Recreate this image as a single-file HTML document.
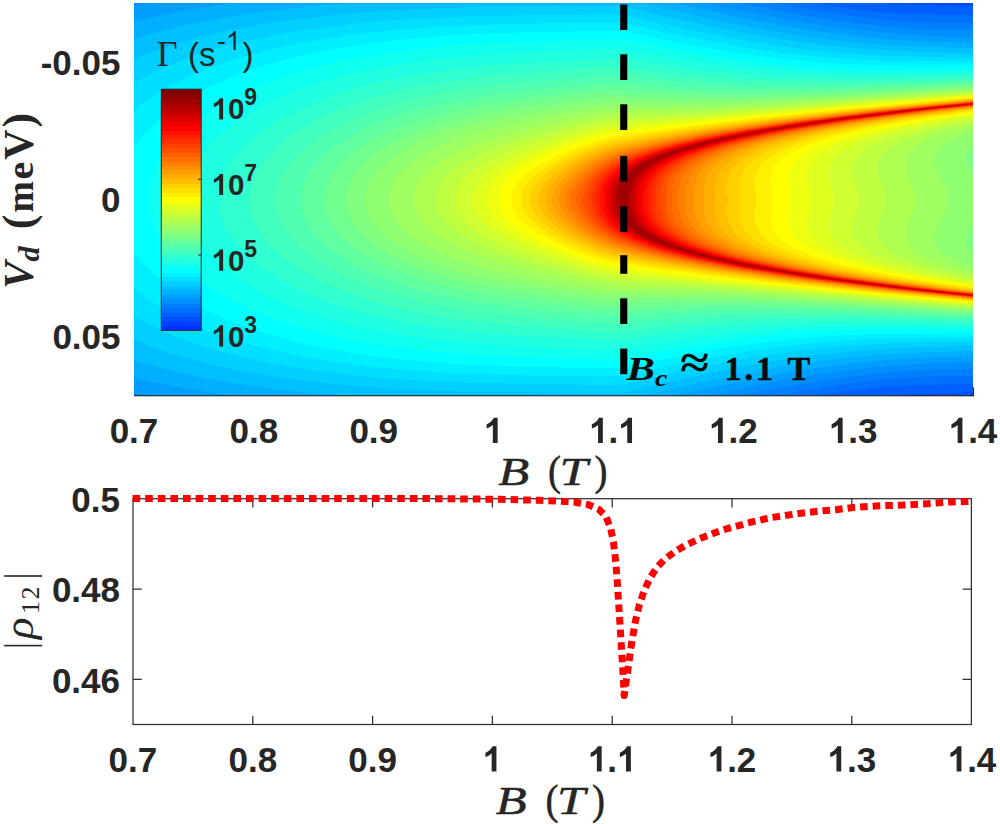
<!DOCTYPE html>
<html>
<head>
<meta charset="utf-8">
<title>Relaxation rate vs B and Vd</title>
<style>
html,body{margin:0;padding:0;background:#fff;}
body{width:1000px;height:824px;position:relative;overflow:hidden;font-family:"Liberation Sans",sans-serif;}
#hm{position:absolute;left:134px;top:2.7px;width:839.3px;height:392.9px;display:flex;overflow:hidden;}
#hm i{display:block;flex:0 0 2px;height:100%;}
svg{position:absolute;left:0;top:0;}
.t{font-family:"Liberation Sans",sans-serif;font-weight:bold;font-size:35px;fill:#262626;}
.cb{font-family:"Liberation Sans",sans-serif;font-weight:bold;font-size:29.5px;fill:#262626;}
.cbs{font-family:"Liberation Sans",sans-serif;font-weight:bold;font-size:23px;fill:#262626;}
.g{font-family:"Liberation Sans",sans-serif;font-size:33px;fill:#262626;}
.ser{font-family:"Liberation Serif",serif;fill:#262626;}
</style>
</head>
<body>
<div id="hm">
<i style="background:linear-gradient(#008fff 0 0.8%,#009fff 0.9% 4.6%,#00afff 4.6% 9.1%,#00bfff 9.1% 14.3%,#00cfff 14.3% 20.2%,#00dfff 20.2% 27.2%,#00efff 27.3% 36.5%,#00ffff 36.5% 63.5%,#00efff 63.5% 72.8%,#00dfff 72.8% 79.8%,#00cfff 79.8% 85.7%,#00bfff 85.8% 90.9%,#00afff 90.9% 95.4%,#009fff 95.5% 99.1%,#008fff 99.2% 100%)"></i>
<i style="background:linear-gradient(#008fff 0 0.7%,#009fff 0.8% 4.4%,#00afff 4.5% 8.9%,#00bfff 9% 14%,#00cfff 14.1% 19.9%,#00dfff 20% 26.8%,#00efff 26.9% 35.8%,#00ffff 35.8% 64.2%,#00efff 64.3% 73.2%,#00dfff 73.2% 80.1%,#00cfff 80.1% 85.9%,#00bfff 86% 91%,#00afff 91.1% 95.5%,#009fff 95.6% 99.2%,#008fff 99.3% 100%)"></i>
<i style="background:linear-gradient(#008fff 0 0.7%,#009fff 0.7% 4.3%,#00afff 4.4% 8.8%,#00bfff 8.8% 13.8%,#00cfff 13.8% 19.6%,#00dfff 19.7% 26.4%,#00efff 26.5% 35.1%,#00ffff 35.2% 64.8%,#00efff 64.9% 73.6%,#00dfff 73.6% 80.3%,#00cfff 80.4% 86.2%,#00bfff 86.2% 91.2%,#00afff 91.3% 95.7%,#009fff 95.7% 99.3%,#008fff 99.4% 100%)"></i>
<i style="background:linear-gradient(#008fff 0 0.6%,#009fff 0.6% 4.2%,#00afff 4.2% 8.6%,#00bfff 8.7% 13.6%,#00cfff 13.6% 19.3%,#00dfff 19.4% 26%,#00efff 26.1% 34.5%,#00ffff 34.6% 65.5%,#00efff 65.5% 73.9%,#00dfff 74% 80.7%,#00cfff 80.7% 86.4%,#00bfff 86.4% 91.4%,#00afff 91.4% 95.8%,#009fff 95.8% 99.4%,#008fff 99.5% 100%)"></i>
<i style="background:linear-gradient(#008fff 0 0.5%,#009fff 0.5% 4.1%,#00afff 4.1% 8.5%,#00bfff 8.5% 13.4%,#00cfff 13.4% 19%,#00dfff 19.1% 25.7%,#00efff 25.7% 33.9%,#00ffff 34% 66%,#00efff 66.1% 74.3%,#00dfff 74.4% 80.9%,#00cfff 81% 86.6%,#00bfff 86.6% 91.5%,#00afff 91.6% 95.9%,#009fff 95.9% 99.5%,#008fff 99.6% 100%)"></i>
<i style="background:linear-gradient(#008fff 0 0.4%,#009fff 0.4% 4%,#00afff 4% 8.3%,#00bfff 8.4% 13.2%,#00cfff 13.2% 18.8%,#00dfff 18.8% 25.3%,#00efff 25.3% 33.4%,#00ffff 33.4% 66.6%,#00efff 66.7% 74.7%,#00dfff 74.7% 81.2%,#00cfff 81.3% 86.8%,#00bfff 86.8% 91.7%,#00afff 91.8% 96%,#009fff 96.1% 99.6%,#008fff 99.6% 100%)"></i>
<i style="background:linear-gradient(#008fff 0 0.3%,#009fff 0.3% 3.8%,#00afff 3.9% 8.1%,#00bfff 8.2% 13%,#00cfff 13% 18.5%,#00dfff 18.6% 24.9%,#00efff 24.9% 32.8%,#00ffff 32.8% 67.2%,#00efff 67.2% 75.1%,#00dfff 75.1% 81.5%,#00cfff 81.5% 87%,#00bfff 87% 91.9%,#00afff 91.9% 96.1%,#009fff 96.2% 99.7%,#008fff 99.7% 100%)"></i>
<i style="background:linear-gradient(#008fff 0 0.2%,#009fff 0.3% 3.7%,#00afff 3.8% 8%,#00bfff 8% 12.8%,#00cfff 12.8% 18.3%,#00dfff 18.3% 24.5%,#00efff 24.6% 32.3%,#00ffff 32.3% 67.7%,#00efff 67.8% 75.4%,#00dfff 75.5% 81.7%,#00cfff 81.8% 87.2%,#00bfff 87.2% 92%,#00afff 92.1% 96.2%,#009fff 96.3% 99.8%,#008fff 99.8% 100%)"></i>
<i style="background:linear-gradient(#008fff 0 0.1%,#009fff 0.2% 3.6%,#00afff 3.7% 7.8%,#00bfff 7.9% 12.6%,#00cfff 12.7% 18%,#00dfff 18% 24.2%,#00efff 24.3% 31.8%,#00ffff 31.8% 46.6%,#10ffef 46.6% 53.4%,#00ffff 53.4% 68.2%,#00efff 68.3% 75.8%,#00dfff 75.8% 82%,#00cfff 82% 87.4%,#00bfff 87.4% 92.2%,#00afff 92.2% 96.4%,#009fff 96.4% 99.9%,#008fff 99.9% 100%)"></i>
<i style="background:linear-gradient(#008fff 0,#009fff 0.1% 3.5%,#00afff 3.6% 7.7%,#00bfff 7.7% 12.4%,#00cfff 12.5% 17.8%,#00dfff 17.8% 23.9%,#00efff 23.9% 31.3%,#00ffff 31.3% 44.6%,#10ffef 44.7% 55.3%,#00ffff 55.4% 68.7%,#00efff 68.8% 76.1%,#00dfff 76.2% 82.2%,#00cfff 82.3% 87.6%,#00bfff 87.6% 92.3%,#00afff 92.3% 96.5%,#009fff 96.5% 99.9%,#008fff 100%)"></i>
<i style="background:linear-gradient(#009fff 0 3.4%,#00afff 3.5% 7.5%,#00bfff 7.6% 12.2%,#00cfff 12.3% 17.5%,#00dfff 17.6% 23.5%,#00efff 23.6% 30.8%,#00ffff 30.8% 43.2%,#10ffef 43.2% 56.8%,#00ffff 56.8% 69.2%,#00efff 69.2% 76.4%,#00dfff 76.5% 82.5%,#00cfff 82.5% 87.7%,#00bfff 87.8% 92.4%,#00afff 92.5% 96.6%,#009fff 96.6% 100%)"></i>
<i style="background:linear-gradient(#009fff 0 3.3%,#00afff 3.4% 7.4%,#00bfff 7.4% 12.1%,#00cfff 12.1% 17.3%,#00dfff 17.3% 23.2%,#00efff 23.3% 30.3%,#00ffff 30.3% 42%,#10ffef 42.1% 57.9%,#00ffff 58% 69.7%,#00efff 69.7% 76.8%,#00dfff 76.8% 82.7%,#00cfff 82.8% 87.9%,#00bfff 88% 92.6%,#00afff 92.6% 96.7%,#009fff 96.7% 100%)"></i>
<i style="background:linear-gradient(#009fff 0 3.2%,#00afff 3.2% 7.3%,#00bfff 7.3% 11.9%,#00cfff 11.9% 17%,#00dfff 17.1% 22.9%,#00efff 23% 29.8%,#00ffff 29.9% 41%,#10ffef 41% 59%,#00ffff 59% 70.1%,#00efff 70.2% 77.1%,#00dfff 77.1% 82.9%,#00cfff 83% 88.1%,#00bfff 88.2% 92.7%,#00afff 92.8% 96.8%,#009fff 96.8% 100%)"></i>
<i style="background:linear-gradient(#009fff 0 3.1%,#00afff 3.1% 7.1%,#00bfff 7.2% 11.7%,#00cfff 11.8% 16.8%,#00dfff 16.9% 22.6%,#00efff 22.7% 29.4%,#00ffff 29.5% 40.1%,#10ffef 40.1% 59.9%,#00ffff 59.9% 70.6%,#00efff 70.6% 77.4%,#00dfff 77.4% 83.2%,#00cfff 83.2% 88.3%,#00bfff 88.3% 92.8%,#00afff 92.9% 96.9%,#009fff 96.9% 100%)"></i>
<i style="background:linear-gradient(#009fff 0 3%,#00afff 3% 7%,#00bfff 7% 11.5%,#00cfff 11.6% 16.5%,#00dfff 16.6% 22.3%,#00efff 22.4% 29%,#00ffff 29% 39.3%,#10ffef 39.3% 60.7%,#00ffff 60.8% 71%,#00efff 71% 77.7%,#00dfff 77.7% 83.4%,#00cfff 83.5% 88.4%,#00bfff 88.5% 93%,#00afff 93% 97%,#009fff 97% 100%)"></i>
<i style="background:linear-gradient(#009fff 0 2.9%,#00afff 2.9% 6.9%,#00bfff 6.9% 11.4%,#00cfff 11.4% 16.3%,#00dfff 16.4% 22%,#00efff 22% 28.6%,#00ffff 28.6% 38.5%,#10ffef 38.5% 61.5%,#00ffff 61.6% 71.4%,#00efff 71.4% 78%,#00dfff 78.1% 83.7%,#00cfff 83.7% 88.6%,#00bfff 88.7% 93.1%,#00afff 93.2% 97.1%,#009fff 97.1% 100%)"></i>
<i style="background:linear-gradient(#009fff 0 2.7%,#00afff 2.8% 6.7%,#00bfff 6.8% 11.2%,#00cfff 11.2% 16.1%,#00dfff 16.1% 21.7%,#00efff 21.7% 28.2%,#00ffff 28.2% 37.7%,#10ffef 37.8% 62.2%,#00ffff 62.3% 71.8%,#00efff 71.8% 78.3%,#00dfff 78.4% 83.9%,#00cfff 83.9% 88.8%,#00bfff 88.8% 93.2%,#00afff 93.3% 97.2%,#009fff 97.3% 100%)"></i>
<i style="background:linear-gradient(#009fff 0 2.6%,#00afff 2.7% 6.6%,#00bfff 6.7% 11%,#00cfff 11% 15.9%,#00dfff 15.9% 21.4%,#00efff 21.4% 27.7%,#00ffff 27.8% 37.1%,#10ffef 37.1% 62.9%,#00ffff 62.9% 72.2%,#00efff 72.3% 78.6%,#00dfff 78.6% 84.1%,#00cfff 84.1% 89%,#00bfff 89% 93.4%,#00afff 93.4% 97.3%,#009fff 97.4% 100%)"></i>
<i style="background:linear-gradient(#009fff 0 2.6%,#00afff 2.6% 6.5%,#00bfff 6.5% 10.8%,#00cfff 10.9% 15.7%,#00dfff 15.7% 21.1%,#00efff 21.2% 27.4%,#00ffff 27.4% 36.4%,#10ffef 36.5% 63.5%,#00ffff 63.6% 72.6%,#00efff 72.7% 78.9%,#00dfff 78.9% 84.3%,#00cfff 84.4% 89.2%,#00bfff 89.2% 93.5%,#00afff 93.5% 97.4%,#009fff 97.5% 100%)"></i>
<i style="background:linear-gradient(#009fff 0 2.5%,#00afff 2.5% 6.4%,#00bfff 6.4% 10.7%,#00cfff 10.7% 15.5%,#00dfff 15.5% 20.8%,#00efff 20.9% 27%,#00ffff 27.1% 35.8%,#10ffef 35.8% 64.2%,#00ffff 64.2% 73%,#00efff 73% 79.1%,#00dfff 79.2% 84.5%,#00cfff 84.6% 89.3%,#00bfff 89.4% 93.6%,#00afff 93.7% 97.5%,#009fff 97.6% 100%)"></i>
<i style="background:linear-gradient(#009fff 0 2.4%,#00afff 2.4% 6.2%,#00bfff 6.3% 10.5%,#00cfff 10.6% 15.3%,#00dfff 15.3% 20.6%,#00efff 20.6% 26.6%,#00ffff 26.7% 35.2%,#10ffef 35.3% 64.8%,#00ffff 64.8% 73.3%,#00efff 73.4% 79.4%,#00dfff 79.4% 84.7%,#00cfff 84.8% 89.5%,#00bfff 89.5% 93.7%,#00afff 93.8% 97.6%,#009fff 97.7% 100%)"></i>
<i style="background:linear-gradient(#009fff 0 2.3%,#00afff 2.3% 6.1%,#00bfff 6.2% 10.3%,#00cfff 10.4% 15.1%,#00dfff 15.1% 20.3%,#00efff 20.4% 26.3%,#00ffff 26.3% 34.7%,#10ffef 34.7% 65.3%,#00ffff 65.4% 73.7%,#00efff 73.7% 79.7%,#00dfff 79.7% 84.9%,#00cfff 85% 89.6%,#00bfff 89.7% 93.9%,#00afff 93.9% 97.7%,#009fff 97.8% 100%)"></i>
<i style="background:linear-gradient(#009fff 0 2.2%,#00afff 2.2% 6%,#00bfff 6.1% 10.2%,#00cfff 10.2% 14.9%,#00dfff 14.9% 20.1%,#00efff 20.1% 25.9%,#00ffff 26% 34.1%,#10ffef 34.2% 65.8%,#00ffff 65.9% 74%,#00efff 74.1% 79.9%,#00dfff 80% 85.1%,#00cfff 85.2% 89.8%,#00bfff 89.8% 94%,#00afff 94% 97.8%,#009fff 97.8% 100%)"></i>
<i style="background:linear-gradient(#009fff 0 2.1%,#00afff 2.1% 5.9%,#00bfff 5.9% 10%,#00cfff 10.1% 14.7%,#00dfff 14.7% 19.8%,#00efff 19.9% 25.6%,#00ffff 25.7% 33.6%,#10ffef 33.7% 66.4%,#00ffff 66.4% 74.4%,#00efff 74.4% 80.2%,#00dfff 80.2% 85.3%,#00cfff 85.4% 89.9%,#00bfff 90% 94.1%,#00afff 94.1% 97.9%,#009fff 97.9% 100%)"></i>
<i style="background:linear-gradient(#009fff 0 2%,#00afff 2% 5.8%,#00bfff 5.8% 9.9%,#00cfff 9.9% 14.5%,#00dfff 14.5% 19.6%,#00efff 19.6% 25.3%,#00ffff 25.3% 33.1%,#10ffef 33.1% 66.9%,#00ffff 67% 74.7%,#00efff 74.7% 80.4%,#00dfff 80.5% 85.5%,#00cfff 85.5% 90.1%,#00bfff 90.1% 94.2%,#00afff 94.2% 98%,#009fff 98% 100%)"></i>
<i style="background:linear-gradient(#009fff 0 1.9%,#00afff 2% 5.7%,#00bfff 5.7% 9.8%,#00cfff 9.8% 14.3%,#00dfff 14.3% 19.3%,#00efff 19.3% 24.9%,#00ffff 25% 32.6%,#10ffef 32.6% 67.4%,#00ffff 67.4% 75.1%,#00efff 75.1% 80.7%,#00dfff 80.8% 85.7%,#00cfff 85.7% 90.2%,#00bfff 90.3% 94.3%,#00afff 94.4% 98.1%,#009fff 98.1% 100%)"></i>
<i style="background:linear-gradient(#009fff 0 1.8%,#00afff 1.9% 5.5%,#00bfff 5.6% 9.6%,#00cfff 9.7% 14.1%,#00dfff 14.2% 19%,#00efff 19.1% 24.6%,#00ffff 24.7% 32.1%,#10ffef 32.2% 47%,#20ffdf 47.1% 52.9%,#10ffef 53% 67.8%,#00ffff 67.9% 75.4%,#00efff 75.4% 80.9%,#00dfff 81% 85.9%,#00cfff 85.9% 90.4%,#00bfff 90.4% 94.5%,#00afff 94.5% 98.2%,#009fff 98.2% 100%)"></i>
<i style="background:linear-gradient(#009fff 0 1.7%,#00afff 1.8% 5.4%,#00bfff 5.4% 9.5%,#00cfff 9.5% 13.9%,#00dfff 14% 18.8%,#00efff 18.8% 24.3%,#00ffff 24.3% 31.7%,#10ffef 31.7% 45.1%,#20ffdf 45.1% 54.9%,#10ffef 55% 68.3%,#00ffff 68.3% 75.7%,#00efff 75.7% 81.2%,#00dfff 81.2% 86%,#00cfff 86.1% 90.5%,#00bfff 90.6% 94.6%,#00afff 94.6% 98.2%,#009fff 98.3% 100%)"></i>
<i style="background:linear-gradient(#009fff 0 1.7%,#00afff 1.7% 5.3%,#00bfff 5.3% 9.3%,#00cfff 9.4% 13.7%,#00dfff 13.8% 18.6%,#00efff 18.6% 24%,#00ffff 24% 31.2%,#10ffef 31.3% 43.6%,#20ffdf 43.7% 56.3%,#10ffef 56.4% 68.7%,#00ffff 68.8% 76%,#00efff 76% 81.4%,#00dfff 81.5% 86.3%,#00cfff 86.3% 90.6%,#00bfff 90.7% 94.7%,#00afff 94.7% 98.3%,#009fff 98.4% 100%)"></i>
<i style="background:linear-gradient(#009fff 0 1.6%,#00afff 1.6% 5.2%,#00bfff 5.2% 9.2%,#00cfff 9.2% 13.5%,#00dfff 13.6% 18.3%,#00efff 18.4% 23.7%,#00ffff 23.7% 30.8%,#10ffef 30.9% 42.5%,#20ffdf 42.6% 57.5%,#10ffef 57.5% 69.2%,#00ffff 69.2% 76.3%,#00efff 76.3% 81.6%,#00dfff 81.7% 86.4%,#00cfff 86.5% 90.8%,#00bfff 90.8% 94.8%,#00afff 94.8% 98.4%,#009fff 98.5% 100%)"></i>
<i style="background:linear-gradient(#009fff 0 1.5%,#00afff 1.5% 5.1%,#00bfff 5.1% 9.1%,#00cfff 9.1% 13.4%,#00dfff 13.4% 18.1%,#00efff 18.2% 23.4%,#00ffff 23.5% 30.4%,#10ffef 30.4% 41.5%,#20ffdf 41.5% 58.5%,#10ffef 58.5% 69.6%,#00ffff 69.7% 76.6%,#00efff 76.6% 81.9%,#00dfff 81.9% 86.6%,#00cfff 86.7% 90.9%,#00bfff 91% 94.9%,#00afff 95% 98.5%,#009fff 98.5% 100%)"></i>
<i style="background:linear-gradient(#009fff 0 1.4%,#00afff 1.5% 5%,#00bfff 5% 8.9%,#00cfff 9% 13.2%,#00dfff 13.2% 17.9%,#00efff 18% 23.1%,#00ffff 23.2% 30%,#10ffef 30% 40.6%,#20ffdf 40.7% 59.3%,#10ffef 59.4% 70%,#00ffff 70.1% 76.8%,#00efff 76.9% 82.1%,#00dfff 82.1% 86.8%,#00cfff 86.8% 91.1%,#00bfff 91.1% 95%,#00afff 95.1% 98.6%,#009fff 98.6% 100%)"></i>
<i style="background:linear-gradient(#009fff 0 1.3%,#00afff 1.4% 4.9%,#00bfff 4.9% 8.8%,#00cfff 8.8% 13%,#00dfff 13.1% 17.7%,#00efff 17.7% 22.9%,#00ffff 22.9% 29.6%,#10ffef 29.6% 39.8%,#20ffdf 39.9% 60.1%,#10ffef 60.2% 70.4%,#00ffff 70.4% 77.1%,#00efff 77.2% 82.3%,#00dfff 82.3% 87%,#00cfff 87% 91.2%,#00bfff 91.2% 95.1%,#00afff 95.2% 98.6%,#009fff 98.7% 100%)"></i>
<i style="background:linear-gradient(#009fff 0 1.3%,#00afff 1.3% 4.8%,#00bfff 4.8% 8.7%,#00cfff 8.7% 12.9%,#00dfff 12.9% 17.5%,#00efff 17.5% 22.6%,#00ffff 22.6% 29.2%,#10ffef 29.2% 39.1%,#20ffdf 39.2% 60.9%,#10ffef 60.9% 70.8%,#00ffff 70.8% 77.4%,#00efff 77.4% 82.5%,#00dfff 82.5% 87.1%,#00cfff 87.2% 91.3%,#00bfff 91.4% 95.2%,#00afff 95.3% 98.7%,#009fff 98.8% 100%)"></i>
<i style="background:linear-gradient(#009fff 0 1.2%,#00afff 1.2% 4.7%,#00bfff 4.7% 8.5%,#00cfff 8.6% 12.7%,#00dfff 12.7% 17.3%,#00efff 17.3% 22.3%,#00ffff 22.4% 28.8%,#10ffef 28.9% 38.4%,#20ffdf 38.4% 61.6%,#10ffef 61.6% 71.1%,#00ffff 71.2% 77.7%,#00efff 77.7% 82.7%,#00dfff 82.8% 87.3%,#00cfff 87.3% 91.4%,#00bfff 91.5% 95.3%,#00afff 95.4% 98.8%,#009fff 98.9% 100%)"></i>
<i style="background:linear-gradient(#009fff 0 1.1%,#00afff 1.1% 4.6%,#00bfff 4.6% 8.4%,#00cfff 8.5% 12.5%,#00dfff 12.6% 17.1%,#00efff 17.1% 22%,#00ffff 22.1% 28.5%,#10ffef 28.5% 37.8%,#20ffdf 37.8% 62.2%,#10ffef 62.3% 71.5%,#00ffff 71.6% 78%,#00efff 78% 82.9%,#00dfff 83% 87.4%,#00cfff 87.5% 91.6%,#00bfff 91.6% 95.4%,#00afff 95.5% 98.9%,#009fff 98.9% 100%)"></i>
<i style="background:linear-gradient(#009fff 0 1%,#00afff 1.1% 4.5%,#00bfff 4.5% 8.2%,#00cfff 8.3% 12.4%,#00dfff 12.4% 16.9%,#00efff 16.9% 21.7%,#00ffff 21.8% 28.1%,#10ffef 28.2% 37.1%,#20ffdf 37.2% 62.8%,#10ffef 62.9% 71.9%,#00ffff 71.9% 78.2%,#00efff 78.3% 83.1%,#00dfff 83.2% 87.6%,#00cfff 87.7% 91.7%,#00bfff 91.8% 95.5%,#00afff 95.6% 99%,#009fff 99% 100%)"></i>
<i style="background:linear-gradient(#009fff 0 0.9%,#00afff 1% 4.4%,#00bfff 4.4% 8.1%,#00cfff 8.2% 12.2%,#00dfff 12.3% 16.6%,#00efff 16.7% 21.5%,#00ffff 21.5% 27.7%,#10ffef 27.8% 36.6%,#20ffdf 36.6% 63.4%,#10ffef 63.5% 72.2%,#00ffff 72.3% 78.5%,#00efff 78.5% 83.4%,#00dfff 83.4% 87.8%,#00cfff 87.8% 91.9%,#00bfff 91.9% 95.6%,#00afff 95.6% 99%,#009fff 99.1% 100%)"></i>
<i style="background:linear-gradient(#009fff 0 0.9%,#00afff 0.9% 4.3%,#00bfff 4.3% 8%,#00cfff 8% 12.1%,#00dfff 12.1% 16.4%,#00efff 16.5% 21.2%,#00ffff 21.3% 27.4%,#10ffef 27.4% 36%,#20ffdf 36% 64%,#10ffef 64.1% 72.6%,#00ffff 72.6% 78.7%,#00efff 78.8% 83.5%,#00dfff 83.6% 87.9%,#00cfff 88% 92%,#00bfff 92% 95.7%,#00afff 95.7% 99.1%,#009fff 99.2% 100%)"></i>
<i style="background:linear-gradient(#009fff 0 0.8%,#00afff 0.8% 4.2%,#00bfff 4.2% 7.9%,#00cfff 7.9% 11.9%,#00dfff 12% 16.2%,#00efff 16.3% 21%,#00ffff 21.1% 27.1%,#10ffef 27.1% 35.4%,#20ffdf 35.5% 64.5%,#10ffef 64.6% 72.9%,#00ffff 73% 79%,#00efff 79% 83.7%,#00dfff 83.8% 88.1%,#00cfff 88.1% 92.1%,#00bfff 92.1% 95.8%,#00afff 95.8% 99.2%,#009fff 99.2% 100%)"></i>
<i style="background:linear-gradient(#009fff 0 0.7%,#00afff 0.8% 4.1%,#00bfff 4.1% 7.8%,#00cfff 7.8% 11.8%,#00dfff 11.8% 16.1%,#00efff 16.1% 20.8%,#00ffff 20.8% 26.7%,#10ffef 26.8% 34.9%,#20ffdf 35% 65%,#10ffef 65.1% 73.2%,#00ffff 73.3% 79.2%,#00efff 79.3% 83.9%,#00dfff 84% 88.2%,#00cfff 88.3% 92.2%,#00bfff 92.3% 95.9%,#00afff 95.9% 99.2%,#009fff 99.3% 100%)"></i>
<i style="background:linear-gradient(#009fff 0 0.7%,#00afff 0.7% 4%,#00bfff 4.1% 7.6%,#00cfff 7.7% 11.6%,#00dfff 11.7% 15.9%,#00efff 15.9% 20.5%,#00ffff 20.6% 26.4%,#10ffef 26.5% 34.5%,#20ffdf 34.5% 65.5%,#10ffef 65.6% 73.5%,#00ffff 73.6% 79.4%,#00efff 79.5% 84.1%,#00dfff 84.2% 88.4%,#00cfff 88.4% 92.3%,#00bfff 92.4% 96%,#00afff 96% 99.3%,#009fff 99.4% 100%)"></i>
<i style="background:linear-gradient(#009fff 0 0.6%,#00afff 0.6% 3.9%,#00bfff 4% 7.5%,#00cfff 7.6% 11.5%,#00dfff 11.5% 15.7%,#00efff 15.7% 20.3%,#00ffff 20.4% 26.1%,#10ffef 26.2% 34%,#20ffdf 34% 66%,#10ffef 66% 73.8%,#00ffff 73.9% 79.7%,#00efff 79.7% 84.3%,#00dfff 84.3% 88.5%,#00cfff 88.5% 92.4%,#00bfff 92.5% 96.1%,#00afff 96.1% 99.4%,#009fff 99.4% 100%)"></i>
<i style="background:linear-gradient(#009fff 0 0.5%,#00afff 0.6% 3.8%,#00bfff 3.9% 7.4%,#00cfff 7.5% 11.3%,#00dfff 11.4% 15.5%,#00efff 15.6% 20.1%,#00ffff 20.1% 25.8%,#10ffef 25.9% 33.5%,#20ffdf 33.6% 46.5%,#30ffcf 46.5% 53.5%,#20ffdf 53.5% 66.4%,#10ffef 66.5% 74.1%,#00ffff 74.2% 79.9%,#00efff 79.9% 84.5%,#00dfff 84.5% 88.6%,#00cfff 88.7% 92.6%,#00bfff 92.6% 96.1%,#00afff 96.2% 99.5%,#009fff 99.5% 100%)"></i>
<i style="background:linear-gradient(#009fff 0 0.4%,#00afff 0.5% 3.7%,#00bfff 3.8% 7.3%,#00cfff 7.4% 11.2%,#00dfff 11.3% 15.3%,#00efff 15.4% 19.9%,#00ffff 19.9% 25.5%,#10ffef 25.6% 33%,#20ffdf 33.1% 44.8%,#30ffcf 44.9% 55.1%,#20ffdf 55.2% 66.9%,#10ffef 67% 74.4%,#00ffff 74.5% 80.1%,#00efff 80.2% 84.6%,#00dfff 84.7% 88.8%,#00cfff 88.8% 92.7%,#00bfff 92.7% 96.2%,#00afff 96.3% 99.5%,#009fff 99.6% 100%)"></i>
<i style="background:linear-gradient(#009fff 0 0.4%,#00afff 0.4% 3.7%,#00bfff 3.7% 7.2%,#00cfff 7.3% 11%,#00dfff 11.1% 15.2%,#00efff 15.2% 19.6%,#00ffff 19.7% 25.3%,#10ffef 25.3% 32.6%,#20ffdf 32.7% 43.6%,#30ffcf 43.6% 56.4%,#20ffdf 56.5% 67.4%,#10ffef 67.4% 74.7%,#00ffff 74.8% 80.3%,#00efff 80.4% 84.8%,#00dfff 84.9% 89%,#00cfff 89% 92.8%,#00bfff 92.8% 96.3%,#00afff 96.4% 99.6%,#009fff 99.6% 100%)"></i>
<i style="background:linear-gradient(#009fff 0 0.3%,#00afff 0.4% 3.6%,#00bfff 3.6% 7.1%,#00cfff 7.1% 10.9%,#00dfff 10.9% 15%,#00efff 15% 19.4%,#00ffff 19.5% 24.9%,#10ffef 25% 32.2%,#20ffdf 32.3% 42.6%,#30ffcf 42.6% 57.4%,#20ffdf 57.5% 67.8%,#10ffef 67.8% 75.1%,#00ffff 75.1% 80.5%,#00efff 80.6% 85%,#00dfff 85% 89.1%,#00cfff 89.1% 92.9%,#00bfff 92.9% 96.4%,#00afff 96.5% 99.7%,#009fff 99.7% 100%)"></i>
<i style="background:linear-gradient(#009fff 0 0.2%,#00afff 0.3% 3.5%,#00bfff 3.5% 7%,#00cfff 7% 10.7%,#00dfff 10.8% 14.8%,#00efff 14.9% 19.2%,#00ffff 19.2% 24.6%,#10ffef 24.7% 31.8%,#20ffdf 31.9% 41.6%,#30ffcf 41.7% 58.4%,#20ffdf 58.4% 68.2%,#10ffef 68.2% 75.3%,#00ffff 75.4% 80.8%,#00efff 80.9% 85.1%,#00dfff 85.2% 89.2%,#00cfff 89.3% 93%,#00bfff 93% 96.5%,#00afff 96.5% 99.7%,#009fff 99.8% 100%)"></i>
<i style="background:linear-gradient(#009fff 0 0.2%,#00afff 0.2% 3.4%,#00bfff 3.5% 6.9%,#00cfff 6.9% 10.6%,#00dfff 10.7% 14.7%,#00efff 14.7% 19%,#00ffff 19% 24.4%,#10ffef 24.4% 31.4%,#20ffdf 31.5% 40.8%,#30ffcf 40.9% 59.2%,#20ffdf 59.2% 68.6%,#10ffef 68.6% 75.6%,#00ffff 75.7% 81%,#00efff 81.1% 85.3%,#00dfff 85.4% 89.4%,#00cfff 89.4% 93.1%,#00bfff 93.1% 96.6%,#00afff 96.6% 99.8%,#009fff 99.8% 100%)"></i>
<i style="background:linear-gradient(#009fff 0 0.1%,#00afff 0.2% 3.3%,#00bfff 3.4% 6.8%,#00cfff 6.8% 10.5%,#00dfff 10.5% 14.5%,#00efff 14.6% 18.8%,#00ffff 18.8% 24.1%,#10ffef 24.2% 31%,#20ffdf 31.1% 40.1%,#30ffcf 40.1% 59.9%,#20ffdf 59.9% 68.9%,#10ffef 69% 75.9%,#00ffff 75.9% 81.2%,#00efff 81.3% 85.5%,#00dfff 85.5% 89.5%,#00cfff 89.5% 93.2%,#00bfff 93.2% 96.6%,#00afff 96.7% 99.9%,#009fff 99.9% 100%)"></i>
<i style="background:linear-gradient(#009fff 0 0.1%,#00afff 0.1% 3.2%,#00bfff 3.3% 6.7%,#00cfff 6.7% 10.4%,#00dfff 10.4% 14.3%,#00efff 14.4% 18.6%,#00ffff 18.6% 23.9%,#10ffef 23.9% 30.7%,#20ffdf 30.7% 39.4%,#30ffcf 39.5% 60.6%,#20ffdf 60.6% 69.3%,#10ffef 69.3% 76.1%,#00ffff 76.2% 81.4%,#00efff 81.5% 85.6%,#00dfff 85.7% 89.6%,#00cfff 89.7% 93.3%,#00bfff 93.3% 96.7%,#00afff 96.8% 99.9%,#009fff 100%)"></i>
<i style="background:linear-gradient(#00afff 0 3.2%,#00bfff 3.2% 6.6%,#00cfff 6.6% 10.2%,#00dfff 10.3% 14.2%,#00efff 14.2% 18.4%,#00ffff 18.4% 23.6%,#10ffef 23.6% 30.3%,#20ffdf 30.3% 38.7%,#30ffcf 38.8% 61.2%,#20ffdf 61.3% 69.7%,#10ffef 69.8% 76.4%,#00ffff 76.4% 81.6%,#00efff 81.7% 85.8%,#00dfff 85.8% 89.7%,#00cfff 89.8% 93.4%,#00bfff 93.4% 96.8%,#00afff 96.9% 100%)"></i>
<i style="background:linear-gradient(#00afff 0 3.1%,#00bfff 3.1% 6.5%,#00cfff 6.5% 10.1%,#00dfff 10.2% 14%,#00efff 14.1% 18.2%,#00ffff 18.2% 23.3%,#10ffef 23.4% 29.9%,#20ffdf 30% 38.1%,#30ffcf 38.2% 61.8%,#20ffdf 61.9% 70.1%,#10ffef 70.1% 76.6%,#00ffff 76.7% 81.8%,#00efff 81.8% 85.9%,#00dfff 86% 89.9%,#00cfff 89.9% 93.5%,#00bfff 93.5% 96.9%,#00afff 96.9% 100%)"></i>
<i style="background:linear-gradient(#00afff 0 3%,#00bfff 3.1% 6.4%,#00cfff 6.4% 10%,#00dfff 10% 13.8%,#00efff 13.9% 18%,#00ffff 18% 23.1%,#10ffef 23.2% 29.6%,#20ffdf 29.6% 37.6%,#30ffcf 37.6% 62.4%,#20ffdf 62.5% 70.4%,#10ffef 70.4% 76.9%,#00ffff 76.9% 82%,#00efff 82% 86.1%,#00dfff 86.2% 90%,#00cfff 90% 93.6%,#00bfff 93.6% 97%,#00afff 97% 100%)"></i>
<i style="background:linear-gradient(#00afff 0 2.9%,#00bfff 3% 6.3%,#00cfff 6.3% 9.9%,#00dfff 9.9% 13.7%,#00efff 13.7% 17.8%,#00ffff 17.9% 22.9%,#10ffef 22.9% 29.2%,#20ffdf 29.3% 37%,#30ffcf 37.1% 62.9%,#20ffdf 63% 70.7%,#10ffef 70.8% 77.1%,#00ffff 77.2% 82.2%,#00efff 82.2% 86.3%,#00dfff 86.3% 90.1%,#00cfff 90.2% 93.7%,#00bfff 93.7% 97%,#00afff 97.1% 100%)"></i>
<i style="background:linear-gradient(#00afff 0 2.9%,#00bfff 2.9% 6.2%,#00cfff 6.2% 9.8%,#00dfff 9.8% 13.5%,#00efff 13.6% 17.6%,#00ffff 17.7% 22.6%,#10ffef 22.7% 28.9%,#20ffdf 29% 36.5%,#30ffcf 36.6% 63.5%,#20ffdf 63.5% 71.1%,#10ffef 71.1% 77.3%,#00ffff 77.4% 82.4%,#00efff 82.4% 86.4%,#00dfff 86.5% 90.2%,#00cfff 90.3% 93.8%,#00bfff 93.8% 97.1%,#00afff 97.2% 100%)"></i>
<i style="background:linear-gradient(#00afff 0 2.7%,#00bfff 2.8% 6.1%,#00cfff 6.2% 9.6%,#00dfff 9.7% 13.4%,#00efff 13.4% 17.4%,#00ffff 17.5% 22.4%,#10ffef 22.4% 28.6%,#20ffdf 28.7% 36%,#30ffcf 36% 64%,#20ffdf 64% 71.4%,#10ffef 71.4% 77.6%,#00ffff 77.6% 82.5%,#00efff 82.6% 86.6%,#00dfff 86.6% 90.3%,#00cfff 90.4% 93.9%,#00bfff 93.9% 97.2%,#00afff 97.3% 100%)"></i>
<i style="background:linear-gradient(#00afff 0 2.7%,#00bfff 2.7% 6%,#00cfff 6.1% 9.5%,#00dfff 9.6% 13.2%,#00efff 13.3% 17.3%,#00ffff 17.3% 22.1%,#10ffef 22.2% 28.3%,#20ffdf 28.3% 35.5%,#30ffcf 35.6% 64.5%,#20ffdf 64.5% 71.7%,#10ffef 71.7% 77.9%,#00ffff 77.9% 82.7%,#00efff 82.8% 86.7%,#00dfff 86.8% 90.5%,#00cfff 90.5% 94%,#00bfff 94% 97.3%,#00afff 97.4% 100%)"></i>
<i style="background:linear-gradient(#00afff 0 2.6%,#00bfff 2.6% 5.9%,#00cfff 6% 9.4%,#00dfff 9.5% 13.1%,#00efff 13.2% 17.1%,#00ffff 17.1% 21.9%,#10ffef 21.9% 28%,#20ffdf 28% 35.1%,#30ffcf 35.1% 47.1%,#40ffbf 47.1% 52.9%,#30ffcf 52.9% 64.9%,#20ffdf 65% 72%,#10ffef 72% 78.1%,#00ffff 78.1% 82.9%,#00efff 82.9% 86.9%,#00dfff 86.9% 90.6%,#00cfff 90.6% 94.1%,#00bfff 94.1% 97.4%,#00afff 97.4% 100%)"></i>
<i style="background:linear-gradient(#00afff 0 2.5%,#00bfff 2.6% 5.8%,#00cfff 5.9% 9.3%,#00dfff 9.3% 13%,#00efff 13% 16.9%,#00ffff 17% 21.7%,#10ffef 21.7% 27.6%,#20ffdf 27.7% 34.6%,#30ffcf 34.7% 45.3%,#40ffbf 45.4% 54.6%,#30ffcf 54.7% 65.4%,#20ffdf 65.4% 72.3%,#10ffef 72.4% 78.3%,#00ffff 78.3% 83.1%,#00efff 83.1% 87%,#00dfff 87.1% 90.7%,#00cfff 90.7% 94.1%,#00bfff 94.2% 97.5%,#00afff 97.5% 100%)"></i>
<i style="background:linear-gradient(#00afff 0 2.5%,#00bfff 2.5% 5.7%,#00cfff 5.8% 9.2%,#00dfff 9.2% 12.8%,#00efff 12.9% 16.7%,#00ffff 16.8% 21.5%,#10ffef 21.5% 27.4%,#20ffdf 27.4% 34.2%,#30ffcf 34.2% 44.1%,#40ffbf 44.1% 55.9%,#30ffcf 56% 65.8%,#20ffdf 65.8% 72.6%,#10ffef 72.7% 78.5%,#00ffff 78.6% 83.2%,#00efff 83.3% 87.1%,#00dfff 87.2% 90.8%,#00cfff 90.8% 94.2%,#00bfff 94.3% 97.5%,#00afff 97.6% 100%)"></i>
<i style="background:linear-gradient(#00afff 0 2.4%,#00bfff 2.4% 5.7%,#00cfff 5.7% 9.1%,#00dfff 9.1% 12.7%,#00efff 12.7% 16.5%,#00ffff 16.6% 21.3%,#10ffef 21.3% 27.1%,#20ffdf 27.1% 33.8%,#30ffcf 33.8% 43%,#40ffbf 43.1% 56.9%,#30ffcf 57% 66.2%,#20ffdf 66.2% 72.9%,#10ffef 72.9% 78.7%,#00ffff 78.8% 83.4%,#00efff 83.5% 87.3%,#00dfff 87.3% 90.9%,#00cfff 90.9% 94.3%,#00bfff 94.4% 97.6%,#00afff 97.6% 100%)"></i>
<i style="background:linear-gradient(#00afff 0 2.3%,#00bfff 2.4% 5.5%,#00cfff 5.6% 9%,#00dfff 9% 12.6%,#00efff 12.6% 16.4%,#00ffff 16.4% 21%,#10ffef 21.1% 26.8%,#20ffdf 26.8% 33.4%,#30ffcf 33.4% 42.2%,#40ffbf 42.2% 57.8%,#30ffcf 57.9% 66.6%,#20ffdf 66.6% 73.2%,#10ffef 73.2% 78.9%,#00ffff 79% 83.6%,#00efff 83.7% 87.4%,#00dfff 87.5% 91%,#00cfff 91.1% 94.4%,#00bfff 94.5% 97.7%,#00afff 97.7% 100%)"></i>
<i style="background:linear-gradient(#00afff 0 2.2%,#00bfff 2.3% 5.4%,#00cfff 5.5% 8.9%,#00dfff 8.9% 12.4%,#00efff 12.5% 16.2%,#00ffff 16.3% 20.8%,#10ffef 20.9% 26.5%,#20ffdf 26.6% 33%,#30ffcf 33% 41.3%,#40ffbf 41.4% 58.6%,#30ffcf 58.7% 67%,#20ffdf 67.1% 73.4%,#10ffef 73.5% 79.1%,#00ffff 79.2% 83.8%,#00efff 83.8% 87.5%,#00dfff 87.6% 91.1%,#00cfff 91.2% 94.5%,#00bfff 94.6% 97.7%,#00afff 97.8% 100%)"></i>
<i style="background:linear-gradient(#00afff 0 2.2%,#00bfff 2.2% 5.4%,#00cfff 5.4% 8.8%,#00dfff 8.8% 12.3%,#00efff 12.4% 16.1%,#00ffff 16.1% 20.6%,#10ffef 20.7% 26.3%,#20ffdf 26.3% 32.6%,#30ffcf 32.6% 40.6%,#40ffbf 40.7% 59.3%,#30ffcf 59.4% 67.4%,#20ffdf 67.4% 73.7%,#10ffef 73.8% 79.3%,#00ffff 79.4% 83.9%,#00efff 84% 87.7%,#00dfff 87.7% 91.2%,#00cfff 91.3% 94.6%,#00bfff 94.7% 97.8%,#00afff 97.8% 100%)"></i>
<i style="background:linear-gradient(#00afff 0 2.1%,#00bfff 2.2% 5.3%,#00cfff 5.3% 8.7%,#00dfff 8.7% 12.2%,#00efff 12.2% 15.9%,#00ffff 15.9% 20.4%,#10ffef 20.5% 26%,#20ffdf 26.1% 32.2%,#30ffcf 32.3% 40%,#40ffbf 40% 60%,#30ffcf 60% 67.8%,#20ffdf 67.8% 74%,#10ffef 74% 79.5%,#00ffff 79.6% 84.1%,#00efff 84.1% 87.8%,#00dfff 87.8% 91.3%,#00cfff 91.4% 94.7%,#00bfff 94.7% 97.9%,#00afff 97.9% 100%)"></i>
<i style="background:linear-gradient(#00afff 0 2.1%,#00bfff 2.1% 5.2%,#00cfff 5.2% 8.6%,#00dfff 8.6% 12.1%,#00efff 12.1% 15.7%,#00ffff 15.8% 20.3%,#10ffef 20.3% 25.7%,#20ffdf 25.8% 31.9%,#30ffcf 31.9% 39.4%,#40ffbf 39.4% 60.6%,#30ffcf 60.7% 68.1%,#20ffdf 68.2% 74.2%,#10ffef 74.3% 79.7%,#00ffff 79.8% 84.2%,#00efff 84.3% 87.9%,#00dfff 88% 91.4%,#00cfff 91.5% 94.8%,#00bfff 94.8% 97.9%,#00afff 98% 100%)"></i>
<i style="background:linear-gradient(#00afff 0 2%,#00bfff 2% 5.1%,#00cfff 5.2% 8.5%,#00dfff 8.5% 11.9%,#00efff 12% 15.6%,#00ffff 15.6% 20.1%,#10ffef 20.1% 25.5%,#20ffdf 25.5% 31.5%,#30ffcf 31.6% 38.7%,#40ffbf 38.8% 61.2%,#30ffcf 61.3% 68.5%,#20ffdf 68.5% 74.5%,#10ffef 74.5% 79.9%,#00ffff 80% 84.4%,#00efff 84.4% 88%,#00dfff 88.1% 91.5%,#00cfff 91.6% 94.9%,#00bfff 94.9% 98%,#00afff 98% 100%)"></i>
<i style="background:linear-gradient(#00afff 0 1.9%,#00bfff 2% 5%,#00cfff 5.1% 8.4%,#00dfff 8.4% 11.8%,#00efff 11.9% 15.4%,#00ffff 15.5% 19.9%,#10ffef 19.9% 25.2%,#20ffdf 25.3% 31.2%,#30ffcf 31.2% 38.2%,#40ffbf 38.3% 61.8%,#30ffcf 61.8% 68.8%,#20ffdf 68.8% 74.7%,#10ffef 74.8% 80.1%,#00ffff 80.2% 84.5%,#00efff 84.6% 88.2%,#00dfff 88.2% 91.6%,#00cfff 91.7% 94.9%,#00bfff 95% 98%,#00afff 98.1% 100%)"></i>
<i style="background:linear-gradient(#00afff 0 1.9%,#00bfff 1.9% 5%,#00cfff 5% 8.2%,#00dfff 8.3% 11.7%,#00efff 11.7% 15.3%,#00ffff 15.3% 19.7%,#10ffef 19.7% 25%,#20ffdf 25.1% 30.9%,#30ffcf 30.9% 37.7%,#40ffbf 37.7% 62.3%,#30ffcf 62.3% 69.1%,#20ffdf 69.2% 75%,#10ffef 75.1% 80.3%,#00ffff 80.3% 84.7%,#00efff 84.7% 88.3%,#00dfff 88.3% 91.8%,#00cfff 91.8% 95%,#00bfff 95.1% 98.1%,#00afff 98.2% 100%)"></i>
<i style="background:linear-gradient(#00afff 0 1.8%,#00bfff 1.9% 4.9%,#00cfff 4.9% 8.1%,#00dfff 8.2% 11.6%,#00efff 11.6% 15.2%,#00ffff 15.2% 19.5%,#10ffef 19.6% 24.7%,#20ffdf 24.8% 30.5%,#30ffcf 30.5% 37.2%,#40ffbf 37.2% 62.8%,#30ffcf 62.8% 69.5%,#20ffdf 69.5% 75.3%,#10ffef 75.3% 80.5%,#00ffff 80.5% 84.8%,#00efff 84.9% 88.4%,#00dfff 88.4% 91.9%,#00cfff 91.9% 95.1%,#00bfff 95.1% 98.2%,#00afff 98.2% 100%)"></i>
<i style="background:linear-gradient(#00afff 0 1.7%,#00bfff 1.8% 4.8%,#00cfff 4.9% 8%,#00dfff 8.1% 11.5%,#00efff 11.5% 15%,#00ffff 15.1% 19.3%,#10ffef 19.3% 24.5%,#20ffdf 24.5% 30.2%,#30ffcf 30.2% 36.7%,#40ffbf 36.8% 48.6%,#50ffaf 48.7% 51.4%,#40ffbf 51.4% 63.2%,#30ffcf 63.3% 69.8%,#20ffdf 69.9% 75.5%,#10ffef 75.5% 80.7%,#00ffff 80.7% 85%,#00efff 85% 88.5%,#00dfff 88.6% 91.9%,#00cfff 92% 95.2%,#00bfff 95.2% 98.2%,#00afff 98.3% 100%)"></i>
<i style="background:linear-gradient(#00afff 0 1.7%,#00bfff 1.7% 4.7%,#00cfff 4.8% 7.9%,#00dfff 8% 11.4%,#00efff 11.4% 14.9%,#00ffff 14.9% 19.1%,#10ffef 19.2% 24.3%,#20ffdf 24.3% 29.9%,#30ffcf 29.9% 36.3%,#40ffbf 36.3% 46.2%,#50ffaf 46.2% 53.8%,#40ffbf 53.8% 63.7%,#30ffcf 63.7% 70.1%,#20ffdf 70.2% 75.7%,#10ffef 75.8% 80.9%,#00ffff 80.9% 85.1%,#00efff 85.1% 88.6%,#00dfff 88.7% 92%,#00cfff 92.1% 95.2%,#00bfff 95.3% 98.3%,#00afff 98.3% 100%)"></i>
<i style="background:linear-gradient(#00afff 0 1.6%,#00bfff 1.7% 4.7%,#00cfff 4.7% 7.8%,#00dfff 7.9% 11.2%,#00efff 11.3% 14.7%,#00ffff 14.8% 18.9%,#10ffef 19% 24%,#20ffdf 24.1% 29.6%,#30ffcf 29.6% 35.8%,#40ffbf 35.8% 44.8%,#50ffaf 44.9% 55.1%,#40ffbf 55.2% 64.2%,#30ffcf 64.2% 70.4%,#20ffdf 70.5% 75.9%,#10ffef 76% 81%,#00ffff 81.1% 85.2%,#00efff 85.3% 88.7%,#00dfff 88.8% 92.1%,#00cfff 92.2% 95.3%,#00bfff 95.4% 98.3%,#00afff 98.4% 100%)"></i>
<i style="background:linear-gradient(#00afff 0 1.6%,#00bfff 1.6% 4.6%,#00cfff 4.6% 7.8%,#00dfff 7.8% 11.1%,#00efff 11.2% 14.6%,#00ffff 14.7% 18.8%,#10ffef 18.8% 23.8%,#20ffdf 23.9% 29.3%,#30ffcf 29.3% 35.4%,#40ffbf 35.4% 43.7%,#50ffaf 43.8% 56.2%,#40ffbf 56.3% 64.6%,#30ffcf 64.6% 70.7%,#20ffdf 70.7% 76.2%,#10ffef 76.2% 81.2%,#00ffff 81.3% 85.4%,#00efff 85.4% 88.8%,#00dfff 88.9% 92.2%,#00cfff 92.3% 95.4%,#00bfff 95.4% 98.4%,#00afff 98.5% 100%)"></i>
<i style="background:linear-gradient(#00afff 0 1.5%,#00bfff 1.6% 4.5%,#00cfff 4.6% 7.7%,#00dfff 7.7% 11%,#00efff 11% 14.5%,#00ffff 14.5% 18.6%,#10ffef 18.7% 23.6%,#20ffdf 23.7% 29%,#30ffcf 29% 35%,#40ffbf 35% 42.9%,#50ffaf 42.9% 57.1%,#40ffbf 57.2% 65%,#30ffcf 65.1% 71%,#20ffdf 71% 76.4%,#10ffef 76.4% 81.4%,#00ffff 81.4% 85.5%,#00efff 85.6% 89%,#00dfff 89.1% 92.3%,#00cfff 92.4% 95.5%,#00bfff 95.5% 98.5%,#00afff 98.5% 100%)"></i>
<i style="background:linear-gradient(#00afff 0 1.5%,#00bfff 1.5% 4.4%,#00cfff 4.5% 7.6%,#00dfff 7.6% 10.9%,#00efff 10.9% 14.3%,#00ffff 14.4% 18.4%,#10ffef 18.5% 23.4%,#20ffdf 23.4% 28.7%,#30ffcf 28.8% 34.6%,#40ffbf 34.6% 42.1%,#50ffaf 42.1% 57.9%,#40ffbf 58% 65.4%,#30ffcf 65.4% 71.3%,#20ffdf 71.3% 76.6%,#10ffef 76.6% 81.5%,#00ffff 81.6% 85.6%,#00efff 85.7% 89.1%,#00dfff 89.2% 92.4%,#00cfff 92.4% 95.5%,#00bfff 95.6% 98.5%,#00afff 98.6% 100%)"></i>
<i style="background:linear-gradient(#00afff 0 1.4%,#00bfff 1.5% 4.4%,#00cfff 4.4% 7.5%,#00dfff 7.5% 10.8%,#00efff 10.8% 14.2%,#00ffff 14.3% 18.3%,#10ffef 18.3% 23.2%,#20ffdf 23.2% 28.5%,#30ffcf 28.5% 34.2%,#40ffbf 34.3% 41.3%,#50ffaf 41.4% 58.7%,#40ffbf 58.7% 65.8%,#30ffcf 65.8% 71.5%,#20ffdf 71.6% 76.8%,#10ffef 76.8% 81.7%,#00ffff 81.7% 85.8%,#00efff 85.8% 89.2%,#00dfff 89.3% 92.5%,#00cfff 92.5% 95.6%,#00bfff 95.6% 98.6%,#00afff 98.6% 100%)"></i>
<i style="background:linear-gradient(#00afff 0 1.3%,#00bfff 1.4% 4.3%,#00cfff 4.4% 7.4%,#00dfff 7.5% 10.7%,#00efff 10.7% 14.1%,#00ffff 14.1% 18.1%,#10ffef 18.2% 23%,#20ffdf 23% 28.2%,#30ffcf 28.2% 33.8%,#40ffbf 33.9% 40.7%,#50ffaf 40.7% 59.3%,#40ffbf 59.4% 66.1%,#30ffcf 66.2% 71.8%,#20ffdf 71.8% 77%,#10ffef 77% 81.9%,#00ffff 81.9% 85.9%,#00efff 85.9% 89.3%,#00dfff 89.4% 92.6%,#00cfff 92.6% 95.7%,#00bfff 95.7% 98.6%,#00afff 98.7% 100%)"></i>
<i style="background:linear-gradient(#00afff 0 1.3%,#00bfff 1.3% 4.2%,#00cfff 4.3% 7.3%,#00dfff 7.4% 10.6%,#00efff 10.6% 14%,#00ffff 14% 18%,#10ffef 18% 22.8%,#20ffdf 22.8% 27.9%,#30ffcf 28% 33.5%,#40ffbf 33.5% 40.1%,#50ffaf 40.1% 59.9%,#40ffbf 60% 66.5%,#30ffcf 66.5% 72%,#20ffdf 72.1% 77.2%,#10ffef 77.2% 82%,#00ffff 82.1% 86%,#00efff 86.1% 89.4%,#00dfff 89.5% 92.6%,#00cfff 92.7% 95.7%,#00bfff 95.8% 98.7%,#00afff 98.7% 100%)"></i>
<i style="background:linear-gradient(#00afff 0 1.2%,#00bfff 1.3% 4.2%,#00cfff 4.2% 7.2%,#00dfff 7.3% 10.5%,#00efff 10.5% 13.8%,#00ffff 13.8% 17.8%,#10ffef 17.9% 22.6%,#20ffdf 22.6% 27.6%,#30ffcf 27.7% 33.1%,#40ffbf 33.1% 39.5%,#50ffaf 39.6% 60.5%,#40ffbf 60.5% 66.9%,#30ffcf 66.9% 72.4%,#20ffdf 72.4% 77.4%,#10ffef 77.4% 82.2%,#00ffff 82.2% 86.2%,#00efff 86.2% 89.5%,#00dfff 89.6% 92.7%,#00cfff 92.8% 95.8%,#00bfff 95.8% 98.7%,#00afff 98.8% 100%)"></i>
<i style="background:linear-gradient(#00afff 0 1.2%,#00bfff 1.2% 4.1%,#00cfff 4.2% 7.2%,#00dfff 7.2% 10.4%,#00efff 10.4% 13.7%,#00ffff 13.7% 17.7%,#10ffef 17.7% 22.4%,#20ffdf 22.5% 27.4%,#30ffcf 27.4% 32.7%,#40ffbf 32.8% 39%,#50ffaf 39% 61%,#40ffbf 61.1% 67.2%,#30ffcf 67.3% 72.6%,#20ffdf 72.7% 77.6%,#10ffef 77.6% 82.3%,#00ffff 82.4% 86.3%,#00efff 86.4% 89.6%,#00dfff 89.7% 92.8%,#00cfff 92.9% 95.9%,#00bfff 95.9% 98.8%,#00afff 98.8% 100%)"></i>
<i style="background:linear-gradient(#00afff 0 1.1%,#00bfff 1.2% 4%,#00cfff 4.1% 7.1%,#00dfff 7.1% 10.3%,#00efff 10.3% 13.5%,#00ffff 13.6% 17.5%,#10ffef 17.6% 22.2%,#20ffdf 22.3% 27.1%,#30ffcf 27.2% 32.4%,#40ffbf 32.5% 38.4%,#50ffaf 38.5% 61.6%,#40ffbf 61.6% 67.6%,#30ffcf 67.6% 72.8%,#20ffdf 72.9% 77.8%,#10ffef 77.9% 82.5%,#00ffff 82.5% 86.4%,#00efff 86.5% 89.7%,#00dfff 89.8% 92.9%,#00cfff 92.9% 95.9%,#00bfff 96% 98.8%,#00afff 98.9% 100%)"></i>
<i style="background:linear-gradient(#00afff 0 1.1%,#00bfff 1.1% 4%,#00cfff 4% 7%,#00dfff 7.1% 10.2%,#00efff 10.2% 13.4%,#00ffff 13.5% 17.4%,#10ffef 17.4% 22%,#20ffdf 22% 26.9%,#30ffcf 26.9% 32.1%,#40ffbf 32.2% 37.9%,#50ffaf 38% 62%,#40ffbf 62.1% 67.9%,#30ffcf 67.9% 73.1%,#20ffdf 73.1% 78%,#10ffef 78% 82.6%,#00ffff 82.7% 86.5%,#00efff 86.6% 89.8%,#00dfff 89.9% 93%,#00cfff 93% 96%,#00bfff 96% 98.9%,#00afff 98.9% 100%)"></i>
<i style="background:linear-gradient(#00afff 0 1%,#00bfff 1.1% 3.9%,#00cfff 4% 6.9%,#00dfff 7% 10.1%,#00efff 10.1% 13.3%,#00ffff 13.4% 17.2%,#10ffef 17.3% 21.8%,#20ffdf 21.8% 26.7%,#30ffcf 26.7% 31.8%,#40ffbf 31.8% 37.5%,#50ffaf 37.5% 47.2%,#60ff9f 47.3% 52.8%,#50ffaf 52.9% 62.5%,#40ffbf 62.5% 68.2%,#30ffcf 68.2% 73.3%,#20ffdf 73.4% 78.2%,#10ffef 78.2% 82.8%,#00ffff 82.8% 86.7%,#00efff 86.7% 89.9%,#00dfff 90% 93%,#00cfff 93.1% 96.1%,#00bfff 96.1% 98.9%,#00afff 99% 100%)"></i>
<i style="background:linear-gradient(#00afff 0 1%,#00bfff 1% 3.9%,#00cfff 3.9% 6.9%,#00dfff 6.9% 10%,#00efff 10% 13.2%,#00ffff 13.3% 17.1%,#10ffef 17.1% 21.6%,#20ffdf 21.7% 26.4%,#30ffcf 26.5% 31.5%,#40ffbf 31.5% 37%,#50ffaf 37.1% 45.6%,#60ff9f 45.6% 54.4%,#50ffaf 54.4% 62.9%,#40ffbf 63% 68.5%,#30ffcf 68.5% 73.5%,#20ffdf 73.6% 78.4%,#10ffef 78.4% 82.9%,#00ffff 82.9% 86.8%,#00efff 86.8% 90%,#00dfff 90.1% 93.1%,#00cfff 93.2% 96.1%,#00bfff 96.2% 99%,#00afff 99% 100%)"></i>
<i style="background:linear-gradient(#00afff 0 0.9%,#00bfff 1% 3.8%,#00cfff 3.9% 6.8%,#00dfff 6.8% 9.9%,#00efff 9.9% 13.1%,#00ffff 13.1% 16.9%,#10ffef 17% 21.4%,#20ffdf 21.5% 26.2%,#30ffcf 26.3% 31.2%,#40ffbf 31.2% 36.6%,#50ffaf 36.7% 44.5%,#60ff9f 44.5% 55.5%,#50ffaf 55.5% 63.3%,#40ffbf 63.4% 68.8%,#30ffcf 68.8% 73.8%,#20ffdf 73.8% 78.5%,#10ffef 78.6% 83%,#00ffff 83.1% 86.9%,#00efff 86.9% 90.1%,#00dfff 90.1% 93.2%,#00cfff 93.2% 96.2%,#00bfff 96.2% 99%,#00afff 99.1% 100%)"></i>
<i style="background:linear-gradient(#00afff 0 0.9%,#00bfff 0.9% 3.7%,#00cfff 3.8% 6.7%,#00dfff 6.8% 9.8%,#00efff 9.8% 13%,#00ffff 13% 16.8%,#10ffef 16.9% 21.3%,#20ffdf 21.3% 26%,#30ffcf 26% 30.9%,#40ffbf 31% 36.2%,#50ffaf 36.3% 43.5%,#60ff9f 43.6% 56.5%,#50ffaf 56.5% 63.7%,#40ffbf 63.8% 69.1%,#30ffcf 69.1% 74%,#20ffdf 74% 78.7%,#10ffef 78.8% 83.2%,#00ffff 83.2% 87%,#00efff 87% 90.2%,#00dfff 90.2% 93.3%,#00cfff 93.3% 96.2%,#00bfff 96.3% 99.1%,#00afff 99.1% 100%)"></i>
<i style="background:linear-gradient(#00afff 0 0.8%,#00bfff 0.9% 3.7%,#00cfff 3.7% 6.6%,#00dfff 6.7% 9.7%,#00efff 9.7% 12.9%,#00ffff 12.9% 16.6%,#10ffef 16.7% 21.1%,#20ffdf 21.1% 25.8%,#30ffcf 25.8% 30.6%,#40ffbf 30.7% 35.8%,#50ffaf 35.8% 42.7%,#60ff9f 42.8% 57.3%,#50ffaf 57.3% 64.2%,#40ffbf 64.2% 69.3%,#30ffcf 69.4% 74.2%,#20ffdf 74.3% 78.9%,#10ffef 78.9% 83.4%,#00ffff 83.4% 87.1%,#00efff 87.2% 90.3%,#00dfff 90.3% 93.3%,#00cfff 93.4% 96.3%,#00bfff 96.3% 99.1%,#00afff 99.2% 100%)"></i>
<i style="background:linear-gradient(#00afff 0 0.8%,#00bfff 0.9% 3.6%,#00cfff 3.7% 6.6%,#00dfff 6.6% 9.6%,#00efff 9.7% 12.8%,#00ffff 12.8% 16.5%,#10ffef 16.5% 20.9%,#20ffdf 21% 25.6%,#30ffcf 25.6% 30.3%,#40ffbf 30.4% 35.4%,#50ffaf 35.5% 42%,#60ff9f 42.1% 58%,#50ffaf 58% 64.6%,#40ffbf 64.6% 69.7%,#30ffcf 69.7% 74.4%,#20ffdf 74.5% 79%,#10ffef 79.1% 83.5%,#00ffff 83.5% 87.2%,#00efff 87.3% 90.4%,#00dfff 90.4% 93.4%,#00cfff 93.5% 96.4%,#00bfff 96.4% 99.2%,#00afff 99.2% 100%)"></i>
<i style="background:linear-gradient(#00afff 0 0.8%,#00bfff 0.8% 3.6%,#00cfff 3.6% 6.5%,#00dfff 6.5% 9.5%,#00efff 9.6% 12.7%,#00ffff 12.7% 16.4%,#10ffef 16.4% 20.8%,#20ffdf 20.8% 25.3%,#30ffcf 25.4% 30%,#40ffbf 30.1% 35%,#50ffaf 35.1% 41.3%,#60ff9f 41.4% 58.7%,#50ffaf 58.7% 64.9%,#40ffbf 65% 69.9%,#30ffcf 70% 74.6%,#20ffdf 74.7% 79.2%,#10ffef 79.3% 83.6%,#00ffff 83.7% 87.3%,#00efff 87.4% 90.5%,#00dfff 90.5% 93.5%,#00cfff 93.5% 96.4%,#00bfff 96.5% 99.2%,#00afff 99.3% 100%)"></i>
<i style="background:linear-gradient(#00afff 0 0.7%,#00bfff 0.8% 3.5%,#00cfff 3.6% 6.4%,#00dfff 6.5% 9.4%,#00efff 9.5% 12.6%,#00ffff 12.6% 16.2%,#10ffef 16.3% 20.6%,#20ffdf 20.6% 25.1%,#30ffcf 25.2% 29.8%,#40ffbf 29.8% 34.7%,#50ffaf 34.7% 40.7%,#60ff9f 40.8% 59.3%,#50ffaf 59.3% 65.3%,#40ffbf 65.3% 70.2%,#30ffcf 70.3% 74.8%,#20ffdf 74.9% 79.4%,#10ffef 79.4% 83.7%,#00ffff 83.8% 87.4%,#00efff 87.5% 90.5%,#00dfff 90.6% 93.6%,#00cfff 93.6% 96.5%,#00bfff 96.5% 99.3%,#00afff 99.3% 100%)"></i>
<i style="background:linear-gradient(#00afff 0 0.7%,#00bfff 0.7% 3.5%,#00cfff 3.5% 6.4%,#00dfff 6.4% 9.4%,#00efff 9.4% 12.5%,#00ffff 12.5% 16.1%,#10ffef 16.2% 20.4%,#20ffdf 20.5% 24.9%,#30ffcf 24.9% 29.5%,#40ffbf 29.6% 34.4%,#50ffaf 34.4% 40.2%,#60ff9f 40.2% 59.8%,#50ffaf 59.9% 65.6%,#40ffbf 65.7% 70.5%,#30ffcf 70.5% 75.1%,#20ffdf 75.1% 79.5%,#10ffef 79.6% 83.9%,#00ffff 83.9% 87.5%,#00efff 87.6% 90.6%,#00dfff 90.7% 93.6%,#00cfff 93.7% 96.5%,#00bfff 96.6% 99.3%,#00afff 99.4% 100%)"></i>
<i style="background:linear-gradient(#00afff 0 0.6%,#00bfff 0.7% 3.4%,#00cfff 3.5% 6.3%,#00dfff 6.3% 9.3%,#00efff 9.3% 12.4%,#00ffff 12.4% 16%,#10ffef 16% 20.3%,#20ffdf 20.3% 24.7%,#30ffcf 24.7% 29.3%,#40ffbf 29.3% 34%,#50ffaf 34.1% 39.7%,#60ff9f 39.7% 60.3%,#50ffaf 60.4% 66%,#40ffbf 66% 70.7%,#30ffcf 70.8% 75.3%,#20ffdf 75.3% 79.7%,#10ffef 79.7% 84%,#00ffff 84% 87.6%,#00efff 87.7% 90.7%,#00dfff 90.8% 93.7%,#00cfff 93.7% 96.6%,#00bfff 96.6% 99.4%,#00afff 99.4% 100%)"></i>
<i style="background:linear-gradient(#00afff 0 0.6%,#00bfff 0.6% 3.3%,#00cfff 3.4% 6.2%,#00dfff 6.3% 9.2%,#00efff 9.2% 12.3%,#00ffff 12.3% 15.9%,#10ffef 15.9% 20.1%,#20ffdf 20.2% 24.5%,#30ffcf 24.5% 29%,#40ffbf 29.1% 33.7%,#50ffaf 33.7% 39.2%,#60ff9f 39.2% 60.8%,#50ffaf 60.9% 66.3%,#40ffbf 66.3% 71%,#30ffcf 71% 75.5%,#20ffdf 75.5% 79.8%,#10ffef 79.9% 84.1%,#00ffff 84.2% 87.7%,#00efff 87.8% 90.8%,#00dfff 90.8% 93.8%,#00cfff 93.8% 96.6%,#00bfff 96.7% 99.4%,#00afff 99.4% 100%)"></i>
<i style="background:linear-gradient(#00afff 0 0.5%,#00bfff 0.6% 3.3%,#00cfff 3.3% 6.2%,#00dfff 6.2% 9.1%,#00efff 9.2% 12.2%,#00ffff 12.2% 15.7%,#10ffef 15.8% 20%,#20ffdf 20% 24.3%,#30ffcf 24.4% 28.8%,#40ffbf 28.8% 33.4%,#50ffaf 33.4% 38.6%,#60ff9f 38.7% 48.9%,#70ff8f 48.9% 51.1%,#60ff9f 51.1% 61.3%,#50ffaf 61.4% 66.6%,#40ffbf 66.6% 71.2%,#30ffcf 71.2% 75.7%,#20ffdf 75.7% 80%,#10ffef 80% 84.2%,#00ffff 84.3% 87.8%,#00efff 87.9% 90.9%,#00dfff 90.9% 93.8%,#00cfff 93.9% 96.7%,#00bfff 96.7% 99.4%,#00afff 99.5% 100%)"></i>
<i style="background:linear-gradient(#00afff 0 0.5%,#00bfff 0.5% 3.2%,#00cfff 3.3% 6.1%,#00dfff 6.1% 9%,#00efff 9.1% 12.1%,#00ffff 12.1% 15.6%,#10ffef 15.7% 19.8%,#20ffdf 19.9% 24.1%,#30ffcf 24.2% 28.5%,#40ffbf 28.6% 33%,#50ffaf 33.1% 38.2%,#60ff9f 38.3% 46.5%,#70ff8f 46.6% 53.5%,#60ff9f 53.5% 61.8%,#50ffaf 61.8% 66.9%,#40ffbf 67% 71.4%,#30ffcf 71.5% 75.9%,#20ffdf 75.9% 80.1%,#10ffef 80.2% 84.4%,#00ffff 84.4% 87.9%,#00efff 88% 90.9%,#00dfff 91% 93.9%,#00cfff 93.9% 96.7%,#00bfff 96.8% 99.5%,#00afff 99.5% 100%)"></i>
<i style="background:linear-gradient(#00afff 0 0.5%,#00bfff 0.5% 3.2%,#00cfff 3.2% 6%,#00dfff 6.1% 8.9%,#00efff 9% 12%,#00ffff 12% 15.5%,#10ffef 15.6% 19.7%,#20ffdf 19.7% 23.9%,#30ffcf 24% 28.3%,#40ffbf 28.4% 32.7%,#50ffaf 32.8% 37.8%,#60ff9f 37.8% 45.3%,#70ff8f 45.3% 54.7%,#60ff9f 54.8% 62.2%,#50ffaf 62.2% 67.2%,#40ffbf 67.3% 71.7%,#30ffcf 71.7% 76%,#20ffdf 76.1% 80.3%,#10ffef 80.3% 84.5%,#00ffff 84.5% 88%,#00efff 88.1% 91%,#00dfff 91.1% 94%,#00cfff 94% 96.8%,#00bfff 96.8% 99.5%,#00afff 99.6% 100%)"></i>
<i style="background:linear-gradient(#00afff 0 0.4%,#00bfff 0.5% 3.1%,#00cfff 3.2% 6%,#00dfff 6% 8.9%,#00efff 8.9% 11.9%,#00ffff 11.9% 15.4%,#10ffef 15.4% 19.5%,#20ffdf 19.6% 23.8%,#30ffcf 23.8% 28.1%,#40ffbf 28.1% 32.4%,#50ffaf 32.5% 37.4%,#60ff9f 37.4% 44.2%,#70ff8f 44.3% 55.7%,#60ff9f 55.8% 62.6%,#50ffaf 62.7% 67.5%,#40ffbf 67.6% 71.9%,#30ffcf 71.9% 76.2%,#20ffdf 76.3% 80.4%,#10ffef 80.5% 84.6%,#00ffff 84.6% 88.1%,#00efff 88.2% 91.1%,#00dfff 91.2% 94%,#00cfff 94.1% 96.8%,#00bfff 96.9% 99.6%,#00afff 99.6% 100%)"></i>
<i style="background:linear-gradient(#00afff 0 0.4%,#00bfff 0.4% 3.1%,#00cfff 3.1% 5.9%,#00dfff 5.9% 8.8%,#00efff 8.8% 11.8%,#00ffff 11.8% 15.3%,#10ffef 15.3% 19.3%,#20ffdf 19.4% 23.6%,#30ffcf 23.6% 27.9%,#40ffbf 27.9% 32.2%,#50ffaf 32.2% 37%,#60ff9f 37% 43.4%,#70ff8f 43.5% 56.6%,#60ff9f 56.6% 63%,#50ffaf 63% 67.8%,#40ffbf 67.9% 72.1%,#30ffcf 72.2% 76.4%,#20ffdf 76.4% 80.6%,#10ffef 80.7% 84.7%,#00ffff 84.8% 88.2%,#00efff 88.2% 91.2%,#00dfff 91.2% 94.1%,#00cfff 94.1% 96.9%,#00bfff 96.9% 99.6%,#00afff 99.7% 100%)"></i>
<i style="background:linear-gradient(#00afff 0 0.3%,#00bfff 0.4% 3%,#00cfff 3.1% 5.8%,#00dfff 5.9% 8.7%,#00efff 8.8% 11.7%,#00ffff 11.7% 15.2%,#10ffef 15.2% 19.2%,#20ffdf 19.3% 23.4%,#30ffcf 23.5% 27.6%,#40ffbf 27.7% 31.9%,#50ffaf 31.9% 36.6%,#60ff9f 36.7% 42.7%,#70ff8f 42.7% 57.3%,#60ff9f 57.3% 63.4%,#50ffaf 63.4% 68.1%,#40ffbf 68.1% 72.4%,#30ffcf 72.4% 76.6%,#20ffdf 76.6% 80.8%,#10ffef 80.8% 84.8%,#00ffff 84.9% 88.3%,#00efff 88.3% 91.3%,#00dfff 91.3% 94.1%,#00cfff 94.2% 96.9%,#00bfff 97% 99.6%,#00afff 99.7% 100%)"></i>
<i style="background:linear-gradient(#00afff 0 0.3%,#00bfff 0.3% 3%,#00cfff 3% 5.8%,#00dfff 5.8% 8.6%,#00efff 8.7% 11.6%,#00ffff 11.6% 15.1%,#10ffef 15.1% 19.1%,#20ffdf 19.1% 23.2%,#30ffcf 23.3% 27.4%,#40ffbf 27.4% 31.6%,#50ffaf 31.7% 36.2%,#60ff9f 36.3% 42%,#70ff8f 42.1% 57.9%,#60ff9f 58% 63.7%,#50ffaf 63.8% 68.4%,#40ffbf 68.4% 72.6%,#30ffcf 72.6% 76.7%,#20ffdf 76.8% 80.9%,#10ffef 81% 84.9%,#00ffff 85% 88.4%,#00efff 88.4% 91.3%,#00dfff 91.4% 94.2%,#00cfff 94.2% 97%,#00bfff 97% 99.7%,#00afff 99.7% 100%)"></i>
<i style="background:linear-gradient(#00afff 0 0.3%,#00bfff 0.3% 2.9%,#00cfff 3% 5.7%,#00dfff 5.8% 8.6%,#00efff 8.6% 11.5%,#00ffff 11.6% 14.9%,#10ffef 15% 18.9%,#20ffdf 19% 23.1%,#30ffcf 23.1% 27.2%,#40ffbf 27.2% 31.4%,#50ffaf 31.4% 35.8%,#60ff9f 35.9% 41.4%,#70ff8f 41.4% 58.6%,#60ff9f 58.6% 64.1%,#50ffaf 64.2% 68.6%,#40ffbf 68.7% 72.8%,#30ffcf 72.8% 76.9%,#20ffdf 77% 81%,#10ffef 81.1% 85%,#00ffff 85.1% 88.5%,#00efff 88.5% 91.4%,#00dfff 91.4% 94.3%,#00cfff 94.3% 97%,#00bfff 97.1% 99.7%,#00afff 99.8% 100%)"></i>
<i style="background:linear-gradient(#00afff 0 0.2%,#00bfff 0.3% 2.9%,#00cfff 2.9% 5.7%,#00dfff 5.7% 8.5%,#00efff 8.6% 11.4%,#00ffff 11.5% 14.8%,#10ffef 14.9% 18.8%,#20ffdf 18.9% 22.9%,#30ffcf 23% 27%,#40ffbf 27% 31.1%,#50ffaf 31.2% 35.5%,#60ff9f 35.5% 40.8%,#70ff8f 40.9% 59.1%,#60ff9f 59.2% 64.5%,#50ffaf 64.5% 68.9%,#40ffbf 68.9% 73%,#30ffcf 73% 77.1%,#20ffdf 77.1% 81.2%,#10ffef 81.2% 85.1%,#00ffff 85.2% 88.6%,#00efff 88.6% 91.5%,#00dfff 91.5% 94.3%,#00cfff 94.4% 97.1%,#00bfff 97.1% 99.8%,#00afff 99.8% 100%)"></i>
<i style="background:linear-gradient(#00afff 0 0.2%,#00bfff 0.2% 2.9%,#00cfff 2.9% 5.6%,#00dfff 5.7% 8.4%,#00efff 8.5% 11.3%,#00ffff 11.4% 14.7%,#10ffef 14.8% 18.7%,#20ffdf 18.7% 22.7%,#30ffcf 22.8% 26.8%,#40ffbf 26.8% 30.9%,#50ffaf 30.9% 35.2%,#60ff9f 35.2% 40.3%,#70ff8f 40.4% 59.6%,#60ff9f 59.7% 64.8%,#50ffaf 64.9% 69.1%,#40ffbf 69.2% 73.2%,#30ffcf 73.2% 77.2%,#20ffdf 77.3% 81.3%,#10ffef 81.4% 85.2%,#00ffff 85.3% 88.6%,#00efff 88.7% 91.5%,#00dfff 91.6% 94.4%,#00cfff 94.5% 97.1%,#00bfff 97.2% 99.8%,#00afff 99.8% 100%)"></i>
<i style="background:linear-gradient(#00afff 0 0.1%,#00bfff 0.2% 2.8%,#00cfff 2.9% 5.5%,#00dfff 5.5% 8.4%,#00efff 8.4% 11.3%,#00ffff 11.3% 14.6%,#10ffef 14.7% 18.5%,#20ffdf 18.6% 22.6%,#30ffcf 22.6% 26.6%,#40ffbf 26.6% 30.6%,#50ffaf 30.7% 34.9%,#60ff9f 34.9% 39.8%,#70ff8f 39.9% 60.1%,#60ff9f 60.2% 65.1%,#50ffaf 65.2% 69.4%,#40ffbf 69.5% 73.4%,#30ffcf 73.4% 77.4%,#20ffdf 77.4% 81.4%,#10ffef 81.5% 85.3%,#00ffff 85.4% 88.7%,#00efff 88.8% 91.6%,#00dfff 91.7% 94.5%,#00cfff 94.5% 97.2%,#00bfff 97.3% 99.8%,#00afff 99.9% 100%)"></i>
<i style="background:linear-gradient(#00afff 0 0.1%,#00bfff 0.2% 2.7%,#00cfff 2.8% 5.4%,#00dfff 5.5% 8.2%,#00efff 8.3% 11.2%,#00ffff 11.2% 14.5%,#10ffef 14.6% 18.4%,#20ffdf 18.5% 22.4%,#30ffcf 22.5% 26.4%,#40ffbf 26.4% 30.3%,#50ffaf 30.4% 34.5%,#60ff9f 34.6% 39.4%,#70ff8f 39.4% 48%,#80ff80 48.1% 52%,#70ff8f 52% 60.6%,#60ff9f 60.6% 65.4%,#50ffaf 65.5% 69.7%,#40ffbf 69.7% 73.6%,#30ffcf 73.6% 77.5%,#20ffdf 77.6% 81.6%,#10ffef 81.6% 85.4%,#00ffff 85.5% 88.8%,#00efff 88.9% 91.7%,#00dfff 91.8% 94.5%,#00cfff 94.6% 97.3%,#00bfff 97.3% 99.9%,#00afff 99.9% 100%)"></i>
<i style="background:linear-gradient(#00afff 0 0.1%,#00bfff 0.1% 2.7%,#00cfff 2.7% 5.4%,#00dfff 5.4% 8.2%,#00efff 8.2% 11%,#00ffff 11.1% 14.4%,#10ffef 14.5% 18.3%,#20ffdf 18.3% 22.3%,#30ffcf 22.3% 26.2%,#40ffbf 26.2% 30.1%,#50ffaf 30.1% 34.2%,#60ff9f 34.3% 39%,#70ff8f 39% 46.3%,#80ff80 46.3% 53.7%,#70ff8f 53.8% 61%,#60ff9f 61.1% 65.7%,#50ffaf 65.8% 69.9%,#40ffbf 69.9% 73.8%,#30ffcf 73.8% 77.7%,#20ffdf 77.7% 81.7%,#10ffef 81.7% 85.5%,#00ffff 85.6% 88.9%,#00efff 89% 91.8%,#00dfff 91.8% 94.6%,#00cfff 94.6% 97.3%,#00bfff 97.4% 99.9%,#00afff 99.9% 100%)"></i>
<i style="background:linear-gradient(#00afff 0,#00bfff 0.1% 2.6%,#00cfff 2.7% 5.3%,#00dfff 5.4% 8.1%,#00efff 8.2% 11%,#00ffff 11% 14.3%,#10ffef 14.4% 18.2%,#20ffdf 18.2% 22.1%,#30ffcf 22.1% 26%,#40ffbf 26.1% 29.9%,#50ffaf 29.9% 34%,#60ff9f 34% 38.5%,#70ff8f 38.5% 45.1%,#80ff80 45.2% 54.8%,#70ff8f 54.9% 61.5%,#60ff9f 61.5% 66%,#50ffaf 66.1% 70.1%,#40ffbf 70.2% 74%,#30ffcf 74% 77.9%,#20ffdf 78% 81.8%,#10ffef 81.9% 85.6%,#00ffff 85.7% 89%,#00efff 89.1% 91.9%,#00dfff 91.9% 94.6%,#00cfff 94.7% 97.4%,#00bfff 97.4% 99.9%,#00afff 100%)"></i>
<i style="background:linear-gradient(#00afff 0,#00bfff 0.1% 2.6%,#00cfff 2.6% 5.3%,#00dfff 5.3% 8%,#00efff 8.1% 10.9%,#00ffff 10.9% 14.2%,#10ffef 14.3% 18.1%,#20ffdf 18.1% 21.9%,#30ffcf 22% 25.8%,#40ffbf 25.9% 29.6%,#50ffaf 29.7% 33.7%,#60ff9f 33.7% 38.1%,#70ff8f 38.1% 44.2%,#80ff80 44.3% 55.8%,#70ff8f 55.8% 61.9%,#60ff9f 61.9% 66.3%,#50ffaf 66.4% 70.3%,#40ffbf 70.4% 74.1%,#30ffcf 74.2% 78%,#20ffdf 78.1% 81.9%,#10ffef 82% 85.7%,#00ffff 85.8% 89.1%,#00efff 89.1% 91.9%,#00dfff 92% 94.7%,#00cfff 94.7% 97.4%,#00bfff 97.4% 100%)"></i>
<i style="background:linear-gradient(#00bfff 0 2.5%,#00cfff 2.6% 5.2%,#00dfff 5.3% 8%,#00efff 8% 10.8%,#00ffff 10.9% 14.1%,#10ffef 14.2% 17.9%,#20ffdf 18% 21.8%,#30ffcf 21.8% 25.7%,#40ffbf 25.7% 29.4%,#50ffaf 29.5% 33.4%,#60ff9f 33.4% 37.7%,#70ff8f 37.8% 43.5%,#80ff80 43.5% 56.5%,#70ff8f 56.6% 62.3%,#60ff9f 62.3% 66.6%,#50ffaf 66.6% 70.6%,#40ffbf 70.6% 74.3%,#30ffcf 74.4% 78.2%,#20ffdf 78.2% 82%,#10ffef 82.1% 85.8%,#00ffff 85.9% 89.2%,#00efff 89.2% 92%,#00dfff 92% 94.7%,#00cfff 94.8% 97.4%,#00bfff 97.5% 100%)"></i>
<i style="background:linear-gradient(#00bfff 0 2.5%,#00cfff 2.5% 5.2%,#00dfff 5.2% 7.9%,#00efff 8% 10.7%,#00ffff 10.8% 14%,#10ffef 14.1% 17.8%,#20ffdf 17.9% 21.6%,#30ffcf 21.7% 25.5%,#40ffbf 25.5% 29.2%,#50ffaf 29.2% 33.1%,#60ff9f 33.1% 37.3%,#70ff8f 37.4% 42.8%,#80ff80 42.8% 57.2%,#70ff8f 57.2% 62.6%,#60ff9f 62.7% 66.9%,#50ffaf 67% 70.8%,#40ffbf 70.8% 74.5%,#30ffcf 74.5% 78.3%,#20ffdf 78.4% 82.2%,#10ffef 82.2% 85.9%,#00ffff 86% 89.2%,#00efff 89.3% 92.1%,#00dfff 92.1% 94.8%,#00cfff 94.8% 97.5%,#00bfff 97.5% 100%)"></i>
<i style="background:linear-gradient(#00bfff 0 2.5%,#00cfff 2.5% 5.1%,#00dfff 5.2% 7.9%,#00efff 7.9% 10.7%,#00ffff 10.7% 14%,#10ffef 14% 17.7%,#20ffdf 17.8% 21.5%,#30ffcf 21.5% 25.3%,#40ffbf 25.4% 29%,#50ffaf 29% 32.8%,#60ff9f 32.9% 37%,#70ff8f 37% 42.2%,#80ff80 42.2% 57.8%,#70ff8f 57.9% 63%,#60ff9f 63% 67.2%,#50ffaf 67.2% 71%,#40ffbf 71% 74.7%,#30ffcf 74.7% 78.5%,#20ffdf 78.5% 82.3%,#10ffef 82.3% 86%,#00ffff 86.1% 89.3%,#00efff 89.4% 92.1%,#00dfff 92.2% 94.9%,#00cfff 94.9% 97.5%,#00bfff 97.6% 100%)"></i>
<i style="background:linear-gradient(#00bfff 0 2.4%,#00cfff 2.5% 5.1%,#00dfff 5.1% 7.8%,#00efff 7.8% 10.6%,#00ffff 10.6% 13.8%,#10ffef 13.9% 17.6%,#20ffdf 17.6% 21.4%,#30ffcf 21.4% 25.1%,#40ffbf 25.2% 28.8%,#50ffaf 28.8% 32.6%,#60ff9f 32.6% 36.7%,#70ff8f 36.7% 41.6%,#80ff80 41.6% 58.4%,#70ff8f 58.5% 63.3%,#60ff9f 63.4% 67.4%,#50ffaf 67.5% 71.2%,#40ffbf 71.2% 74.8%,#30ffcf 74.9% 78.6%,#20ffdf 78.7% 82.4%,#10ffef 82.4% 86.2%,#00ffff 86.2% 89.4%,#00efff 89.4% 92.2%,#00dfff 92.2% 94.9%,#00cfff 94.9% 97.6%,#00bfff 97.6% 100%)"></i>
<i style="background:linear-gradient(#00bfff 0 2.4%,#00cfff 2.4% 5%,#00dfff 5.1% 7.7%,#00efff 7.8% 10.5%,#00ffff 10.6% 13.7%,#10ffef 13.8% 17.5%,#20ffdf 17.5% 21.2%,#30ffcf 21.3% 24.9%,#40ffbf 25% 28.6%,#50ffaf 28.6% 32.3%,#60ff9f 32.4% 36.3%,#70ff8f 36.4% 41.1%,#80ff80 41.1% 58.9%,#70ff8f 59% 63.6%,#60ff9f 63.7% 67.7%,#50ffaf 67.7% 71.4%,#40ffbf 71.4% 75.1%,#30ffcf 75.1% 78.8%,#20ffdf 78.8% 82.5%,#10ffef 82.5% 86.2%,#00ffff 86.3% 89.5%,#00efff 89.5% 92.2%,#00dfff 92.3% 94.9%,#00cfff 95% 97.6%,#00bfff 97.6% 100%)"></i>
<i style="background:linear-gradient(#00bfff 0 2.3%,#00cfff 2.4% 5%,#00dfff 5% 7.7%,#00efff 7.7% 10.4%,#00ffff 10.5% 13.6%,#10ffef 13.7% 17.4%,#20ffdf 17.4% 21.1%,#30ffcf 21.1% 24.8%,#40ffbf 24.8% 28.4%,#50ffaf 28.4% 32.1%,#60ff9f 32.1% 36%,#70ff8f 36% 40.6%,#80ff80 40.6% 59.4%,#70ff8f 59.5% 64%,#60ff9f 64.1% 67.9%,#50ffaf 68% 71.6%,#40ffbf 71.6% 75.2%,#30ffcf 75.3% 78.9%,#20ffdf 78.9% 82.6%,#10ffef 82.7% 86.3%,#00ffff 86.4% 89.5%,#00efff 89.6% 92.3%,#00dfff 92.3% 95%,#00cfff 95% 97.6%,#00bfff 97.7% 100%)"></i>
<i style="background:linear-gradient(#00bfff 0 2.3%,#00cfff 2.4% 4.9%,#00dfff 5% 7.6%,#00efff 7.7% 10.4%,#00ffff 10.4% 13.6%,#10ffef 13.6% 17.3%,#20ffdf 17.3% 21%,#30ffcf 21% 24.6%,#40ffbf 24.6% 28.2%,#50ffaf 28.2% 31.8%,#60ff9f 31.9% 35.7%,#70ff8f 35.7% 40.1%,#80ff80 40.2% 47.9%,#8fff70 48% 52%,#80ff80 52.1% 59.9%,#70ff8f 59.9% 64.3%,#60ff9f 64.4% 68.2%,#50ffaf 68.2% 71.8%,#40ffbf 71.8% 75.4%,#30ffcf 75.4% 79%,#20ffdf 79.1% 82.7%,#10ffef 82.8% 86.4%,#00ffff 86.5% 89.6%,#00efff 89.7% 92.4%,#00dfff 92.4% 95%,#00cfff 95.1% 97.7%,#00bfff 97.7% 100%)"></i>
<i style="background:linear-gradient(#00bfff 0 2.3%,#00cfff 2.3% 4.9%,#00dfff 4.9% 7.6%,#00efff 7.6% 10.3%,#00ffff 10.3% 13.5%,#10ffef 13.5% 17.2%,#20ffdf 17.2% 20.8%,#30ffcf 20.9% 24.4%,#40ffbf 24.5% 28%,#50ffaf 28.1% 31.6%,#60ff9f 31.6% 35.4%,#70ff8f 35.4% 39.7%,#80ff80 39.7% 46.3%,#8fff70 46.4% 53.7%,#80ff80 53.7% 60.3%,#70ff8f 60.3% 64.6%,#60ff9f 64.7% 68.4%,#50ffaf 68.4% 72%,#40ffbf 72% 75.5%,#30ffcf 75.6% 79.1%,#20ffdf 79.2% 82.8%,#10ffef 82.9% 86.5%,#00ffff 86.6% 89.7%,#00efff 89.7% 92.4%,#00dfff 92.5% 95.1%,#00cfff 95.1% 97.7%,#00bfff 97.8% 100%)"></i>
<i style="background:linear-gradient(#00bfff 0 2.2%,#00cfff 2.3% 4.8%,#00dfff 4.9% 7.5%,#00efff 7.6% 10.2%,#00ffff 10.3% 13.4%,#10ffef 13.4% 17.1%,#20ffdf 17.1% 20.7%,#30ffcf 20.8% 24.3%,#40ffbf 24.3% 27.8%,#50ffaf 27.9% 31.4%,#60ff9f 31.4% 35.1%,#70ff8f 35.1% 39.3%,#80ff80 39.3% 45.3%,#8fff70 45.3% 54.7%,#80ff80 54.8% 60.7%,#70ff8f 60.8% 64.9%,#60ff9f 65% 68.6%,#50ffaf 68.7% 72.2%,#40ffbf 72.3% 75.7%,#30ffcf 75.7% 79.3%,#20ffdf 79.3% 82.9%,#10ffef 83% 86.6%,#00ffff 86.6% 89.7%,#00efff 89.8% 92.5%,#00dfff 92.5% 95.1%,#00cfff 95.2% 97.7%,#00bfff 97.8% 100%)"></i>
<i style="background:linear-gradient(#00bfff 0 2.2%,#00cfff 2.2% 4.8%,#00dfff 4.8% 7.5%,#00efff 7.5% 10.2%,#00ffff 10.2% 13.3%,#10ffef 13.4% 17%,#20ffdf 17% 20.6%,#30ffcf 20.6% 24.1%,#40ffbf 24.2% 27.6%,#50ffaf 27.6% 31.1%,#60ff9f 31.2% 34.8%,#70ff8f 34.8% 38.8%,#80ff80 38.9% 44.4%,#8fff70 44.5% 55.6%,#80ff80 55.7% 61.1%,#70ff8f 61.2% 65.2%,#60ff9f 65.2% 68.8%,#50ffaf 68.9% 72.4%,#40ffbf 72.4% 75.8%,#30ffcf 75.9% 79.4%,#20ffdf 79.4% 83%,#10ffef 83.1% 86.7%,#00ffff 86.7% 89.8%,#00efff 89.9% 92.5%,#00dfff 92.6% 95.2%,#00cfff 95.2% 97.8%,#00bfff 97.8% 100%)"></i>
<i style="background:linear-gradient(#00bfff 0 2.2%,#00cfff 2.2% 4.7%,#00dfff 4.8% 7.4%,#00efff 7.4% 10.1%,#00ffff 10.1% 13.2%,#10ffef 13.3% 16.9%,#20ffdf 16.9% 20.5%,#30ffcf 20.5% 24%,#40ffbf 24% 27.4%,#50ffaf 27.5% 30.9%,#60ff9f 31% 34.5%,#70ff8f 34.6% 38.5%,#80ff80 38.5% 43.6%,#8fff70 43.7% 56.3%,#80ff80 56.4% 61.5%,#70ff8f 61.6% 65.5%,#60ff9f 65.5% 69.1%,#50ffaf 69.1% 72.6%,#40ffbf 72.6% 76%,#30ffcf 76% 79.5%,#20ffdf 79.6% 83.1%,#10ffef 83.2% 86.8%,#00ffff 86.8% 89.9%,#00efff 89.9% 92.6%,#00dfff 92.6% 95.2%,#00cfff 95.3% 97.8%,#00bfff 97.9% 100%)"></i>
<i style="background:linear-gradient(#00bfff 0 2.1%,#00cfff 2.2% 4.7%,#00dfff 4.8% 7.3%,#00efff 7.4% 10%,#00ffff 10.1% 13.1%,#10ffef 13.2% 16.8%,#20ffdf 16.8% 20.3%,#30ffcf 20.4% 23.8%,#40ffbf 23.9% 27.2%,#50ffaf 27.3% 30.7%,#60ff9f 30.8% 34.2%,#70ff8f 34.3% 38.1%,#80ff80 38.2% 43%,#8fff70 43.1% 57%,#80ff80 57% 61.9%,#70ff8f 61.9% 65.7%,#60ff9f 65.8% 69.3%,#50ffaf 69.3% 72.7%,#40ffbf 72.8% 76.1%,#30ffcf 76.2% 79.6%,#20ffdf 79.7% 83.2%,#10ffef 83.3% 86.8%,#00ffff 86.9% 89.9%,#00efff 90% 92.6%,#00dfff 92.7% 95.3%,#00cfff 95.3% 97.9%,#00bfff 97.9% 100%)"></i>
<i style="background:linear-gradient(#00bfff 0 2.1%,#00cfff 2.1% 4.7%,#00dfff 4.7% 7.3%,#00efff 7.3% 10%,#00ffff 10% 13.1%,#10ffef 13.1% 16.6%,#20ffdf 16.7% 20.2%,#30ffcf 20.3% 23.7%,#40ffbf 23.7% 27.1%,#50ffaf 27.1% 30.4%,#60ff9f 30.5% 34%,#70ff8f 34% 37.8%,#80ff80 37.8% 42.4%,#8fff70 42.5% 57.5%,#80ff80 57.6% 62.2%,#70ff8f 62.3% 66%,#60ff9f 66% 69.5%,#50ffaf 69.6% 72.9%,#40ffbf 73% 76.3%,#30ffcf 76.3% 79.8%,#20ffdf 79.8% 83.4%,#10ffef 83.4% 86.9%,#00ffff 87% 90%,#00efff 90.1% 92.7%,#00dfff 92.7% 95.3%,#00cfff 95.4% 97.9%,#00bfff 97.9% 100%)"></i>
<i style="background:linear-gradient(#00bfff 0 2.1%,#00cfff 2.1% 4.6%,#00dfff 4.7% 7.2%,#00efff 7.3% 9.9%,#00ffff 10% 13%,#10ffef 13% 16.5%,#20ffdf 16.6% 20.1%,#30ffcf 20.1% 23.6%,#40ffbf 23.6% 26.9%,#50ffaf 26.9% 30.2%,#60ff9f 30.3% 33.7%,#70ff8f 33.8% 37.4%,#80ff80 37.5% 41.9%,#8fff70 41.9% 58.1%,#80ff80 58.1% 62.5%,#70ff8f 62.6% 66.2%,#60ff9f 66.3% 69.7%,#50ffaf 69.8% 73.1%,#40ffbf 73.1% 76.4%,#30ffcf 76.5% 79.9%,#20ffdf 79.9% 83.5%,#10ffef 83.5% 87%,#00ffff 87% 90.1%,#00efff 90.1% 92.7%,#00dfff 92.8% 95.4%,#00cfff 95.4% 97.9%,#00bfff 98% 100%)"></i>
<i style="background:linear-gradient(#00bfff 0 2%,#00cfff 2.1% 4.6%,#00dfff 4.6% 7.2%,#00efff 7.2% 9.8%,#00ffff 9.9% 12.9%,#10ffef 13% 16.4%,#20ffdf 16.5% 20%,#30ffcf 20% 23.4%,#40ffbf 23.5% 26.7%,#50ffaf 26.8% 30%,#60ff9f 30.1% 33.5%,#70ff8f 33.5% 37.1%,#80ff80 37.2% 41.4%,#8fff70 41.4% 58.6%,#80ff80 58.7% 62.9%,#70ff8f 62.9% 66.5%,#60ff9f 66.5% 69.9%,#50ffaf 70% 73.3%,#40ffbf 73.3% 76.6%,#30ffcf 76.6% 80%,#20ffdf 80% 83.6%,#10ffef 83.6% 87.1%,#00ffff 87.1% 90.1%,#00efff 90.2% 92.8%,#00dfff 92.8% 95.4%,#00cfff 95.4% 98%,#00bfff 98% 100%)"></i>
<i style="background:linear-gradient(#00bfff 0 2%,#00cfff 2% 4.5%,#00dfff 4.6% 7.1%,#00efff 7.2% 9.8%,#00ffff 9.8% 12.8%,#10ffef 12.9% 16.3%,#20ffdf 16.4% 19.9%,#30ffcf 19.9% 23.3%,#40ffbf 23.3% 26.6%,#50ffaf 26.6% 29.8%,#60ff9f 29.9% 33.2%,#70ff8f 33.3% 36.8%,#80ff80 36.8% 40.9%,#8fff70 40.9% 59.1%,#80ff80 59.1% 63.2%,#70ff8f 63.2% 66.8%,#60ff9f 66.8% 70.1%,#50ffaf 70.2% 73.4%,#40ffbf 73.5% 76.7%,#30ffcf 76.7% 80.1%,#20ffdf 80.2% 83.6%,#10ffef 83.7% 87.1%,#00ffff 87.2% 90.2%,#00efff 90.2% 92.8%,#00dfff 92.9% 95.4%,#00cfff 95.5% 98%,#00bfff 98% 100%)"></i>
<i style="background:linear-gradient(#00bfff 0 2%,#00cfff 2% 4.5%,#00dfff 4.5% 7.1%,#00efff 7.1% 9.7%,#00ffff 9.8% 12.8%,#10ffef 12.8% 16.2%,#20ffdf 16.3% 19.8%,#30ffcf 19.8% 23.1%,#40ffbf 23.2% 26.4%,#50ffaf 26.5% 29.7%,#60ff9f 29.7% 33%,#70ff8f 33% 36.5%,#80ff80 36.5% 40.5%,#8fff70 40.5% 59.5%,#80ff80 59.6% 63.5%,#70ff8f 63.5% 67%,#60ff9f 67.1% 70.3%,#50ffaf 70.4% 73.6%,#40ffbf 73.6% 76.8%,#30ffcf 76.9% 80.2%,#20ffdf 80.3% 83.7%,#10ffef 83.8% 87.2%,#00ffff 87.3% 90.3%,#00efff 90.3% 92.9%,#00dfff 92.9% 95.5%,#00cfff 95.5% 98%,#00bfff 98.1% 100%)"></i>
<i style="background:linear-gradient(#00bfff 0 1.9%,#00cfff 2% 4.5%,#00dfff 4.5% 7%,#00efff 7.1% 9.7%,#00ffff 9.7% 12.7%,#10ffef 12.7% 16.1%,#20ffdf 16.2% 19.6%,#30ffcf 19.7% 23%,#40ffbf 23.1% 26.2%,#50ffaf 26.3% 29.5%,#60ff9f 29.5% 32.7%,#70ff8f 32.8% 36.2%,#80ff80 36.3% 40%,#8fff70 40.1% 59.9%,#80ff80 60% 63.8%,#70ff8f 63.8% 67.2%,#60ff9f 67.3% 70.5%,#50ffaf 70.6% 73.7%,#40ffbf 73.8% 77%,#30ffcf 77% 80.3%,#20ffdf 80.4% 83.8%,#10ffef 83.9% 87.3%,#00ffff 87.3% 90.3%,#00efff 90.4% 92.9%,#00dfff 93% 95.5%,#00cfff 95.6% 98.1%,#00bfff 98.1% 100%)"></i>
<i style="background:linear-gradient(#00bfff 0 1.9%,#00cfff 1.9% 4.4%,#00dfff 4.5% 7%,#00efff 7% 9.6%,#00ffff 9.7% 12.6%,#10ffef 12.7% 16.1%,#20ffdf 16.1% 19.5%,#30ffcf 19.6% 22.9%,#40ffbf 22.9% 26.1%,#50ffaf 26.1% 29.3%,#60ff9f 29.3% 32.5%,#70ff8f 32.6% 35.9%,#80ff80 35.9% 39.7%,#8fff70 39.7% 47.3%,#9fff60 47.3% 52.7%,#8fff70 52.7% 60.3%,#80ff80 60.4% 64.1%,#70ff8f 64.1% 67.5%,#60ff9f 67.5% 70.7%,#50ffaf 70.7% 73.9%,#40ffbf 73.9% 77.1%,#30ffcf 77.1% 80.4%,#20ffdf 80.5% 83.9%,#10ffef 84% 87.4%,#00ffff 87.4% 90.4%,#00efff 90.4% 93%,#00dfff 93% 95.6%,#00cfff 95.6% 98.1%,#00bfff 98.1% 100%)"></i>
<i style="background:linear-gradient(#00bfff 0 1.9%,#00cfff 1.9% 4.4%,#00dfff 4.4% 6.9%,#00efff 7% 9.6%,#00ffff 9.6% 12.5%,#10ffef 12.6% 16%,#20ffdf 16% 19.4%,#30ffcf 19.5% 22.8%,#40ffbf 22.8% 25.9%,#50ffaf 26% 29.1%,#60ff9f 29.2% 32.3%,#70ff8f 32.4% 35.6%,#80ff80 35.7% 39.3%,#8fff70 39.3% 46%,#9fff60 46.1% 53.9%,#8fff70 54% 60.7%,#80ff80 60.7% 64.4%,#70ff8f 64.4% 67.7%,#60ff9f 67.7% 70.9%,#50ffaf 70.9% 74%,#40ffbf 74.1% 77.2%,#30ffcf 77.3% 80.5%,#20ffdf 80.6% 84%,#10ffef 84.1% 87.4%,#00ffff 87.5% 90.4%,#00efff 90.5% 93%,#00dfff 93.1% 95.6%,#00cfff 95.6% 98.1%,#00bfff 98.2% 100%)"></i>
<i style="background:linear-gradient(#00bfff 0 1.8%,#00cfff 1.9% 4.3%,#00dfff 4.4% 6.9%,#00efff 7% 9.5%,#00ffff 9.5% 12.5%,#10ffef 12.5% 15.9%,#20ffdf 15.9% 19.3%,#30ffcf 19.3% 22.6%,#40ffbf 22.7% 25.8%,#50ffaf 25.8% 28.9%,#60ff9f 29% 32.1%,#70ff8f 32.1% 35.3%,#80ff80 35.4% 38.9%,#8fff70 39% 45.1%,#9fff60 45.2% 54.8%,#8fff70 54.9% 61%,#80ff80 61.1% 64.6%,#70ff8f 64.7% 67.9%,#60ff9f 67.9% 71%,#50ffaf 71.1% 74.2%,#40ffbf 74.2% 77.3%,#30ffcf 77.4% 80.7%,#20ffdf 80.7% 84.1%,#10ffef 84.1% 87.5%,#00ffff 87.5% 90.5%,#00efff 90.5% 93.1%,#00dfff 93.1% 95.6%,#00cfff 95.7% 98.1%,#00bfff 98.2% 100%)"></i>
<i style="background:linear-gradient(#00bfff 0 1.8%,#00cfff 1.9% 4.3%,#00dfff 4.4% 6.9%,#00efff 6.9% 9.4%,#00ffff 9.5% 12.4%,#10ffef 12.5% 15.8%,#20ffdf 15.9% 19.2%,#30ffcf 19.2% 22.5%,#40ffbf 22.6% 25.6%,#50ffaf 25.7% 28.8%,#60ff9f 28.8% 31.9%,#70ff8f 31.9% 35.1%,#80ff80 35.1% 38.5%,#8fff70 38.6% 44.3%,#9fff60 44.4% 55.6%,#8fff70 55.7% 61.4%,#80ff80 61.5% 64.9%,#70ff8f 64.9% 68.1%,#60ff9f 68.1% 71.2%,#50ffaf 71.3% 74.3%,#40ffbf 74.4% 77.5%,#30ffcf 77.5% 80.8%,#20ffdf 80.8% 84.2%,#10ffef 84.2% 87.6%,#00ffff 87.6% 90.5%,#00efff 90.6% 93.1%,#00dfff 93.2% 95.7%,#00cfff 95.7% 98.2%,#00bfff 98.2% 100%)"></i>
<i style="background:linear-gradient(#00bfff 0 1.8%,#00cfff 1.8% 4.3%,#00dfff 4.3% 6.8%,#00efff 6.9% 9.4%,#00ffff 9.4% 12.3%,#10ffef 12.4% 15.7%,#20ffdf 15.8% 19.1%,#30ffcf 19.1% 22.4%,#40ffbf 22.4% 25.5%,#50ffaf 25.6% 28.6%,#60ff9f 28.6% 31.7%,#70ff8f 31.7% 34.8%,#80ff80 34.9% 38.2%,#8fff70 38.3% 43.7%,#9fff60 43.7% 56.3%,#8fff70 56.3% 61.8%,#80ff80 61.8% 65.1%,#70ff8f 65.2% 68.3%,#60ff9f 68.3% 71.4%,#50ffaf 71.4% 74.5%,#40ffbf 74.5% 77.6%,#30ffcf 77.6% 80.9%,#20ffdf 80.9% 84.3%,#10ffef 84.3% 87.6%,#00ffff 87.7% 90.6%,#00efff 90.6% 93.2%,#00dfff 93.2% 95.7%,#00cfff 95.8% 98.2%,#00bfff 98.2% 100%)"></i>
<i style="background:linear-gradient(#00bfff 0 1.7%,#00cfff 1.8% 4.2%,#00dfff 4.3% 6.8%,#00efff 6.8% 9.3%,#00ffff 9.4% 12.3%,#10ffef 12.3% 15.6%,#20ffdf 15.7% 19%,#30ffcf 19% 22.3%,#40ffbf 22.3% 25.4%,#50ffaf 25.4% 28.4%,#60ff9f 28.5% 31.5%,#70ff8f 31.5% 34.6%,#80ff80 34.6% 37.9%,#8fff70 37.9% 43.1%,#9fff60 43.2% 56.9%,#8fff70 56.9% 62.1%,#80ff80 62.1% 65.4%,#70ff8f 65.4% 68.5%,#60ff9f 68.5% 71.6%,#50ffaf 71.6% 74.6%,#40ffbf 74.7% 77.7%,#30ffcf 77.7% 81%,#20ffdf 81% 84.3%,#10ffef 84.4% 87.7%,#00ffff 87.7% 90.6%,#00efff 90.7% 93.2%,#00dfff 93.3% 95.7%,#00cfff 95.8% 98.2%,#00bfff 98.3% 100%)"></i>
<i style="background:linear-gradient(#00bfff 0 1.7%,#00cfff 1.8% 4.2%,#00dfff 4.3% 6.7%,#00efff 6.8% 9.3%,#00ffff 9.3% 12.2%,#10ffef 12.3% 15.6%,#20ffdf 15.6% 18.9%,#30ffcf 18.9% 22.1%,#40ffbf 22.2% 25.2%,#50ffaf 25.3% 28.3%,#60ff9f 28.3% 31.3%,#70ff8f 31.3% 34.4%,#80ff80 34.4% 37.6%,#8fff70 37.6% 42.6%,#9fff60 42.6% 57.4%,#8fff70 57.4% 62.4%,#80ff80 62.4% 65.6%,#70ff8f 65.7% 68.7%,#60ff9f 68.7% 71.7%,#50ffaf 71.8% 74.7%,#40ffbf 74.8% 77.9%,#30ffcf 77.9% 81.1%,#20ffdf 81.1% 84.4%,#10ffef 84.5% 87.8%,#00ffff 87.8% 90.7%,#00efff 90.7% 93.2%,#00dfff 93.3% 95.8%,#00cfff 95.8% 98.3%,#00bfff 98.3% 100%)"></i>
<i style="background:linear-gradient(#00bfff 0 1.7%,#00cfff 1.7% 4.2%,#00dfff 4.2% 6.7%,#00efff 6.7% 9.2%,#00ffff 9.3% 12.2%,#10ffef 12.2% 15.5%,#20ffdf 15.5% 18.8%,#30ffcf 18.8% 22%,#40ffbf 22% 25.1%,#50ffaf 25.1% 28.1%,#60ff9f 28.2% 31.1%,#70ff8f 31.1% 34.1%,#80ff80 34.2% 37.3%,#8fff70 37.4% 42.1%,#9fff60 42.1% 57.9%,#8fff70 57.9% 62.7%,#80ff80 62.7% 65.8%,#70ff8f 65.9% 68.9%,#60ff9f 68.9% 71.9%,#50ffaf 71.9% 74.9%,#40ffbf 74.9% 78%,#30ffcf 78% 81.2%,#20ffdf 81.2% 84.5%,#10ffef 84.5% 87.8%,#00ffff 87.9% 90.7%,#00efff 90.8% 93.3%,#00dfff 93.3% 95.8%,#00cfff 95.9% 98.3%,#00bfff 98.3% 100%)"></i>
<i style="background:linear-gradient(#00bfff 0 1.7%,#00cfff 1.7% 4.1%,#00dfff 4.2% 6.6%,#00efff 6.7% 9.2%,#00ffff 9.2% 12.1%,#10ffef 12.1% 15.4%,#20ffdf 15.5% 18.7%,#30ffcf 18.7% 21.9%,#40ffbf 21.9% 24.9%,#50ffaf 25% 27.9%,#60ff9f 28% 30.9%,#70ff8f 31% 33.9%,#80ff80 34% 37%,#8fff70 37.1% 41.6%,#9fff60 41.6% 58.4%,#8fff70 58.4% 63%,#80ff80 63% 66.1%,#70ff8f 66.1% 69.1%,#60ff9f 69.1% 72%,#50ffaf 72.1% 75.1%,#40ffbf 75.1% 78.1%,#30ffcf 78.1% 81.3%,#20ffdf 81.3% 84.6%,#10ffef 84.6% 87.9%,#00ffff 87.9% 90.8%,#00efff 90.8% 93.3%,#00dfff 93.4% 95.8%,#00cfff 95.9% 98.3%,#00bfff 98.4% 100%)"></i>
<i style="background:linear-gradient(#00bfff 0 1.6%,#00cfff 1.7% 4.1%,#00dfff 4.2% 6.6%,#00efff 6.7% 9.1%,#00ffff 9.2% 12%,#10ffef 12.1% 15.3%,#20ffdf 15.4% 18.6%,#30ffcf 18.7% 21.8%,#40ffbf 21.8% 24.8%,#50ffaf 24.8% 27.7%,#60ff9f 27.8% 30.7%,#70ff8f 30.8% 33.7%,#80ff80 33.7% 36.7%,#8fff70 36.8% 41.2%,#9fff60 41.2% 58.8%,#8fff70 58.9% 63.2%,#80ff80 63.3% 66.3%,#70ff8f 66.3% 69.2%,#60ff9f 69.3% 72.2%,#50ffaf 72.3% 75.2%,#40ffbf 75.2% 78.2%,#30ffcf 78.2% 81.4%,#20ffdf 81.4% 84.6%,#10ffef 84.7% 87.9%,#00ffff 88% 90.8%,#00efff 90.9% 93.4%,#00dfff 93.4% 95.9%,#00cfff 95.9% 98.3%,#00bfff 98.4% 100%)"></i>
<i style="background:linear-gradient(#00bfff 0 1.6%,#00cfff 1.7% 4.1%,#00dfff 4.1% 6.6%,#00efff 6.6% 9.1%,#00ffff 9.1% 12%,#10ffef 12% 15.3%,#20ffdf 15.3% 18.5%,#30ffcf 18.6% 21.7%,#40ffbf 21.7% 24.7%,#50ffaf 24.7% 27.6%,#60ff9f 27.6% 30.5%,#70ff8f 30.6% 33.5%,#80ff80 33.5% 36.5%,#8fff70 36.5% 40.8%,#9fff60 40.8% 59.2%,#8fff70 59.2% 63.5%,#80ff80 63.5% 66.5%,#70ff8f 66.6% 69.5%,#60ff9f 69.5% 72.4%,#50ffaf 72.4% 75.3%,#40ffbf 75.4% 78.3%,#30ffcf 78.4% 81.5%,#20ffdf 81.5% 84.7%,#10ffef 84.8% 88%,#00ffff 88.1% 90.9%,#00efff 90.9% 93.4%,#00dfff 93.5% 95.9%,#00cfff 96% 98.4%,#00bfff 98.4% 100%)"></i>
<i style="background:linear-gradient(#00bfff 0 1.6%,#00cfff 1.6% 4%,#00dfff 4.1% 6.5%,#00efff 6.6% 9%,#00ffff 9.1% 11.9%,#10ffef 12% 15.2%,#20ffdf 15.2% 18.4%,#30ffcf 18.5% 21.6%,#40ffbf 21.6% 24.5%,#50ffaf 24.6% 27.4%,#60ff9f 27.5% 30.3%,#70ff8f 30.4% 33.2%,#80ff80 33.3% 36.2%,#8fff70 36.3% 40.4%,#9fff60 40.4% 59.6%,#8fff70 59.6% 63.8%,#80ff80 63.8% 66.8%,#70ff8f 66.8% 69.6%,#60ff9f 69.7% 72.5%,#50ffaf 72.6% 75.4%,#40ffbf 75.5% 78.4%,#30ffcf 78.5% 81.5%,#20ffdf 81.6% 84.8%,#10ffef 84.8% 88.1%,#00ffff 88.1% 90.9%,#00efff 91% 93.4%,#00dfff 93.5% 95.9%,#00cfff 96% 98.4%,#00bfff 98.4% 100%)"></i>
<i style="background:linear-gradient(#00bfff 0 1.6%,#00cfff 1.6% 4%,#00dfff 4.1% 6.5%,#00efff 6.5% 9%,#00ffff 9% 11.9%,#10ffef 11.9% 15.1%,#20ffdf 15.2% 18.3%,#30ffcf 18.4% 21.5%,#40ffbf 21.5% 24.4%,#50ffaf 24.5% 27.3%,#60ff9f 27.3% 30.2%,#70ff8f 30.2% 33%,#80ff80 33.1% 35.9%,#8fff70 36% 40%,#9fff60 40.1% 48.3%,#afff50 48.4% 51.6%,#9fff60 51.7% 59.9%,#8fff70 60% 64.1%,#80ff80 64.1% 67%,#70ff8f 67% 69.8%,#60ff9f 69.9% 72.7%,#50ffaf 72.7% 75.6%,#40ffbf 75.6% 78.5%,#30ffcf 78.6% 81.6%,#20ffdf 81.7% 84.9%,#10ffef 84.9% 88.1%,#00ffff 88.2% 91%,#00efff 91% 93.5%,#00dfff 93.5% 96%,#00cfff 96% 98.4%,#00bfff 98.5% 100%)"></i>
<i style="background:linear-gradient(#00bfff 0 1.5%,#00cfff 1.6% 4%,#00dfff 4% 6.4%,#00efff 6.5% 8.9%,#00ffff 9% 11.8%,#10ffef 11.8% 15%,#20ffdf 15.1% 18.3%,#30ffcf 18.3% 21.4%,#40ffbf 21.4% 24.3%,#50ffaf 24.3% 27.2%,#60ff9f 27.2% 30%,#70ff8f 30% 32.8%,#80ff80 32.9% 35.7%,#8fff70 35.7% 39.7%,#9fff60 39.7% 46.8%,#afff50 46.8% 53.2%,#9fff60 53.3% 60.3%,#8fff70 60.3% 64.3%,#80ff80 64.3% 67.2%,#70ff8f 67.2% 70%,#60ff9f 70% 72.8%,#50ffaf 72.9% 75.7%,#40ffbf 75.7% 78.6%,#30ffcf 78.7% 81.7%,#20ffdf 81.8% 84.9%,#10ffef 85% 88.2%,#00ffff 88.2% 91%,#00efff 91.1% 93.5%,#00dfff 93.6% 96%,#00cfff 96% 98.4%,#00bfff 98.5% 100%)"></i>
<i style="background:linear-gradient(#00bfff 0 1.5%,#00cfff 1.6% 4%,#00dfff 4% 6.4%,#00efff 6.5% 8.9%,#00ffff 8.9% 11.7%,#10ffef 11.8% 15%,#20ffdf 15% 18.2%,#30ffcf 18.2% 21.3%,#40ffbf 21.3% 24.2%,#50ffaf 24.2% 27%,#60ff9f 27.1% 29.8%,#70ff8f 29.9% 32.6%,#80ff80 32.7% 35.4%,#8fff70 35.5% 39.4%,#9fff60 39.4% 45.8%,#afff50 45.8% 54.2%,#9fff60 54.3% 60.6%,#8fff70 60.7% 64.5%,#80ff80 64.6% 67.4%,#70ff8f 67.4% 70.1%,#60ff9f 70.2% 73%,#50ffaf 73% 75.8%,#40ffbf 75.9% 78.7%,#30ffcf 78.8% 81.8%,#20ffdf 81.9% 85%,#10ffef 85.1% 88.2%,#00ffff 88.3% 91.1%,#00efff 91.1% 93.6%,#00dfff 93.6% 96%,#00cfff 96.1% 98.5%,#00bfff 98.5% 100%)"></i>
<i style="background:linear-gradient(#00bfff 0 1.5%,#00cfff 1.5% 3.9%,#00dfff 4% 6.4%,#00efff 6.4% 8.9%,#00ffff 8.9% 11.7%,#10ffef 11.7% 14.9%,#20ffdf 15% 18.1%,#30ffcf 18.1% 21.2%,#40ffbf 21.2% 24%,#50ffaf 24.1% 26.9%,#60ff9f 26.9% 29.7%,#70ff8f 29.7% 32.4%,#80ff80 32.5% 35.2%,#8fff70 35.3% 39.1%,#9fff60 39.1% 45%,#afff50 45% 55%,#9fff60 55% 60.9%,#8fff70 61% 64.8%,#80ff80 64.8% 67.5%,#70ff8f 67.6% 70.3%,#60ff9f 70.4% 73.1%,#50ffaf 73.1% 75.9%,#40ffbf 76% 78.8%,#30ffcf 78.9% 81.9%,#20ffdf 81.9% 85.1%,#10ffef 85.1% 88.3%,#00ffff 88.3% 91.1%,#00efff 91.2% 93.6%,#00dfff 93.6% 96.1%,#00cfff 96.1% 98.5%,#00bfff 98.5% 100%)"></i>
<i style="background:linear-gradient(#00bfff 0 1.5%,#00cfff 1.5% 3.9%,#00dfff 3.9% 6.3%,#00efff 6.4% 8.8%,#00ffff 8.9% 11.6%,#10ffef 11.7% 14.8%,#20ffdf 14.9% 18%,#30ffcf 18.1% 21.1%,#40ffbf 21.1% 23.9%,#50ffaf 24% 26.7%,#60ff9f 26.8% 29.5%,#70ff8f 29.6% 32.2%,#80ff80 32.3% 35%,#8fff70 35% 38.7%,#9fff60 38.8% 44.3%,#afff50 44.3% 55.7%,#9fff60 55.7% 61.3%,#8fff70 61.3% 65%,#80ff80 65% 67.7%,#70ff8f 67.8% 70.5%,#60ff9f 70.5% 73.2%,#50ffaf 73.3% 76%,#40ffbf 76.1% 78.9%,#30ffcf 79% 82%,#20ffdf 82% 85.1%,#10ffef 85.2% 88.3%,#00ffff 88.4% 91.2%,#00efff 91.2% 93.6%,#00dfff 93.7% 96.1%,#00cfff 96.1% 98.5%,#00bfff 98.5% 100%)"></i>
<i style="background:linear-gradient(#00bfff 0 1.5%,#00cfff 1.5% 3.9%,#00dfff 3.9% 6.3%,#00efff 6.4% 8.8%,#00ffff 8.8% 11.6%,#10ffef 11.6% 14.8%,#20ffdf 14.8% 17.9%,#30ffcf 18% 21%,#40ffbf 21% 23.8%,#50ffaf 23.9% 26.6%,#60ff9f 26.7% 29.4%,#70ff8f 29.4% 32.1%,#80ff80 32.1% 34.8%,#8fff70 34.8% 38.4%,#9fff60 38.5% 43.7%,#afff50 43.8% 56.3%,#9fff60 56.3% 61.6%,#8fff70 61.6% 65.2%,#80ff80 65.3% 67.9%,#70ff8f 68% 70.6%,#60ff9f 70.7% 73.4%,#50ffaf 73.4% 76.2%,#40ffbf 76.2% 79%,#30ffcf 79.1% 82%,#20ffdf 82.1% 85.2%,#10ffef 85.3% 88.4%,#00ffff 88.4% 91.2%,#00efff 91.3% 93.7%,#00dfff 93.7% 96.1%,#00cfff 96.2% 98.5%,#00bfff 98.6% 100%)"></i>
<i style="background:linear-gradient(#00bfff 0 1.4%,#00cfff 1.5% 3.8%,#00dfff 3.9% 6.3%,#00efff 6.3% 8.7%,#00ffff 8.8% 11.5%,#10ffef 11.6% 14.7%,#20ffdf 14.8% 17.8%,#30ffcf 17.9% 20.9%,#40ffbf 20.9% 23.7%,#50ffaf 23.8% 26.5%,#60ff9f 26.5% 29.2%,#70ff8f 29.3% 31.9%,#80ff80 31.9% 34.6%,#8fff70 34.6% 38.1%,#9fff60 38.2% 43.2%,#afff50 43.2% 56.8%,#9fff60 56.8% 61.8%,#8fff70 61.9% 65.4%,#80ff80 65.5% 68.1%,#70ff8f 68.1% 70.8%,#60ff9f 70.8% 73.5%,#50ffaf 73.5% 76.3%,#40ffbf 76.3% 79.1%,#30ffcf 79.2% 82.1%,#20ffdf 82.2% 85.3%,#10ffef 85.3% 88.4%,#00ffff 88.5% 91.2%,#00efff 91.3% 93.7%,#00dfff 93.8% 96.1%,#00cfff 96.2% 98.5%,#00bfff 98.6% 100%)"></i>
<i style="background:linear-gradient(#00bfff 0 1.4%,#00cfff 1.5% 3.8%,#00dfff 3.9% 6.2%,#00efff 6.3% 8.7%,#00ffff 8.7% 11.5%,#10ffef 11.5% 14.6%,#20ffdf 14.7% 17.8%,#30ffcf 17.8% 20.8%,#40ffbf 20.8% 23.6%,#50ffaf 23.7% 26.4%,#60ff9f 26.4% 29.1%,#70ff8f 29.1% 31.7%,#80ff80 31.8% 34.4%,#8fff70 34.4% 37.9%,#9fff60 37.9% 42.7%,#afff50 42.8% 57.3%,#9fff60 57.3% 62.1%,#8fff70 62.2% 65.6%,#80ff80 65.7% 68.3%,#70ff8f 68.3% 70.9%,#60ff9f 71% 73.6%,#50ffaf 73.7% 76.4%,#40ffbf 76.4% 79.2%,#30ffcf 79.2% 82.2%,#20ffdf 82.3% 85.3%,#10ffef 85.4% 88.5%,#00ffff 88.5% 91.3%,#00efff 91.3% 93.7%,#00dfff 93.8% 96.2%,#00cfff 96.2% 98.6%,#00bfff 98.6% 100%)"></i>
<i style="background:linear-gradient(#00bfff 0 1.4%,#00cfff 1.4% 3.8%,#00dfff 3.8% 6.2%,#00efff 6.3% 8.6%,#00ffff 8.7% 11.4%,#10ffef 11.5% 14.6%,#20ffdf 14.6% 17.7%,#30ffcf 17.7% 20.7%,#40ffbf 20.7% 23.5%,#50ffaf 23.5% 26.2%,#60ff9f 26.3% 28.9%,#70ff8f 29% 31.5%,#80ff80 31.6% 34.2%,#8fff70 34.2% 37.6%,#9fff60 37.6% 42.3%,#afff50 42.3% 57.7%,#9fff60 57.8% 62.4%,#8fff70 62.4% 65.8%,#80ff80 65.9% 68.4%,#70ff8f 68.5% 71.1%,#60ff9f 71.1% 73.7%,#50ffaf 73.8% 76.5%,#40ffbf 76.5% 79.3%,#30ffcf 79.3% 82.3%,#20ffdf 82.3% 85.4%,#10ffef 85.4% 88.5%,#00ffff 88.6% 91.3%,#00efff 91.4% 93.8%,#00dfff 93.8% 96.2%,#00cfff 96.2% 98.6%,#00bfff 98.6% 100%)"></i>
<i style="background:linear-gradient(#00bfff 0 1.4%,#00cfff 1.4% 3.8%,#00dfff 3.8% 6.2%,#00efff 6.2% 8.6%,#00ffff 8.7% 11.4%,#10ffef 11.4% 14.5%,#20ffdf 14.6% 17.6%,#30ffcf 17.7% 20.6%,#40ffbf 20.6% 23.4%,#50ffaf 23.4% 26.1%,#60ff9f 26.2% 28.8%,#70ff8f 28.8% 31.4%,#80ff80 31.4% 34%,#8fff70 34% 37.3%,#9fff60 37.4% 41.8%,#afff50 41.9% 58.1%,#9fff60 58.2% 62.6%,#8fff70 62.7% 66%,#80ff80 66.1% 68.6%,#70ff8f 68.7% 71.2%,#60ff9f 71.3% 73.9%,#50ffaf 73.9% 76.6%,#40ffbf 76.6% 79.4%,#30ffcf 79.4% 82.4%,#20ffdf 82.4% 85.5%,#10ffef 85.5% 88.6%,#00ffff 88.6% 91.4%,#00efff 91.4% 93.8%,#00dfff 93.8% 96.2%,#00cfff 96.3% 98.6%,#00bfff 98.7% 100%)"></i>
<i style="background:linear-gradient(#00bfff 0 1.4%,#00cfff 1.4% 3.7%,#00dfff 3.8% 6.1%,#00efff 6.2% 8.6%,#00ffff 8.6% 11.3%,#10ffef 11.4% 14.5%,#20ffdf 14.5% 17.5%,#30ffcf 17.6% 20.5%,#40ffbf 20.6% 23.3%,#50ffaf 23.3% 26%,#60ff9f 26% 28.6%,#70ff8f 28.7% 31.2%,#80ff80 31.3% 33.8%,#8fff70 33.8% 37.1%,#9fff60 37.1% 41.4%,#afff50 41.5% 58.6%,#9fff60 58.6% 62.9%,#8fff70 62.9% 66.2%,#80ff80 66.3% 68.8%,#70ff8f 68.8% 71.3%,#60ff9f 71.4% 74%,#50ffaf 74% 76.7%,#40ffbf 76.7% 79.5%,#30ffcf 79.5% 82.4%,#20ffdf 82.5% 85.5%,#10ffef 85.6% 88.6%,#00ffff 88.7% 91.4%,#00efff 91.5% 93.8%,#00dfff 93.9% 96.2%,#00cfff 96.3% 98.6%,#00bfff 98.7% 100%)"></i>
<i style="background:linear-gradient(#00bfff 0 1.3%,#00cfff 1.4% 3.7%,#00dfff 3.8% 6.1%,#00efff 6.2% 8.5%,#00ffff 8.6% 11.3%,#10ffef 11.3% 14.4%,#20ffdf 14.5% 17.5%,#30ffcf 17.5% 20.4%,#40ffbf 20.5% 23.2%,#50ffaf 23.2% 25.9%,#60ff9f 25.9% 28.5%,#70ff8f 28.5% 31.1%,#80ff80 31.1% 33.6%,#8fff70 33.6% 36.9%,#9fff60 36.9% 41%,#afff50 41.1% 48.3%,#bfff40 48.3% 51.7%,#afff50 51.8% 58.9%,#9fff60 59% 63.1%,#8fff70 63.2% 66.4%,#80ff80 66.4% 68.9%,#70ff8f 69% 71.5%,#60ff9f 71.5% 74.1%,#50ffaf 74.1% 76.8%,#40ffbf 76.8% 79.5%,#30ffcf 79.6% 82.5%,#20ffdf 82.5% 85.6%,#10ffef 85.6% 88.7%,#00ffff 88.7% 91.4%,#00efff 91.5% 93.9%,#00dfff 93.9% 96.3%,#00cfff 96.3% 98.6%,#00bfff 98.7% 100%)"></i>
<i style="background:linear-gradient(#00bfff 0 1.3%,#00cfff 1.4% 3.7%,#00dfff 3.7% 6.1%,#00efff 6.1% 8.5%,#00ffff 8.5% 11.2%,#10ffef 11.3% 14.3%,#20ffdf 14.4% 17.4%,#30ffcf 17.5% 20.3%,#40ffbf 20.4% 23.1%,#50ffaf 23.1% 25.8%,#60ff9f 25.8% 28.4%,#70ff8f 28.4% 30.9%,#80ff80 30.9% 33.4%,#8fff70 33.4% 36.6%,#9fff60 36.7% 40.7%,#afff50 40.7% 46.8%,#bfff40 46.9% 53.2%,#afff50 53.2% 59.3%,#9fff60 59.3% 63.4%,#8fff70 63.4% 66.6%,#80ff80 66.6% 69.1%,#70ff8f 69.1% 71.6%,#60ff9f 71.7% 74.2%,#50ffaf 74.3% 76.9%,#40ffbf 76.9% 79.6%,#30ffcf 79.7% 82.6%,#20ffdf 82.6% 85.6%,#10ffef 85.7% 88.7%,#00ffff 88.8% 91.5%,#00efff 91.5% 93.9%,#00dfff 93.9% 96.3%,#00cfff 96.3% 98.7%,#00bfff 98.7% 100%)"></i>
<i style="background:linear-gradient(#00bfff 0 1.3%,#00cfff 1.3% 3.7%,#00dfff 3.7% 6.1%,#00efff 6.1% 8.5%,#00ffff 8.5% 11.2%,#10ffef 11.2% 14.3%,#20ffdf 14.3% 17.3%,#30ffcf 17.4% 20.3%,#40ffbf 20.3% 23%,#50ffaf 23% 25.7%,#60ff9f 25.7% 28.2%,#70ff8f 28.3% 30.7%,#80ff80 30.8% 33.2%,#8fff70 33.2% 36.4%,#9fff60 36.4% 40.4%,#afff50 40.4% 45.9%,#bfff40 45.9% 54.1%,#afff50 54.1% 59.6%,#9fff60 59.7% 63.6%,#8fff70 63.6% 66.8%,#80ff80 66.9% 69.2%,#70ff8f 69.3% 71.7%,#60ff9f 71.8% 74.3%,#50ffaf 74.4% 77%,#40ffbf 77% 79.7%,#30ffcf 79.8% 82.6%,#20ffdf 82.7% 85.7%,#10ffef 85.7% 88.8%,#00ffff 88.8% 91.5%,#00efff 91.6% 93.9%,#00dfff 94% 96.3%,#00cfff 96.4% 98.7%,#00bfff 98.7% 100%)"></i>
<i style="background:linear-gradient(#00bfff 0 1.3%,#00cfff 1.3% 3.6%,#00dfff 3.7% 6%,#00efff 6.1% 8.4%,#00ffff 8.5% 11.2%,#10ffef 11.2% 14.2%,#20ffdf 14.3% 17.3%,#30ffcf 17.3% 20.2%,#40ffbf 20.2% 22.9%,#50ffaf 23% 25.5%,#60ff9f 25.6% 28.1%,#70ff8f 28.2% 30.5%,#80ff80 30.6% 33%,#8fff70 33% 36.2%,#9fff60 36.2% 40%,#afff50 40.1% 45.1%,#bfff40 45.2% 54.8%,#afff50 54.9% 59.9%,#9fff60 60% 63.8%,#8fff70 63.8% 67%,#80ff80 67% 69.4%,#70ff8f 69.5% 71.9%,#60ff9f 71.9% 74.4%,#50ffaf 74.5% 77.1%,#40ffbf 77.1% 79.8%,#30ffcf 79.8% 82.7%,#20ffdf 82.8% 85.7%,#10ffef 85.8% 88.8%,#00ffff 88.9% 91.6%,#00efff 91.6% 93.9%,#00dfff 94% 96.3%,#00cfff 96.4% 98.7%,#00bfff 98.7% 100%)"></i>
<i style="background:linear-gradient(#00bfff 0 1.3%,#00cfff 1.3% 3.6%,#00dfff 3.7% 6%,#00efff 6% 8.4%,#00ffff 8.4% 11.1%,#10ffef 11.2% 14.2%,#20ffdf 14.2% 17.2%,#30ffcf 17.3% 20.1%,#40ffbf 20.1% 22.8%,#50ffaf 22.9% 25.4%,#60ff9f 25.5% 28%,#70ff8f 28% 30.4%,#80ff80 30.4% 32.8%,#8fff70 32.9% 35.9%,#9fff60 36% 39.7%,#afff50 39.8% 44.5%,#bfff40 44.6% 55.5%,#afff50 55.5% 60.2%,#9fff60 60.3% 64.1%,#8fff70 64.1% 67.2%,#80ff80 67.2% 69.6%,#70ff8f 69.6% 72%,#60ff9f 72% 74.5%,#50ffaf 74.6% 77.2%,#40ffbf 77.2% 79.9%,#30ffcf 79.9% 82.8%,#20ffdf 82.8% 85.8%,#10ffef 85.8% 88.9%,#00ffff 89% 91.6%,#00efff 91.6% 94%,#00dfff 94% 96.4%,#00cfff 96.4% 98.7%,#00bfff 98.8% 100%)"></i>
<i style="background:linear-gradient(#00bfff 0 1.2%,#00cfff 1.3% 3.6%,#00dfff 3.6% 6%,#00efff 6% 8.4%,#00ffff 8.4% 11%,#10ffef 11.1% 14.1%,#20ffdf 14.2% 17.1%,#30ffcf 17.2% 20%,#40ffbf 20.1% 22.7%,#50ffaf 22.8% 25.3%,#60ff9f 25.4% 27.9%,#70ff8f 27.9% 30.3%,#80ff80 30.3% 32.7%,#8fff70 32.7% 35.7%,#9fff60 35.8% 39.5%,#afff50 39.5% 43.9%,#bfff40 44% 56.1%,#afff50 56.1% 60.5%,#9fff60 60.6% 64.3%,#8fff70 64.3% 67.3%,#80ff80 67.4% 69.7%,#70ff8f 69.8% 72.1%,#60ff9f 72.2% 74.6%,#50ffaf 74.7% 77.3%,#40ffbf 77.3% 80%,#30ffcf 80% 82.8%,#20ffdf 82.9% 85.8%,#10ffef 85.9% 89%,#00ffff 89% 91.6%,#00efff 91.7% 94%,#00dfff 94.1% 96.4%,#00cfff 96.4% 98.7%,#00bfff 98.8% 100%)"></i>
<i style="background:linear-gradient(#00bfff 0 1.2%,#00cfff 1.3% 3.6%,#00dfff 3.6% 5.9%,#00efff 6% 8.3%,#00ffff 8.4% 11%,#10ffef 11% 14.1%,#20ffdf 14.1% 17.1%,#30ffcf 17.1% 19.9%,#40ffbf 20% 22.6%,#50ffaf 22.7% 25.2%,#60ff9f 25.3% 27.7%,#70ff8f 27.7% 30.1%,#80ff80 30.2% 32.5%,#8fff70 32.5% 35.5%,#9fff60 35.6% 39.2%,#afff50 39.2% 43.4%,#bfff40 43.5% 56.6%,#afff50 56.6% 60.8%,#9fff60 60.9% 64.5%,#8fff70 64.5% 67.5%,#80ff80 67.5% 69.9%,#70ff8f 69.9% 72.3%,#60ff9f 72.3% 74.8%,#50ffaf 74.8% 77.3%,#40ffbf 77.4% 80%,#30ffcf 80.1% 82.9%,#20ffdf 83% 85.9%,#10ffef 86% 89%,#00ffff 89.1% 91.7%,#00efff 91.8% 94%,#00dfff 94.1% 96.4%,#00cfff 96.4% 98.7%,#00bfff 98.8% 100%)"></i>
<i style="background:linear-gradient(#00bfff 0 1.2%,#00cfff 1.3% 3.6%,#00dfff 3.6% 5.9%,#00efff 6% 8.2%,#00ffff 8.3% 10.9%,#10ffef 11% 14%,#20ffdf 14.1% 17%,#30ffcf 17.1% 19.9%,#40ffbf 19.9% 22.5%,#50ffaf 22.6% 25.1%,#60ff9f 25.2% 27.6%,#70ff8f 27.6% 30%,#80ff80 30% 32.3%,#8fff70 32.4% 35.3%,#9fff60 35.4% 38.9%,#afff50 39% 43%,#bfff40 43% 57%,#afff50 57.1% 61.1%,#9fff60 61.2% 64.7%,#8fff70 64.7% 67.6%,#80ff80 67.7% 70%,#70ff8f 70% 72.4%,#60ff9f 72.5% 74.9%,#50ffaf 74.9% 77.4%,#40ffbf 77.5% 80.1%,#30ffcf 80.2% 83%,#20ffdf 83% 86%,#10ffef 86% 89%,#00ffff 89.1% 91.7%,#00efff 91.8% 94.1%,#00dfff 94.1% 96.4%,#00cfff 96.5% 98.8%,#00bfff 98.8% 100%)"></i>
<i style="background:linear-gradient(#00bfff 0 1.2%,#00cfff 1.3% 3.5%,#00dfff 3.6% 5.9%,#00efff 5.9% 8.2%,#00ffff 8.3% 10.9%,#10ffef 10.9% 14%,#20ffdf 14% 16.9%,#30ffcf 17% 19.8%,#40ffbf 19.8% 22.5%,#50ffaf 22.5% 25%,#60ff9f 25.1% 27.4%,#70ff8f 27.5% 29.8%,#80ff80 29.9% 32.2%,#8fff70 32.2% 35.1%,#9fff60 35.2% 38.6%,#afff50 38.6% 42.5%,#bfff40 42.6% 57.4%,#afff50 57.5% 61.4%,#9fff60 61.4% 64.9%,#8fff70 64.9% 67.8%,#80ff80 67.8% 70.1%,#70ff8f 70.2% 72.5%,#60ff9f 72.6% 75%,#50ffaf 75.1% 77.5%,#40ffbf 77.6% 80.2%,#30ffcf 80.2% 83%,#20ffdf 83.1% 86%,#10ffef 86.1% 89.1%,#00ffff 89.1% 91.8%,#00efff 91.8% 94.1%,#00dfff 94.1% 96.4%,#00cfff 96.5% 98.8%,#00bfff 98.8% 100%)"></i>
<i style="background:linear-gradient(#00bfff 0 1.2%,#00cfff 1.2% 3.5%,#00dfff 3.6% 5.9%,#00efff 5.9% 8.2%,#00ffff 8.2% 10.9%,#10ffef 10.9% 13.9%,#20ffdf 14% 16.9%,#30ffcf 16.9% 19.7%,#40ffbf 19.8% 22.4%,#50ffaf 22.4% 24.9%,#60ff9f 24.9% 27.3%,#70ff8f 27.4% 29.7%,#80ff80 29.8% 32%,#8fff70 32.1% 34.9%,#9fff60 35% 38.3%,#afff50 38.4% 42.1%,#bfff40 42.2% 57.8%,#afff50 57.9% 61.6%,#9fff60 61.7% 65.1%,#8fff70 65.1% 68%,#80ff80 68% 70.3%,#70ff8f 70.3% 72.6%,#60ff9f 72.7% 75.1%,#50ffaf 75.2% 77.6%,#40ffbf 77.7% 80.3%,#30ffcf 80.3% 83.1%,#20ffdf 83.1% 86.1%,#10ffef 86.2% 89.1%,#00ffff 89.2% 91.8%,#00efff 91.8% 94.1%,#00dfff 94.2% 96.5%,#00cfff 96.5% 98.8%,#00bfff 98.8% 100%)"></i>
<i style="background:linear-gradient(#00bfff 0 1.2%,#00cfff 1.2% 3.5%,#00dfff 3.5% 5.8%,#00efff 5.9% 8.1%,#00ffff 8.2% 10.8%,#10ffef 10.9% 13.8%,#20ffdf 13.9% 16.8%,#30ffcf 16.9% 19.7%,#40ffbf 19.7% 22.3%,#50ffaf 22.3% 24.8%,#60ff9f 24.8% 27.2%,#70ff8f 27.3% 29.6%,#80ff80 29.6% 31.9%,#8fff70 31.9% 34.7%,#9fff60 34.8% 38.1%,#afff50 38.1% 41.8%,#bfff40 41.8% 47.6%,#cfff30 47.7% 52.4%,#bfff40 52.4% 58.2%,#afff50 58.2% 61.9%,#9fff60 61.9% 65.2%,#8fff70 65.3% 68.1%,#80ff80 68.1% 70.4%,#70ff8f 70.4% 72.8%,#60ff9f 72.8% 75.2%,#50ffaf 75.3% 77.7%,#40ffbf 77.7% 80.3%,#30ffcf 80.4% 83.1%,#20ffdf 83.2% 86.2%,#10ffef 86.2% 89.2%,#00ffff 89.2% 91.8%,#00efff 91.9% 94.1%,#00dfff 94.2% 96.5%,#00cfff 96.5% 98.8%,#00bfff 98.9% 100%)"></i>
<i style="background:linear-gradient(#00bfff 0 1.2%,#00cfff 1.2% 3.5%,#00dfff 3.5% 5.8%,#00efff 5.9% 8.1%,#00ffff 8.2% 10.8%,#10ffef 10.8% 13.8%,#20ffdf 13.8% 16.8%,#30ffcf 16.8% 19.6%,#40ffbf 19.6% 22.2%,#50ffaf 22.3% 24.7%,#60ff9f 24.7% 27.1%,#70ff8f 27.2% 29.5%,#80ff80 29.5% 31.7%,#8fff70 31.8% 34.6%,#9fff60 34.6% 37.9%,#afff50 37.9% 41.4%,#bfff40 41.4% 46.5%,#cfff30 46.5% 53.5%,#bfff40 53.6% 58.6%,#afff50 58.6% 62.1%,#9fff60 62.2% 65.4%,#8fff70 65.5% 68.2%,#80ff80 68.3% 70.5%,#70ff8f 70.6% 72.9%,#60ff9f 72.9% 75.3%,#50ffaf 75.3% 77.8%,#40ffbf 77.9% 80.4%,#30ffcf 80.4% 83.2%,#20ffdf 83.3% 86.2%,#10ffef 86.2% 89.2%,#00ffff 89.2% 91.9%,#00efff 91.9% 94.2%,#00dfff 94.2% 96.5%,#00cfff 96.5% 98.8%,#00bfff 98.9% 100%)"></i>
<i style="background:linear-gradient(#00bfff 0 1.1%,#00cfff 1.2% 3.5%,#00dfff 3.5% 5.8%,#00efff 5.8% 8.1%,#00ffff 8.1% 10.7%,#10ffef 10.8% 13.7%,#20ffdf 13.8% 16.7%,#30ffcf 16.8% 19.5%,#40ffbf 19.6% 22.1%,#50ffaf 22.1% 24.6%,#60ff9f 24.6% 27%,#70ff8f 27.1% 29.3%,#80ff80 29.4% 31.6%,#8fff70 31.6% 34.4%,#9fff60 34.4% 37.6%,#afff50 37.7% 41%,#bfff40 41.1% 45.7%,#cfff30 45.7% 54.3%,#bfff40 54.3% 58.9%,#afff50 59% 62.3%,#9fff60 62.4% 65.6%,#8fff70 65.6% 68.4%,#80ff80 68.4% 70.6%,#70ff8f 70.7% 73%,#60ff9f 73% 75.4%,#50ffaf 75.4% 77.9%,#40ffbf 78% 80.5%,#30ffcf 80.5% 83.3%,#20ffdf 83.4% 86.2%,#10ffef 86.3% 89.2%,#00ffff 89.3% 91.9%,#00efff 91.9% 94.2%,#00dfff 94.2% 96.5%,#00cfff 96.6% 98.8%,#00bfff 98.9% 100%)"></i>
<i style="background:linear-gradient(#00bfff 0 1.1%,#00cfff 1.2% 3.4%,#00dfff 3.5% 5.8%,#00efff 5.8% 8.1%,#00ffff 8.1% 10.7%,#10ffef 10.8% 13.7%,#20ffdf 13.7% 16.6%,#30ffcf 16.7% 19.4%,#40ffbf 19.5% 22%,#50ffaf 22% 24.5%,#60ff9f 24.5% 26.9%,#70ff8f 26.9% 29.2%,#80ff80 29.3% 31.4%,#8fff70 31.5% 34.2%,#9fff60 34.3% 37.4%,#afff50 37.5% 40.7%,#bfff40 40.8% 45%,#cfff30 45.1% 55%,#bfff40 55% 59.2%,#afff50 59.3% 62.6%,#9fff60 62.6% 65.8%,#8fff70 65.8% 68.5%,#80ff80 68.6% 70.8%,#70ff8f 70.8% 73.1%,#60ff9f 73.1% 75.5%,#50ffaf 75.5% 78%,#40ffbf 78% 80.5%,#30ffcf 80.6% 83.4%,#20ffdf 83.4% 86.3%,#10ffef 86.3% 89.3%,#00ffff 89.3% 91.9%,#00efff 92% 94.2%,#00dfff 94.3% 96.5%,#00cfff 96.6% 98.8%,#00bfff 98.9% 100%)"></i>
<i style="background:linear-gradient(#00bfff 0 1.1%,#00cfff 1.2% 3.4%,#00dfff 3.5% 5.7%,#00efff 5.8% 8%,#00ffff 8.1% 10.7%,#10ffef 10.7% 13.6%,#20ffdf 13.7% 16.6%,#30ffcf 16.6% 19.3%,#40ffbf 19.4% 21.9%,#50ffaf 22% 24.4%,#60ff9f 24.5% 26.8%,#70ff8f 26.8% 29.1%,#80ff80 29.1% 31.3%,#8fff70 31.4% 34%,#9fff60 34.1% 37.2%,#afff50 37.2% 40.4%,#bfff40 40.5% 44.4%,#cfff30 44.5% 55.5%,#bfff40 55.6% 59.6%,#afff50 59.6% 62.8%,#9fff60 62.8% 65.9%,#8fff70 66% 68.7%,#80ff80 68.7% 70.9%,#70ff8f 70.9% 73.2%,#60ff9f 73.2% 75.6%,#50ffaf 75.6% 78.1%,#40ffbf 78.1% 80.6%,#30ffcf 80.7% 83.4%,#20ffdf 83.5% 86.3%,#10ffef 86.4% 89.3%,#00ffff 89.4% 91.9%,#00efff 92% 94.2%,#00dfff 94.3% 96.5%,#00cfff 96.6% 98.9%,#00bfff 98.9% 100%)"></i>
<i style="background:linear-gradient(#00bfff 0 1.1%,#00cfff 1.2% 3.4%,#00dfff 3.5% 5.7%,#00efff 5.8% 8%,#00ffff 8.1% 10.6%,#10ffef 10.7% 13.6%,#20ffdf 13.6% 16.5%,#30ffcf 16.5% 19.3%,#40ffbf 19.3% 21.8%,#50ffaf 21.9% 24.3%,#60ff9f 24.4% 26.7%,#70ff8f 26.7% 29%,#80ff80 29% 31.2%,#8fff70 31.2% 33.9%,#9fff60 33.9% 37%,#afff50 37% 40.1%,#bfff40 40.2% 43.9%,#cfff30 43.9% 56.1%,#bfff40 56.1% 59.8%,#afff50 59.9% 63%,#9fff60 63% 66.1%,#8fff70 66.1% 68.8%,#80ff80 68.8% 71%,#70ff8f 71% 73.3%,#60ff9f 73.3% 75.7%,#50ffaf 75.7% 78.1%,#40ffbf 78.2% 80.7%,#30ffcf 80.8% 83.5%,#20ffdf 83.5% 86.4%,#10ffef 86.4% 89.3%,#00ffff 89.4% 92%,#00efff 92% 94.2%,#00dfff 94.3% 96.6%,#00cfff 96.6% 98.9%,#00bfff 98.9% 100%)"></i>
<i style="background:linear-gradient(#00bfff 0 1.1%,#00cfff 1.1% 3.4%,#00dfff 3.4% 5.7%,#00efff 5.8% 8%,#00ffff 8% 10.6%,#10ffef 10.6% 13.6%,#20ffdf 13.6% 16.4%,#30ffcf 16.5% 19.2%,#40ffbf 19.3% 21.8%,#50ffaf 21.8% 24.2%,#60ff9f 24.3% 26.6%,#70ff8f 26.6% 28.9%,#80ff80 28.9% 31%,#8fff70 31.1% 33.7%,#9fff60 33.8% 36.8%,#afff50 36.8% 39.9%,#bfff40 39.9% 43.4%,#cfff30 43.5% 56.6%,#bfff40 56.6% 60.1%,#afff50 60.2% 63.2%,#9fff60 63.2% 66.3%,#8fff70 66.3% 68.9%,#80ff80 69% 71.1%,#70ff8f 71.2% 73.4%,#60ff9f 73.4% 75.7%,#50ffaf 75.8% 78.2%,#40ffbf 78.3% 80.8%,#30ffcf 80.8% 83.5%,#20ffdf 83.6% 86.4%,#10ffef 86.5% 89.4%,#00ffff 89.4% 92%,#00efff 92% 94.3%,#00dfff 94.3% 96.6%,#00cfff 96.6% 98.9%,#00bfff 98.9% 100%)"></i>
<i style="background:linear-gradient(#00bfff 0 1.1%,#00cfff 1.1% 3.4%,#00dfff 3.4% 5.7%,#00efff 5.7% 8%,#00ffff 8% 10.6%,#10ffef 10.6% 13.5%,#20ffdf 13.6% 16.4%,#30ffcf 16.4% 19.1%,#40ffbf 19.2% 21.7%,#50ffaf 21.7% 24.1%,#60ff9f 24.2% 26.5%,#70ff8f 26.5% 28.7%,#80ff80 28.8% 30.9%,#8fff70 31% 33.6%,#9fff60 33.6% 36.6%,#afff50 36.6% 39.6%,#bfff40 39.6% 43%,#cfff30 43% 57%,#bfff40 57% 60.4%,#afff50 60.4% 63.4%,#9fff60 63.4% 66.4%,#8fff70 66.5% 69.1%,#80ff80 69.1% 71.2%,#70ff8f 71.3% 73.5%,#60ff9f 73.5% 75.8%,#50ffaf 75.9% 78.3%,#40ffbf 78.3% 80.8%,#30ffcf 80.9% 83.6%,#20ffdf 83.6% 86.5%,#10ffef 86.5% 89.4%,#00ffff 89.5% 92%,#00efff 92.1% 94.3%,#00dfff 94.3% 96.6%,#00cfff 96.6% 98.9%,#00bfff 98.9% 100%)"></i>
<i style="background:linear-gradient(#00bfff 0 1.1%,#00cfff 1.1% 3.4%,#00dfff 3.4% 5.7%,#00efff 5.7% 7.9%,#00ffff 8% 10.5%,#10ffef 10.6% 13.5%,#20ffdf 13.5% 16.3%,#30ffcf 16.4% 19.1%,#40ffbf 19.1% 21.6%,#50ffaf 21.7% 24.1%,#60ff9f 24.1% 26.4%,#70ff8f 26.4% 28.6%,#80ff80 28.7% 30.8%,#8fff70 30.8% 33.4%,#9fff60 33.5% 36.4%,#afff50 36.4% 39.3%,#bfff40 39.4% 42.6%,#cfff30 42.7% 48.2%,#dfff20 48.3% 51.8%,#cfff30 51.8% 57.4%,#bfff40 57.4% 60.6%,#afff50 60.7% 63.6%,#9fff60 63.6% 66.6%,#8fff70 66.6% 69.2%,#80ff80 69.2% 71.3%,#70ff8f 71.4% 73.6%,#60ff9f 73.6% 75.9%,#50ffaf 76% 78.4%,#40ffbf 78.4% 80.9%,#30ffcf 80.9% 83.6%,#20ffdf 83.7% 86.5%,#10ffef 86.6% 89.4%,#00ffff 89.5% 92%,#00efff 92.1% 94.3%,#00dfff 94.4% 96.6%,#00cfff 96.7% 98.9%,#00bfff 99% 100%)"></i>
<i style="background:linear-gradient(#00bfff 0 1.1%,#00cfff 1.1% 3.3%,#00dfff 3.4% 5.6%,#00efff 5.7% 7.9%,#00ffff 8% 10.5%,#10ffef 10.6% 13.4%,#20ffdf 13.5% 16.3%,#30ffcf 16.3% 19%,#40ffbf 19.1% 21.5%,#50ffaf 21.6% 24%,#60ff9f 24% 26.3%,#70ff8f 26.4% 28.5%,#80ff80 28.6% 30.7%,#8fff70 30.7% 33.2%,#9fff60 33.3% 36.2%,#afff50 36.2% 39.1%,#bfff40 39.1% 42.2%,#cfff30 42.3% 46.9%,#dfff20 46.9% 53.1%,#cfff30 53.1% 57.7%,#bfff40 57.8% 60.9%,#afff50 60.9% 63.8%,#9fff60 63.8% 66.8%,#8fff70 66.8% 69.3%,#80ff80 69.4% 71.4%,#70ff8f 71.5% 73.7%,#60ff9f 73.7% 76%,#50ffaf 76% 78.4%,#40ffbf 78.5% 81%,#30ffcf 81% 83.7%,#20ffdf 83.7% 86.5%,#10ffef 86.6% 89.5%,#00ffff 89.5% 92.1%,#00efff 92.1% 94.3%,#00dfff 94.4% 96.6%,#00cfff 96.7% 98.9%,#00bfff 99% 100%)"></i>
<i style="background:linear-gradient(#00bfff 0 1.1%,#00cfff 1.1% 3.3%,#00dfff 3.4% 5.6%,#00efff 5.7% 7.9%,#00ffff 7.9% 10.5%,#10ffef 10.5% 13.4%,#20ffdf 13.4% 16.2%,#30ffcf 16.3% 19%,#40ffbf 19% 21.5%,#50ffaf 21.5% 23.9%,#60ff9f 23.9% 26.2%,#70ff8f 26.3% 28.4%,#80ff80 28.5% 30.5%,#8fff70 30.5% 33.1%,#9fff60 33.1% 36%,#afff50 36% 38.8%,#bfff40 38.8% 41.9%,#cfff30 41.9% 46%,#dfff20 46.1% 53.9%,#cfff30 54% 58.1%,#bfff40 58.1% 61.2%,#afff50 61.2% 64%,#9fff60 64.1% 66.9%,#8fff70 67% 69.5%,#80ff80 69.5% 71.5%,#70ff8f 71.6% 73.8%,#60ff9f 73.8% 76.1%,#50ffaf 76.1% 78.5%,#40ffbf 78.5% 81%,#30ffcf 81.1% 83.7%,#20ffdf 83.8% 86.6%,#10ffef 86.6% 89.5%,#00ffff 89.6% 92.1%,#00efff 92.1% 94.3%,#00dfff 94.4% 96.6%,#00cfff 96.7% 98.9%,#00bfff 99% 100%)"></i>
<i style="background:linear-gradient(#00bfff 0 1%,#00cfff 1.1% 3.3%,#00dfff 3.4% 5.6%,#00efff 5.7% 7.9%,#00ffff 7.9% 10.4%,#10ffef 10.5% 13.4%,#20ffdf 13.4% 16.2%,#30ffcf 16.2% 18.9%,#40ffbf 19% 21.4%,#50ffaf 21.5% 23.8%,#60ff9f 23.9% 26.1%,#70ff8f 26.2% 28.3%,#80ff80 28.4% 30.4%,#8fff70 30.4% 32.9%,#9fff60 33% 35.8%,#afff50 35.8% 38.6%,#bfff40 38.6% 41.5%,#cfff30 41.5% 45.4%,#dfff20 45.4% 54.6%,#cfff30 54.7% 58.5%,#bfff40 58.5% 61.4%,#afff50 61.5% 64.2%,#9fff60 64.3% 67.1%,#8fff70 67.1% 69.6%,#80ff80 69.6% 71.7%,#70ff8f 71.7% 73.9%,#60ff9f 73.9% 76.2%,#50ffaf 76.2% 78.6%,#40ffbf 78.6% 81.1%,#30ffcf 81.1% 83.8%,#20ffdf 83.8% 86.6%,#10ffef 86.7% 89.5%,#00ffff 89.6% 92.1%,#00efff 92.2% 94.4%,#00dfff 94.5% 96.7%,#00cfff 96.7% 98.9%,#00bfff 99% 100%)"></i>
<i style="background:linear-gradient(#00bfff 0 1%,#00cfff 1.1% 3.3%,#00dfff 3.4% 5.5%,#00efff 5.6% 7.8%,#00ffff 7.9% 10.4%,#10ffef 10.5% 13.3%,#20ffdf 13.4% 16.1%,#30ffcf 16.2% 18.8%,#40ffbf 18.9% 21.3%,#50ffaf 21.4% 23.7%,#60ff9f 23.8% 26%,#70ff8f 26.1% 28.2%,#80ff80 28.3% 30.3%,#8fff70 30.3% 32.8%,#9fff60 32.8% 35.6%,#afff50 35.6% 38.3%,#bfff40 38.4% 41.2%,#cfff30 41.2% 44.8%,#dfff20 44.8% 55.2%,#cfff30 55.2% 58.8%,#bfff40 58.8% 61.6%,#afff50 61.7% 64.4%,#9fff60 64.4% 67.2%,#8fff70 67.3% 69.7%,#80ff80 69.8% 71.8%,#70ff8f 71.8% 73.9%,#60ff9f 74% 76.2%,#50ffaf 76.3% 78.6%,#40ffbf 78.7% 81.1%,#30ffcf 81.2% 83.8%,#20ffdf 83.9% 86.7%,#10ffef 86.7% 89.6%,#00ffff 89.6% 92.1%,#00efff 92.2% 94.4%,#00dfff 94.5% 96.7%,#00cfff 96.7% 98.9%,#00bfff 99% 100%)"></i>
<i style="background:linear-gradient(#00bfff 0 1%,#00cfff 1.1% 3.3%,#00dfff 3.3% 5.5%,#00efff 5.6% 7.8%,#00ffff 7.9% 10.4%,#10ffef 10.4% 13.3%,#20ffdf 13.3% 16.1%,#30ffcf 16.2% 18.8%,#40ffbf 18.8% 21.3%,#50ffaf 21.3% 23.7%,#60ff9f 23.7% 25.9%,#70ff8f 26% 28.1%,#80ff80 28.2% 30.1%,#8fff70 30.2% 32.6%,#9fff60 32.7% 35.4%,#afff50 35.5% 38.1%,#bfff40 38.2% 40.9%,#cfff30 40.9% 44.2%,#dfff20 44.3% 55.8%,#cfff30 55.8% 59.1%,#bfff40 59.1% 61.9%,#afff50 61.9% 64.6%,#9fff60 64.6% 67.3%,#8fff70 67.4% 69.8%,#80ff80 69.9% 71.9%,#70ff8f 71.9% 74%,#60ff9f 74.1% 76.3%,#50ffaf 76.4% 78.7%,#40ffbf 78.7% 81.2%,#30ffcf 81.2% 83.9%,#20ffdf 83.9% 86.7%,#10ffef 86.8% 89.6%,#00ffff 89.6% 92.2%,#00efff 92.2% 94.5%,#00dfff 94.5% 96.7%,#00cfff 96.7% 99%,#00bfff 99% 100%)"></i>
<i style="background:linear-gradient(#00bfff 0 1%,#00cfff 1.1% 3.3%,#00dfff 3.3% 5.5%,#00efff 5.6% 7.8%,#00ffff 7.8% 10.4%,#10ffef 10.4% 13.2%,#20ffdf 13.3% 16.1%,#30ffcf 16.1% 18.7%,#40ffbf 18.8% 21.2%,#50ffaf 21.3% 23.6%,#60ff9f 23.6% 25.9%,#70ff8f 25.9% 28%,#80ff80 28.1% 30%,#8fff70 30.1% 32.5%,#9fff60 32.5% 35.3%,#afff50 35.3% 37.9%,#bfff40 37.9% 40.6%,#cfff30 40.6% 43.7%,#dfff20 43.8% 56.2%,#cfff30 56.3% 59.4%,#bfff40 59.4% 62.1%,#afff50 62.1% 64.7%,#9fff60 64.8% 67.5%,#8fff70 67.5% 69.9%,#80ff80 70% 72%,#70ff8f 72% 74.1%,#60ff9f 74.2% 76.4%,#50ffaf 76.4% 78.8%,#40ffbf 78.8% 81.2%,#30ffcf 81.3% 83.9%,#20ffdf 84% 86.7%,#10ffef 86.8% 89.6%,#00ffff 89.7% 92.2%,#00efff 92.2% 94.5%,#00dfff 94.5% 96.7%,#00cfff 96.7% 99%,#00bfff 99% 100%)"></i>
<i style="background:linear-gradient(#00bfff 0 1%,#00cfff 1.1% 3.3%,#00dfff 3.3% 5.5%,#00efff 5.5% 7.8%,#00ffff 7.8% 10.3%,#10ffef 10.4% 13.2%,#20ffdf 13.3% 16%,#30ffcf 16.1% 18.7%,#40ffbf 18.7% 21.2%,#50ffaf 21.2% 23.5%,#60ff9f 23.6% 25.8%,#70ff8f 25.8% 27.9%,#80ff80 28% 29.9%,#8fff70 30% 32.4%,#9fff60 32.4% 35.1%,#afff50 35.1% 37.7%,#bfff40 37.7% 40.3%,#cfff30 40.4% 43.3%,#dfff20 43.4% 49%,#efff10 49% 51%,#dfff20 51% 56.7%,#cfff30 56.7% 59.7%,#bfff40 59.7% 62.3%,#afff50 62.3% 64.9%,#9fff60 64.9% 67.6%,#8fff70 67.7% 70%,#80ff80 70.1% 72%,#70ff8f 72.1% 74.2%,#60ff9f 74.3% 76.5%,#50ffaf 76.5% 78.8%,#40ffbf 78.9% 81.3%,#30ffcf 81.3% 84%,#20ffdf 84% 86.8%,#10ffef 86.8% 89.7%,#00ffff 89.7% 92.2%,#00efff 92.3% 94.5%,#00dfff 94.5% 96.7%,#00cfff 96.8% 99%,#00bfff 99% 100%)"></i>
<i style="background:linear-gradient(#00bfff 0 1%,#00cfff 1% 3.3%,#00dfff 3.3% 5.5%,#00efff 5.5% 7.7%,#00ffff 7.8% 10.3%,#10ffef 10.3% 13.2%,#20ffdf 13.2% 16%,#30ffcf 16% 18.6%,#40ffbf 18.7% 21.1%,#50ffaf 21.1% 23.4%,#60ff9f 23.5% 25.7%,#70ff8f 25.7% 27.8%,#80ff80 27.9% 29.8%,#8fff70 29.9% 32.2%,#9fff60 32.3% 34.9%,#afff50 35% 37.5%,#bfff40 37.5% 40%,#cfff30 40.1% 42.9%,#dfff20 43% 47.4%,#efff10 47.4% 52.6%,#dfff20 52.7% 57.1%,#cfff30 57.1% 59.9%,#bfff40 60% 62.5%,#afff50 62.5% 65%,#9fff60 65.1% 67.7%,#8fff70 67.8% 70.2%,#80ff80 70.2% 72.1%,#70ff8f 72.2% 74.3%,#60ff9f 74.3% 76.5%,#50ffaf 76.6% 78.9%,#40ffbf 78.9% 81.3%,#30ffcf 81.4% 84%,#20ffdf 84.1% 86.8%,#10ffef 86.9% 89.7%,#00ffff 89.7% 92.2%,#00efff 92.3% 94.5%,#00dfff 94.5% 96.7%,#00cfff 96.8% 99%,#00bfff 99% 100%)"></i>
<i style="background:linear-gradient(#00bfff 0 1%,#00cfff 1% 3.2%,#00dfff 3.3% 5.5%,#00efff 5.5% 7.7%,#00ffff 7.8% 10.3%,#10ffef 10.3% 13.1%,#20ffdf 13.2% 15.9%,#30ffcf 16% 18.6%,#40ffbf 18.6% 21%,#50ffaf 21.1% 23.4%,#60ff9f 23.4% 25.6%,#70ff8f 25.7% 27.7%,#80ff80 27.7% 29.7%,#8fff70 29.8% 32.1%,#9fff60 32.1% 34.8%,#afff50 34.8% 37.3%,#bfff40 37.3% 39.8%,#cfff30 39.8% 42.5%,#dfff20 42.6% 46.4%,#efff10 46.4% 53.6%,#dfff20 53.6% 57.4%,#cfff30 57.5% 60.2%,#bfff40 60.2% 62.7%,#afff50 62.7% 65.2%,#9fff60 65.3% 67.9%,#8fff70 67.9% 70.3%,#80ff80 70.3% 72.3%,#70ff8f 72.3% 74.4%,#60ff9f 74.4% 76.6%,#50ffaf 76.6% 78.9%,#40ffbf 79% 81.4%,#30ffcf 81.4% 84%,#20ffdf 84.1% 86.8%,#10ffef 86.9% 89.7%,#00ffff 89.8% 92.3%,#00efff 92.3% 94.5%,#00dfff 94.6% 96.7%,#00cfff 96.8% 99%,#00bfff 99% 100%)"></i>
<i style="background:linear-gradient(#00bfff 0 1%,#00cfff 1% 3.2%,#00dfff 3.3% 5.4%,#00efff 5.5% 7.7%,#00ffff 7.8% 10.2%,#10ffef 10.3% 13.1%,#20ffdf 13.1% 15.9%,#30ffcf 15.9% 18.5%,#40ffbf 18.6% 21%,#50ffaf 21% 23.3%,#60ff9f 23.4% 25.5%,#70ff8f 25.6% 27.6%,#80ff80 27.6% 29.6%,#8fff70 29.7% 32%,#9fff60 32% 34.6%,#afff50 34.7% 37.1%,#bfff40 37.1% 39.5%,#cfff30 39.6% 42.2%,#dfff20 42.2% 45.7%,#efff10 45.7% 54.3%,#dfff20 54.4% 57.8%,#cfff30 57.8% 60.4%,#bfff40 60.5% 62.9%,#afff50 62.9% 65.4%,#9fff60 65.4% 68%,#8fff70 68.1% 70.4%,#80ff80 70.4% 72.4%,#70ff8f 72.4% 74.4%,#60ff9f 74.5% 76.7%,#50ffaf 76.7% 79%,#40ffbf 79.1% 81.4%,#30ffcf 81.5% 84.1%,#20ffdf 84.1% 86.9%,#10ffef 86.9% 89.7%,#00ffff 89.8% 92.3%,#00efff 92.3% 94.5%,#00dfff 94.6% 96.7%,#00cfff 96.8% 99%,#00bfff 99% 100%)"></i>
<i style="background:linear-gradient(#00bfff 0 1%,#00cfff 1% 3.2%,#00dfff 3.3% 5.4%,#00efff 5.5% 7.7%,#00ffff 7.7% 10.2%,#10ffef 10.3% 13.1%,#20ffdf 13.1% 15.8%,#30ffcf 15.9% 18.5%,#40ffbf 18.5% 20.9%,#50ffaf 21% 23.2%,#60ff9f 23.3% 25.5%,#70ff8f 25.5% 27.5%,#80ff80 27.6% 29.5%,#8fff70 29.6% 31.8%,#9fff60 31.9% 34.5%,#afff50 34.5% 36.9%,#bfff40 36.9% 39.3%,#cfff30 39.4% 41.9%,#dfff20 41.9% 45.1%,#efff10 45.1% 54.9%,#dfff20 55% 58.1%,#cfff30 58.2% 60.7%,#bfff40 60.7% 63.1%,#afff50 63.1% 65.5%,#9fff60 65.6% 68.1%,#8fff70 68.2% 70.5%,#80ff80 70.5% 72.5%,#70ff8f 72.5% 74.5%,#60ff9f 74.6% 76.7%,#50ffaf 76.8% 79.1%,#40ffbf 79.1% 81.5%,#30ffcf 81.5% 84.1%,#20ffdf 84.2% 86.9%,#10ffef 87% 89.8%,#00ffff 89.8% 92.3%,#00efff 92.3% 94.5%,#00dfff 94.6% 96.8%,#00cfff 96.8% 99%,#00bfff 99.1% 100%)"></i>
<i style="background:linear-gradient(#00bfff 0 1%,#00cfff 1% 3.2%,#00dfff 3.3% 5.4%,#00efff 5.5% 7.7%,#00ffff 7.7% 10.2%,#10ffef 10.2% 13%,#20ffdf 13.1% 15.8%,#30ffcf 15.9% 18.4%,#40ffbf 18.5% 20.9%,#50ffaf 20.9% 23.2%,#60ff9f 23.2% 25.4%,#70ff8f 25.4% 27.4%,#80ff80 27.5% 29.4%,#8fff70 29.5% 31.7%,#9fff60 31.8% 34.3%,#afff50 34.4% 36.7%,#bfff40 36.8% 39.1%,#cfff30 39.1% 41.5%,#dfff20 41.5% 44.5%,#efff10 44.6% 55.4%,#dfff20 55.5% 58.5%,#cfff30 58.5% 60.9%,#bfff40 61% 63.3%,#afff50 63.3% 65.7%,#9fff60 65.7% 68.3%,#8fff70 68.3% 70.6%,#80ff80 70.6% 72.6%,#70ff8f 72.6% 74.6%,#60ff9f 74.6% 76.8%,#50ffaf 76.9% 79.1%,#40ffbf 79.2% 81.5%,#30ffcf 81.6% 84.2%,#20ffdf 84.2% 86.9%,#10ffef 87% 89.8%,#00ffff 89.8% 92.3%,#00efff 92.4% 94.6%,#00dfff 94.6% 96.8%,#00cfff 96.8% 99%,#00bfff 99.1% 100%)"></i>
<i style="background:linear-gradient(#00bfff 0 1%,#00cfff 1% 3.2%,#00dfff 3.3% 5.4%,#00efff 5.5% 7.6%,#00ffff 7.7% 10.2%,#10ffef 10.2% 13%,#20ffdf 13.1% 15.8%,#30ffcf 15.8% 18.4%,#40ffbf 18.4% 20.8%,#50ffaf 20.8% 23.1%,#60ff9f 23.2% 25.3%,#70ff8f 25.4% 27.3%,#80ff80 27.4% 29.3%,#8fff70 29.4% 31.6%,#9fff60 31.6% 34.2%,#afff50 34.2% 36.5%,#bfff40 36.6% 38.8%,#cfff30 38.8% 41.2%,#dfff20 41.2% 44%,#efff10 44.1% 56%,#dfff20 56% 58.8%,#cfff30 58.8% 61.2%,#bfff40 61.2% 63.4%,#afff50 63.5% 65.8%,#9fff60 65.9% 68.4%,#8fff70 68.4% 70.7%,#80ff80 70.7% 72.6%,#70ff8f 72.7% 74.7%,#60ff9f 74.7% 76.9%,#50ffaf 76.9% 79.2%,#40ffbf 79.2% 81.6%,#30ffcf 81.6% 84.2%,#20ffdf 84.3% 87%,#10ffef 87% 89.8%,#00ffff 89.9% 92.3%,#00efff 92.4% 94.6%,#00dfff 94.6% 96.8%,#00cfff 96.8% 99%,#00bfff 99.1% 100%)"></i>
<i style="background:linear-gradient(#00bfff 0 1%,#00cfff 1% 3.2%,#00dfff 3.2% 5.4%,#00efff 5.4% 7.6%,#00ffff 7.7% 10.1%,#10ffef 10.2% 13%,#20ffdf 13% 15.7%,#30ffcf 15.8% 18.3%,#40ffbf 18.4% 20.7%,#50ffaf 20.8% 23%,#60ff9f 23.1% 25.2%,#70ff8f 25.3% 27.2%,#80ff80 27.3% 29.2%,#8fff70 29.3% 31.5%,#9fff60 31.5% 34%,#afff50 34.1% 36.4%,#bfff40 36.4% 38.6%,#cfff30 38.6% 40.9%,#dfff20 41% 43.6%,#efff10 43.6% 48%,#ffff00 48% 52%,#efff10 52% 56.4%,#dfff20 56.4% 59.1%,#cfff30 59.1% 61.4%,#bfff40 61.5% 63.6%,#afff50 63.7% 66%,#9fff60 66% 68.5%,#8fff70 68.5% 70.8%,#80ff80 70.8% 72.7%,#70ff8f 72.8% 74.7%,#60ff9f 74.8% 76.9%,#50ffaf 77% 79.2%,#40ffbf 79.3% 81.6%,#30ffcf 81.7% 84.3%,#20ffdf 84.3% 87%,#10ffef 87.1% 89.8%,#00ffff 89.9% 92.3%,#00efff 92.4% 94.6%,#00dfff 94.6% 96.8%,#00cfff 96.8% 99%,#00bfff 99.1% 100%)"></i>
<i style="background:linear-gradient(#00bfff 0 0.9%,#00cfff 1% 3.2%,#00dfff 3.2% 5.4%,#00efff 5.4% 7.6%,#00ffff 7.7% 10.1%,#10ffef 10.2% 12.9%,#20ffdf 13% 15.7%,#30ffcf 15.7% 18.3%,#40ffbf 18.3% 20.7%,#50ffaf 20.7% 23%,#60ff9f 23% 25.2%,#70ff8f 25.2% 27.2%,#80ff80 27.2% 29.1%,#8fff70 29.2% 31.4%,#9fff60 31.4% 33.9%,#afff50 33.9% 36.2%,#bfff40 36.2% 38.4%,#cfff30 38.4% 40.6%,#dfff20 40.7% 43.2%,#efff10 43.2% 46.8%,#ffff00 46.9% 53.1%,#efff10 53.2% 56.8%,#dfff20 56.9% 59.4%,#cfff30 59.4% 61.6%,#bfff40 61.7% 63.8%,#afff50 63.8% 66.1%,#9fff60 66.2% 68.6%,#8fff70 68.7% 70.9%,#80ff80 70.9% 72.8%,#70ff8f 72.9% 74.8%,#60ff9f 74.9% 77%,#50ffaf 77% 79.3%,#40ffbf 79.3% 81.7%,#30ffcf 81.7% 84.3%,#20ffdf 84.3% 87%,#10ffef 87.1% 89.9%,#00ffff 89.9% 92.4%,#00efff 92.4% 94.6%,#00dfff 94.6% 96.8%,#00cfff 96.8% 99%,#00bfff 99.1% 100%)"></i>
<i style="background:linear-gradient(#00bfff 0 0.9%,#00cfff 1% 3.2%,#00dfff 3.2% 5.4%,#00efff 5.4% 7.6%,#00ffff 7.6% 10.1%,#10ffef 10.1% 12.9%,#20ffdf 13% 15.6%,#30ffcf 15.7% 18.2%,#40ffbf 18.3% 20.6%,#50ffaf 20.7% 22.9%,#60ff9f 23% 25.1%,#70ff8f 25.1% 27.1%,#80ff80 27.1% 29%,#8fff70 29.1% 31.2%,#9fff60 31.3% 33.7%,#afff50 33.8% 36%,#bfff40 36% 38.1%,#cfff30 38.2% 40.4%,#dfff20 40.4% 42.8%,#efff10 42.8% 46.1%,#ffff00 46.1% 53.9%,#efff10 54% 57.2%,#dfff20 57.2% 59.6%,#cfff30 59.7% 61.8%,#bfff40 61.9% 64%,#afff50 64.1% 66.2%,#9fff60 66.3% 68.7%,#8fff70 68.8% 70.9%,#80ff80 71% 72.9%,#70ff8f 72.9% 74.9%,#60ff9f 74.9% 77.1%,#50ffaf 77.1% 79.3%,#40ffbf 79.4% 81.7%,#30ffcf 81.8% 84.3%,#20ffdf 84.4% 87.1%,#10ffef 87.1% 89.9%,#00ffff 89.9% 92.4%,#00efff 92.4% 94.6%,#00dfff 94.7% 96.8%,#00cfff 96.9% 99%,#00bfff 99.1% 100%)"></i>
<i style="background:linear-gradient(#00bfff 0 0.9%,#00cfff 1% 3.2%,#00dfff 3.2% 5.4%,#00efff 5.4% 7.6%,#00ffff 7.6% 10.1%,#10ffef 10.1% 12.9%,#20ffdf 12.9% 15.6%,#30ffcf 15.7% 18.2%,#40ffbf 18.3% 20.6%,#50ffaf 20.6% 22.9%,#60ff9f 22.9% 25%,#70ff8f 25.1% 27%,#80ff80 27.1% 28.9%,#8fff70 29% 31.1%,#9fff60 31.2% 33.6%,#afff50 33.6% 35.8%,#bfff40 35.8% 37.9%,#cfff30 38% 40.1%,#dfff20 40.1% 42.4%,#efff10 42.5% 45.4%,#ffff00 45.5% 54.6%,#efff10 54.6% 57.5%,#dfff20 57.6% 59.9%,#cfff30 59.9% 62%,#bfff40 62.1% 64.2%,#afff50 64.2% 66.4%,#9fff60 66.4% 68.8%,#8fff70 68.9% 71%,#80ff80 71.1% 73%,#70ff8f 73% 75%,#60ff9f 75.1% 77.1%,#50ffaf 77.2% 79.4%,#40ffbf 79.4% 81.8%,#30ffcf 81.8% 84.4%,#20ffdf 84.4% 87.1%,#10ffef 87.1% 89.9%,#00ffff 89.9% 92.4%,#00efff 92.4% 94.6%,#00dfff 94.7% 96.8%,#00cfff 96.9% 99%,#00bfff 99.1% 100%)"></i>
<i style="background:linear-gradient(#00bfff 0 0.9%,#00cfff 1% 3.2%,#00dfff 3.2% 5.3%,#00efff 5.4% 7.6%,#00ffff 7.6% 10.1%,#10ffef 10.1% 12.9%,#20ffdf 12.9% 15.6%,#30ffcf 15.6% 18.2%,#40ffbf 18.2% 20.5%,#50ffaf 20.6% 22.8%,#60ff9f 22.8% 24.9%,#70ff8f 24.9% 26.9%,#80ff80 27% 28.8%,#8fff70 28.9% 31%,#9fff60 31.1% 33.4%,#afff50 33.5% 35.6%,#bfff40 35.7% 37.7%,#cfff30 37.8% 39.8%,#dfff20 39.9% 42.1%,#efff10 42.2% 44.9%,#ffff00 44.9% 55.1%,#efff10 55.2% 57.9%,#dfff20 57.9% 60.1%,#cfff30 60.2% 62.2%,#bfff40 62.3% 64.3%,#afff50 64.4% 66.5%,#9fff60 66.6% 69%,#8fff70 69% 71.1%,#80ff80 71.2% 73.1%,#70ff8f 73.1% 75.1%,#60ff9f 75.1% 77.2%,#50ffaf 77.2% 79.4%,#40ffbf 79.5% 81.8%,#30ffcf 81.9% 84.4%,#20ffdf 84.4% 87.1%,#10ffef 87.2% 89.9%,#00ffff 90% 92.4%,#00efff 92.5% 94.6%,#00dfff 94.7% 96.8%,#00cfff 96.9% 99%,#00bfff 99.1% 100%)"></i>
<i style="background:linear-gradient(#00bfff 0 0.9%,#00cfff 1% 3.1%,#00dfff 3.2% 5.3%,#00efff 5.4% 7.6%,#00ffff 7.6% 10%,#10ffef 10.1% 12.8%,#20ffdf 12.9% 15.5%,#30ffcf 15.6% 18.1%,#40ffbf 18.2% 20.5%,#50ffaf 20.5% 22.7%,#60ff9f 22.8% 24.8%,#70ff8f 24.9% 26.8%,#80ff80 26.9% 28.8%,#8fff70 28.8% 30.9%,#9fff60 31% 33.3%,#afff50 33.4% 35.5%,#bfff40 35.5% 37.5%,#cfff30 37.6% 39.6%,#dfff20 39.7% 41.8%,#efff10 41.8% 44.3%,#ffff00 44.4% 55.7%,#efff10 55.7% 58.2%,#dfff20 58.2% 60.4%,#cfff30 60.4% 62.4%,#bfff40 62.5% 64.5%,#afff50 64.6% 66.7%,#9fff60 66.8% 69.1%,#8fff70 69.1% 71.2%,#80ff80 71.3% 73.1%,#70ff8f 73.2% 75.2%,#60ff9f 75.2% 77.2%,#50ffaf 77.3% 79.5%,#40ffbf 79.5% 81.9%,#30ffcf 81.9% 84.4%,#20ffdf 84.5% 87.1%,#10ffef 87.2% 89.9%,#00ffff 90% 92.4%,#00efff 92.5% 94.6%,#00dfff 94.7% 96.8%,#00cfff 96.9% 99.1%,#00bfff 99.1% 100%)"></i>
<i style="background:linear-gradient(#00bfff 0 0.9%,#00cfff 1% 3.1%,#00dfff 3.2% 5.3%,#00efff 5.4% 7.5%,#00ffff 7.6% 10%,#10ffef 10.1% 12.8%,#20ffdf 12.8% 15.5%,#30ffcf 15.6% 18.1%,#40ffbf 18.1% 20.4%,#50ffaf 20.5% 22.7%,#60ff9f 22.7% 24.8%,#70ff8f 24.8% 26.8%,#80ff80 26.8% 28.7%,#8fff70 28.7% 30.8%,#9fff60 30.8% 33.1%,#afff50 33.2% 35.3%,#bfff40 35.4% 37.3%,#cfff30 37.4% 39.4%,#dfff20 39.4% 41.4%,#efff10 41.5% 43.9%,#ffff00 43.9% 47.7%,#ffef00 47.7% 52.3%,#ffff00 52.3% 56.1%,#efff10 56.2% 58.6%,#dfff20 58.6% 60.6%,#cfff30 60.7% 62.6%,#bfff40 62.7% 64.7%,#afff50 64.7% 66.8%,#9fff60 66.9% 69.2%,#8fff70 69.2% 71.3%,#80ff80 71.4% 73.2%,#70ff8f 73.3% 75.2%,#60ff9f 75.3% 77.3%,#50ffaf 77.3% 79.5%,#40ffbf 79.6% 81.9%,#30ffcf 82% 84.5%,#20ffdf 84.5% 87.2%,#10ffef 87.2% 90%,#00ffff 90% 92.4%,#00efff 92.5% 94.7%,#00dfff 94.7% 96.8%,#00cfff 96.9% 99.1%,#00bfff 99.1% 100%)"></i>
<i style="background:linear-gradient(#00bfff 0 0.9%,#00cfff 1% 3.1%,#00dfff 3.2% 5.3%,#00efff 5.4% 7.5%,#00ffff 7.6% 10%,#10ffef 10% 12.8%,#20ffdf 12.8% 15.5%,#30ffcf 15.5% 18%,#40ffbf 18.1% 20.4%,#50ffaf 20.4% 22.6%,#60ff9f 22.7% 24.7%,#70ff8f 24.7% 26.7%,#80ff80 26.7% 28.6%,#8fff70 28.6% 30.7%,#9fff60 30.7% 33%,#afff50 33% 35.1%,#bfff40 35.2% 37.2%,#cfff30 37.2% 39.1%,#dfff20 39.2% 41.1%,#efff10 41.2% 43.4%,#ffff00 43.5% 46.7%,#ffef00 46.7% 53.3%,#ffff00 53.4% 56.5%,#efff10 56.6% 58.8%,#dfff20 58.9% 60.8%,#cfff30 60.9% 62.8%,#bfff40 62.9% 64.8%,#afff50 64.9% 67%,#9fff60 67% 69.3%,#8fff70 69.3% 71.4%,#80ff80 71.4% 73.3%,#70ff8f 73.3% 75.3%,#60ff9f 75.3% 77.4%,#50ffaf 77.4% 79.6%,#40ffbf 79.6% 81.9%,#30ffcf 82% 84.5%,#20ffdf 84.6% 87.2%,#10ffef 87.3% 90%,#00ffff 90% 92.5%,#00efff 92.5% 94.7%,#00dfff 94.7% 96.8%,#00cfff 96.9% 99.1%,#00bfff 99.1% 100%)"></i>
<i style="background:linear-gradient(#00bfff 0 0.9%,#00cfff 1% 3.1%,#00dfff 3.2% 5.3%,#00efff 5.3% 7.5%,#00ffff 7.6% 10%,#10ffef 10% 12.7%,#20ffdf 12.8% 15.4%,#30ffcf 15.5% 18%,#40ffbf 18% 20.3%,#50ffaf 20.4% 22.6%,#60ff9f 22.6% 24.6%,#70ff8f 24.7% 26.6%,#80ff80 26.7% 28.5%,#8fff70 28.5% 30.5%,#9fff60 30.6% 32.9%,#afff50 32.9% 35%,#bfff40 35% 37%,#cfff30 37% 38.9%,#dfff20 39% 40.8%,#efff10 40.9% 43.1%,#ffff00 43.1% 45.9%,#ffef00 46% 54%,#ffff00 54.1% 56.9%,#efff10 57% 59.1%,#dfff20 59.2% 61.1%,#cfff30 61.2% 63%,#bfff40 63.1% 65%,#afff50 65% 67.1%,#9fff60 67.2% 69.5%,#8fff70 69.5% 71.5%,#80ff80 71.5% 73.4%,#70ff8f 73.4% 75.3%,#60ff9f 75.4% 77.4%,#50ffaf 77.5% 79.6%,#40ffbf 79.7% 82%,#30ffcf 82% 84.5%,#20ffdf 84.6% 87.2%,#10ffef 87.3% 90%,#00ffff 90.1% 92.5%,#00efff 92.5% 94.7%,#00dfff 94.7% 96.8%,#00cfff 96.9% 99.1%,#00bfff 99.1% 100%)"></i>
<i style="background:linear-gradient(#00bfff 0 0.9%,#00cfff 1% 3.1%,#00dfff 3.2% 5.3%,#00efff 5.3% 7.5%,#00ffff 7.5% 10%,#10ffef 10% 12.7%,#20ffdf 12.8% 15.4%,#30ffcf 15.5% 18%,#40ffbf 18% 20.3%,#50ffaf 20.3% 22.5%,#60ff9f 22.6% 24.6%,#70ff8f 24.6% 26.5%,#80ff80 26.6% 28.4%,#8fff70 28.5% 30.4%,#9fff60 30.5% 32.7%,#afff50 32.8% 34.8%,#bfff40 34.9% 36.8%,#cfff30 36.8% 38.6%,#dfff20 38.7% 40.6%,#efff10 40.6% 42.7%,#ffff00 42.7% 45.3%,#ffef00 45.4% 54.7%,#ffff00 54.7% 57.3%,#efff10 57.3% 59.4%,#dfff20 59.5% 61.3%,#cfff30 61.4% 63.2%,#bfff40 63.2% 65.1%,#afff50 65.2% 67.2%,#9fff60 67.3% 69.6%,#8fff70 69.6% 71.6%,#80ff80 71.6% 73.4%,#70ff8f 73.5% 75.4%,#60ff9f 75.5% 77.5%,#50ffaf 77.5% 79.7%,#40ffbf 79.7% 82%,#30ffcf 82.1% 84.6%,#20ffdf 84.6% 87.3%,#10ffef 87.3% 90%,#00ffff 90.1% 92.5%,#00efff 92.5% 94.7%,#00dfff 94.7% 96.9%,#00cfff 96.9% 99.1%,#00bfff 99.1% 100%)"></i>
<i style="background:linear-gradient(#00bfff 0 0.9%,#00cfff 1% 3.1%,#00dfff 3.2% 5.3%,#00efff 5.3% 7.5%,#00ffff 7.5% 9.9%,#10ffef 10% 12.7%,#20ffdf 12.7% 15.4%,#30ffcf 15.4% 17.9%,#40ffbf 18% 20.2%,#50ffaf 20.3% 22.5%,#60ff9f 22.5% 24.5%,#70ff8f 24.5% 26.5%,#80ff80 26.5% 28.3%,#8fff70 28.4% 30.3%,#9fff60 30.4% 32.6%,#afff50 32.7% 34.7%,#bfff40 34.7% 36.6%,#cfff30 36.7% 38.4%,#dfff20 38.5% 40.3%,#efff10 40.4% 42.3%,#ffff00 42.4% 44.8%,#ffef00 44.8% 55.2%,#ffff00 55.2% 57.6%,#efff10 57.7% 59.7%,#dfff20 59.7% 61.6%,#cfff30 61.6% 63.4%,#bfff40 63.4% 65.3%,#afff50 65.3% 67.4%,#9fff60 67.4% 69.7%,#8fff70 69.7% 71.6%,#80ff80 71.7% 73.5%,#70ff8f 73.6% 75.5%,#60ff9f 75.5% 77.5%,#50ffaf 77.6% 79.7%,#40ffbf 79.8% 82.1%,#30ffcf 82.1% 84.6%,#20ffdf 84.7% 87.3%,#10ffef 87.3% 90%,#00ffff 90.1% 92.5%,#00efff 92.5% 94.7%,#00dfff 94.8% 96.9%,#00cfff 96.9% 99.1%,#00bfff 99.1% 100%)"></i>
<i style="background:linear-gradient(#00bfff 0 0.9%,#00cfff 0.9% 3.1%,#00dfff 3.2% 5.3%,#00efff 5.3% 7.5%,#00ffff 7.5% 9.9%,#10ffef 10% 12.7%,#20ffdf 12.7% 15.3%,#30ffcf 15.4% 17.9%,#40ffbf 17.9% 20.2%,#50ffaf 20.2% 22.4%,#60ff9f 22.4% 24.4%,#70ff8f 24.5% 26.4%,#80ff80 26.5% 28.3%,#8fff70 28.3% 30.2%,#9fff60 30.3% 32.5%,#afff50 32.5% 34.5%,#bfff40 34.6% 36.4%,#cfff30 36.5% 38.2%,#dfff20 38.3% 40%,#efff10 40.1% 42%,#ffff00 42.1% 44.2%,#ffef00 44.3% 47.7%,#ffdf00 47.7% 52.3%,#ffef00 52.3% 55.7%,#ffff00 55.8% 58%,#efff10 58% 59.9%,#dfff20 60% 61.8%,#cfff30 61.8% 63.5%,#bfff40 63.6% 65.4%,#afff50 65.5% 67.5%,#9fff60 67.5% 69.8%,#8fff70 69.8% 71.7%,#80ff80 71.8% 73.6%,#70ff8f 73.6% 75.5%,#60ff9f 75.6% 77.6%,#50ffaf 77.6% 79.8%,#40ffbf 79.8% 82.1%,#30ffcf 82.2% 84.6%,#20ffdf 84.7% 87.3%,#10ffef 87.4% 90.1%,#00ffff 90.1% 92.5%,#00efff 92.6% 94.7%,#00dfff 94.8% 96.9%,#00cfff 96.9% 99.1%,#00bfff 99.1% 100%)"></i>
<i style="background:linear-gradient(#00bfff 0 0.9%,#00cfff 0.9% 3.1%,#00dfff 3.1% 5.3%,#00efff 5.3% 7.5%,#00ffff 7.5% 9.9%,#10ffef 9.9% 12.6%,#20ffdf 12.7% 15.3%,#30ffcf 15.4% 17.8%,#40ffbf 17.9% 20.1%,#50ffaf 20.2% 22.3%,#60ff9f 22.4% 24.4%,#70ff8f 24.4% 26.3%,#80ff80 26.4% 28.2%,#8fff70 28.2% 30.1%,#9fff60 30.2% 32.4%,#afff50 32.4% 34.4%,#bfff40 34.4% 36.3%,#cfff30 36.3% 38%,#dfff20 38.1% 39.8%,#efff10 39.8% 41.6%,#ffff00 41.7% 43.8%,#ffef00 43.9% 46.7%,#ffdf00 46.8% 53.3%,#ffef00 53.3% 56.2%,#ffff00 56.2% 58.3%,#efff10 58.4% 60.2%,#dfff20 60.2% 62%,#cfff30 62% 63.7%,#bfff40 63.8% 65.6%,#afff50 65.6% 67.6%,#9fff60 67.7% 69.9%,#8fff70 69.9% 71.8%,#80ff80 71.9% 73.6%,#70ff8f 73.7% 75.6%,#60ff9f 75.7% 77.6%,#50ffaf 77.7% 79.8%,#40ffbf 79.9% 82.1%,#30ffcf 82.2% 84.7%,#20ffdf 84.7% 87.3%,#10ffef 87.4% 90.1%,#00ffff 90.1% 92.5%,#00efff 92.6% 94.7%,#00dfff 94.8% 96.9%,#00cfff 96.9% 99.1%,#00bfff 99.1% 100%)"></i>
<i style="background:linear-gradient(#00bfff 0 0.9%,#00cfff 0.9% 3.1%,#00dfff 3.1% 5.2%,#00efff 5.3% 7.4%,#00ffff 7.5% 9.9%,#10ffef 9.9% 12.6%,#20ffdf 12.7% 15.3%,#30ffcf 15.3% 17.8%,#40ffbf 17.8% 20.1%,#50ffaf 20.2% 22.3%,#60ff9f 22.3% 24.3%,#70ff8f 24.4% 26.3%,#80ff80 26.3% 28.1%,#8fff70 28.1% 30%,#9fff60 30.1% 32.2%,#afff50 32.3% 34.2%,#bfff40 34.3% 36%,#cfff30 36.1% 37.8%,#dfff20 37.9% 39.6%,#efff10 39.6% 41.3%,#ffff00 41.4% 43.4%,#ffef00 43.4% 46%,#ffdf00 46% 54%,#ffef00 54% 56.6%,#ffff00 56.6% 58.6%,#efff10 58.7% 60.4%,#dfff20 60.5% 62.2%,#cfff30 62.2% 63.9%,#bfff40 64% 65.7%,#afff50 65.8% 67.7%,#9fff60 67.8% 70%,#8fff70 70% 71.9%,#80ff80 71.9% 73.7%,#70ff8f 73.8% 75.7%,#60ff9f 75.7% 77.7%,#50ffaf 77.7% 79.9%,#40ffbf 79.9% 82.2%,#30ffcf 82.2% 84.7%,#20ffdf 84.7% 87.4%,#10ffef 87.4% 90.1%,#00ffff 90.2% 92.5%,#00efff 92.6% 94.7%,#00dfff 94.8% 96.9%,#00cfff 96.9% 99.1%,#00bfff 99.1% 100%)"></i>
<i style="background:linear-gradient(#00bfff 0 0.9%,#00cfff 0.9% 3.1%,#00dfff 3.1% 5.2%,#00efff 5.3% 7.4%,#00ffff 7.5% 9.9%,#10ffef 9.9% 12.6%,#20ffdf 12.6% 15.2%,#30ffcf 15.3% 17.8%,#40ffbf 17.8% 20.1%,#50ffaf 20.1% 22.2%,#60ff9f 22.3% 24.3%,#70ff8f 24.3% 26.2%,#80ff80 26.2% 28%,#8fff70 28.1% 29.9%,#9fff60 29.9% 32.1%,#afff50 32.2% 34.1%,#bfff40 34.2% 35.9%,#cfff30 35.9% 37.6%,#dfff20 37.7% 39.3%,#efff10 39.4% 41%,#ffff00 41.1% 43%,#ffef00 43.1% 45.4%,#ffdf00 45.4% 54.6%,#ffef00 54.6% 57%,#ffff00 57% 58.9%,#efff10 59% 60.7%,#dfff20 60.7% 62.4%,#cfff30 62.4% 64.1%,#bfff40 64.2% 65.9%,#afff50 65.9% 67.9%,#9fff60 67.9% 70.1%,#8fff70 70.1% 72%,#80ff80 72% 73.8%,#70ff8f 73.8% 75.7%,#60ff9f 75.8% 77.7%,#50ffaf 77.8% 79.9%,#40ffbf 80% 82.2%,#30ffcf 82.3% 84.7%,#20ffdf 84.8% 87.4%,#10ffef 87.4% 90.1%,#00ffff 90.2% 92.5%,#00efff 92.6% 94.7%,#00dfff 94.8% 96.9%,#00cfff 96.9% 99.1%,#00bfff 99.1% 100%)"></i>
<i style="background:linear-gradient(#00bfff 0 0.9%,#00cfff 0.9% 3.1%,#00dfff 3.1% 5.2%,#00efff 5.3% 7.4%,#00ffff 7.5% 9.8%,#10ffef 9.9% 12.6%,#20ffdf 12.6% 15.2%,#30ffcf 15.3% 17.7%,#40ffbf 17.8% 20%,#50ffaf 20.1% 22.1%,#60ff9f 22.2% 24.2%,#70ff8f 24.2% 26.1%,#80ff80 26.2% 27.9%,#8fff70 28% 29.8%,#9fff60 29.8% 32%,#afff50 32% 34%,#bfff40 34% 35.7%,#cfff30 35.8% 37.4%,#dfff20 37.5% 39.1%,#efff10 39.1% 40.8%,#ffff00 40.8% 42.6%,#ffef00 42.7% 44.9%,#ffdf00 44.9% 48.3%,#ffcf00 48.4% 51.7%,#ffdf00 51.7% 55.1%,#ffef00 55.2% 57.3%,#ffff00 57.4% 59.2%,#efff10 59.3% 60.9%,#dfff20 60.9% 62.6%,#cfff30 62.6% 64.3%,#bfff40 64.3% 66%,#afff50 66.1% 68%,#9fff60 68% 70.2%,#8fff70 70.2% 72%,#80ff80 72.1% 73.9%,#70ff8f 73.9% 75.8%,#60ff9f 75.8% 77.8%,#50ffaf 77.9% 80%,#40ffbf 80% 82.2%,#30ffcf 82.3% 84.8%,#20ffdf 84.8% 87.4%,#10ffef 87.5% 90.1%,#00ffff 90.2% 92.6%,#00efff 92.6% 94.7%,#00dfff 94.8% 96.9%,#00cfff 96.9% 99.1%,#00bfff 99.1% 100%)"></i>
<i style="background:linear-gradient(#00bfff 0 0.9%,#00cfff 0.9% 3.1%,#00dfff 3.1% 5.2%,#00efff 5.3% 7.4%,#00ffff 7.5% 9.8%,#10ffef 9.9% 12.5%,#20ffdf 12.6% 15.2%,#30ffcf 15.2% 17.7%,#40ffbf 17.7% 20%,#50ffaf 20% 22.1%,#60ff9f 22.1% 24.1%,#70ff8f 24.2% 26.1%,#80ff80 26.1% 27.9%,#8fff70 27.9% 29.7%,#9fff60 29.7% 31.9%,#afff50 31.9% 33.8%,#bfff40 33.9% 35.5%,#cfff30 35.6% 37.2%,#dfff20 37.3% 38.8%,#efff10 38.9% 40.5%,#ffff00 40.5% 42.3%,#ffef00 42.3% 44.3%,#ffdf00 44.4% 47.1%,#ffcf00 47.2% 52.8%,#ffdf00 52.9% 55.6%,#ffef00 55.7% 57.7%,#ffff00 57.7% 59.5%,#efff10 59.5% 61.2%,#dfff20 61.2% 62.8%,#cfff30 62.8% 64.4%,#bfff40 64.5% 66.2%,#afff50 66.2% 68.1%,#9fff60 68.2% 70.3%,#8fff70 70.3% 72.1%,#80ff80 72.2% 73.9%,#70ff8f 74% 75.8%,#60ff9f 75.9% 77.9%,#50ffaf 77.9% 80%,#40ffbf 80.1% 82.3%,#30ffcf 82.3% 84.8%,#20ffdf 84.8% 87.4%,#10ffef 87.5% 90.2%,#00ffff 90.2% 92.6%,#00efff 92.6% 94.8%,#00dfff 94.8% 96.9%,#00cfff 97% 99.1%,#00bfff 99.1% 100%)"></i>
<i style="background:linear-gradient(#00bfff 0 0.9%,#00cfff 0.9% 3.1%,#00dfff 3.1% 5.2%,#00efff 5.3% 7.4%,#00ffff 7.4% 9.8%,#10ffef 9.9% 12.5%,#20ffdf 12.6% 15.2%,#30ffcf 15.2% 17.7%,#40ffbf 17.7% 19.9%,#50ffaf 20% 22%,#60ff9f 22.1% 24.1%,#70ff8f 24.1% 26%,#80ff80 26% 27.7%,#8fff70 27.8% 29.6%,#9fff60 29.6% 31.8%,#afff50 31.8% 33.7%,#bfff40 33.7% 35.4%,#cfff30 35.4% 37%,#dfff20 37.1% 38.6%,#efff10 38.6% 40.2%,#ffff00 40.3% 42%,#ffef00 42% 43.9%,#ffdf00 43.9% 46.3%,#ffcf00 46.4% 53.6%,#ffdf00 53.7% 56.1%,#ffef00 56.1% 58%,#ffff00 58.1% 59.8%,#efff10 59.8% 61.4%,#dfff20 61.4% 62.9%,#cfff30 63% 64.6%,#bfff40 64.6% 66.3%,#afff50 66.3% 68.2%,#9fff60 68.3% 70.4%,#8fff70 70.4% 72.2%,#80ff80 72.3% 74%,#70ff8f 74% 75.9%,#60ff9f 75.9% 77.9%,#50ffaf 78% 80%,#40ffbf 80.1% 82.3%,#30ffcf 82.4% 84.8%,#20ffdf 84.9% 87.5%,#10ffef 87.5% 90.2%,#00ffff 90.2% 92.6%,#00efff 92.6% 94.8%,#00dfff 94.8% 96.9%,#00cfff 97% 99.1%,#00bfff 99.2% 100%)"></i>
<i style="background:linear-gradient(#00bfff 0 0.9%,#00cfff 0.9% 3.1%,#00dfff 3.1% 5.2%,#00efff 5.3% 7.4%,#00ffff 7.4% 9.8%,#10ffef 9.8% 12.5%,#20ffdf 12.6% 15.1%,#30ffcf 15.2% 17.6%,#40ffbf 17.7% 19.9%,#50ffaf 19.9% 22%,#60ff9f 22% 24%,#70ff8f 24.1% 25.9%,#80ff80 26% 27.7%,#8fff70 27.7% 29.5%,#9fff60 29.5% 31.6%,#afff50 31.7% 33.5%,#bfff40 33.6% 35.2%,#cfff30 35.3% 36.8%,#dfff20 36.9% 38.4%,#efff10 38.4% 40%,#ffff00 40% 41.6%,#ffef00 41.6% 43.5%,#ffdf00 43.5% 45.7%,#ffcf00 45.8% 54.3%,#ffdf00 54.3% 56.5%,#ffef00 56.6% 58.4%,#ffff00 58.4% 60%,#efff10 60.1% 61.6%,#dfff20 61.7% 63.1%,#cfff30 63.2% 64.8%,#bfff40 64.8% 66.4%,#afff50 66.5% 68.3%,#9fff60 68.4% 70.5%,#8fff70 70.5% 72.3%,#80ff80 72.4% 74.1%,#70ff8f 74.1% 76%,#60ff9f 76% 78%,#50ffaf 78% 80.1%,#40ffbf 80.1% 82.4%,#30ffcf 82.4% 84.8%,#20ffdf 84.9% 87.5%,#10ffef 87.5% 90.2%,#00ffff 90.2% 92.6%,#00efff 92.6% 94.8%,#00dfff 94.8% 96.9%,#00cfff 97% 99.1%,#00bfff 99.2% 100%)"></i>
<i style="background:linear-gradient(#00bfff 0 0.9%,#00cfff 0.9% 3.1%,#00dfff 3.1% 5.2%,#00efff 5.2% 7.4%,#00ffff 7.4% 9.8%,#10ffef 9.8% 12.5%,#20ffdf 12.5% 15.1%,#30ffcf 15.1% 17.6%,#40ffbf 17.6% 19.8%,#50ffaf 19.9% 21.9%,#60ff9f 22% 24%,#70ff8f 24% 25.9%,#80ff80 25.9% 27.6%,#8fff70 27.6% 29.4%,#9fff60 29.4% 31.5%,#afff50 31.6% 33.4%,#bfff40 33.4% 35.1%,#cfff30 35.1% 36.7%,#dfff20 36.7% 38.2%,#efff10 38.2% 39.7%,#ffff00 39.8% 41.3%,#ffef00 41.3% 43.1%,#ffdf00 43.1% 45.1%,#ffcf00 45.2% 48.4%,#ffbf00 48.5% 51.5%,#ffcf00 51.6% 54.8%,#ffdf00 54.9% 56.9%,#ffef00 57% 58.7%,#ffff00 58.7% 60.3%,#efff10 60.3% 61.8%,#dfff20 61.9% 63.3%,#cfff30 63.4% 64.9%,#bfff40 65% 66.6%,#afff50 66.6% 68.5%,#9fff60 68.5% 70.6%,#8fff70 70.6% 72.4%,#80ff80 72.4% 74.1%,#70ff8f 74.2% 76%,#60ff9f 76.1% 78%,#50ffaf 78.1% 80.1%,#40ffbf 80.2% 82.4%,#30ffcf 82.4% 84.9%,#20ffdf 84.9% 87.5%,#10ffef 87.5% 90.2%,#00ffff 90.3% 92.6%,#00efff 92.7% 94.8%,#00dfff 94.8% 96.9%,#00cfff 97% 99.1%,#00bfff 99.2% 100%)"></i>
<i style="background:linear-gradient(#00bfff 0 0.9%,#00cfff 0.9% 3%,#00dfff 3.1% 5.2%,#00efff 5.2% 7.4%,#00ffff 7.4% 9.8%,#10ffef 9.8% 12.5%,#20ffdf 12.5% 15.1%,#30ffcf 15.1% 17.5%,#40ffbf 17.6% 19.8%,#50ffaf 19.9% 21.9%,#60ff9f 21.9% 23.9%,#70ff8f 24% 25.8%,#80ff80 25.8% 27.5%,#8fff70 27.6% 29.3%,#9fff60 29.3% 31.4%,#afff50 31.4% 33.2%,#bfff40 33.3% 34.9%,#cfff30 34.9% 36.5%,#dfff20 36.5% 37.9%,#efff10 38% 39.5%,#ffff00 39.5% 41%,#ffef00 41% 42.7%,#ffdf00 42.7% 44.6%,#ffcf00 44.7% 47.3%,#ffbf00 47.3% 52.7%,#ffcf00 52.7% 55.3%,#ffdf00 55.4% 57.3%,#ffef00 57.3% 59%,#ffff00 59% 60.5%,#efff10 60.6% 62%,#dfff20 62.1% 63.5%,#cfff30 63.5% 65.1%,#bfff40 65.1% 66.8%,#afff50 66.8% 68.6%,#9fff60 68.6% 70.7%,#8fff70 70.7% 72.5%,#80ff80 72.5% 74.2%,#70ff8f 74.2% 76.1%,#60ff9f 76.1% 78.1%,#50ffaf 78.1% 80.2%,#40ffbf 80.2% 82.4%,#30ffcf 82.5% 84.9%,#20ffdf 85% 87.5%,#10ffef 87.6% 90.2%,#00ffff 90.3% 92.6%,#00efff 92.7% 94.8%,#00dfff 94.8% 96.9%,#00cfff 97% 99.1%,#00bfff 99.2% 100%)"></i>
<i style="background:linear-gradient(#00bfff 0 0.9%,#00cfff 0.9% 3%,#00dfff 3.1% 5.2%,#00efff 5.2% 7.4%,#00ffff 7.4% 9.7%,#10ffef 9.8% 12.4%,#20ffdf 12.5% 15%,#30ffcf 15.1% 17.5%,#40ffbf 17.6% 19.8%,#50ffaf 19.8% 21.8%,#60ff9f 21.9% 23.8%,#70ff8f 23.9% 25.7%,#80ff80 25.8% 27.4%,#8fff70 27.5% 29.2%,#9fff60 29.2% 31.3%,#afff50 31.3% 33.1%,#bfff40 33.1% 34.7%,#cfff30 34.8% 36.3%,#dfff20 36.3% 37.7%,#efff10 37.8% 39.2%,#ffff00 39.3% 40.7%,#ffef00 40.7% 42.3%,#ffdf00 42.4% 44.1%,#ffcf00 44.2% 46.4%,#ffbf00 46.5% 53.5%,#ffcf00 53.6% 55.8%,#ffdf00 55.9% 57.6%,#ffef00 57.7% 59.3%,#ffff00 59.3% 60.8%,#efff10 60.8% 62.2%,#dfff20 62.3% 63.7%,#cfff30 63.7% 65.2%,#bfff40 65.3% 66.9%,#afff50 67% 68.7%,#9fff60 68.7% 70.8%,#8fff70 70.8% 72.5%,#80ff80 72.6% 74.2%,#70ff8f 74.3% 76.1%,#60ff9f 76.2% 78.1%,#50ffaf 78.2% 80.2%,#40ffbf 80.3% 82.5%,#30ffcf 82.5% 84.9%,#20ffdf 85% 87.5%,#10ffef 87.6% 90.2%,#00ffff 90.3% 92.6%,#00efff 92.7% 94.8%,#00dfff 94.8% 96.9%,#00cfff 97% 99.1%,#00bfff 99.2% 100%)"></i>
<i style="background:linear-gradient(#00bfff 0 0.9%,#00cfff 0.9% 3%,#00dfff 3.1% 5.2%,#00efff 5.2% 7.3%,#00ffff 7.4% 9.7%,#10ffef 9.8% 12.4%,#20ffdf 12.5% 15%,#30ffcf 15.1% 17.5%,#40ffbf 17.5% 19.7%,#50ffaf 19.8% 21.8%,#60ff9f 21.8% 23.8%,#70ff8f 23.8% 25.7%,#80ff80 25.7% 27.4%,#8fff70 27.4% 29.1%,#9fff60 29.2% 31.2%,#afff50 31.2% 32.9%,#bfff40 33% 34.6%,#cfff30 34.6% 36.1%,#dfff20 36.2% 37.5%,#efff10 37.6% 39%,#ffff00 39% 40.4%,#ffef00 40.5% 42%,#ffdf00 42% 43.7%,#ffcf00 43.7% 45.8%,#ffbf00 45.8% 54.2%,#ffcf00 54.2% 56.3%,#ffdf00 56.3% 58%,#ffef00 58% 59.6%,#ffff00 59.6% 61%,#efff10 61% 62.4%,#dfff20 62.5% 63.9%,#cfff30 64% 65.4%,#bfff40 65.4% 67%,#afff50 67.1% 68.8%,#9fff60 68.9% 70.9%,#8fff70 70.9% 72.6%,#80ff80 72.7% 74.3%,#70ff8f 74.4% 76.2%,#60ff9f 76.2% 78.2%,#50ffaf 78.2% 80.3%,#40ffbf 80.3% 82.5%,#30ffcf 82.5% 85%,#20ffdf 85% 87.6%,#10ffef 87.6% 90.3%,#00ffff 90.3% 92.6%,#00efff 92.7% 94.8%,#00dfff 94.9% 96.9%,#00cfff 97% 99.1%,#00bfff 99.2% 100%)"></i>
<i style="background:linear-gradient(#00bfff 0 0.9%,#00cfff 0.9% 3%,#00dfff 3.1% 5.2%,#00efff 5.2% 7.3%,#00ffff 7.4% 9.7%,#10ffef 9.7% 12.4%,#20ffdf 12.4% 15%,#30ffcf 15% 17.4%,#40ffbf 17.5% 19.7%,#50ffaf 19.7% 21.7%,#60ff9f 21.8% 23.7%,#70ff8f 23.8% 25.6%,#80ff80 25.6% 27.3%,#8fff70 27.3% 29%,#9fff60 29.1% 31.1%,#afff50 31.1% 32.8%,#bfff40 32.9% 34.4%,#cfff30 34.5% 35.9%,#dfff20 35.9% 37.3%,#efff10 37.4% 38.7%,#ffff00 38.8% 40.1%,#ffef00 40.2% 41.6%,#ffdf00 41.7% 43.3%,#ffcf00 43.3% 45.2%,#ffbf00 45.3% 48.1%,#ffaf00 48.2% 51.9%,#ffbf00 51.9% 54.8%,#ffcf00 54.8% 56.7%,#ffdf00 56.7% 58.4%,#ffef00 58.4% 59.8%,#ffff00 59.9% 61.3%,#efff10 61.3% 62.6%,#dfff20 62.7% 64.1%,#cfff30 64.1% 65.5%,#bfff40 65.6% 67.2%,#afff50 67.2% 68.9%,#9fff60 69% 71%,#8fff70 71% 72.7%,#80ff80 72.7% 74.4%,#70ff8f 74.4% 76.2%,#60ff9f 76.3% 78.2%,#50ffaf 78.3% 80.3%,#40ffbf 80.3% 82.5%,#30ffcf 82.6% 85%,#20ffdf 85% 87.6%,#10ffef 87.6% 90.3%,#00ffff 90.3% 92.6%,#00efff 92.7% 94.8%,#00dfff 94.9% 96.9%,#00cfff 97% 99.1%,#00bfff 99.2% 100%)"></i>
<i style="background:linear-gradient(#00bfff 0 0.8%,#00cfff 0.9% 3%,#00dfff 3.1% 5.2%,#00efff 5.2% 7.3%,#00ffff 7.4% 9.7%,#10ffef 9.7% 12.4%,#20ffdf 12.4% 15%,#30ffcf 15% 17.4%,#40ffbf 17.5% 19.6%,#50ffaf 19.7% 21.7%,#60ff9f 21.7% 23.7%,#70ff8f 23.7% 25.5%,#80ff80 25.6% 27.2%,#8fff70 27.3% 28.9%,#9fff60 29% 30.9%,#afff50 31% 32.7%,#bfff40 32.7% 34.3%,#cfff30 34.3% 35.7%,#dfff20 35.8% 37.1%,#efff10 37.2% 38.5%,#ffff00 38.5% 39.9%,#ffef00 39.9% 41.3%,#ffdf00 41.3% 42.9%,#ffcf00 43% 44.7%,#ffbf00 44.8% 47.1%,#ffaf00 47.1% 52.9%,#ffbf00 53% 55.3%,#ffcf00 55.3% 57.1%,#ffdf00 57.1% 58.7%,#ffef00 58.7% 60.1%,#ffff00 60.1% 61.5%,#efff10 61.6% 62.8%,#dfff20 62.9% 64.3%,#cfff30 64.3% 65.7%,#bfff40 65.7% 67.3%,#afff50 67.4% 69%,#9fff60 69.1% 71.1%,#8fff70 71.1% 72.8%,#80ff80 72.8% 74.4%,#70ff8f 74.5% 76.3%,#60ff9f 76.3% 78.3%,#50ffaf 78.3% 80.3%,#40ffbf 80.4% 82.6%,#30ffcf 82.6% 85%,#20ffdf 85.1% 87.6%,#10ffef 87.7% 90.3%,#00ffff 90.3% 92.7%,#00efff 92.7% 94.8%,#00dfff 94.9% 96.9%,#00cfff 97% 99.1%,#00bfff 99.2% 100%)"></i>
<i style="background:linear-gradient(#00bfff 0 0.8%,#00cfff 0.9% 3%,#00dfff 3.1% 5.1%,#00efff 5.2% 7.3%,#00ffff 7.4% 9.7%,#10ffef 9.7% 12.3%,#20ffdf 12.4% 14.9%,#30ffcf 15% 17.4%,#40ffbf 17.4% 19.6%,#50ffaf 19.7% 21.7%,#60ff9f 21.7% 23.6%,#70ff8f 23.7% 25.5%,#80ff80 25.5% 27.1%,#8fff70 27.2% 28.8%,#9fff60 28.9% 30.8%,#afff50 30.9% 32.5%,#bfff40 32.6% 34.1%,#cfff30 34.2% 35.5%,#dfff20 35.6% 36.9%,#efff10 37% 38.3%,#ffff00 38.3% 39.6%,#ffef00 39.7% 41%,#ffdf00 41% 42.5%,#ffcf00 42.6% 44.2%,#ffbf00 44.2% 46.3%,#ffaf00 46.4% 53.7%,#ffbf00 53.7% 55.8%,#ffcf00 55.8% 57.4%,#ffdf00 57.5% 59%,#ffef00 59% 60.4%,#ffff00 60.4% 61.7%,#efff10 61.8% 63%,#dfff20 63.1% 64.4%,#cfff30 64.5% 65.8%,#bfff40 65.9% 67.4%,#afff50 67.5% 69.2%,#9fff60 69.2% 71.2%,#8fff70 71.2% 72.8%,#80ff80 72.9% 74.5%,#70ff8f 74.6% 76.4%,#60ff9f 76.4% 78.3%,#50ffaf 78.4% 80.4%,#40ffbf 80.4% 82.6%,#30ffcf 82.6% 85%,#20ffdf 85.1% 87.6%,#10ffef 87.7% 90.3%,#00ffff 90.4% 92.7%,#00efff 92.7% 94.8%,#00dfff 94.9% 97%,#00cfff 97% 99.1%,#00bfff 99.2% 100%)"></i>
<i style="background:linear-gradient(#00bfff 0 0.8%,#00cfff 0.9% 3%,#00dfff 3.1% 5.1%,#00efff 5.2% 7.3%,#00ffff 7.4% 9.6%,#10ffef 9.7% 12.3%,#20ffdf 12.4% 14.9%,#30ffcf 14.9% 17.3%,#40ffbf 17.4% 19.6%,#50ffaf 19.6% 21.6%,#60ff9f 21.7% 23.6%,#70ff8f 23.6% 25.4%,#80ff80 25.5% 27.1%,#8fff70 27.1% 28.7%,#9fff60 28.8% 30.7%,#afff50 30.8% 32.4%,#bfff40 32.5% 34%,#cfff30 34% 35.4%,#dfff20 35.4% 36.8%,#efff10 36.8% 38%,#ffff00 38.1% 39.4%,#ffef00 39.4% 40.7%,#ffdf00 40.7% 42.2%,#ffcf00 42.2% 43.7%,#ffbf00 43.8% 45.7%,#ffaf00 45.7% 48.9%,#ff9f00 48.9% 51.1%,#ffaf00 51.1% 54.3%,#ffbf00 54.3% 56.2%,#ffcf00 56.3% 57.8%,#ffdf00 57.8% 59.3%,#ffef00 59.3% 60.6%,#ffff00 60.7% 61.9%,#efff10 62% 63.2%,#dfff20 63.3% 64.6%,#cfff30 64.6% 66%,#bfff40 66% 67.6%,#afff50 67.6% 69.3%,#9fff60 69.3% 71.3%,#8fff70 71.3% 72.9%,#80ff80 72.9% 74.6%,#70ff8f 74.6% 76.4%,#60ff9f 76.5% 78.4%,#50ffaf 78.4% 80.4%,#40ffbf 80.5% 82.6%,#30ffcf 82.7% 85.1%,#20ffdf 85.1% 87.7%,#10ffef 87.7% 90.3%,#00ffff 90.4% 92.7%,#00efff 92.7% 94.8%,#00dfff 94.9% 97%,#00cfff 97% 99.1%,#00bfff 99.2% 100%)"></i>
<i style="background:linear-gradient(#00bfff 0 0.8%,#00cfff 0.9% 3%,#00dfff 3.1% 5.1%,#00efff 5.2% 7.3%,#00ffff 7.3% 9.6%,#10ffef 9.7% 12.3%,#20ffdf 12.3% 14.9%,#30ffcf 14.9% 17.3%,#40ffbf 17.4% 19.5%,#50ffaf 19.6% 21.6%,#60ff9f 21.6% 23.5%,#70ff8f 23.6% 25.3%,#80ff80 25.4% 27%,#8fff70 27.1% 28.6%,#9fff60 28.7% 30.5%,#afff50 30.6% 32.3%,#bfff40 32.3% 33.8%,#cfff30 33.9% 35.2%,#dfff20 35.3% 36.6%,#efff10 36.6% 37.8%,#ffff00 37.9% 39.1%,#ffef00 39.2% 40.4%,#ffdf00 40.5% 41.8%,#ffcf00 41.9% 43.3%,#ffbf00 43.4% 45.1%,#ffaf00 45.2% 47.6%,#ff9f00 47.6% 52.4%,#ffaf00 52.4% 54.9%,#ffbf00 54.9% 56.6%,#ffcf00 56.7% 58.1%,#ffdf00 58.2% 59.6%,#ffef00 59.6% 60.9%,#ffff00 60.9% 62.2%,#efff10 62.2% 63.4%,#dfff20 63.5% 64.8%,#cfff30 64.8% 66.1%,#bfff40 66.2% 67.7%,#afff50 67.8% 69.4%,#9fff60 69.5% 71.4%,#8fff70 71.4% 73%,#80ff80 73% 74.6%,#70ff8f 74.7% 76.5%,#60ff9f 76.5% 78.4%,#50ffaf 78.5% 80.5%,#40ffbf 80.5% 82.7%,#30ffcf 82.7% 85.1%,#20ffdf 85.2% 87.7%,#10ffef 87.7% 90.3%,#00ffff 90.4% 92.7%,#00efff 92.7% 94.8%,#00dfff 94.9% 97%,#00cfff 97% 99.1%,#00bfff 99.2% 100%)"></i>
<i style="background:linear-gradient(#00bfff 0 0.8%,#00cfff 0.9% 3%,#00dfff 3.1% 5.1%,#00efff 5.2% 7.3%,#00ffff 7.3% 9.6%,#10ffef 9.7% 12.3%,#20ffdf 12.3% 14.8%,#30ffcf 14.9% 17.3%,#40ffbf 17.3% 19.5%,#50ffaf 19.5% 21.5%,#60ff9f 21.6% 23.5%,#70ff8f 23.5% 25.3%,#80ff80 25.3% 26.9%,#8fff70 27% 28.5%,#9fff60 28.6% 30.4%,#afff50 30.5% 32.1%,#bfff40 32.2% 33.7%,#cfff30 33.7% 35%,#dfff20 35.1% 36.4%,#efff10 36.4% 37.6%,#ffff00 37.7% 38.8%,#ffef00 38.9% 40.1%,#ffdf00 40.2% 41.5%,#ffcf00 41.5% 42.9%,#ffbf00 43% 44.6%,#ffaf00 44.7% 46.7%,#ff9f00 46.7% 53.3%,#ffaf00 53.3% 55.4%,#ffbf00 55.4% 57%,#ffcf00 57.1% 58.5%,#ffdf00 58.6% 59.8%,#ffef00 59.9% 61.1%,#ffff00 61.2% 62.4%,#efff10 62.4% 63.6%,#dfff20 63.6% 64.9%,#cfff30 65% 66.3%,#bfff40 66.3% 67.8%,#afff50 67.9% 69.5%,#9fff60 69.6% 71.5%,#8fff70 71.5% 73%,#80ff80 73.1% 74.7%,#70ff8f 74.7% 76.5%,#60ff9f 76.6% 78.5%,#50ffaf 78.5% 80.5%,#40ffbf 80.5% 82.7%,#30ffcf 82.7% 85.1%,#20ffdf 85.2% 87.7%,#10ffef 87.7% 90.4%,#00ffff 90.4% 92.7%,#00efff 92.7% 94.9%,#00dfff 94.9% 97%,#00cfff 97% 99.1%,#00bfff 99.2% 100%)"></i>
<i style="background:linear-gradient(#00bfff 0 0.8%,#00cfff 0.9% 3%,#00dfff 3% 5.1%,#00efff 5.2% 7.3%,#00ffff 7.3% 9.6%,#10ffef 9.6% 12.3%,#20ffdf 12.3% 14.8%,#30ffcf 14.9% 17.2%,#40ffbf 17.3% 19.4%,#50ffaf 19.5% 21.5%,#60ff9f 21.5% 23.4%,#70ff8f 23.5% 25.2%,#80ff80 25.3% 26.9%,#8fff70 26.9% 28.4%,#9fff60 28.5% 30.3%,#afff50 30.4% 32%,#bfff40 32.1% 33.5%,#cfff30 33.6% 34.9%,#dfff20 34.9% 36.2%,#efff10 36.2% 37.4%,#ffff00 37.5% 38.6%,#ffef00 38.7% 39.9%,#ffdf00 39.9% 41.1%,#ffcf00 41.2% 42.6%,#ffbf00 42.6% 44.1%,#ffaf00 44.1% 46%,#ff9f00 46.1% 49.6%,#ff8f00 49.6% 50.4%,#ff9f00 50.5% 54%,#ffaf00 54% 55.9%,#ffbf00 55.9% 57.4%,#ffcf00 57.5% 58.8%,#ffdf00 58.9% 60.1%,#ffef00 60.2% 61.4%,#ffff00 61.4% 62.6%,#efff10 62.6% 63.8%,#dfff20 63.8% 65.1%,#cfff30 65.1% 66.4%,#bfff40 66.5% 68%,#afff50 68% 69.7%,#9fff60 69.7% 71.5%,#8fff70 71.6% 73.1%,#80ff80 73.2% 74.8%,#70ff8f 74.8% 76.6%,#60ff9f 76.6% 78.5%,#50ffaf 78.6% 80.5%,#40ffbf 80.6% 82.7%,#30ffcf 82.8% 85.2%,#20ffdf 85.2% 87.7%,#10ffef 87.8% 90.4%,#00ffff 90.4% 92.7%,#00efff 92.8% 94.9%,#00dfff 94.9% 97%,#00cfff 97% 99.2%,#00bfff 99.2% 100%)"></i>
<i style="background:linear-gradient(#00bfff 0 0.8%,#00cfff 0.9% 3%,#00dfff 3% 5.1%,#00efff 5.2% 7.3%,#00ffff 7.3% 9.6%,#10ffef 9.6% 12.2%,#20ffdf 12.3% 14.8%,#30ffcf 14.8% 17.2%,#40ffbf 17.3% 19.3%,#50ffaf 19.4% 21.4%,#60ff9f 21.5% 23.4%,#70ff8f 23.4% 25.2%,#80ff80 25.2% 26.8%,#8fff70 26.8% 28.4%,#9fff60 28.4% 30.2%,#afff50 30.2% 31.9%,#bfff40 31.9% 33.4%,#cfff30 33.4% 34.7%,#dfff20 34.8% 36%,#efff10 36% 37.2%,#ffff00 37.3% 38.4%,#ffef00 38.4% 39.6%,#ffdf00 39.7% 40.8%,#ffcf00 40.9% 42.2%,#ffbf00 42.2% 43.6%,#ffaf00 43.7% 45.4%,#ff9f00 45.5% 47.8%,#ff8f00 47.9% 52.1%,#ff9f00 52.2% 54.6%,#ffaf00 54.6% 56.3%,#ffbf00 56.4% 57.8%,#ffcf00 57.8% 59.1%,#ffdf00 59.2% 60.4%,#ffef00 60.4% 61.6%,#ffff00 61.7% 62.8%,#efff10 62.8% 64%,#dfff20 64.1% 65.3%,#cfff30 65.3% 66.6%,#bfff40 66.6% 68.1%,#afff50 68.1% 69.8%,#9fff60 69.8% 71.6%,#8fff70 71.7% 73.2%,#80ff80 73.2% 74.8%,#70ff8f 74.9% 76.6%,#60ff9f 76.7% 78.6%,#50ffaf 78.6% 80.6%,#40ffbf 80.7% 82.8%,#30ffcf 82.8% 85.2%,#20ffdf 85.2% 87.7%,#10ffef 87.8% 90.4%,#00ffff 90.4% 92.7%,#00efff 92.8% 94.9%,#00dfff 94.9% 97%,#00cfff 97% 99.2%,#00bfff 99.2% 100%)"></i>
<i style="background:linear-gradient(#00bfff 0 0.8%,#00cfff 0.9% 3%,#00dfff 3% 5.1%,#00efff 5.2% 7.3%,#00ffff 7.3% 9.6%,#10ffef 9.6% 12.2%,#20ffdf 12.3% 14.8%,#30ffcf 14.8% 17.2%,#40ffbf 17.2% 19.3%,#50ffaf 19.4% 21.4%,#60ff9f 21.4% 23.3%,#70ff8f 23.3% 25.1%,#80ff80 25.1% 26.7%,#8fff70 26.8% 28.3%,#9fff60 28.3% 30.1%,#afff50 30.1% 31.8%,#bfff40 31.8% 33.2%,#cfff30 33.2% 34.6%,#dfff20 34.6% 35.8%,#efff10 35.8% 37%,#ffff00 37.1% 38.1%,#ffef00 38.2% 39.3%,#ffdf00 39.4% 40.5%,#ffcf00 40.6% 41.9%,#ffbf00 41.9% 43.2%,#ffaf00 43.3% 44.9%,#ff9f00 44.9% 46.9%,#ff8f00 47% 53.1%,#ff9f00 53.1% 55.1%,#ffaf00 55.2% 56.8%,#ffbf00 56.8% 58.1%,#ffcf00 58.2% 59.4%,#ffdf00 59.5% 60.6%,#ffef00 60.7% 61.8%,#ffff00 61.9% 63%,#efff10 63% 64.2%,#dfff20 64.2% 65.4%,#cfff30 65.5% 66.8%,#bfff40 66.8% 68.2%,#afff50 68.3% 69.9%,#9fff60 69.9% 71.7%,#8fff70 71.7% 73.3%,#80ff80 73.3% 74.9%,#70ff8f 74.9% 76.7%,#60ff9f 76.7% 78.6%,#50ffaf 78.7% 80.7%,#40ffbf 80.7% 82.8%,#30ffcf 82.8% 85.2%,#20ffdf 85.3% 87.8%,#10ffef 87.8% 90.4%,#00ffff 90.5% 92.7%,#00efff 92.8% 94.9%,#00dfff 94.9% 97%,#00cfff 97% 99.2%,#00bfff 99.2% 100%)"></i>
<i style="background:linear-gradient(#00bfff 0 0.8%,#00cfff 0.9% 3%,#00dfff 3% 5.1%,#00efff 5.1% 7.2%,#00ffff 7.3% 9.5%,#10ffef 9.6% 12.2%,#20ffdf 12.2% 14.7%,#30ffcf 14.8% 17.1%,#40ffbf 17.2% 19.3%,#50ffaf 19.3% 21.3%,#60ff9f 21.4% 23.2%,#70ff8f 23.3% 25%,#80ff80 25.1% 26.6%,#8fff70 26.7% 28.2%,#9fff60 28.3% 30%,#afff50 30% 31.6%,#bfff40 31.7% 33.1%,#cfff30 33.1% 34.4%,#dfff20 34.4% 35.6%,#efff10 35.7% 36.8%,#ffff00 36.9% 37.4%,#fffe00 37.9%,#fff000 38%,#ffef00 39.1%,#ffdf00 39.2% 40.3%,#ffcf00 40.3% 41.5%,#ffbf00 41.5% 42.8%,#ffaf00 42.9% 44.3%,#ff9f00 44.4% 46.2%,#ff8f00 46.3% 49.6%,#ff8000 49.7% 50.3%,#ff8f00 50.4% 53.8%,#ff9f00 53.8% 55.7%,#ffaf00 55.7% 57.2%,#ffbf00 57.2% 58.5%,#ffcf00 58.6% 59.7%,#ffdf00 59.8% 60.9%,#ffef00 60.9%,#fff000 62%,#fffe00 62.1%,#ffff00 63.2%,#efff10 63.2% 64.4%,#dfff20 64.4% 65.6%,#cfff30 65.6% 66.9%,#bfff40 67% 68.3%,#afff50 68.4% 70%,#9fff60 70.1% 71.8%,#8fff70 71.8% 73.3%,#80ff80 73.4% 74.9%,#70ff8f 75% 76.7%,#60ff9f 76.8% 78.7%,#50ffaf 78.7% 80.7%,#40ffbf 80.8% 82.8%,#30ffcf 82.9% 85.2%,#20ffdf 85.3% 87.8%,#10ffef 87.8% 90.4%,#00ffff 90.5% 92.7%,#00efff 92.8% 94.9%,#00dfff 94.9% 97%,#00cfff 97% 99.2%,#00bfff 99.2% 100%)"></i>
<i style="background:linear-gradient(#00bfff 0 0.8%,#00cfff 0.9% 3%,#00dfff 3% 5.1%,#00efff 5.1% 7.2%,#00ffff 7.3% 9.5%,#10ffef 9.6% 12.2%,#20ffdf 12.2% 14.7%,#30ffcf 14.8% 17.1%,#40ffbf 17.2% 19.2%,#50ffaf 19.3% 21.3%,#60ff9f 21.3% 23.2%,#70ff8f 23.2% 24.9%,#80ff80 25% 26.6%,#8fff70 26.6% 28.1%,#9fff60 28.2% 29.9%,#afff50 29.9% 31.5%,#bfff40 31.5% 32.9%,#cfff30 33% 34.2%,#dfff20 34.3% 35.4%,#efff10 35.5%,#f0ff0f 36.6%,#feff01 36.7%,#ffff00 37.2%,#fffe00 37.7%,#fff000 37.8%,#ffee00 38.8%,#ffe000 38.9%,#ffdf00 40%,#ffcf00 40% 41.1%,#ffbf00 41.2% 42.4%,#ffaf00 42.5% 43.8%,#ff9f00 43.9% 45.6%,#ff8f00 45.6% 47.9%,#ff8000 48% 52.1%,#ff8f00 52.1% 54.4%,#ff9f00 54.4% 56.1%,#ffaf00 56.2% 57.5%,#ffbf00 57.6% 58.8%,#ffcf00 58.9% 60%,#ffdf00 60.1%,#ffe000 61.2%,#ffee00 61.2%,#fff000 62.3%,#fffe00 62.3%,#ffff00 62.8%,#feff01 63.4%,#f0ff0f 63.4%,#efff10 64.5%,#dfff20 64.6% 65.7%,#cfff30 65.8% 67.1%,#bfff40 67.1% 68.5%,#afff50 68.5% 70.1%,#9fff60 70.2% 71.9%,#8fff70 71.9% 73.4%,#80ff80 73.4% 75.1%,#70ff8f 75.1% 76.8%,#60ff9f 76.8% 78.7%,#50ffaf 78.8% 80.7%,#40ffbf 80.8% 82.9%,#30ffcf 82.9% 85.3%,#20ffdf 85.3% 87.8%,#10ffef 87.9% 90.4%,#00ffff 90.5% 92.7%,#00efff 92.8% 94.9%,#00dfff 94.9% 97%,#00cfff 97.1% 99.2%,#00bfff 99.2% 100%)"></i>
<i style="background:linear-gradient(#00bfff 0 0.8%,#00cfff 0.8% 3%,#00dfff 3% 5.1%,#00efff 5.1% 7.2%,#00ffff 7.3% 9.5%,#10ffef 9.6% 12.1%,#20ffdf 12.2% 14.7%,#30ffcf 14.7% 17.1%,#40ffbf 17.1% 19.2%,#50ffaf 19.2% 21.2%,#60ff9f 21.3% 23.1%,#70ff8f 23.2% 24.9%,#80ff80 24.9% 26.5%,#8fff70 26.6% 28%,#9fff60 28.1% 29.8%,#afff50 29.8% 31.4%,#bfff40 31.4% 32.8%,#cfff30 32.8% 34.1%,#dfff20 34.1% 35.3%,#efff10 35.3%,#f0ff0f 36.4%,#feff01 36.5%,#ffff00 37%,#fffd00 37.5%,#fff100 37.6%,#ffee00 38.6%,#ffe100 38.6%,#ffde00 39.7%,#ffd000 39.8%,#ffcf00 40.8%,#ffbf00 40.9% 42.1%,#ffaf00 42.1% 43.4%,#ff9f00 43.5% 45%,#ff8f00 45.1% 47%,#ff8000 47% 53%,#ff8f00 53.1% 55%,#ff9f00 55% 56.6%,#ffaf00 56.6% 57.9%,#ffbf00 57.9% 59.1%,#ffcf00 59.2%,#ffd000 60.3%,#ffde00 60.3%,#ffe100 61.4%,#ffee00 61.5%,#fff100 62.5%,#fffe00 62.5%,#ffff00 63%,#feff01 63.6%,#f0ff0f 63.6%,#efff10 64.7%,#dfff20 64.8% 65.9%,#cfff30 65.9% 67.2%,#bfff40 67.3% 68.6%,#afff50 68.7% 70.2%,#9fff60 70.3% 71.9%,#8fff70 72% 73.5%,#80ff80 73.5% 75.1%,#70ff8f 75.2% 76.8%,#60ff9f 76.9% 78.7%,#50ffaf 78.8% 80.8%,#40ffbf 80.8% 82.9%,#30ffcf 82.9% 85.3%,#20ffdf 85.4% 87.8%,#10ffef 87.9% 90.5%,#00ffff 90.5% 92.8%,#00efff 92.8% 94.9%,#00dfff 94.9% 97%,#00cfff 97.1% 99.2%,#00bfff 99.2% 100%)"></i>
<i style="background:linear-gradient(#00bfff 0 0.8%,#00cfff 0.8% 3%,#00dfff 3% 5.1%,#00efff 5.1% 7.2%,#00ffff 7.3% 9.5%,#10ffef 9.5% 12.1%,#20ffdf 12.2% 14.6%,#30ffcf 14.7% 17%,#40ffbf 17.1% 19.2%,#50ffaf 19.2% 21.2%,#60ff9f 21.2% 23.1%,#70ff8f 23.1% 24.8%,#80ff80 24.8% 26.4%,#8fff70 26.5% 28%,#9fff60 28% 29.6%,#afff50 29.7% 31.2%,#bfff40 31.3% 32.6%,#cfff30 32.7% 33.9%,#dfff20 34%,#e0ff1f 35.1%,#efff10 35.1%,#f0ff0f 36.2%,#feff01 36.3%,#ffff00 36.8%,#fffd00 37.3%,#fff100 37.3%,#ffed00 38.3%,#ffe100 38.4%,#ffde00 39.4%,#ffd100 39.5%,#ffcf00 40.5%,#ffc000 40.6%,#ffbf00 41.7%,#ffaf00 41.8% 43%,#ff9f00 43% 44.5%,#ff8f00 44.5% 46.3%,#ff8000 46.3% 49.1%,#ff7000 49.1% 50.9%,#ff8000 50.9% 53.7%,#ff8f00 53.8% 55.5%,#ff9f00 55.5% 57%,#ffaf00 57% 58.2%,#ffbf00 58.3%,#ffc000 59.4%,#ffcf00 59.5%,#ffd100 60.5%,#ffde00 60.6%,#ffe100 61.6%,#ffed00 61.7%,#fff100 62.7%,#fffd00 62.7%,#ffff00 63.2%,#feff01 63.7%,#f0ff0f 63.8%,#efff10 64.9%,#e0ff1f 64.9%,#dfff20 66%,#cfff30 66.1% 67.3%,#bfff40 67.4% 68.7%,#afff50 68.8% 70.3%,#9fff60 70.4% 72%,#8fff70 72.1% 73.5%,#80ff80 73.6% 75.2%,#70ff8f 75.2% 76.9%,#60ff9f 76.9% 78.8%,#50ffaf 78.8% 80.8%,#40ffbf 80.9% 82.9%,#30ffcf 83% 85.3%,#20ffdf 85.4% 87.9%,#10ffef 87.9% 90.5%,#00ffff 90.5% 92.8%,#00efff 92.8% 94.9%,#00dfff 95% 97%,#00cfff 97.1% 99.2%,#00bfff 99.2% 100%)"></i>
<i style="background:linear-gradient(#00bfff 0 0.8%,#00cfff 0.8% 3%,#00dfff 3% 5.1%,#00efff 5.1% 7.2%,#00ffff 7.3% 9.5%,#10ffef 9.5% 12.1%,#20ffdf 12.1% 14.6%,#30ffcf 14.7% 17%,#40ffbf 17.1% 19.1%,#50ffaf 19.2% 21.1%,#60ff9f 21.2% 23%,#70ff8f 23.1% 24.7%,#80ff80 24.8% 26.4%,#8fff70 26.4% 27.9%,#9fff60 27.9% 29.5%,#afff50 29.6% 31.1%,#bfff40 31.2% 32.5%,#cfff30 32.5% 33.8%,#dfff20 33.8%,#e0ff1f 34.9%,#eeff11 35%,#f1ff0e 36%,#fdff02 36.1%,#ffff00 36.6%,#fffd00 37.1%,#fff100 37.1%,#ffed00 38.1%,#ffe200 38.2%,#ffdd00 39.2%,#ffd100 39.2%,#ffce00 40.2%,#ffc100 40.3%,#ffbf00 41.4%,#ffb000 41.4%,#ffaf00 42.6%,#ff9f00 42.6% 43.9%,#ff8f00 44% 45.6%,#ff8000 45.7% 47.8%,#ff7000 47.8% 52.2%,#ff8000 52.2% 54.4%,#ff8f00 54.4% 56%,#ff9f00 56.1% 57.4%,#ffaf00 57.4%,#ffb000 58.6%,#ffbf00 58.7%,#ffc100 59.7%,#ffce00 59.8%,#ffd100 60.8%,#ffdd00 60.8%,#ffe200 61.9%,#ffed00 61.9%,#fff100 62.9%,#fffd00 62.9%,#ffff00 63.4%,#fdff02 64%,#f1ff0e 64%,#eeff11 65.1%,#e0ff1f 65.1%,#dfff20 66.2%,#cfff30 66.2% 67.5%,#bfff40 67.5% 68.9%,#afff50 68.9% 70.4%,#9fff60 70.5% 72.1%,#8fff70 72.1% 73.6%,#80ff80 73.7% 75.2%,#70ff8f 75.3% 76.9%,#60ff9f 77% 78.8%,#50ffaf 78.9% 80.9%,#40ffbf 80.9% 83%,#30ffcf 83% 85.4%,#20ffdf 85.4% 87.9%,#10ffef 87.9% 90.5%,#00ffff 90.5% 92.8%,#00efff 92.8% 94.9%,#00dfff 95% 97%,#00cfff 97.1% 99.2%,#00bfff 99.2% 100%)"></i>
<i style="background:linear-gradient(#00bfff 0 0.8%,#00cfff 0.8% 2.9%,#00dfff 3% 5.1%,#00efff 5.1% 7.2%,#00ffff 7.2% 9.5%,#10ffef 9.5% 12.1%,#20ffdf 12.1% 14.6%,#30ffcf 14.6% 17%,#40ffbf 17% 19.1%,#50ffaf 19.1% 21.1%,#60ff9f 21.1% 23%,#70ff8f 23% 24.7%,#80ff80 24.7% 26.3%,#8fff70 26.4% 27.8%,#9fff60 27.9% 29.4%,#afff50 29.5% 31%,#bfff40 31.1% 32.4%,#cfff30 32.4% 33.6%,#dfff20 33.7%,#e0ff1f 34.8%,#eeff11 34.8%,#f1ff0e 35.8%,#fdff02 35.9%,#ffff00 36.4%,#fffc00 36.9%,#fff200 37%,#ffec00 37.9%,#ffe200 38%,#ffdc00 39%,#ffd200 39%,#ffcd00 40%,#ffc100 40%,#ffbe00 41%,#ffb000 41.1%,#ffaf00 42.2%,#ff9f00 42.3% 43.5%,#ff8f00 43.5% 45%,#ff8000 45.1% 46.9%,#ff7000 46.9% 53.1%,#ff8000 53.1% 55%,#ff8f00 55% 56.5%,#ff9f00 56.5% 57.8%,#ffaf00 57.8%,#ffb000 58.9%,#ffbe00 59%,#ffc100 60%,#ffcd00 60.1%,#ffd200 61%,#ffdc00 61.1%,#ffe200 62.1%,#ffec00 62.1%,#fff200 63.1%,#fffc00 63.1%,#ffff00 63.6%,#fdff02 64.1%,#f1ff0e 64.2%,#eeff11 65.2%,#e0ff1f 65.3%,#dfff20 66.3%,#cfff30 66.4% 67.6%,#bfff40 67.7% 69%,#afff50 69% 70.6%,#9fff60 70.6% 72.2%,#8fff70 72.3% 73.7%,#80ff80 73.7% 75.3%,#70ff8f 75.4% 77%,#60ff9f 77.1% 78.9%,#50ffaf 78.9% 80.9%,#40ffbf 81% 83%,#30ffcf 83% 85.4%,#20ffdf 85.4% 87.9%,#10ffef 88% 90.5%,#00ffff 90.6% 92.8%,#00efff 92.8% 94.9%,#00dfff 95% 97%,#00cfff 97.1% 99.2%,#00bfff 99.2% 100%)"></i>
<i style="background:linear-gradient(#00bfff 0 0.8%,#00cfff 0.8% 2.9%,#00dfff 3% 5%,#00efff 5.1% 7.2%,#00ffff 7.2% 9.4%,#10ffef 9.5% 12.1%,#20ffdf 12.1% 14.6%,#30ffcf 14.6% 16.9%,#40ffbf 17% 19%,#50ffaf 19.1% 21%,#60ff9f 21.1% 22.9%,#70ff8f 23% 24.6%,#80ff80 24.7% 26.2%,#8fff70 26.3% 27.7%,#9fff60 27.7% 29.3%,#afff50 29.4% 30.9%,#bfff40 30.9% 32.2%,#cfff30 32.3% 33.5%,#dfff20 33.5%,#e0ff1f 34.6%,#eeff11 34.6%,#f1ff0e 35.6%,#fdff02 35.7%,#ffff00 36.3%,#fffc00 36.7%,#fff200 36.8%,#ffec00 37.7%,#ffe300 37.7%,#ffdc00 38.7%,#ffd200 38.7%,#ffcc00 39.7%,#ffc200 39.8%,#ffbd00 40.7%,#ffb100 40.8%,#ffaf00 41.9%,#ffa000 41.9%,#ff9f00 43%,#ff8f00 43.1% 44.5%,#ff8000 44.5% 46.2%,#ff7000 46.2% 49.5%,#ff6000 49.6% 50.4%,#ff7000 50.5% 53.8%,#ff8000 53.9% 55.5%,#ff8f00 55.6% 56.9%,#ff9f00 57%,#ffa000 58.1%,#ffaf00 58.2%,#ffb100 59.2%,#ffbd00 59.3%,#ffc200 60.3%,#ffcc00 60.3%,#ffd300 61.3%,#ffdc00 61.4%,#ffe200 62.3%,#ffec00 62.3%,#fff200 63.3%,#fffc00 63.3%,#ffff00 63.8%,#fdff02 64.3%,#f1ff0e 64.4%,#eeff11 65.4%,#e0ff1f 65.4%,#dfff20 66.5%,#cfff30 66.5% 67.8%,#bfff40 67.8% 69.1%,#afff50 69.1% 70.7%,#9fff60 70.7% 72.3%,#8fff70 72.3% 73.7%,#80ff80 73.8% 75.4%,#70ff8f 75.4% 77.1%,#60ff9f 77.1% 78.9%,#50ffaf 79% 80.9%,#40ffbf 81% 83%,#30ffcf 83.1% 85.4%,#20ffdf 85.5% 87.9%,#10ffef 88% 90.5%,#00ffff 90.6% 92.8%,#00efff 92.8% 94.9%,#00dfff 95% 97%,#00cfff 97.1% 99.2%,#00bfff 99.3% 100%)"></i>
<i style="background:linear-gradient(#00bfff 0 0.8%,#00cfff 0.8% 2.9%,#00dfff 3% 5%,#00efff 5.1% 7.2%,#00ffff 7.2% 9.4%,#10ffef 9.5% 12%,#20ffdf 12.1% 14.5%,#30ffcf 14.6% 16.9%,#40ffbf 17% 19%,#50ffaf 19% 21%,#60ff9f 21% 22.9%,#70ff8f 22.9% 24.6%,#80ff80 24.6% 26.2%,#8fff70 26.2% 27.6%,#9fff60 27.7% 29.2%,#afff50 29.3% 30.8%,#bfff40 30.8% 32.1%,#cfff30 32.1% 33.3%,#dfff20 33.4%,#e1ff1e 34.4%,#edff12 34.5%,#f2ff0d 35.5%,#fcff03 35.5%,#ffff00 36%,#fffc00 36.5%,#fff200 36.6%,#ffeb00 37.5%,#ffe300 37.5%,#ffdc00 38.4%,#ffd300 38.5%,#ffcc00 39.4%,#ffc300 39.5%,#ffbd00 40.4%,#ffb200 40.5%,#ffae00 41.5%,#ffa100 41.5%,#ff9f00 42.6%,#ff8f00 42.7% 43.9%,#ff8000 44% 45.5%,#ff7000 45.6% 47.6%,#ff6000 47.6% 52.4%,#ff7000 52.5% 54.5%,#ff8000 54.5% 56.1%,#ff8f00 56.1% 57.3%,#ff9f00 57.4%,#ffa100 58.5%,#ffae00 58.6%,#ffb200 59.5%,#ffbd00 59.6%,#ffc300 60.5%,#ffcc00 60.6%,#ffd300 61.5%,#ffdb00 61.6%,#ffe300 62.5%,#ffeb00 62.5%,#fff300 63.5%,#fffc00 63.5%,#ffff00 64%,#fcff03 64.5%,#f2ff0d 64.5%,#edff12 65.5%,#e1ff1e 65.6%,#dfff20 66.6%,#cfff30 66.7% 67.9%,#bfff40 67.9% 69.2%,#afff50 69.3% 70.8%,#9fff60 70.8% 72.4%,#8fff70 72.4% 73.8%,#80ff80 73.9% 75.4%,#70ff8f 75.5% 77.1%,#60ff9f 77.2% 79%,#50ffaf 79% 81%,#40ffbf 81% 83.1%,#30ffcf 83.1% 85.4%,#20ffdf 85.5% 87.9%,#10ffef 88% 90.6%,#00ffff 90.6% 92.8%,#00efff 92.9% 94.9%,#00dfff 95% 97%,#00cfff 97.1% 99.2%,#00bfff 99.3% 100%)"></i>
<i style="background:linear-gradient(#00bfff 0 0.8%,#00cfff 0.8% 2.9%,#00dfff 3% 5%,#00efff 5.1% 7.2%,#00ffff 7.2% 9.4%,#10ffef 9.5% 12%,#20ffdf 12.1% 14.5%,#30ffcf 14.6% 16.9%,#40ffbf 16.9% 19%,#50ffaf 19% 21%,#60ff9f 21% 22.8%,#70ff8f 22.9% 24.5%,#80ff80 24.5% 26.1%,#8fff70 26.1% 27.5%,#9fff60 27.6% 29.1%,#afff50 29.2% 30.6%,#bfff40 30.7% 32%,#cfff30 32% 33.1%,#dfff20 33.2%,#e1ff1e 34.3%,#edff12 34.3%,#f2ff0d 35.3%,#fcff03 35.4%,#ffff00 35.8%,#fffb00 36.3%,#fff300 36.4%,#ffeb00 37.3%,#ffe300 37.3%,#ffe200 37.5%,#ffdb00 38.2%,#ffd300 38.3%,#ffcb00 39.2%,#ffc300 39.2%,#ffbc00 40.2%,#ffb200 40.2%,#ffad00 41.1%,#ffa200 41.2%,#ff9f00 42.3%,#ff9000 42.3%,#ff8f00 43.4%,#ff8000 43.5% 44.9%,#ff7000 45% 46.7%,#ff6000 46.7% 53.3%,#ff7000 53.4% 55.1%,#ff8000 55.1% 56.5%,#ff8f00 56.6%,#ff9000 57.7%,#ff9f00 57.8%,#ffa200 58.8%,#ffad00 58.9%,#ffb300 59.8%,#ffbc00 59.9%,#ffc300 60.8%,#ffcb00 60.8%,#ffd300 61.8%,#ffdb00 61.8%,#ffe300 62.7%,#ffeb00 62.7%,#fff300 63.6%,#fffb00 63.7%,#ffff00 64.2%,#fcff03 64.7%,#f2ff0d 64.7%,#edff12 65.7%,#e1ff1e 65.7%,#dfff20 66.8%,#cfff30 66.9% 68%,#bfff40 68.1% 69.3%,#afff50 69.4% 70.9%,#9fff60 70.9% 72.4%,#8fff70 72.5% 73.9%,#80ff80 73.9% 75.5%,#70ff8f 75.5% 77.2%,#60ff9f 77.2% 79%,#50ffaf 79.1% 81%,#40ffbf 81.1% 83.1%,#30ffcf 83.2% 85.5%,#20ffdf 85.5% 88%,#10ffef 88% 90.6%,#00ffff 90.6% 92.8%,#00efff 92.9% 94.9%,#00dfff 95% 97.1%,#00cfff 97.1% 99.2%,#00bfff 99.3% 100%)"></i>
<i style="background:linear-gradient(#00bfff 0 0.8%,#00cfff 0.8% 2.9%,#00dfff 3% 5%,#00efff 5.1% 7.2%,#00ffff 7.2% 9.4%,#10ffef 9.4% 12%,#20ffdf 12% 14.5%,#30ffcf 14.5% 16.8%,#40ffbf 16.9% 18.9%,#50ffaf 19% 20.9%,#60ff9f 21% 22.8%,#70ff8f 22.8% 24.4%,#80ff80 24.5% 26%,#8fff70 26.1% 27.5%,#9fff60 27.5% 29%,#afff50 29% 30.5%,#bfff40 30.5% 31.8%,#cfff30 31.9%,#d0ff2f 33%,#dfff20 33.1%,#e1ff1e 34.1%,#edff12 34.2%,#f2ff0d 35.1%,#fcff03 35.2%,#ffff00 35.6%,#fffb00 36.2%,#fff300 36.2%,#fff000 36.5%,#ffeb00 37.1%,#ffe400 37.1%,#ffdb00 38%,#ffd400 38%,#ffcb00 39%,#ffc300 39%,#ffbb00 39.9%,#ffb300 39.9%,#ffac00 40.8%,#ffa300 40.9%,#ff9e00 41.9%,#ff9100 41.9%,#ff8f00 43%,#ff8000 43.1% 44.3%,#ff7000 44.3% 45.9%,#ff6000 46% 48.9%,#ff5000 49% 51.1%,#ff6000 51.1% 54%,#ff7000 54.1% 55.7%,#ff8000 55.7% 57%,#ff8f00 57%,#ff9100 58.1%,#ff9d00 58.1%,#ffa300 59.1%,#ffac00 59.2%,#ffb300 60.1%,#ffbb00 60.1%,#ffc400 61%,#ffcb00 61.1%,#ffd400 62%,#ffdb00 62%,#ffe300 62.9%,#ffeb00 62.9%,#fff300 63.8%,#fffb00 63.9%,#ffff00 64.4%,#fcff03 64.8%,#f2ff0d 64.9%,#edff12 65.8%,#e1ff1e 65.9%,#dfff20 67%,#d0ff2f 67%,#cfff30 68.1%,#bfff40 68.2% 69.5%,#afff50 69.6% 71%,#9fff60 71% 72.5%,#8fff70 72.6% 73.9%,#80ff80 74% 75.5%,#70ff8f 75.6% 77.2%,#60ff9f 77.3% 79.1%,#50ffaf 79.1% 81.1%,#40ffbf 81.1% 83.1%,#30ffcf 83.2% 85.5%,#20ffdf 85.5% 88%,#10ffef 88% 90.6%,#00ffff 90.6% 92.8%,#00efff 92.9% 95%,#00dfff 95% 97.1%,#00cfff 97.1% 99.2%,#00bfff 99.3% 100%)"></i>
<i style="background:linear-gradient(#00bfff 0 0.8%,#00cfff 0.8% 2.9%,#00dfff 3% 5%,#00efff 5.1% 7.1%,#00ffff 7.2% 9.4%,#10ffef 9.4% 12%,#20ffdf 12% 14.4%,#30ffcf 14.5% 16.8%,#40ffbf 16.9% 18.9%,#50ffaf 18.9% 20.9%,#60ff9f 20.9% 22.7%,#70ff8f 22.8% 24.4%,#80ff80 24.4% 26%,#8fff70 26% 27.4%,#9fff60 27.4% 28.9%,#afff50 28.9% 30.4%,#bfff40 30.4% 31.7%,#cfff30 31.8%,#d0ff2f 32.9%,#deff21 32.9%,#e1ff1e 34%,#edff12 34%,#f2ff0d 35%,#fcff03 35%,#ffff00 35.5%,#fffb00 35.9%,#fff300 36%,#ffeb00 36.9%,#ffe400 36.9%,#ffda00 37.8%,#ffd400 37.8%,#ffca00 38.7%,#ffc400 38.7%,#ffbb00 39.6%,#ffb400 39.7%,#ffac00 40.5%,#ffa300 40.6%,#ff9c00 41.5%,#ff9200 41.6%,#ff8e00 42.6%,#ff8000 42.7% 43.8%,#ff7000 43.8% 45.3%,#ff6000 45.3% 47.3%,#ff5000 47.3% 52.7%,#ff6000 52.7% 54.7%,#ff7000 54.8% 56.2%,#ff8000 56.2% 57.4%,#ff8e00 57.4%,#ff9200 58.5%,#ff9c00 58.5%,#ffa300 59.4%,#ffab00 59.5%,#ffb400 60.4%,#ffbb00 60.4%,#ffc400 61.3%,#ffca00 61.3%,#ffd400 62.2%,#ffda00 62.2%,#ffe400 63.1%,#ffea00 63.1%,#fff300 64%,#fffb00 64.1%,#ffff00 64.6%,#fcff03 65%,#f3ff0c 65%,#edff12 66%,#e1ff1e 66%,#deff21 67.1%,#d0ff2f 67.2%,#cfff30 68.3%,#bfff40 68.3% 69.6%,#afff50 69.7% 71.1%,#9fff60 71.1% 72.6%,#8fff70 72.6% 74%,#80ff80 74.1% 75.6%,#70ff8f 75.7% 77.3%,#60ff9f 77.3% 79.1%,#50ffaf 79.2% 81.1%,#40ffbf 81.1% 83.2%,#30ffcf 83.2% 85.5%,#20ffdf 85.6% 88%,#10ffef 88.1% 90.6%,#00ffff 90.7% 92.8%,#00efff 92.9% 95%,#00dfff 95% 97.1%,#00cfff 97.1% 99.2%,#00bfff 99.3% 100%)"></i>
<i style="background:linear-gradient(#00bfff 0 0.7%,#00cfff 0.8% 2.9%,#00dfff 3% 5%,#00efff 5.1% 7.1%,#00ffff 7.2% 9.4%,#10ffef 9.4% 11.9%,#20ffdf 12% 14.4%,#30ffcf 14.5% 16.8%,#40ffbf 16.8% 18.8%,#50ffaf 18.9% 20.8%,#60ff9f 20.9% 22.7%,#70ff8f 22.7% 24.3%,#80ff80 24.4% 25.9%,#8fff70 25.9% 27.3%,#9fff60 27.4% 28.8%,#afff50 28.8% 30.2%,#bfff40 30.3% 31.6%,#cfff30 31.6%,#d0ff2f 32.7%,#deff21 32.8%,#e2ff1d 33.8%,#ecff13 33.9%,#f3ff0c 34.8%,#fbff04 34.9%,#fffe00 35.5%,#fffa00 35.8%,#fff300 35.8%,#ffea00 36.7%,#ffe400 36.8%,#ffca00 38.5%,#ffc400 38.5%,#ffba00 39.4%,#ffb400 39.4%,#ffab00 40.3%,#ffa400 40.3%,#ff9c00 41.2%,#ff9300 41.2%,#ff8d00 42.2%,#ff8200 42.3%,#ff8000 43.3%,#ff7000 43.4% 44.7%,#ff6000 44.7% 46.3%,#ff5000 46.3% 53.7%,#ff6000 53.8% 55.3%,#ff7000 55.4% 56.7%,#ff8000 56.7%,#ff8200 57.8%,#ff8d00 57.8%,#ff9300 58.8%,#ff9b00 58.8%,#ffa400 59.7%,#ffab00 59.8%,#ffb500 60.6%,#ffba00 60.7%,#ffc500 61.5%,#ffca00 61.6%,#ffd400 62.4%,#ffda00 62.4%,#ffe400 63.3%,#ffea00 63.3%,#fff400 64.2%,#fffb00 64.3%,#ffff00 64.7%,#fbff04 65.2%,#f2ff0d 65.2%,#edff12 66.1%,#e2ff1d 66.2%,#deff21 67.2%,#d0ff2f 67.3%,#cfff30 68.4%,#bfff40 68.4% 69.7%,#afff50 69.8% 71.2%,#9fff60 71.2% 72.7%,#8fff70 72.7% 74.1%,#80ff80 74.1% 75.7%,#70ff8f 75.7% 77.3%,#60ff9f 77.4% 79.2%,#50ffaf 79.2% 81.1%,#40ffbf 81.2% 83.2%,#30ffcf 83.3% 85.6%,#20ffdf 85.6% 88%,#10ffef 88.1% 90.6%,#00ffff 90.7% 92.8%,#00efff 92.9% 95%,#00dfff 95% 97.1%,#00cfff 97.1% 99.2%,#00bfff 99.3% 100%)"></i>
<i style="background:linear-gradient(#00bfff 0 0.7%,#00cfff 0.8% 2.9%,#00dfff 2.9% 5%,#00efff 5% 7.1%,#00ffff 7.2% 9.3%,#10ffef 9.4% 11.9%,#20ffdf 12% 14.4%,#30ffcf 14.4% 16.7%,#40ffbf 16.8% 18.8%,#50ffaf 18.9% 20.8%,#60ff9f 20.8% 22.6%,#70ff8f 22.7% 24.3%,#80ff80 24.3% 25.8%,#8fff70 25.9% 27.2%,#9fff60 27.3% 28.7%,#afff50 28.7% 30.1%,#bfff40 30.2% 31.5%,#cfff30 31.5%,#d0ff2f 32.6%,#deff21 32.6%,#e2ff1d 33.7%,#ecff13 33.7%,#f3ff0c 34.7%,#fbff04 34.7%,#ffff00 35.2%,#ffba00 39.1%,#ffb500 39.2%,#ffaa00 40%,#ffa500 40%,#ff9b00 40.9%,#ff9400 40.9%,#ff8c00 41.9%,#ff8300 41.9%,#ff7e00 42.9%,#ff7100 42.9%,#ff7000 44.1%,#ff6000 44.1% 45.5%,#ff5000 45.6% 48%,#ff4000 48% 52%,#ff5000 52.1% 54.4%,#ff6000 54.5% 55.9%,#ff7000 56%,#ff7100 57.1%,#ff7e00 57.1%,#ff8300 58.1%,#ff8c00 58.2%,#ff9400 59.1%,#ff9a00 59.1%,#ffa500 60%,#ffaa00 60%,#ffb500 60.8%,#ffb900 60.9%,#ffd500 62.6%,#ffd900 62.6%,#ffe400 63.4%,#ffea00 63.5%,#ffff00 64.9%,#fbff04 65.3%,#f3ff0c 65.4%,#ecff13 66.3%,#e2ff1d 66.3%,#deff21 67.4%,#d0ff2f 67.4%,#cfff30 68.5%,#bfff40 68.6% 69.8%,#afff50 69.9% 71.3%,#9fff60 71.3% 72.7%,#8fff70 72.8% 74.1%,#80ff80 74.2% 75.7%,#70ff8f 75.8% 77.4%,#60ff9f 77.4% 79.2%,#50ffaf 79.3% 81.2%,#40ffbf 81.2% 83.2%,#30ffcf 83.3% 85.6%,#20ffdf 85.6% 88.1%,#10ffef 88.1% 90.6%,#00ffff 90.7% 92.8%,#00efff 92.9% 95%,#00dfff 95% 97.1%,#00cfff 97.1% 99.2%,#00bfff 99.3% 100%)"></i>
<i style="background:linear-gradient(#00bfff 0 0.7%,#00cfff 0.8% 2.9%,#00dfff 2.9% 5%,#00efff 5% 7.1%,#00ffff 7.2% 9.3%,#10ffef 9.4% 11.9%,#20ffdf 12% 14.4%,#30ffcf 14.4% 16.7%,#40ffbf 16.8% 18.8%,#50ffaf 18.8% 20.7%,#60ff9f 20.8% 22.6%,#70ff8f 22.6% 24.2%,#80ff80 24.3% 25.8%,#8fff70 25.8% 27.2%,#9fff60 27.2% 28.6%,#afff50 28.7% 30%,#bfff40 30.1% 31.3%,#cfff30 31.4%,#d1ff2e 32.5%,#deff21 32.5%,#e2ff1d 33.6%,#ecff13 33.6%,#f3ff0c 34.5%,#fbff04 34.6%,#ffff00 35%,#ffdf00 36.8%,#ffa500 39.8%,#ff9a00 40.6%,#ff9500 40.6%,#ff8b00 41.5%,#ff8400 41.5%,#ff7d00 42.5%,#ff7200 42.5%,#ff6f00 43.5%,#ff6000 43.6% 44.9%,#ff5000 44.9% 46.6%,#ff4000 46.6% 53.4%,#ff5000 53.4% 55.1%,#ff6000 55.2% 56.4%,#ff6f00 56.5%,#ff7200 57.5%,#ff7d00 57.5%,#ff8400 58.5%,#ff8b00 58.5%,#ff9500 59.4%,#ff9a00 59.4%,#ffa500 60.2%,#ffd900 62.8%,#ffe500 63.6%,#ffea00 63.7%,#ffff00 65%,#fbff04 65.5%,#f3ff0c 65.5%,#ecff13 66.4%,#e2ff1d 66.5%,#deff21 67.5%,#d0ff2f 67.6%,#cfff30 68.6%,#bfff40 68.7% 69.9%,#afff50 70% 71.4%,#9fff60 71.4% 72.8%,#8fff70 72.9% 74.2%,#80ff80 74.3% 75.8%,#70ff8f 75.8% 77.4%,#60ff9f 77.5% 79.2%,#50ffaf 79.3% 81.2%,#40ffbf 81.3% 83.3%,#30ffcf 83.4% 85.6%,#20ffdf 85.7% 88.1%,#10ffef 88.1% 90.6%,#00ffff 90.7% 92.9%,#00efff 92.9% 95%,#00dfff 95% 97.1%,#00cfff 97.1% 99.2%,#00bfff 99.3% 100%)"></i>
<i style="background:linear-gradient(#00bfff 0 0.7%,#00cfff 0.8% 2.9%,#00dfff 2.9% 5%,#00efff 5% 7.1%,#00ffff 7.2% 9.3%,#10ffef 9.4% 11.9%,#20ffdf 11.9% 14.3%,#30ffcf 14.4% 16.6%,#40ffbf 16.7% 18.7%,#50ffaf 18.8% 20.7%,#60ff9f 20.7% 22.5%,#70ff8f 22.6% 24.1%,#80ff80 24.2% 25.7%,#8fff70 25.8% 27.1%,#9fff60 27.1% 28.5%,#afff50 28.6% 29.9%,#bfff40 30% 31.2%,#cfff30 31.3%,#d1ff2e 32.3%,#deff21 32.4%,#e2ff1d 33.4%,#ecff13 33.5%,#f3ff0c 34.4%,#fbff04 34.4%,#ffff00 34.8%,#ffdf00 36.6%,#ff9500 40.4%,#ff8a00 41.2%,#ff8500 41.2%,#ff7b00 42.1%,#ff7300 42.2%,#ff6e00 43.1%,#ff6200 43.1%,#ff6000 44.2%,#ff5000 44.3% 45.7%,#ff4000 45.7% 48.4%,#ff3000 48.4% 51.6%,#ff4000 51.6% 54.3%,#ff5000 54.3% 55.7%,#ff6000 55.8%,#ff6100 56.9%,#ff6e00 56.9%,#ff7400 57.9%,#ff7b00 57.9%,#ff8500 58.8%,#ff8a00 58.9%,#ff9600 59.7%,#ffff00 65.2%,#fbff04 65.6%,#f3ff0c 65.7%,#ecff13 66.6%,#e2ff1d 66.6%,#deff21 67.6%,#d1ff2e 67.7%,#cfff30 68.8%,#bfff40 68.8% 70%,#afff50 70.1% 71.5%,#9fff60 71.5% 72.9%,#8fff70 72.9% 74.3%,#80ff80 74.3% 75.8%,#70ff8f 75.9% 77.5%,#60ff9f 77.5% 79.3%,#50ffaf 79.3% 81.2%,#40ffbf 81.3% 83.3%,#30ffcf 83.4% 85.6%,#20ffdf 85.7% 88.1%,#10ffef 88.1% 90.7%,#00ffff 90.7% 92.9%,#00efff 92.9% 95%,#00dfff 95% 97.1%,#00cfff 97.1% 99.2%,#00bfff 99.3% 100%)"></i>
<i style="background:linear-gradient(#00bfff 0 0.7%,#00cfff 0.8% 2.9%,#00dfff 2.9% 5%,#00efff 5% 7.1%,#00ffff 7.2% 9.3%,#10ffef 9.3% 11.9%,#20ffdf 11.9% 14.3%,#30ffcf 14.4% 16.6%,#40ffbf 16.6% 18.7%,#50ffaf 18.7% 20.7%,#60ff9f 20.7% 22.5%,#70ff8f 22.5% 24.1%,#80ff80 24.1% 25.6%,#8fff70 25.7% 27%,#9fff60 27.1% 28.4%,#afff50 28.5% 29.8%,#bfff40 29.9% 31.1%,#cfff30 31.2%,#d1ff2e 32.2%,#ddff22 32.3%,#e2ff1d 33.2%,#ecff13 33.3%,#f3ff0c 34.2%,#faff05 34.3%,#ffff00 34.7%,#ffea00 35.9%,#ff8500 40.9%,#ff7a00 41.8%,#ff7400 41.8%,#ff6c00 42.7%,#ff6300 42.7%,#ff5f00 43.7%,#ff5000 43.8% 45%,#ff4000 45% 46.7%,#ff3000 46.8% 53.2%,#ff4000 53.3% 55%,#ff5000 55% 56.3%,#ff5f00 56.3%,#ff6300 57.3%,#ff6c00 57.4%,#ff7500 58.2%,#ff7a00 58.3%,#ff8600 59.1%,#ffff00 65.3%,#fbff04 65.7%,#f4ff0b 65.8%,#ecff13 66.7%,#e2ff1d 66.8%,#ddff22 67.8%,#d1ff2e 67.8%,#cfff30 68.9%,#bfff40 68.9% 70.2%,#afff50 70.2% 71.6%,#9fff60 71.6% 72.9%,#8fff70 73% 74.3%,#80ff80 74.4% 75.9%,#70ff8f 75.9% 77.5%,#60ff9f 77.6% 79.3%,#50ffaf 79.4% 81.3%,#40ffbf 81.3% 83.4%,#30ffcf 83.4% 85.7%,#20ffdf 85.7% 88.1%,#10ffef 88.2% 90.7%,#00ffff 90.7% 92.9%,#00efff 92.9% 95%,#00dfff 95% 97.1%,#00cfff 97.1% 99.3%,#00bfff 99.3% 100%)"></i>
<i style="background:linear-gradient(#00bfff 0 0.7%,#00cfff 0.8% 2.9%,#00dfff 2.9% 5%,#00efff 5% 7.1%,#00ffff 7.2% 9.3%,#10ffef 9.3% 11.8%,#20ffdf 11.9% 14.3%,#30ffcf 14.3% 16.6%,#40ffbf 16.6% 18.7%,#50ffaf 18.7% 20.6%,#60ff9f 20.7% 22.4%,#70ff8f 22.5% 24%,#80ff80 24.1% 25.6%,#8fff70 25.6% 27%,#9fff60 27% 28.3%,#afff50 28.4% 29.7%,#bfff40 29.8% 31%,#cfff30 31.1%,#d1ff2e 32.1%,#ddff22 32.2%,#e3ff1c 33.1%,#ecff13 33.2%,#f3ff0c 34.1%,#faff05 34.1%,#fffa00 34.9%,#fff500 35%,#ffe900 35.8%,#ff7600 41.4%,#ff6b00 42.3%,#ff6500 42.3%,#ff5d00 43.2%,#ff5300 43.3%,#ff5000 44.3%,#ff4000 44.4% 45.7%,#ff3000 45.8% 48.4%,#ff2000 48.4% 51.6%,#ff3000 51.6% 54.3%,#ff4000 54.3% 55.7%,#ff5000 55.7%,#ff5200 56.7%,#ff5d00 56.8%,#ff6400 57.7%,#ff6b00 57.7%,#ff7500 58.6%,#ffff00 65.5%,#faff05 65.9%,#f4ff0b 65.9%,#ebff14 66.9%,#e2ff1d 66.9%,#ddff22 67.9%,#d1ff2e 67.9%,#cfff30 69%,#bfff40 69% 70.3%,#afff50 70.3% 71.6%,#9fff60 71.7% 73%,#8fff70 73.1% 74.4%,#80ff80 74.4% 75.9%,#70ff8f 76% 77.6%,#60ff9f 77.6% 79.4%,#50ffaf 79.4% 81.3%,#40ffbf 81.4% 83.4%,#30ffcf 83.5% 85.7%,#20ffdf 85.7% 88.1%,#10ffef 88.2% 90.7%,#00ffff 90.7% 92.9%,#00efff 92.9% 95%,#00dfff 95.1% 97.1%,#00cfff 97.1% 99.3%,#00bfff 99.3% 100%)"></i>
<i style="background:linear-gradient(#00bfff 0 0.7%,#00cfff 0.8% 2.9%,#00dfff 2.9% 5%,#00efff 5% 7.1%,#00ffff 7.1% 9.3%,#10ffef 9.3% 11.8%,#20ffdf 11.9% 14.3%,#30ffcf 14.3% 16.5%,#40ffbf 16.6% 18.6%,#50ffaf 18.7% 20.6%,#60ff9f 20.6% 22.4%,#70ff8f 22.4% 24%,#80ff80 24% 25.5%,#8fff70 25.6% 26.9%,#9fff60 27% 28.2%,#afff50 28.3% 29.6%,#bfff40 29.7% 30.9%,#cfff30 30.9%,#d1ff2e 32%,#ddff22 32%,#e3ff1c 33%,#ebff14 33%,#f4ff0b 34%,#faff05 34%,#ffff00 34.4%,#fff100 35.2%,#ff6600 42%,#ff5b00 42.8%,#ff5500 42.8%,#ff4e00 43.8%,#ff4200 43.8%,#ff4000 45%,#ff3000 45% 46.6%,#ff2000 46.7% 53.4%,#ff3000 53.4% 55%,#ff4000 55.1%,#ff4200 56.2%,#ff4e00 56.3%,#ff5400 57.2%,#ff5b00 57.2%,#ff6500 58%,#ffe900 64.4%,#ffff00 65.6%,#faff05 66%,#f4ff0b 66.1%,#ebff14 67%,#e3ff1c 67%,#ddff22 68%,#d1ff2e 68%,#cfff30 69.1%,#bfff40 69.1% 70.3%,#afff50 70.4% 71.7%,#9fff60 71.8% 73.1%,#8fff70 73.1% 74.4%,#80ff80 74.5% 76%,#70ff8f 76% 77.6%,#60ff9f 77.6% 79.4%,#50ffaf 79.4% 81.3%,#40ffbf 81.4% 83.4%,#30ffcf 83.5% 85.7%,#20ffdf 85.7% 88.1%,#10ffef 88.2% 90.7%,#00ffff 90.8% 92.9%,#00efff 92.9% 95%,#00dfff 95.1% 97.1%,#00cfff 97.2% 99.3%,#00bfff 99.3% 100%)"></i>
<i style="background:linear-gradient(#00bfff 0 0.7%,#00cfff 0.8% 2.9%,#00dfff 2.9% 5%,#00efff 5% 7.1%,#00ffff 7.1% 9.3%,#10ffef 9.3% 11.8%,#20ffdf 11.9% 14.3%,#30ffcf 14.3% 16.5%,#40ffbf 16.6% 18.6%,#50ffaf 18.7% 20.5%,#60ff9f 20.6% 22.3%,#70ff8f 22.4% 23.9%,#80ff80 24% 25.5%,#8fff70 25.5% 26.8%,#9fff60 26.9% 28.2%,#afff50 28.2% 29.5%,#bfff40 29.6% 30.8%,#cfff30 30.8%,#d1ff2e 31.9%,#ddff22 31.9%,#e3ff1c 32.9%,#ebff14 32.9%,#fffc00 34.5%,#ff5500 42.5%,#ff4b00 43.3%,#ff4400 43.3%,#ff3f00 44.3%,#ff3100 44.3%,#ff3000 45.6%,#ff2000 45.6% 47.9%,#ff1000 47.9% 52.1%,#ff2000 52.2% 54.4%,#ff3000 54.4%,#ff3100 55.7%,#ff3f00 55.7%,#ff4400 56.7%,#ff4b00 56.7%,#ff5600 57.6%,#ffff00 65.7%,#faff05 66.1%,#f4ff0b 66.2%,#ebff14 67.1%,#e3ff1c 67.2%,#ddff22 68.1%,#d1ff2e 68.1%,#cfff30 69.2%,#bfff40 69.2% 70.4%,#afff50 70.5% 71.8%,#9fff60 71.9% 73.1%,#8fff70 73.2% 74.5%,#80ff80 74.5% 76%,#70ff8f 76.1% 77.6%,#60ff9f 77.7% 79.4%,#50ffaf 79.5% 81.4%,#40ffbf 81.4% 83.5%,#30ffcf 83.5% 85.7%,#20ffdf 85.8% 88.2%,#10ffef 88.2% 90.7%,#00ffff 90.8% 92.9%,#00efff 92.9% 95%,#00dfff 95.1% 97.1%,#00cfff 97.2% 99.3%,#00bfff 99.3% 100%)"></i>
<i style="background:linear-gradient(#00bfff 0 0.7%,#00cfff 0.8% 2.9%,#00dfff 2.9% 5%,#00efff 5% 7.1%,#00ffff 7.1% 9.2%,#10ffef 9.3% 11.8%,#20ffdf 11.9% 14.2%,#30ffcf 14.3% 16.5%,#40ffbf 16.5% 18.6%,#50ffaf 18.6% 20.5%,#60ff9f 20.6% 22.3%,#70ff8f 22.3% 23.9%,#80ff80 24% 25.4%,#8fff70 25.5% 26.8%,#9fff60 26.8% 28.1%,#afff50 28.1% 29.5%,#bfff40 29.5%,#c0ff3f 30.7%,#cfff30 30.8%,#d2ff2d 31.8%,#ddff22 31.8%,#e3ff1c 32.8%,#ebff14 32.8%,#f4ff0b 33.7%,#faff05 33.8%,#ffff00 34.2%,#ff4b00 42.8%,#ff3c00 43.7%,#ff3400 43.8%,#ff3000 44.8%,#ff2000 44.9% 46.3%,#ff1000 46.3% 53.7%,#ff2000 53.8% 55.1%,#ff3000 55.2%,#ff3300 56.2%,#ff3c00 56.3%,#ff4600 57.1%,#ffce00 63.4%,#ffff00 65.9%,#faff05 66.3%,#f4ff0b 66.3%,#ebff14 67.2%,#e3ff1c 67.3%,#ddff22 68.2%,#d2ff2d 68.2%,#cfff30 69.3%,#c0ff3f 69.3%,#bfff40 70.5%,#afff50 70.6% 71.9%,#9fff60 71.9% 73.2%,#8fff70 73.2% 74.5%,#80ff80 74.6% 76.1%,#70ff8f 76.1% 77.7%,#60ff9f 77.7% 79.5%,#50ffaf 79.5% 81.4%,#40ffbf 81.4% 83.5%,#30ffcf 83.5% 85.7%,#20ffdf 85.8% 88.2%,#10ffef 88.2% 90.7%,#00ffff 90.8% 92.9%,#00efff 92.9% 95%,#00dfff 95.1% 97.1%,#00cfff 97.2% 99.3%,#00bfff 99.3% 100%)"></i>
<i style="background:linear-gradient(#00bfff 0 0.7%,#00cfff 0.8% 2.9%,#00dfff 2.9% 5%,#00efff 5% 7.1%,#00ffff 7.1% 9.2%,#10ffef 9.3% 11.8%,#20ffdf 11.8% 14.2%,#30ffcf 14.3% 16.5%,#40ffbf 16.5% 18.6%,#50ffaf 18.6% 20.5%,#60ff9f 20.5% 22.3%,#70ff8f 22.3% 23.9%,#80ff80 23.9% 25.4%,#8fff70 25.4% 26.7%,#9fff60 26.8% 28%,#afff50 28.1% 29.4%,#bfff40 29.4%,#c0ff3f 30.6%,#cfff30 30.7%,#d2ff2d 31.7%,#ddff22 31.7%,#e3ff1c 32.6%,#ebff14 32.7%,#f4ff0b 33.6%,#f9ff06 33.6%,#ffff00 34%,#fff400 34.6%,#ff3500 43.3%,#ff2c00 44.2%,#ff2300 44.2%,#ff2000 45.3%,#ff1000 45.4% 47%,#ff0000 47% 53%,#ff1000 53% 54.7%,#ff2000 54.7%,#ff2300 55.8%,#ff2d00 55.9%,#ff3600 56.7%,#ffc900 63.3%,#ffff00 66%,#faff05 66.4%,#f4ff0b 66.4%,#ebff14 67.3%,#e3ff1c 67.4%,#ddff22 68.3%,#d2ff2d 68.3%,#cfff30 69.4%,#c0ff3f 69.5%,#bfff40 70.6%,#afff50 70.7% 71.9%,#9fff60 72% 73.2%,#8fff70 73.3% 74.6%,#80ff80 74.6% 76.1%,#70ff8f 76.2% 77.7%,#60ff9f 77.8% 79.5%,#50ffaf 79.5% 81.4%,#40ffbf 81.5% 83.5%,#30ffcf 83.6% 85.8%,#20ffdf 85.8% 88.2%,#10ffef 88.2% 90.7%,#00ffff 90.8% 92.9%,#00efff 92.9% 95%,#00dfff 95.1% 97.1%,#00cfff 97.2% 99.3%,#00bfff 99.3% 100%)"></i>
<i style="background:linear-gradient(#00bfff 0 0.7%,#00cfff 0.8% 2.9%,#00dfff 2.9% 5%,#00efff 5% 7.1%,#00ffff 7.1% 9.2%,#10ffef 9.3% 11.8%,#20ffdf 11.8% 14.2%,#30ffcf 14.3% 16.5%,#40ffbf 16.5% 18.5%,#50ffaf 18.6% 20.4%,#60ff9f 20.5% 22.2%,#70ff8f 22.3% 23.8%,#80ff80 23.9% 25.3%,#8fff70 25.4% 26.7%,#9fff60 26.7% 28%,#afff50 28% 29.3%,#bfff40 29.3%,#c0ff3f 30.5%,#ceff31 30.5%,#d2ff2d 31.6%,#dcff23 31.6%,#e3ff1c 32.5%,#ebff14 32.6%,#fffc00 34.1%,#ffc200 36.9%,#ff2600 43.7%,#ff1d00 44.6%,#ff1300 44.6%,#ff1000 45.8%,#ff0000 45.8% 47.9%,#ef0000 48% 52%,#ff0000 52.1% 54.2%,#ff1000 54.3%,#ff1300 55.4%,#ff1d00 55.4%,#ff2500 56.3%,#ffc700 63.4%,#ffff00 66.1%,#ebff14 67.4%,#e3ff1c 67.5%,#dcff23 68.4%,#d2ff2d 68.4%,#cfff30 69.5%,#c0ff3f 69.6%,#bfff40 70.7%,#afff50 70.7% 72%,#9fff60 72.1% 73.3%,#8fff70 73.3% 74.6%,#80ff80 74.7% 76.2%,#70ff8f 76.2% 77.7%,#60ff9f 77.8% 79.5%,#50ffaf 79.6% 81.4%,#40ffbf 81.5% 83.5%,#30ffcf 83.6% 85.8%,#20ffdf 85.8% 88.2%,#10ffef 88.2% 90.7%,#00ffff 90.8% 92.9%,#00efff 92.9% 95%,#00dfff 95.1% 97.1%,#00cfff 97.2% 99.3%,#00bfff 99.3% 100%)"></i>
<i style="background:linear-gradient(#00bfff 0 0.7%,#00cfff 0.8% 2.9%,#00dfff 2.9% 5%,#00efff 5% 7.1%,#00ffff 7.1% 9.2%,#10ffef 9.3% 11.8%,#20ffdf 11.8% 14.2%,#30ffcf 14.2% 16.4%,#40ffbf 16.5% 18.5%,#50ffaf 18.6% 20.4%,#60ff9f 20.5% 22.1%,#70ff8f 22.2% 23.8%,#80ff80 23.8% 25.3%,#8fff70 25.3% 26.6%,#9fff60 26.7% 27.9%,#afff50 28% 29.2%,#bfff40 29.3%,#c0ff3f 30.4%,#ceff31 30.4%,#d2ff2d 31.5%,#dcff23 31.5%,#e3ff1c 32.4%,#eaff15 32.5%,#ffff00 33.8%,#ffbd00 36.9%,#ff3400 42.6%,#ff1a00 44%,#ff1500 44%,#ff0e00 44.9%,#ff0200 45%,#ff0000 45.3% 46.2%,#ef0000 46.2% 49.5%,#df0000 49.6% 50.5%,#ef0000 50.5% 53.8%,#ff0000 53.8%,#ff0200 55%,#ff0e00 55.1%,#ff1600 56%,#ffc200 63.3%,#ffff00 66.2%,#ebff14 67.5%,#e4ff1b 67.6%,#dcff23 68.5%,#d2ff2d 68.5%,#ceff31 69.6%,#c0ff3f 69.6%,#bfff40 70.8%,#afff50 70.8% 72.1%,#9fff60 72.1% 73.3%,#8fff70 73.4% 74.7%,#80ff80 74.7% 76.2%,#70ff8f 76.2% 77.8%,#60ff9f 77.9% 79.6%,#50ffaf 79.6% 81.5%,#40ffbf 81.5% 83.5%,#30ffcf 83.6% 85.8%,#20ffdf 85.8% 88.2%,#10ffef 88.3% 90.7%,#00ffff 90.8% 92.9%,#00efff 92.9% 95%,#00dfff 95.1% 97.1%,#00cfff 97.2% 99.3%,#00bfff 99.3% 100%)"></i>
<i style="background:linear-gradient(#00bfff 0 0.7%,#00cfff 0.8% 2.9%,#00dfff 2.9% 5%,#00efff 5% 7.1%,#00ffff 7.1% 9.2%,#10ffef 9.3% 11.8%,#20ffdf 11.8% 14.2%,#30ffcf 14.2% 16.4%,#40ffbf 16.5% 18.5%,#50ffaf 18.5% 20.4%,#60ff9f 20.5% 22.1%,#70ff8f 22.2% 23.7%,#80ff80 23.8% 25.3%,#8fff70 25.3% 26.6%,#9fff60 26.6% 27.9%,#afff50 27.9% 29.1%,#bfff40 29.2%,#c0ff3f 30.3%,#ceff31 30.4%,#d2ff2d 31.4%,#dcff23 31.5%,#e4ff1b 32.4%,#ebff14 32.4%,#f5ff0a 33.2%,#f9ff06 33.3%,#fff900 34%,#ffb200 37.2%,#ff2900 42.7%,#ff0000 44.8%,#fd0000 45.2%,#f10000 45.3%,#f00000 45.3%,#ef0000 46.6%,#df0000 46.6% 53.4%,#ef0000 53.4%,#f00000 54.7% 54.7%,#fd0000 54.8%,#ff0200 55.4%,#ff3200 57.7%,#ffc100 63.4%,#ffff00 66.3%,#eaff15 67.6%,#e4ff1b 67.7%,#dcff23 68.6%,#d2ff2d 68.6%,#ceff31 69.7%,#c0ff3f 69.7%,#bfff40 70.8%,#afff50 70.9% 72.1%,#9fff60 72.2% 73.4%,#8fff70 73.4% 74.7%,#80ff80 74.8% 76.2%,#70ff8f 76.3% 77.9%,#60ff9f 77.9% 79.6%,#50ffaf 79.6% 81.5%,#40ffbf 81.5% 83.6%,#30ffcf 83.6% 85.8%,#20ffdf 85.8% 88.2%,#10ffef 88.3% 90.7%,#00ffff 90.8% 92.9%,#00efff 92.9% 95%,#00dfff 95.1% 97.1%,#00cfff 97.1% 99.3%,#00bfff 99.3% 100%)"></i>
<i style="background:linear-gradient(#00bfff 0 0.7%,#00cfff 0.8% 2.9%,#00dfff 2.9% 5%,#00efff 5% 7.1%,#00ffff 7.1% 9.2%,#10ffef 9.3% 11.8%,#20ffdf 11.8% 14.2%,#30ffcf 14.2% 16.4%,#40ffbf 16.5% 18.5%,#50ffaf 18.5% 20.4%,#60ff9f 20.4% 22.1%,#70ff8f 22.1% 23.7%,#80ff80 23.8% 25.2%,#8fff70 25.3% 26.5%,#9fff60 26.6% 27.8%,#afff50 27.9% 29.1%,#bfff40 29.1%,#c0ff3f 30.2%,#ceff31 30.3%,#d2ff2d 31.3%,#dcff23 31.4%,#e4ff1b 32.3%,#eaff15 32.3%,#ffff00 33.6%,#ffb600 36.9%,#ff2900 42.4%,#ff0000 44.1%,#f10000 44.8%,#ee0000 45.5%,#e00000 45.5%,#df0000 47%,#cf0000 47% 53%,#df0000 53.1%,#e00000 54.5%,#ee0000 54.5%,#f10000 55.2%,#ff0000 55.9%,#ff2900 57.7%,#ffb700 63.1%,#ffff00 66.4%,#eaff15 67.7%,#e4ff1b 67.8%,#dcff23 68.7%,#d2ff2d 68.7%,#ceff31 69.7%,#c0ff3f 69.8%,#bfff40 70.9%,#afff50 70.9% 72.2%,#9fff60 72.3% 73.4%,#8fff70 73.5% 74.8%,#80ff80 74.8% 76.3%,#70ff8f 76.3% 77.9%,#60ff9f 77.9% 79.6%,#50ffaf 79.6% 81.5%,#40ffbf 81.5% 83.6%,#30ffcf 83.6% 85.8%,#20ffdf 85.8% 88.2%,#10ffef 88.3% 90.7%,#00ffff 90.8% 92.9%,#00efff 92.9% 95%,#00dfff 95% 97.1%,#00cfff 97.1% 99.2%,#00bfff 99.3% 100%)"></i>
<i style="background:linear-gradient(#00bfff 0 0.7%,#00cfff 0.8% 2.9%,#00dfff 2.9% 5%,#00efff 5% 7.1%,#00ffff 7.2% 9.2%,#10ffef 9.3% 11.8%,#20ffdf 11.8% 14.2%,#30ffcf 14.2% 16.4%,#40ffbf 16.5% 18.5%,#50ffaf 18.5% 20.4%,#60ff9f 20.4% 22.1%,#70ff8f 22.1% 23.7%,#80ff80 23.7% 25.2%,#8fff70 25.2% 26.5%,#9fff60 26.6% 27.7%,#afff50 27.8% 29%,#bfff40 29.1%,#c0ff3f 30.2%,#ceff31 30.2%,#d2ff2d 31.2%,#dcff23 31.3%,#e4ff1b 32.2%,#eaff15 32.2%,#feff01 33.5%,#fff600 33.9%,#ffaa00 37.3%,#fe0000 43.6%,#e20000 44.9%,#df0000 45.7%,#cf0000 45.8% 47.4%,#bf0000 47.4% 52.6%,#cf0000 52.6% 54.3%,#df0000 54.3%,#e30000 55.1%,#ff0000 56.4%,#ffad00 62.9%,#ffff00 66.5%,#eaff15 67.8%,#e4ff1b 67.8%,#dcff23 68.7%,#d2ff2d 68.8%,#ceff31 69.8%,#c0ff3f 69.9%,#bfff40 71%,#afff50 71% 72.3%,#9fff60 72.3% 73.5%,#8fff70 73.5% 74.8%,#80ff80 74.8% 76.3%,#70ff8f 76.3% 77.9%,#60ff9f 78% 79.6%,#50ffaf 79.7% 81.5%,#40ffbf 81.6% 83.6%,#30ffcf 83.6% 85.8%,#20ffdf 85.9% 88.2%,#10ffef 88.3% 90.7%,#00ffff 90.8% 92.9%,#00efff 92.9% 95%,#00dfff 95% 97.1%,#00cfff 97.1% 99.2%,#00bfff 99.3% 100%)"></i>
<i style="background:linear-gradient(#00bfff 0 0.7%,#00cfff 0.8% 2.9%,#00dfff 3% 5%,#00efff 5% 7.1%,#00ffff 7.2% 9.2%,#10ffef 9.3% 11.8%,#20ffdf 11.8% 14.2%,#30ffcf 14.2% 16.4%,#40ffbf 16.4% 18.5%,#50ffaf 18.5% 20.4%,#60ff9f 20.4% 22.1%,#70ff8f 22.1% 23.7%,#80ff80 23.7% 25.2%,#8fff70 25.2% 26.5%,#9fff60 26.5% 27.7%,#afff50 27.7% 29%,#bfff40 29%,#c1ff3e 30.1%,#ceff31 30.2%,#d3ff2c 31.2%,#dcff23 31.2%,#e4ff1b 32.1%,#eaff15 32.1%,#ffff00 33.4%,#ffa500 37.3%,#fe0000 43.2%,#d40000 45%,#cf0000 45.9%,#bf0000 46% 48%,#af0000 48.1% 52%,#bf0000 52% 54.1%,#cf0000 54.1%,#d40000 55.1%,#d90000 55.1%,#ff0000 56.9%,#ffa400 62.7%,#ffff00 66.6%,#eaff15 67.9%,#e4ff1b 67.9%,#dcff23 68.8%,#d2ff2d 68.9%,#ceff31 69.9%,#c1ff3e 69.9%,#bfff40 71%,#afff50 71.1% 72.3%,#9fff60 72.3% 73.5%,#8fff70 73.6% 74.8%,#80ff80 74.9% 76.3%,#70ff8f 76.4% 77.9%,#60ff9f 78% 79.6%,#50ffaf 79.7% 81.5%,#40ffbf 81.6% 83.6%,#30ffcf 83.6% 85.8%,#20ffdf 85.9% 88.2%,#10ffef 88.3% 90.7%,#00ffff 90.8% 92.9%,#00efff 92.9% 95%,#00dfff 95% 97.1%,#00cfff 97.1% 99.2%,#00bfff 99.3% 100%)"></i>
<i style="background:linear-gradient(#00bfff 0 0.8%,#00cfff 0.8% 2.9%,#00dfff 3% 5%,#00efff 5.1% 7.1%,#00ffff 7.2% 9.2%,#10ffef 9.3% 11.8%,#20ffdf 11.8% 14.2%,#30ffcf 14.2% 16.4%,#40ffbf 16.4% 18.5%,#50ffaf 18.5% 20.3%,#60ff9f 20.4% 22%,#70ff8f 22.1% 23.7%,#80ff80 23.7% 25.1%,#8fff70 25.2% 26.4%,#9fff60 26.5% 27.6%,#afff50 27.7% 28.9%,#bfff40 29%,#c1ff3e 30%,#ceff31 30.1%,#d3ff2c 31.1%,#dcff23 31.2%,#e4ff1b 32%,#eaff15 32.1%,#fffe00 33.4%,#ffd200 35.4%,#ff9e00 37.4%,#fe0000 42.8%,#d90000 44.1%,#ca0000 45%,#c40000 45.1%,#bf0000 46.1%,#af0000 46.2% 53.8%,#bf0000 53.9%,#c40000 55%,#ca0000 55%,#da0000 55.9%,#fe0000 57.3%,#ff9f00 62.6%,#ffd600 64.8%,#feff01 66.8%,#eaff15 67.9%,#e5ff1a 68%,#dbff24 68.9%,#d3ff2c 68.9%,#ceff31 69.9%,#c1ff3e 70%,#bfff40 71.1%,#afff50 71.1% 72.3%,#9fff60 72.4% 73.5%,#8fff70 73.6% 74.8%,#80ff80 74.9% 76.3%,#70ff8f 76.4% 77.9%,#60ff9f 78% 79.6%,#50ffaf 79.7% 81.5%,#40ffbf 81.6% 83.6%,#30ffcf 83.6% 85.8%,#20ffdf 85.9% 88.2%,#10ffef 88.3% 90.7%,#00ffff 90.8% 92.9%,#00efff 92.9% 95%,#00dfff 95% 97.1%,#00cfff 97.1% 99.2%,#00bfff 99.3% 100%)"></i>
<i style="background:linear-gradient(#00bfff 0 0.8%,#00cfff 0.8% 2.9%,#00dfff 3% 5%,#00efff 5.1% 7.1%,#00ffff 7.2% 9.3%,#10ffef 9.3% 11.8%,#20ffdf 11.8% 14.2%,#30ffcf 14.2% 16.4%,#40ffbf 16.4% 18.5%,#50ffaf 18.5% 20.3%,#60ff9f 20.4% 22%,#70ff8f 22.1% 23.6%,#80ff80 23.7% 25.1%,#8fff70 25.2% 26.4%,#9fff60 26.5% 27.6%,#afff50 27.7% 28.9%,#bfff40 28.9%,#c1ff3e 30%,#cdff32 30%,#d3ff2c 31%,#dbff24 31.1%,#e5ff1a 32%,#eaff15 32%,#ffff00 33.2%,#ffd000 35.3%,#ff9900 37.5%,#ff0000 42.4%,#cd0000 44.1%,#bf0000 44.8%,#bc0000 45.2%,#b20000 45.2%,#af0000 46.7%,#9f0000 46.8% 53.2%,#af0000 53.3%,#b20000 54.8%,#bc0000 54.8%,#bf0000 55.2%,#cb0000 55.9%,#fe0000 57.6%,#ff9900 62.6%,#ffd100 64.7%,#ffff00 66.8%,#eaff15 68%,#e4ff1b 68.1%,#dbff24 68.9%,#d3ff2c 69%,#cdff32 70%,#c1ff3e 70%,#bfff40 71.1%,#afff50 71.2% 72.4%,#9fff60 72.4% 73.6%,#8fff70 73.6% 74.9%,#80ff80 74.9% 76.3%,#70ff8f 76.4% 77.9%,#60ff9f 78% 79.6%,#50ffaf 79.7% 81.5%,#40ffbf 81.6% 83.6%,#30ffcf 83.6% 85.8%,#20ffdf 85.8% 88.2%,#10ffef 88.3% 90.7%,#00ffff 90.8% 92.8%,#00efff 92.9% 95%,#00dfff 95% 97%,#00cfff 97.1% 99.2%,#00bfff 99.3% 100%)"></i>
<i style="background:linear-gradient(#00bfff 0 0.8%,#00cfff 0.8% 2.9%,#00dfff 3% 5%,#00efff 5.1% 7.1%,#00ffff 7.2% 9.3%,#10ffef 9.3% 11.8%,#20ffdf 11.8% 14.2%,#30ffcf 14.2% 16.4%,#40ffbf 16.5% 18.5%,#50ffaf 18.5% 20.3%,#60ff9f 20.4% 22%,#70ff8f 22.1% 23.6%,#80ff80 23.7% 25.1%,#8fff70 25.1% 26.4%,#9fff60 26.4% 27.6%,#afff50 27.6% 28.8%,#bfff40 28.9%,#c1ff3e 29.9%,#cdff32 30%,#d3ff2c 31%,#dbff24 31%,#e4ff1b 31.9%,#e9ff16 31.9%,#fffe00 33.2%,#ffce00 35.3%,#ff9600 37.4%,#ff5d00 39.3%,#fd0000 42.1%,#d30000 43.4%,#b50000 44.6%,#af0000 45.6%,#9f0000 45.6% 54.4%,#af0000 54.5%,#b40000 55.4%,#d30000 56.7%,#fe0000 58%,#ff5a00 60.6%,#ff9700 62.6%,#ffd200 64.9%,#feff01 66.9%,#eaff15 68.1%,#e5ff1a 68.1%,#dbff24 69%,#d3ff2c 69%,#cdff32 70%,#c1ff3e 70.1%,#bfff40 71.2%,#afff50 71.2% 72.4%,#9fff60 72.4% 73.6%,#8fff70 73.6% 74.9%,#80ff80 74.9% 76.3%,#70ff8f 76.4% 78%,#60ff9f 78% 79.6%,#50ffaf 79.7% 81.5%,#40ffbf 81.6% 83.6%,#30ffcf 83.6% 85.8%,#20ffdf 85.8% 88.2%,#10ffef 88.2% 90.7%,#00ffff 90.8% 92.8%,#00efff 92.9% 94.9%,#00dfff 95% 97%,#00cfff 97.1% 99.2%,#00bfff 99.2% 100%)"></i>
<i style="background:linear-gradient(#00bfff 0 0.9%,#00cfff 0.9% 3%,#00dfff 3.1% 5.1%,#00efff 5.2% 7.2%,#00ffff 7.3% 9.3%,#10ffef 9.4% 11.9%,#20ffdf 11.9% 14.2%,#30ffcf 14.3% 16.4%,#40ffbf 16.5% 18.5%,#50ffaf 18.5% 20.4%,#60ff9f 20.4% 22%,#70ff8f 22.1% 23.6%,#80ff80 23.7% 25.1%,#8fff70 25.2% 26.4%,#9fff60 26.4%,#a0ff5f 27.6%,#afff50 27.6% 28.8%,#bfff40 28.8%,#c1ff3e 29.9%,#cdff32 30%,#d3ff2c 30.9%,#dbff24 31%,#e4ff1b 31.8%,#e9ff16 31.9%,#ffff00 33.1%,#ffcd00 35.3%,#ff9200 37.4%,#ff5300 39.4%,#ff0000 41.7%,#bd0000 43.7%,#af0000 44.3% 44.8%,#9f0000 44.8% 55.2%,#af0000 55.2% 55.7%,#bc0000 56.3%,#fe0000 58.3%,#ff5700 60.7%,#ff9500 62.7%,#ffcf00 64.8%,#ffff00 67%,#eaff15 68.1%,#e5ff1a 68.2%,#dbff24 69%,#d3ff2c 69.1%,#cdff32 70.1%,#c1ff3e 70.1%,#bfff40 71.2%,#afff50 71.2% 72.4%,#a0ff5f 72.4%,#9fff60 73.6%,#8fff70 73.6% 74.9%,#80ff80 74.9% 76.3%,#70ff8f 76.4% 77.9%,#60ff9f 78% 79.6%,#50ffaf 79.7% 81.5%,#40ffbf 81.5% 83.5%,#30ffcf 83.6% 85.7%,#20ffdf 85.8% 88.1%,#10ffef 88.2% 90.6%,#00ffff 90.7% 92.7%,#00efff 92.8% 94.9%,#00dfff 94.9% 96.9%,#00cfff 97% 99.1%,#00bfff 99.1% 100%)"></i>
<i style="background:linear-gradient(#00bfff 0 1%,#00cfff 1.1% 3.2%,#00dfff 3.2% 5.2%,#00efff 5.3% 7.3%,#00ffff 7.4% 9.4%,#10ffef 9.5% 11.9%,#20ffdf 12% 14.3%,#30ffcf 14.4% 16.5%,#40ffbf 16.6% 18.6%,#50ffaf 18.6% 20.4%,#60ff9f 20.5% 22.1%,#70ff8f 22.1% 23.7%,#80ff80 23.7% 25.1%,#8fff70 25.2% 26.4%,#9fff60 26.4%,#a0ff5f 27.6%,#afff50 27.6% 28.8%,#bfff40 28.8%,#c1ff3e 29.9%,#cdff32 29.9%,#d3ff2c 30.9%,#dbff24 30.9%,#e5ff1a 31.8%,#fffe00 33%,#ffcd00 35.2%,#ff9300 37.3%,#ff5500 39.2%,#fd0000 41.4%,#be0000 43.2%,#ad0000 43.8%,#ac0000 44.1%,#a20000 44.2%,#9f0000 44.3% 55.7%,#a20000 55.9%,#ac0000 55.9%,#af0000 56.3%,#c50000 57.1%,#fe0000 58.6%,#ff5300 60.8%,#ff9200 62.7%,#ffcc00 64.8%,#ffff00 67%,#e5ff1a 68.2%,#dbff24 69.1%,#d3ff2c 69.1%,#cdff32 70.1%,#c1ff3e 70.2%,#bfff40 71.2%,#afff50 71.3% 72.4%,#a0ff5f 72.5%,#9fff60 73.6%,#8fff70 73.6% 74.9%,#80ff80 74.9% 76.3%,#70ff8f 76.4% 77.9%,#60ff9f 77.9% 79.6%,#50ffaf 79.6% 81.4%,#40ffbf 81.5% 83.5%,#30ffcf 83.5% 85.7%,#20ffdf 85.7% 88%,#10ffef 88.1% 90.5%,#00ffff 90.6% 92.6%,#00efff 92.7% 94.7%,#00dfff 94.8% 96.8%,#00cfff 96.9% 99%,#00bfff 99% 100%)"></i>
<i style="background:linear-gradient(#00bfff 0 1.1%,#00cfff 1.2% 3.3%,#00dfff 3.3% 5.3%,#00efff 5.4% 7.4%,#00ffff 7.5% 9.5%,#10ffef 9.6% 12%,#20ffdf 12.1% 14.4%,#30ffcf 14.5% 16.6%,#40ffbf 16.6% 18.6%,#50ffaf 18.7% 20.5%,#60ff9f 20.5% 22.1%,#70ff8f 22.2% 23.7%,#80ff80 23.7% 25.1%,#8fff70 25.2% 26.4%,#9fff60 26.5%,#a0ff5f 27.6%,#afff50 27.6% 28.7%,#bfff40 28.8%,#c1ff3e 29.8%,#cdff32 29.9%,#d4ff2b 30.9%,#dbff24 30.9%,#e5ff1a 31.7%,#fffe00 33%,#ffcc00 35.1%,#ff9000 37.2%,#ff5000 39.1%,#fe0000 41.1%,#c10000 42.7%,#9f0000 43.9% 46.8%,#af0000 46.9% 53.2%,#9f0000 53.2% 56.2%,#c20000 57.4%,#ff0000 58.9%,#ff5000 60.9%,#ff9100 62.8%,#ffcf00 65%,#feff01 67.1%,#e5ff1a 68.3%,#dbff24 69.1%,#d3ff2c 69.2%,#cdff32 70.1%,#c2ff3d 70.2%,#bfff40 71.2%,#afff50 71.3% 72.4%,#a0ff5f 72.5%,#9fff60 73.6%,#8fff70 73.6% 74.8%,#80ff80 74.9% 76.3%,#70ff8f 76.3% 77.9%,#60ff9f 77.9% 79.5%,#50ffaf 79.6% 81.4%,#40ffbf 81.4% 83.4%,#30ffcf 83.4% 85.6%,#20ffdf 85.6% 87.9%,#10ffef 88% 90.4%,#00ffff 90.5% 92.5%,#00efff 92.6% 94.6%,#00dfff 94.7% 96.7%,#00cfff 96.8% 98.8%,#00bfff 98.9% 100%)"></i>
<i style="background:linear-gradient(#00bfff 0 1.3%,#00cfff 1.3% 3.4%,#00dfff 3.4% 5.5%,#00efff 5.5% 7.6%,#00ffff 7.6% 9.6%,#10ffef 9.7% 12.1%,#20ffdf 12.2% 14.5%,#30ffcf 14.5% 16.7%,#40ffbf 16.8% 18.7%,#50ffaf 18.7% 20.5%,#60ff9f 20.6% 22.2%,#70ff8f 22.3% 23.7%,#80ff80 23.8% 25.1%,#8fff70 25.2% 26.4%,#9fff60 26.5%,#a0ff5f 27.6%,#aeff51 27.6%,#afff50 28.7%,#bfff40 28.8%,#c2ff3d 29.8%,#cdff32 29.8%,#d4ff2b 30.8%,#dbff24 30.9%,#e5ff1a 31.7%,#ffff00 32.9%,#ffcb00 35.1%,#ff8f00 37.1%,#ff5100 38.9%,#fe0000 40.9%,#be0000 42.4%,#9f0000 43.4% 45.5%,#af0000 45.5% 48.2%,#bf0000 48.2% 51.8%,#af0000 51.8% 54.5%,#9f0000 54.5% 56.6%,#be0000 57.6%,#ff0000 59.2%,#ff4e00 61%,#ff9000 62.9%,#ffcd00 65%,#ffff00 67.2%,#e6ff19 68.3%,#daff25 69.2%,#d4ff2b 69.2%,#cdff32 70.2%,#c2ff3d 70.2%,#bfff40 71.3%,#afff50 71.3%,#aeff51 72.4%,#a0ff5f 72.5%,#9fff60 73.6%,#8fff70 73.6% 74.8%,#80ff80 74.9% 76.3%,#70ff8f 76.3% 77.8%,#60ff9f 77.9% 79.5%,#50ffaf 79.5% 81.3%,#40ffbf 81.4% 83.3%,#30ffcf 83.4% 85.5%,#20ffdf 85.5% 87.8%,#10ffef 87.9% 90.3%,#00ffff 90.4% 92.4%,#00efff 92.5% 94.5%,#00dfff 94.6% 96.6%,#00cfff 96.6% 98.7%,#00bfff 98.8% 100%)"></i>
<i style="background:linear-gradient(#00bfff 0 1.4%,#00cfff 1.4% 3.5%,#00dfff 3.6% 5.6%,#00efff 5.7% 7.7%,#00ffff 7.7% 9.8%,#10ffef 9.8% 12.2%,#20ffdf 12.3% 14.6%,#30ffcf 14.6% 16.8%,#40ffbf 16.8% 18.7%,#50ffaf 18.8% 20.5%,#60ff9f 20.6% 22.2%,#70ff8f 22.3% 23.7%,#80ff80 23.8% 25.2%,#8fff70 25.2% 26.4%,#9fff60 26.5%,#a0ff5f 27.6%,#aeff51 27.6%,#b0ff4f 28.7%,#bfff40 28.7%,#c2ff3d 29.8%,#ccff33 29.8%,#d4ff2b 30.8%,#dbff24 30.8%,#e5ff1a 31.6%,#ffff00 32.8%,#ffcb00 35%,#ff8e00 37%,#ff5000 38.7%,#fd0000 40.6%,#bd0000 42.1%,#a00000 43%,#9f0000 44.6%,#af0000 44.7% 46%,#bf0000 46% 54%,#af0000 54% 55.3%,#9f0000 55.4% 57%,#bc0000 57.9%,#ff0000 59.4%,#ff4d00 61.2%,#ff8e00 63%,#ffca00 65%,#ffff00 67.2%,#e5ff1a 68.4%,#daff25 69.2%,#d4ff2b 69.3%,#ccff33 70.2%,#c2ff3d 70.3%,#bfff40 71.3%,#b0ff4f 71.3%,#aeff51 72.4%,#a0ff5f 72.5%,#9fff60 73.6%,#8fff70 73.6% 74.8%,#80ff80 74.9% 76.2%,#70ff8f 76.3% 77.7%,#60ff9f 77.8% 79.4%,#50ffaf 79.5% 81.3%,#40ffbf 81.3% 83.2%,#30ffcf 83.3% 85.4%,#20ffdf 85.5% 87.8%,#10ffef 87.8% 90.2%,#00ffff 90.3% 92.3%,#00efff 92.4% 94.4%,#00dfff 94.5% 96.5%,#00cfff 96.5% 98.6%,#00bfff 98.6% 100%)"></i>
<i style="background:linear-gradient(#00bfff 0 1.5%,#00cfff 1.6% 3.6%,#00dfff 3.7% 5.7%,#00efff 5.8% 7.8%,#00ffff 7.8% 9.9%,#10ffef 9.9% 12.3%,#20ffdf 12.4% 14.6%,#30ffcf 14.7% 16.8%,#40ffbf 16.9% 18.8%,#50ffaf 18.8% 20.6%,#60ff9f 20.6% 22.3%,#70ff8f 22.3% 23.8%,#80ff80 23.8% 25.2%,#8fff70 25.2% 26.4%,#9fff60 26.5%,#a1ff5e 27.6%,#aeff51 27.6%,#b0ff4f 28.7%,#bfff40 28.7%,#c2ff3d 29.7%,#ccff33 29.8%,#d4ff2b 30.7%,#daff25 30.8%,#fffe00 32.8%,#ffca00 34.9%,#ff8e00 36.9%,#ff4d00 38.6%,#fe0000 40.4%,#bc0000 41.8%,#9f0000 42.7%,#a10000 43.9%,#ad0000 44%,#b10000 45%,#be0000 45%,#bf0000 46.3%,#cf0000 46.4% 53.6%,#bf0000 53.7%,#be0000 55%,#b10000 55%,#ad0000 56%,#a10000 56.1%,#9f0000 57.3%,#bb0000 58.2%,#ff0000 59.7%,#ff4c00 61.4%,#ff8e00 63.1%,#ffcd00 65.2%,#feff01 67.3%,#e5ff1a 68.5%,#daff25 69.3%,#d4ff2b 69.3%,#ccff33 70.2%,#c2ff3d 70.3%,#beff41 71.3%,#b0ff4f 71.4%,#aeff51 72.4%,#a0ff5f 72.5%,#9fff60 73.6%,#8fff70 73.6% 74.8%,#80ff80 74.9% 76.2%,#70ff8f 76.3% 77.7%,#60ff9f 77.8% 79.4%,#50ffaf 79.4% 81.2%,#40ffbf 81.3% 83.1%,#30ffcf 83.2% 85.3%,#20ffdf 85.4% 87.7%,#10ffef 87.7% 90.1%,#00ffff 90.2% 92.2%,#00efff 92.3% 94.2%,#00dfff 94.3% 96.3%,#00cfff 96.4% 98.5%,#00bfff 98.5% 100%)"></i>
<i style="background:linear-gradient(#00bfff 0 1.6%,#00cfff 1.7% 3.8%,#00dfff 3.8% 5.8%,#00efff 5.9% 7.9%,#00ffff 7.9% 10%,#10ffef 10% 12.4%,#20ffdf 12.4% 14.7%,#30ffcf 14.8% 16.9%,#40ffbf 16.9% 18.8%,#50ffaf 18.9% 20.6%,#60ff9f 20.7% 22.3%,#70ff8f 22.4% 23.8%,#80ff80 23.8% 25.2%,#8fff70 25.2% 26.4%,#9fff60 26.5%,#a1ff5e 27.5%,#aeff51 27.6%,#b1ff4e 28.6%,#beff41 28.7%,#c2ff3d 29.7%,#ccff33 29.7%,#d4ff2b 30.7%,#daff25 30.7%,#e6ff19 31.5%,#ffff00 32.7%,#ffca00 34.8%,#ff8d00 36.8%,#ff4b00 38.5%,#ff0000 40.1%,#b90000 41.5%,#9f0000 42.3%,#a00000 43.2%,#a30000 43.4%,#aa0000 43.4%,#bb0000 44.4%,#c00000 45.2%,#ce0000 45.2%,#cf0000 46.7%,#df0000 46.8% 53.2%,#cf0000 53.3% 54.8%,#c00000 54.8%,#bb0000 55.7%,#ab0000 56.6%,#a40000 56.6%,#a00000 56.8%,#9f0000 57.7%,#b80000 58.5%,#fe0000 59.9%,#ff5000 61.6%,#ff8f00 63.3%,#ffcc00 65.3%,#ffff00 67.4%,#e5ff1a 68.5%,#daff25 69.3%,#d4ff2b 69.4%,#ccff33 70.3%,#c2ff3d 70.3%,#beff41 71.3%,#b1ff4e 71.4%,#aeff51 72.4%,#a1ff5e 72.5%,#9fff60 73.6%,#8fff70 73.6% 74.8%,#80ff80 74.8% 76.2%,#70ff8f 76.2% 77.7%,#60ff9f 77.7% 79.3%,#50ffaf 79.4% 81.1%,#40ffbf 81.2% 83.1%,#30ffcf 83.1% 85.3%,#20ffdf 85.3% 87.6%,#10ffef 87.6% 90%,#00ffff 90.1% 92.1%,#00efff 92.2% 94.1%,#00dfff 94.2% 96.2%,#00cfff 96.3% 98.3%,#00bfff 98.4% 100%)"></i>
<i style="background:linear-gradient(#00bfff 0 1.8%,#00cfff 1.8% 3.9%,#00dfff 3.9% 6%,#00efff 6% 8%,#00ffff 8% 10.1%,#10ffef 10.1% 12.5%,#20ffdf 12.5% 14.8%,#30ffcf 14.8% 17%,#40ffbf 17% 18.9%,#50ffaf 18.9% 20.7%,#60ff9f 20.7% 22.3%,#70ff8f 22.4% 23.8%,#80ff80 23.9% 25.2%,#8fff70 25.2% 26.4%,#9fff60 26.5%,#a1ff5e 27.5%,#aeff51 27.6%,#b2ff4d 28.6%,#bdff42 28.7%,#c3ff3c 29.7%,#ccff33 29.7%,#d4ff2b 30.6%,#daff25 30.7%,#ffff00 32.6%,#ffca00 34.7%,#ff8e00 36.7%,#ff4e00 38.3%,#fe0000 39.9%,#ba0000 41.2%,#a00000 42% 42.7%,#cb0000 44.6%,#cf0000 45.4%,#df0000 45.5% 47.5%,#ef0000 47.6% 52.5%,#df0000 52.5% 54.6%,#cf0000 54.6%,#cb0000 55.5%,#9f0000 57.4% 58%,#b90000 58.8%,#ff0000 60.1%,#ff4b00 61.7%,#ff8d00 63.3%,#ffc900 65.3%,#ffff00 67.4%,#daff25 69.3%,#d5ff2a 69.4%,#ccff33 70.3%,#c2ff3d 70.4%,#bdff42 71.4%,#b2ff4d 71.4%,#aeff51 72.4%,#a1ff5e 72.5%,#9fff60 73.6%,#8fff70 73.6% 74.8%,#80ff80 74.8% 76.2%,#70ff8f 76.2% 77.6%,#60ff9f 77.7% 79.3%,#50ffaf 79.3% 81.1%,#40ffbf 81.1% 83%,#30ffcf 83.1% 85.2%,#20ffdf 85.2% 87.5%,#10ffef 87.5% 89.9%,#00ffff 90% 92%,#00efff 92% 94%,#00dfff 94.1% 96.1%,#00cfff 96.2% 98.2%,#00bfff 98.3% 100%)"></i>
<i style="background:linear-gradient(#00bfff 0 1.9%,#00cfff 1.9% 4%,#00dfff 4% 6.1%,#00efff 6.1% 8.1%,#00ffff 8.1% 10.2%,#10ffef 10.2% 12.6%,#20ffdf 12.6% 14.9%,#30ffcf 14.9% 17%,#40ffbf 17.1% 18.9%,#50ffaf 19% 20.7%,#60ff9f 20.8% 22.4%,#70ff8f 22.4% 23.8%,#80ff80 23.9% 25.2%,#8fff70 25.3% 26.4%,#9fff60 26.5%,#a1ff5e 27.5%,#aeff51 27.6%,#b2ff4d 28.6%,#bcff43 28.6%,#c3ff3c 29.6%,#ccff33 29.7%,#d4ff2b 30.5%,#daff25 30.6%,#fffe00 32.6%,#ffc900 34.7%,#ff8d00 36.6%,#ff4e00 38.1%,#fd0000 39.7%,#b80000 40.9%,#9f0000 41.6%,#a00000 42.3%,#c90000 43.8%,#d40000 44.6%,#dc0000 44.7%,#df0000 45.7%,#ef0000 45.8% 54.3%,#df0000 54.3%,#db0000 55.4%,#d40000 55.5%,#c80000 56.2%,#a00000 57.8%,#9f0000 58.4%,#b70000 59.1%,#fe0000 60.3%,#ff4d00 61.9%,#ff8e00 63.5%,#ffcc00 65.5%,#feff01 67.5%,#daff25 69.4%,#d5ff2a 69.5%,#ccff33 70.4%,#c2ff3d 70.4%,#bdff42 71.4%,#b2ff4d 71.4%,#aeff51 72.4%,#a1ff5e 72.5%,#9fff60 73.6%,#8fff70 73.6% 74.8%,#80ff80 74.8% 76.1%,#70ff8f 76.2% 77.6%,#60ff9f 77.7% 79.3%,#50ffaf 79.3% 81%,#40ffbf 81.1% 82.9%,#30ffcf 83% 85.1%,#20ffdf 85.2% 87.4%,#10ffef 87.5% 89.8%,#00ffff 89.9% 91.9%,#00efff 91.9% 93.9%,#00dfff 94% 96%,#00cfff 96% 98.1%,#00bfff 98.1% 100%)"></i>
<i style="background:linear-gradient(#00bfff 0 2%,#00cfff 2.1% 4.1%,#00dfff 4.2% 6.2%,#00efff 6.2% 8.2%,#00ffff 8.2% 10.3%,#10ffef 10.3% 12.7%,#20ffdf 12.7% 14.9%,#30ffcf 15% 17.1%,#40ffbf 17.1% 19%,#50ffaf 19% 20.8%,#60ff9f 20.8% 22.4%,#70ff8f 22.4% 23.8%,#80ff80 23.9% 25.2%,#8fff70 25.3% 26.4%,#9fff60 26.5%,#a1ff5e 27.5%,#adff52 27.6%,#b3ff4c 28.6%,#bcff43 28.6%,#c3ff3c 29.6%,#ccff33 29.6%,#d4ff2b 30.5%,#d9ff26 30.5%,#fffe00 32.5%,#ffc900 34.6%,#ff8c00 36.5%,#ff4d00 38%,#fd0000 39.5%,#b80000 40.7%,#a00000 41.3% 41.9%,#d50000 43.8%,#df0000 44.3%,#e10000 44.8%,#ed0000 44.8%,#ef0000 46.2%,#ff0000 46.3% 53.8%,#ef0000 53.8%,#ed0000 55.2%,#e20000 55.3%,#e00000 55.7%,#d40000 56.3%,#a00000 58.1%,#9f0000 58.7%,#b70000 59.3%,#fe0000 60.5%,#ff4c00 62%,#ff8d00 63.6%,#ffcb00 65.5%,#feff01 67.6%,#daff25 69.5%,#d5ff2a 69.5%,#ccff33 70.4%,#c3ff3c 70.4%,#bcff43 71.4%,#b3ff4c 71.4%,#adff52 72.5%,#a1ff5e 72.5%,#9fff60 73.6%,#8fff70 73.6% 74.8%,#80ff80 74.8% 76.1%,#70ff8f 76.2% 77.6%,#60ff9f 77.6% 79.2%,#50ffaf 79.3% 81%,#40ffbf 81% 82.9%,#30ffcf 82.9% 85%,#20ffdf 85.1% 87.3%,#10ffef 87.4% 89.7%,#00ffff 89.8% 91.8%,#00efff 91.8% 93.8%,#00dfff 93.8% 95.9%,#00cfff 95.9% 98%,#00bfff 98% 100%)"></i>
<i style="background:linear-gradient(#00afff 0 0.1%,#00bfff 0.1% 2.1%,#00cfff 2.2% 4.2%,#00dfff 4.3% 6.3%,#00efff 6.3% 8.3%,#00ffff 8.4% 10.4%,#10ffef 10.4% 12.7%,#20ffdf 12.8% 15%,#30ffcf 15.1% 17.2%,#40ffbf 17.2% 19%,#50ffaf 19.1% 20.8%,#60ff9f 20.9% 22.4%,#70ff8f 22.5% 23.9%,#80ff80 23.9% 25.2%,#8fff70 25.3%,#90ff6f 26.4%,#9fff60 26.5%,#a1ff5e 27.5%,#adff52 27.6%,#b3ff4c 28.6%,#bcff43 28.6%,#c3ff3c 29.5%,#cbff34 29.6%,#d4ff2b 30.4%,#d9ff26 30.5%,#ffff00 32.4%,#ffc900 34.5%,#ff8d00 36.3%,#ff5000 37.8%,#fc0000 39.3%,#b80000 40.4%,#9f0000 41.1%,#a00000 41.5%,#d00000 43.1%,#ea0000 44.1%,#ef0000 45.1%,#ff0000 45.1% 47.3%,#ff1000 47.3% 52.7%,#ff0000 52.7% 54.9%,#ef0000 55%,#ea0000 55.9%,#cf0000 57%,#a00000 58.5%,#9f0000 58.9%,#b70000 59.6%,#fe0000 60.7%,#ff4c00 62.2%,#ff8c00 63.7%,#ffca00 65.6%,#ffff00 67.6%,#daff25 69.5%,#d5ff2a 69.6%,#cbff34 70.4%,#c3ff3c 70.5%,#bcff43 71.4%,#b3ff4c 71.5%,#adff52 72.5%,#a1ff5e 72.5%,#9fff60 73.6%,#90ff6f 73.6%,#8fff70 74.7%,#80ff80 74.8% 76.1%,#70ff8f 76.2% 77.5%,#60ff9f 77.6% 79.2%,#50ffaf 79.2% 80.9%,#40ffbf 81% 82.8%,#30ffcf 82.9% 85%,#20ffdf 85% 87.2%,#10ffef 87.3% 89.6%,#00ffff 89.7% 91.6%,#00efff 91.7% 93.7%,#00dfff 93.7% 95.8%,#00cfff 95.8% 97.8%,#00bfff 97.9% 99.9%,#00afff 99.9% 100%)"></i>
<i style="background:linear-gradient(#00afff 0 0.2%,#00bfff 0.3% 2.2%,#00cfff 2.3% 4.3%,#00dfff 4.4% 6.4%,#00efff 6.5% 8.4%,#00ffff 8.5% 10.4%,#10ffef 10.5% 12.8%,#20ffdf 12.9% 15.1%,#30ffcf 15.1% 17.2%,#40ffbf 17.3% 19.1%,#50ffaf 19.1% 20.8%,#60ff9f 20.9% 22.5%,#70ff8f 22.5% 23.9%,#80ff80 23.9% 25.2%,#8fff70 25.3%,#90ff6f 26.4%,#9fff60 26.5%,#a2ff5d 27.5%,#adff52 27.6%,#b3ff4c 28.5%,#bbff44 28.6%,#c3ff3c 29.5%,#cbff34 29.6%,#d5ff2a 30.4%,#fffe00 32.4%,#ffc800 34.4%,#ff8c00 36.2%,#ff4d00 37.7%,#fd0000 39.1%,#b60000 40.2%,#9f0000 40.8%,#a00000 41.2%,#dd0000 43.1%,#ef0000 43.8%,#f30000 44.2%,#fc0000 44.3%,#ff0000 44.7% 45.6%,#ff1000 45.6% 54.4%,#ff0000 54.5% 55.4%,#fc0000 55.7%,#f30000 55.8%,#ef0000 56.2%,#db0000 57%,#9f0000 58.9% 59.2%,#b70000 59.8%,#fe0000 60.9%,#ff4c00 62.3%,#ff8b00 63.8%,#ffc900 65.6%,#ffff00 67.7%,#d5ff2a 69.6%,#cbff34 70.5%,#c3ff3c 70.5%,#bbff44 71.4%,#b3ff4c 71.5%,#adff52 72.5%,#a1ff5e 72.5%,#9fff60 73.6%,#90ff6f 73.6%,#8fff70 74.7%,#80ff80 74.8% 76.1%,#70ff8f 76.1% 77.5%,#60ff9f 77.6% 79.1%,#50ffaf 79.2% 80.9%,#40ffbf 80.9% 82.8%,#30ffcf 82.8% 84.9%,#20ffdf 84.9% 87.1%,#10ffef 87.2% 89.5%,#00ffff 89.6% 91.5%,#00efff 91.6% 93.6%,#00dfff 93.6% 95.6%,#00cfff 95.7% 97.7%,#00bfff 97.8% 99.8%,#00afff 99.8% 100%)"></i>
<i style="background:linear-gradient(#00afff 0 0.3%,#00bfff 0.4% 2.4%,#00cfff 2.4% 4.5%,#00dfff 4.5% 6.5%,#00efff 6.6% 8.6%,#00ffff 8.6% 10.5%,#10ffef 10.6% 12.9%,#20ffdf 13% 15.2%,#30ffcf 15.2% 17.3%,#40ffbf 17.3% 19.1%,#50ffaf 19.2% 20.9%,#60ff9f 20.9% 22.5%,#70ff8f 22.5% 23.9%,#80ff80 24% 25.2%,#8fff70 25.3%,#90ff6f 26.4%,#9fff60 26.5%,#a2ff5d 27.5%,#adff52 27.5%,#b3ff4c 28.5%,#bbff44 28.6%,#c3ff3c 29.5%,#cbff34 29.5%,#d5ff2a 30.4%,#fffe00 32.3%,#ffc900 34.3%,#ff8c00 36.1%,#ff4d00 37.5%,#fe0000 38.9%,#b70000 40%,#9f0000 40.6%,#a00000 40.9%,#e10000 42.7%,#ff0000 44.1% 44.6%,#ff1000 44.7% 46.5%,#ff2000 46.5% 53.5%,#ff1000 53.5% 55.4%,#ff0000 55.4% 56%,#e60000 57.1%,#a00000 59.2%,#9f0000 59.4%,#b50000 60%,#ff0000 61.2%,#ff4c00 62.5%,#ff8d00 64%,#ffcb00 65.8%,#feff01 67.8%,#d5ff2a 69.7%,#cbff34 70.5%,#c3ff3c 70.6%,#bbff44 71.4%,#b3ff4c 71.5%,#adff52 72.5%,#a2ff5d 72.5%,#9fff60 73.6%,#90ff6f 73.6%,#8fff70 74.7%,#80ff80 74.8% 76.1%,#70ff8f 76.1% 77.5%,#60ff9f 77.5% 79.1%,#50ffaf 79.1% 80.8%,#40ffbf 80.9% 82.7%,#30ffcf 82.7% 84.8%,#20ffdf 84.9% 87.1%,#10ffef 87.1% 89.4%,#00ffff 89.5% 91.4%,#00efff 91.5% 93.5%,#00dfff 93.5% 95.5%,#00cfff 95.6% 97.6%,#00bfff 97.7% 99.6%,#00afff 99.7% 100%)"></i>
<i style="background:linear-gradient(#00afff 0 0.5%,#00bfff 0.5% 2.5%,#00cfff 2.5% 4.6%,#00dfff 4.6% 6.6%,#00efff 6.7% 8.7%,#00ffff 8.7% 10.6%,#10ffef 10.7% 13%,#20ffdf 13.1% 15.2%,#30ffcf 15.3% 17.3%,#40ffbf 17.4% 19.2%,#50ffaf 19.2% 20.9%,#60ff9f 21% 22.5%,#70ff8f 22.6% 23.9%,#80ff80 24% 25.3%,#8fff70 25.3%,#90ff6f 26.4%,#9fff60 26.5%,#a2ff5d 27.5%,#adff52 27.5%,#b4ff4b 28.5%,#bbff44 28.6%,#c3ff3c 29.4%,#cbff34 29.5%,#d6ff29 30.3%,#ffff00 32.2%,#ffc900 34.2%,#ff8b00 36%,#ff4b00 37.4%,#ff0000 38.7%,#b00000 39.9%,#a00000 40.3%,#9f0000 40.5%,#ec0000 42.7%,#fe0000 43.4%,#ff0400 43.9%,#ff0c00 43.9%,#ff0f00 44.1%,#ff1000 45.2%,#ff2000 45.2% 54.8%,#ff1000 54.8%,#ff0f00 55.9%,#ff0c00 56.1%,#ff0400 56.2%,#ff0000 56.6%,#e00000 57.7%,#9f0000 59.5%,#a00000 59.7%,#ae0000 60.1%,#fd0000 61.3%,#ff4f00 62.7%,#ff8e00 64.1%,#ffcb00 65.9%,#ffff00 67.8%,#d5ff2a 69.7%,#cbff34 70.5%,#c4ff3b 70.6%,#bbff44 71.5%,#b3ff4c 71.5%,#adff52 72.5%,#a2ff5d 72.5%,#9fff60 73.6%,#90ff6f 73.6%,#8fff70 74.7%,#80ff80 74.8% 76.1%,#70ff8f 76.1% 77.5%,#60ff9f 77.5% 79%,#50ffaf 79.1% 80.8%,#40ffbf 80.8% 82.6%,#30ffcf 82.7% 84.7%,#20ffdf 84.8% 87%,#10ffef 87% 89.3%,#00ffff 89.4% 91.3%,#00efff 91.4% 93.4%,#00dfff 93.4% 95.4%,#00cfff 95.5% 97.5%,#00bfff 97.5% 99.5%,#00afff 99.6% 100%)"></i>
<i style="background:linear-gradient(#00afff 0 0.6%,#00bfff 0.6% 2.6%,#00cfff 2.7% 4.7%,#00dfff 4.7% 6.7%,#00efff 6.8% 8.8%,#00ffff 8.8% 10.7%,#10ffef 10.8% 13.1%,#20ffdf 13.1% 15.3%,#30ffcf 15.4% 17.4%,#40ffbf 17.5% 19.2%,#50ffaf 19.3% 21%,#60ff9f 21% 22.5%,#70ff8f 22.6% 23.9%,#80ff80 24% 25.3%,#8fff70 25.3%,#90ff6f 26.4%,#9eff61 26.5%,#a2ff5d 27.5%,#adff52 27.5%,#b3ff4c 28.5%,#bbff44 28.5%,#c3ff3c 29.4%,#cbff34 29.4%,#d6ff29 30.3%,#fffe00 32.2%,#ffc900 34.1%,#ff8d00 35.8%,#ff4e00 37.2%,#fd0000 38.5%,#b40000 39.6%,#9f0000 40.1%,#a90000 40.6%,#e00000 41.9%,#ff0000 43%,#ff0f00 43.6%,#ff1000 44.3%,#ff2000 44.3% 46.2%,#ff3000 46.3% 53.7%,#ff2000 53.8% 55.7%,#ff1000 55.7%,#ff0f00 56.4%,#ff0000 57.1%,#e10000 58.1%,#a80000 59.5%,#9f0000 59.9%,#b30000 60.4%,#ff0000 61.5%,#ff4a00 62.7%,#ff8c00 64.2%,#ffc900 65.9%,#ffff00 67.9%,#d5ff2a 69.8%,#cbff34 70.6%,#c4ff3b 70.6%,#bbff44 71.5%,#b4ff4b 71.5%,#acff53 72.5%,#a2ff5d 72.6%,#9eff61 73.6%,#90ff6f 73.6%,#8fff70 74.7%,#80ff80 74.8% 76%,#70ff8f 76.1% 77.4%,#60ff9f 77.5% 79%,#50ffaf 79.1% 80.7%,#40ffbf 80.8% 82.6%,#30ffcf 82.6% 84.7%,#20ffdf 84.7% 86.9%,#10ffef 86.9% 89.2%,#00ffff 89.3% 91.2%,#00efff 91.3% 93.2%,#00dfff 93.3% 95.3%,#00cfff 95.3% 97.4%,#00bfff 97.4% 99.4%,#00afff 99.4% 100%)"></i>
<i style="background:linear-gradient(#00afff 0 0.7%,#00bfff 0.8% 2.7%,#00cfff 2.8% 4.8%,#00dfff 4.8% 6.8%,#00efff 6.9% 8.9%,#00ffff 8.9% 10.8%,#10ffef 10.9% 13.2%,#20ffdf 13.2% 15.4%,#30ffcf 15.4% 17.5%,#40ffbf 17.5% 19.3%,#50ffaf 19.3% 21%,#60ff9f 21.1% 22.6%,#70ff8f 22.6% 24%,#80ff80 24% 25.3%,#8fff70 25.3%,#90ff6f 26.4%,#9eff61 26.5%,#a2ff5d 27.5%,#acff53 27.5%,#b4ff4b 28.5%,#bbff44 28.5%,#c4ff3b 29.4%,#cbff34 29.4%,#d6ff29 30.2%,#ffff00 32.1%,#ffca00 34%,#ff8c00 35.7%,#ff4c00 37.1%,#ff0000 38.3%,#b10000 39.4%,#a50000 39.7%,#9f0000 40%,#ab0000 40.4%,#dc0000 41.4%,#f80000 42.3%,#ff0000 42.5%,#ff1100 43.3%,#ff1300 43.6%,#ff1d00 43.7%,#ff1f00 43.8%,#ff2000 45%,#ff3000 45.1% 55%,#ff2000 55%,#ff1d00 56.3%,#ff1300 56.4%,#ff1000 56.8%,#ff0100 57.5%,#e70000 58.3%,#ac0000 59.6%,#9f0000 60.1%,#a60000 60.4%,#b20000 60.6%,#fd0000 61.7%,#ff5000 63%,#ff8f00 64.4%,#ffcc00 66.1%,#feff01 68%,#d5ff2a 69.8%,#caff35 70.6%,#c4ff3b 70.7%,#bbff44 71.5%,#b3ff4c 71.6%,#acff53 72.5%,#a2ff5d 72.6%,#9eff61 73.6%,#90ff6f 73.6%,#8fff70 74.7%,#80ff80 74.8% 76%,#70ff8f 76.1% 77.4%,#60ff9f 77.5% 79%,#50ffaf 79% 80.7%,#40ffbf 80.7% 82.5%,#30ffcf 82.6% 84.6%,#20ffdf 84.6% 86.8%,#10ffef 86.9% 89.1%,#00ffff 89.2% 91.1%,#00efff 91.2% 93.1%,#00dfff 93.2% 95.2%,#00cfff 95.2% 97.2%,#00bfff 97.3% 99.3%,#00afff 99.3% 100%)"></i>
<i style="background:linear-gradient(#00afff 0 0.8%,#00bfff 0.9% 2.9%,#00cfff 2.9% 4.9%,#00dfff 5% 6.9%,#00efff 7% 9%,#00ffff 9% 10.9%,#10ffef 11% 13.3%,#20ffdf 13.3% 15.5%,#30ffcf 15.5% 17.5%,#40ffbf 17.6% 19.3%,#50ffaf 19.4% 21%,#60ff9f 21.1% 22.6%,#70ff8f 22.7% 24%,#80ff80 24% 25.3%,#8fff70 25.3%,#91ff6e 26.4%,#9eff61 26.5%,#a2ff5d 27.4%,#acff53 27.5%,#b4ff4b 28.4%,#baff45 28.5%,#c4ff3b 29.3%,#caff35 29.4%,#d6ff29 30.2%,#ffff00 32%,#ffca00 33.9%,#ff8e00 35.6%,#ff4d00 37%,#fd0000 38.2%,#b40000 39.2%,#a70000 39.4%,#a00000 39.7%,#ab0000 40.1%,#e10000 41.2%,#fe0000 42.1%,#ff1a00 43.1%,#ff2000 44.1%,#ff3000 44.2% 46.4%,#ff4000 46.4% 53.6%,#ff3000 53.7% 55.8%,#ff2000 55.9%,#ff1d00 56.7%,#ff0000 57.9%,#e00000 58.8%,#aa0000 59.9%,#a00000 60.3%,#b20000 60.8%,#ff0000 61.9%,#ff4b00 63%,#ff8d00 64.4%,#ffcb00 66.1%,#feff01 68%,#d5ff2a 69.9%,#caff35 70.7%,#c4ff3b 70.7%,#bbff44 71.5%,#b4ff4b 71.6%,#acff53 72.5%,#a2ff5d 72.6%,#9eff61 73.6%,#91ff6e 73.6%,#8fff70 74.7%,#80ff80 74.7% 76%,#70ff8f 76% 77.4%,#60ff9f 77.4% 78.9%,#50ffaf 79% 80.6%,#40ffbf 80.7% 82.5%,#30ffcf 82.5% 84.5%,#20ffdf 84.6% 86.7%,#10ffef 86.8% 89%,#00ffff 89.1% 91%,#00efff 91.1% 93%,#00dfff 93.1% 95.1%,#00cfff 95.1% 97.1%,#00bfff 97.1% 99.1%,#00afff 99.2% 100%)"></i>
<i style="background:linear-gradient(#00afff 0 1%,#00bfff 1% 3%,#00cfff 3.1% 5%,#00dfff 5.1% 7.1%,#00efff 7.1% 9.1%,#00ffff 9.1% 11%,#10ffef 11.1% 13.3%,#20ffdf 13.4% 15.5%,#30ffcf 15.6% 17.6%,#40ffbf 17.6% 19.4%,#50ffaf 19.5% 21.1%,#60ff9f 21.1% 22.6%,#70ff8f 22.7% 24%,#80ff80 24% 25.3%,#8fff70 25.3%,#91ff6e 26.4%,#9eff61 26.5%,#a2ff5d 27.4%,#acff53 27.5%,#b4ff4b 28.4%,#baff45 28.5%,#c5ff3a 29.3%,#c9ff36 29.3%,#d6ff29 30.1%,#feff01 31.9%,#ffcc00 33.8%,#ff8d00 35.5%,#ff4b00 36.9%,#ff0100 38%,#b10000 39%,#a50000 39.3%,#a00000 39.5%,#ab0000 39.9%,#e10000 40.9%,#fe0000 41.7%,#ff1a00 42.7%,#ff2100 43.5%,#ff2f00 43.5% 43.6%,#ff3000 45%,#ff4000 45.1% 54.9%,#ff3000 55%,#ff2f00 56.5%,#ff2100 56.5%,#ff1e00 57.1%,#ff0000 58.3%,#e20000 59.1%,#aa0000 60.2%,#a00000 60.5%,#a60000 60.8%,#b30000 61%,#fe0000 62%,#ff4c00 63.2%,#ff8c00 64.5%,#ffca00 66.2%,#ffff00 68.1%,#d6ff29 69.9%,#caff35 70.7%,#c5ff3a 70.7%,#baff45 71.6%,#b4ff4b 71.6%,#acff53 72.5%,#a3ff5c 72.6%,#9eff61 73.6%,#91ff6e 73.6%,#8fff70 74.7%,#80ff80 74.7% 76%,#70ff8f 76% 77.3%,#60ff9f 77.4% 78.9%,#50ffaf 78.9% 80.5%,#40ffbf 80.6% 82.4%,#30ffcf 82.4% 84.4%,#20ffdf 84.5% 86.6%,#10ffef 86.7% 89%,#00ffff 89% 90.9%,#00efff 91% 92.9%,#00dfff 93% 95%,#00cfff 95% 97%,#00bfff 97% 99%,#00afff 99.1% 100%)"></i>
<i style="background:linear-gradient(#00afff 0 1.1%,#00bfff 1.1% 3.1%,#00cfff 3.2% 5.1%,#00dfff 5.2% 7.2%,#00efff 7.2% 9.2%,#00ffff 9.2% 11.2%,#10ffef 11.2% 13.4%,#20ffdf 13.5% 15.6%,#30ffcf 15.7% 17.6%,#40ffbf 17.7% 19.5%,#50ffaf 19.5% 21.1%,#60ff9f 21.2% 22.7%,#70ff8f 22.7% 24%,#80ff80 24.1% 25.3%,#8fff70 25.3%,#91ff6e 26.4%,#9eff61 26.5%,#a3ff5c 27.4%,#acff53 27.5%,#b4ff4b 28.4%,#bbff44 28.5%,#c6ff39 29.3%,#feff01 31.9%,#ffcb00 33.7%,#ff8d00 35.4%,#ff4c00 36.7%,#ff0000 37.8%,#b20000 38.8%,#a10000 39.3%,#ac0000 39.7%,#e00000 40.6%,#fe0000 41.3%,#ff2000 42.6%,#ff2400 43%,#ff2c00 43%,#ff2f00 43.2%,#ff3000 44.1%,#ff4000 44.2% 47.2%,#ff5000 47.3% 52.7%,#ff4000 52.8% 55.8%,#ff3000 55.9%,#ff2c00 57%,#ff2400 57.1%,#ff1a00 57.7%,#ff0000 58.7%,#e20000 59.4%,#ab0000 60.4%,#a10000 60.7%,#a60000 61%,#b30000 61.3%,#fd0000 62.2%,#ff4d00 63.3%,#ff8c00 64.6%,#ffc900 66.2%,#ffff00 68.1%,#d6ff29 69.9%,#baff45 71.6%,#b4ff4b 71.6%,#acff53 72.6%,#a2ff5d 72.6%,#9eff61 73.6%,#91ff6e 73.6%,#8fff70 74.7%,#80ff80 74.7% 76%,#70ff8f 76% 77.3%,#60ff9f 77.4% 78.9%,#50ffaf 78.9% 80.5%,#40ffbf 80.5% 82.3%,#30ffcf 82.4% 84.4%,#20ffdf 84.4% 86.6%,#10ffef 86.6% 88.8%,#00ffff 88.9% 90.8%,#00efff 90.9% 92.8%,#00dfff 92.9% 94.8%,#00cfff 94.9% 96.8%,#00bfff 96.9% 98.9%,#00afff 99% 100%)"></i>
<i style="background:linear-gradient(#00afff 0 1.2%,#00bfff 1.2% 3.2%,#00cfff 3.3% 5.2%,#00dfff 5.3% 7.3%,#00efff 7.3% 9.3%,#00ffff 9.3% 11.3%,#10ffef 11.3% 13.5%,#20ffdf 13.6% 15.7%,#30ffcf 15.7% 17.7%,#40ffbf 17.7% 19.5%,#50ffaf 19.6% 21.2%,#60ff9f 21.2% 22.7%,#70ff8f 22.7% 24%,#80ff80 24.1% 25.3%,#8fff70 25.3%,#91ff6e 26.4%,#9eff61 26.4%,#a3ff5c 27.4%,#acff53 27.5%,#b4ff4b 28.4%,#baff45 28.4%,#d6ff29 30%,#ffff00 31.8%,#ffca00 33.7%,#ff8d00 35.3%,#ff4d00 36.6%,#fe0000 37.7%,#b30000 38.6%,#a70000 38.8%,#a10000 39.1%,#ab0000 39.4%,#e10000 40.4%,#ff0000 41%,#ff2900 42.5%,#ff3000 43% 43.5%,#ff4000 43.5% 45.3%,#ff5000 45.4% 54.6%,#ff4000 54.7% 56.5%,#ff3000 56.5%,#ff2c00 57.4%,#ff0100 59%,#e30000 59.6%,#ac0000 60.6%,#a10000 60.9%,#a60000 61.2%,#b10000 61.4%,#fc0000 62.3%,#ff4e00 63.5%,#ff8e00 64.8%,#ffcd00 66.4%,#feff01 68.2%,#d5ff2a 70%,#baff45 71.6%,#b5ff4a 71.6%,#acff53 72.6%,#a3ff5c 72.6%,#9eff61 73.6%,#91ff6e 73.6%,#8fff70 74.7%,#80ff80 74.7% 76%,#70ff8f 76% 77.3%,#60ff9f 77.3% 78.8%,#50ffaf 78.9% 80.4%,#40ffbf 80.5% 82.3%,#30ffcf 82.3% 84.3%,#20ffdf 84.4% 86.5%,#10ffef 86.5% 88.7%,#00ffff 88.8% 90.7%,#00efff 90.8% 92.7%,#00dfff 92.8% 94.7%,#00cfff 94.8% 96.7%,#00bfff 96.8% 98.8%,#00afff 98.8% 100%)"></i>
<i style="background:linear-gradient(#00afff 0 1.3%,#00bfff 1.4% 3.4%,#00cfff 3.4% 5.4%,#00dfff 5.4% 7.4%,#00efff 7.4% 9.4%,#00ffff 9.4% 11.4%,#10ffef 11.4% 13.6%,#20ffdf 13.6% 15.7%,#30ffcf 15.8% 17.8%,#40ffbf 17.8% 19.6%,#50ffaf 19.6% 21.2%,#60ff9f 21.2% 22.7%,#70ff8f 22.8% 24%,#80ff80 24.1% 25.3%,#8fff70 25.3%,#91ff6e 26.4%,#9dff62 26.4%,#a3ff5c 27.4%,#abff54 27.4%,#b5ff4a 28.4%,#baff45 28.4%,#d6ff29 30%,#ffff00 31.8%,#ffc900 33.6%,#ff8c00 35.2%,#ff4b00 36.5%,#fe0000 37.5%,#b40000 38.4%,#a60000 38.6%,#a20000 38.8%,#ac0000 39.2%,#e20000 40.1%,#fe0000 40.7%,#ff1c00 41.6%,#ff3000 42.5%,#ff3200 42.9%,#ff3e00 43%,#ff3f00 43.1%,#ff4000 44.3%,#ff5000 44.4% 55.7%,#ff4000 55.7%,#ff3e00 57%,#ff3200 57.1%,#ff3000 57.5%,#ff2600 58%,#ff0000 59.3%,#e30000 59.9%,#ad0000 60.8%,#a20000 61.2%,#a50000 61.4%,#b20000 61.6%,#fc0000 62.5%,#ff4f00 63.6%,#ff8d00 64.9%,#ffcc00 66.5%,#feff01 68.3%,#d5ff2a 70.1%,#baff45 71.6%,#b4ff4b 71.7%,#acff53 72.6%,#a3ff5c 72.6%,#9dff62 73.6%,#91ff6e 73.6%,#8fff70 74.7%,#80ff80 74.7% 75.9%,#70ff8f 76% 77.3%,#60ff9f 77.3% 78.8%,#50ffaf 78.8% 80.4%,#40ffbf 80.4% 82.2%,#30ffcf 82.3% 84.2%,#20ffdf 84.3% 86.4%,#10ffef 86.4% 88.6%,#00ffff 88.7% 90.6%,#00efff 90.7% 92.6%,#00dfff 92.6% 94.6%,#00cfff 94.7% 96.6%,#00bfff 96.7% 98.7%,#00afff 98.7% 100%)"></i>
<i style="background:linear-gradient(#00afff 0 1.4%,#00bfff 1.5% 3.5%,#00cfff 3.5% 5.5%,#00dfff 5.5% 7.5%,#00efff 7.5% 9.5%,#00ffff 9.5% 11.4%,#10ffef 11.5% 13.7%,#20ffdf 13.7% 15.8%,#30ffcf 15.9% 17.8%,#40ffbf 17.9% 19.6%,#50ffaf 19.7% 21.2%,#60ff9f 21.3% 22.7%,#70ff8f 22.8% 24%,#80ff80 24.1%,#80ff7f 25.3%,#8fff70 25.3%,#91ff6e 26.4%,#9dff62 26.4%,#a3ff5c 27.4%,#abff54 27.4%,#b4ff4b 28.3%,#baff45 28.4%,#c6ff39 29.2%,#feff01 31.7%,#ffcd00 33.4%,#ff8e00 35%,#ff4c00 36.3%,#fe0000 37.4%,#b20000 38.2%,#a70000 38.4%,#a20000 38.6%,#ac0000 39%,#e40000 39.9%,#ff0100 40.5%,#ff1d00 41.3%,#ff3500 42.5%,#ff3d00 42.6%,#ff4000 43.6%,#ff5000 43.7% 46.2%,#ff6000 46.3% 53.8%,#ff5000 53.8% 56.4%,#ff4000 56.4%,#ff3b00 57.5%,#ff3500 57.6%,#ff2400 58.5%,#ff0200 59.5%,#e60000 60.1%,#ab0000 61%,#a20000 61.4%,#a60000 61.6%,#b10000 61.8%,#fc0000 62.6%,#ff4e00 63.7%,#ff8d00 65%,#ffcb00 66.5%,#ffff00 68.3%,#d5ff2a 70.1%,#baff45 71.6%,#b5ff4a 71.7%,#acff53 72.6%,#a3ff5c 72.6%,#9dff62 73.6%,#92ff6d 73.6%,#8fff70 74.7%,#80ff7f 74.7%,#80ff80 75.9%,#70ff8f 76% 77.2%,#60ff9f 77.3% 78.8%,#50ffaf 78.8% 80.3%,#40ffbf 80.4% 82.2%,#30ffcf 82.2% 84.2%,#20ffdf 84.2% 86.3%,#10ffef 86.4% 88.5%,#00ffff 88.6% 90.5%,#00efff 90.6% 92.5%,#00dfff 92.5% 94.5%,#00cfff 94.6% 96.5%,#00bfff 96.5% 98.5%,#00afff 98.6% 100%)"></i>
<i style="background:linear-gradient(#00afff 0 1.6%,#00bfff 1.6% 3.6%,#00cfff 3.6% 5.6%,#00dfff 5.7% 7.6%,#00efff 7.6% 9.6%,#00ffff 9.6% 11.5%,#10ffef 11.6% 13.7%,#20ffdf 13.8% 15.9%,#30ffcf 15.9% 17.9%,#40ffbf 17.9% 19.7%,#50ffaf 19.7% 21.3%,#60ff9f 21.3% 22.7%,#70ff8f 22.8% 24.1%,#80ff80 24.1%,#80ff7f 25.3%,#8fff70 25.4%,#92ff6d 26.4%,#9dff62 26.4%,#a3ff5c 27.4%,#abff54 27.4%,#b5ff4a 28.3%,#baff45 28.4%,#c6ff39 29.1%,#feff01 31.6%,#ffcc00 33.4%,#ff8e00 34.9%,#ff4e00 36.2%,#fe0000 37.2%,#b50000 38%,#a80000 38.2%,#a30000 38.4%,#ac0000 38.8%,#e10000 39.6%,#fe0000 40.2%,#ff2000 41%,#ff3a00 42.1%,#ff4000 43%,#ff5000 43.1% 44.8%,#ff6000 44.9% 55.1%,#ff5000 55.2% 57%,#ff4000 57%,#ff3a00 57.9%,#ff1f00 59%,#ff0000 59.8%,#e20000 60.4%,#ae0000 61.2%,#a30000 61.6%,#a70000 61.8%,#b30000 62%,#fc0000 62.8%,#ff4f00 63.9%,#ff8d00 65.1%,#ffc900 66.6%,#ffff00 68.4%,#c6ff39 70.9%,#baff45 71.7%,#b5ff4a 71.7%,#abff54 72.6%,#a3ff5c 72.7%,#9dff62 73.6%,#92ff6d 73.6%,#8fff70 74.7%,#80ff7f 74.7%,#80ff80 75.9%,#70ff8f 76% 77.2%,#60ff9f 77.3% 78.7%,#50ffaf 78.8% 80.3%,#40ffbf 80.3% 82.1%,#30ffcf 82.2% 84.1%,#20ffdf 84.2% 86.2%,#10ffef 86.3% 88.4%,#00ffff 88.5% 90.4%,#00efff 90.5% 92.4%,#00dfff 92.4% 94.3%,#00cfff 94.4% 96.4%,#00bfff 96.4% 98.4%,#00afff 98.5% 100%)"></i>
<i style="background:linear-gradient(#00afff 0 1.7%,#00bfff 1.7% 3.7%,#00cfff 3.8% 5.7%,#00dfff 5.8% 7.7%,#00efff 7.7% 9.7%,#00ffff 9.7% 11.6%,#10ffef 11.7% 13.8%,#20ffdf 13.9% 15.9%,#30ffcf 16% 17.9%,#40ffbf 18% 19.7%,#50ffaf 19.8% 21.3%,#60ff9f 21.3% 22.8%,#70ff8f 22.8% 24.1%,#80ff80 24.1%,#80ff7f 25.3%,#8fff70 25.4%,#92ff6d 26.4%,#9dff62 26.4%,#a3ff5c 27.3%,#abff54 27.4%,#b5ff4a 28.3%,#b9ff46 28.3%,#c6ff39 29.1%,#fffe00 31.6%,#ffc700 33.4%,#ff8c00 34.9%,#ff4c00 36%,#ff0000 37.1%,#b30000 37.9%,#a70000 38.1%,#a30000 38.3%,#ac0000 38.6%,#e20000 39.4%,#fe0000 39.9%,#ff1b00 40.6%,#ff3000 41.3%,#ff3f00 42%,#ff4200 42.5%,#ff4e00 42.6%,#ff5000 43.9%,#ff6000 44% 56%,#ff5000 56.1%,#ff4f00 57.4%,#ff4100 57.5%,#ff3f00 58%,#ff2f00 58.8%,#ff1a00 59.5%,#ff0100 60.1%,#e40000 60.6%,#ae0000 61.4%,#a30000 61.8%,#a80000 62%,#b50000 62.2%,#fc0000 62.9%,#ff4e00 64%,#ff8f00 65.2%,#ffce00 66.8%,#feff01 68.5%,#b5ff4a 71.7%,#abff54 72.6%,#a4ff5b 72.7%,#9dff62 73.6%,#92ff6d 73.7%,#8fff70 74.7%,#80ff7f 74.7%,#80ff80 75.9%,#70ff8f 76% 77.2%,#60ff9f 77.3% 78.7%,#50ffaf 78.7% 80.3%,#40ffbf 80.3% 82.1%,#30ffcf 82.1% 84%,#20ffdf 84.1% 86.2%,#10ffef 86.2% 88.4%,#00ffff 88.4% 90.3%,#00efff 90.4% 92.3%,#00dfff 92.3% 94.2%,#00cfff 94.3% 96.3%,#00bfff 96.3% 98.3%,#00afff 98.3% 100%)"></i>
<i style="background:linear-gradient(#00afff 0 1.8%,#00bfff 1.8% 3.8%,#00cfff 3.9% 5.8%,#00dfff 5.9% 7.8%,#00efff 7.8% 9.8%,#00ffff 9.8% 11.7%,#10ffef 11.8% 13.9%,#20ffdf 14% 16%,#30ffcf 16.1% 18%,#40ffbf 18% 19.8%,#50ffaf 19.8% 21.3%,#60ff9f 21.4% 22.8%,#70ff8f 22.8% 24.1%,#80ff80 24.1%,#80ff7f 25.3%,#8fff70 25.4%,#92ff6d 26.4%,#9dff62 26.4%,#a4ff5b 27.3%,#abff54 27.4%,#b5ff4a 28.3%,#ffff00 31.5%,#ffc800 33.3%,#ff8c00 34.8%,#ff4b00 35.9%,#ff0000 36.9%,#b20000 37.7%,#a30000 38.1%,#ac0000 38.4%,#e70000 39.3%,#ff0100 39.7%,#ff2800 40.7%,#ff3f00 41.6%,#ff4400 42.1%,#ff4c00 42.1%,#ff5000 43.3%,#ff6000 43.3% 46%,#ff7000 46.1% 53.9%,#ff6000 54% 56.7%,#ff5000 56.7%,#ff4e00 57.7%,#ff4c00 57.9%,#ff4400 57.9%,#ff4000 58.4%,#ff2500 59.4%,#ff0000 60.3%,#e20000 60.8%,#ad0000 61.6%,#a30000 61.9%,#a70000 62.1%,#b40000 62.3%,#fd0000 63.1%,#ff5000 64.2%,#ff8f00 65.3%,#ffcd00 66.9%,#feff01 68.5%,#b5ff4a 71.8%,#abff54 72.6%,#a4ff5b 72.7%,#9dff62 73.6%,#92ff6d 73.7%,#8fff70 74.7%,#80ff7f 74.7%,#80ff80 75.9%,#70ff8f 75.9% 77.2%,#60ff9f 77.2% 78.7%,#50ffaf 78.7% 80.2%,#40ffbf 80.3% 82%,#30ffcf 82.1% 84%,#20ffdf 84% 86%,#10ffef 86.1% 88.3%,#00ffff 88.3% 90.2%,#00efff 90.3% 92.2%,#00dfff 92.2% 94.1%,#00cfff 94.2% 96.1%,#00bfff 96.2% 98.2%,#00afff 98.2% 100%)"></i>
<i style="background:linear-gradient(#00afff 0 1.9%,#00bfff 2% 3.9%,#00cfff 4% 6%,#00dfff 6% 7.9%,#00efff 7.9% 9.9%,#00ffff 9.9% 11.8%,#10ffef 11.9% 14%,#20ffdf 14.1% 16.1%,#30ffcf 16.1% 18%,#40ffbf 18.1% 19.8%,#50ffaf 19.9% 21.4%,#60ff9f 21.4% 22.8%,#70ff8f 22.9% 24.1%,#80ff80 24.1%,#80ff7f 25.3%,#8fff70 25.4%,#92ff6d 26.4%,#9dff62 26.4%,#a4ff5b 27.3%,#abff54 27.4%,#b5ff4a 28.2%,#feff01 31.4%,#ffce00 33%,#ff9100 34.6%,#ff5000 35.7%,#fb0000 36.8%,#b20000 37.6%,#a60000 37.8%,#a30000 37.9%,#ad0000 38.2%,#e40000 39%,#ff0100 39.5%,#ff2700 40.4%,#ff4a00 41.7%,#ff5000 42.7%,#ff6000 42.8% 44.7%,#ff7000 44.8% 55.3%,#ff6000 55.3% 57.2%,#ff5000 57.3%,#ff4e00 58.1%,#ff2b00 59.5%,#fe0000 60.6%,#af0000 61.8%,#a30000 62.1%,#b40000 62.5%,#fe0000 63.2%,#ff4b00 64.2%,#ff8d00 65.4%,#ffca00 66.9%,#ffff00 68.6%,#b5ff4a 71.8%,#abff54 72.7%,#a4ff5b 72.7%,#9dff62 73.6%,#92ff6d 73.7%,#8fff70 74.7%,#80ff7f 74.7%,#80ff80 75.9%,#70ff8f 75.9% 77.2%,#60ff9f 77.2% 78.6%,#50ffaf 78.7% 80.2%,#40ffbf 80.2% 81.9%,#30ffcf 82% 83.9%,#20ffdf 84% 85.9%,#10ffef 86% 88.2%,#00ffff 88.2% 90.1%,#00efff 90.2% 92.1%,#00dfff 92.1% 94%,#00cfff 94.1% 96%,#00bfff 96.1% 98.1%,#00afff 98.1% 100%)"></i>
<i style="background:linear-gradient(#009fff 0 0.1%,#00afff 0.1% 2%,#00bfff 2.1% 4.1%,#00cfff 4.1% 6.1%,#00dfff 6.1% 8%,#00efff 8.1% 10%,#00ffff 10% 11.9%,#10ffef 11.9% 14.1%,#20ffdf 14.2% 16.1%,#30ffcf 16.2% 18.1%,#40ffbf 18.1% 19.9%,#50ffaf 19.9% 21.4%,#60ff9f 21.4% 22.8%,#70ff8f 22.9% 24.1%,#80ff80 24.2%,#81ff7e 25.3%,#8eff71 25.4%,#92ff6d 26.3%,#9cff63 26.4%,#a4ff5b 27.3%,#aaff55 27.3%,#b6ff49 28.2%,#feff01 31.4%,#ffcb00 33%,#ff8e00 34.5%,#ff4f00 35.6%,#fd0000 36.7%,#b10000 37.4%,#a60000 37.6%,#a30000 37.8%,#af0000 38.1%,#e80000 38.8%,#ff0200 39.3%,#ff2400 40%,#ff3f00 40.9%,#ff4f00 41.6%,#ff5000 42.3%,#ff6000 42.3% 43.8%,#ff7000 43.9% 56.2%,#ff6000 56.2% 57.7%,#ff5000 57.8%,#ff4d00 58.5%,#ff2a00 59.8%,#ff0000 60.8%,#e30000 61.3%,#ae0000 62%,#a30000 62.3%,#a60000 62.4%,#b30000 62.6%,#ff0000 63.4%,#ff4a00 64.3%,#ff8d00 65.5%,#ffc900 66.9%,#ffff00 68.6%,#b5ff4a 71.8%,#abff54 72.7%,#a4ff5b 72.7%,#9cff63 73.6%,#92ff6d 73.7%,#8eff71 74.7%,#80ff7f 74.7%,#80ff80 75.9%,#70ff8f 75.9% 77.1%,#60ff9f 77.2% 78.6%,#50ffaf 78.6% 80.1%,#40ffbf 80.2% 81.9%,#30ffcf 81.9% 83.8%,#20ffdf 83.9% 85.9%,#10ffef 85.9% 88.1%,#00ffff 88.1% 90%,#00efff 90.1% 92%,#00dfff 92% 93.9%,#00cfff 94% 95.9%,#00bfff 96% 97.9%,#00afff 98% 99.9%,#009fff 100%)"></i>
<i style="background:linear-gradient(#009fff 0 0.2%,#00afff 0.2% 2.1%,#00bfff 2.2% 4.2%,#00cfff 4.2% 6.2%,#00dfff 6.2% 8.1%,#00efff 8.2% 10.1%,#00ffff 10.1% 12%,#10ffef 12% 14.2%,#20ffdf 14.2% 16.2%,#30ffcf 16.3% 18.1%,#40ffbf 18.2% 19.9%,#50ffaf 19.9% 21.4%,#60ff9f 21.5% 22.9%,#70ff8f 22.9% 24.1%,#80ff80 24.2%,#81ff7e 25.3%,#8eff71 25.4%,#92ff6d 26.3%,#9cff63 26.4%,#a4ff5b 27.3%,#aaff55 27.3%,#b5ff4a 28.2%,#ffff00 31.3%,#ffca00 33%,#ff8e00 34.4%,#ff4e00 35.5%,#fe0000 36.5%,#b50000 37.2%,#a70000 37.4%,#a40000 37.6%,#ae0000 37.9%,#ff0000 39%,#ff2c00 40%,#ff4e00 41.2%,#ff5200 41.8%,#ff5d00 41.9%,#ff5e00 42%,#ff6000 43.1%,#ff7000 43.2% 46.8%,#ff8000 46.8% 53.2%,#ff7000 53.2% 56.8%,#ff6000 56.9%,#ff5d00 58.1%,#ff5200 58.2%,#ff4e00 58.8%,#ff3200 59.9%,#ff0100 61%,#e60000 61.4%,#af0000 62.1%,#a40000 62.4%,#a60000 62.6%,#b30000 62.8%,#fc0000 63.5%,#ff5000 64.5%,#ff9000 65.6%,#ffcd00 67.1%,#feff01 68.7%,#b6ff49 71.8%,#abff54 72.7%,#a4ff5b 72.7%,#9cff63 73.6%,#93ff6c 73.7%,#8eff71 74.7%,#81ff7e 74.7%,#80ff80 75.9%,#70ff8f 75.9% 77.1%,#60ff9f 77.2% 78.6%,#50ffaf 78.6% 80.1%,#40ffbf 80.1% 81.8%,#30ffcf 81.9% 83.8%,#20ffdf 83.8% 85.8%,#10ffef 85.8% 88%,#00ffff 88% 89.9%,#00efff 90% 91.9%,#00dfff 91.9% 93.8%,#00cfff 93.9% 95.8%,#00bfff 95.9% 97.8%,#00afff 97.9% 99.8%,#009fff 99.8% 100%)"></i>
<i style="background:linear-gradient(#009fff 0 0.3%,#00afff 0.4% 2.3%,#00bfff 2.3% 4.3%,#00cfff 4.3% 6.3%,#00dfff 6.3% 8.2%,#00efff 8.3% 10.1%,#00ffff 10.2% 12.1%,#10ffef 12.1% 14.3%,#20ffdf 14.3% 16.3%,#30ffcf 16.3% 18.2%,#40ffbf 18.2% 19.9%,#50ffaf 20% 21.4%,#60ff9f 21.5% 22.9%,#70ff8f 22.9% 24.1%,#80ff80 24.2%,#81ff7e 25.3%,#8eff71 25.4%,#93ff6c 26.3%,#9cff63 26.4%,#a4ff5b 27.3%,#abff54 27.3%,#b6ff49 28.2%,#ffff00 31.3%,#ffcb00 32.9%,#ff8e00 34.3%,#ff5100 35.4%,#ff2a00 35.9%,#ff0100 36.4%,#fb0000 36.4%,#b50000 37.1%,#a70000 37.3%,#a40000 37.4%,#af0000 37.7%,#ff0000 38.8%,#ff3100 39.9%,#ff4b00 40.8%,#ff5400 41.4%,#ff5c00 41.5%,#ff6000 42.6%,#ff7000 42.7% 44.9%,#ff8000 45% 55%,#ff7000 55.1% 57.4%,#ff6000 57.4%,#ff5e00 58.4%,#ff5400 58.7%,#ff3400 60.1%,#ff1c00 60.7%,#ff0200 61.2%,#e90000 61.6%,#ad0000 62.3%,#a40000 62.6%,#a60000 62.7%,#b30000 62.9%,#fd0000 63.6%,#ff4f00 64.6%,#ff9000 65.7%,#ffcc00 67.2%,#feff01 68.8%,#b6ff49 71.9%,#aaff55 72.7%,#a4ff5b 72.8%,#9cff63 73.6%,#93ff6c 73.7%,#8eff71 74.7%,#81ff7e 74.7%,#80ff80 75.9%,#70ff8f 75.9% 77.1%,#60ff9f 77.2% 78.5%,#50ffaf 78.6% 80%,#40ffbf 80.1% 81.8%,#30ffcf 81.8% 83.7%,#20ffdf 83.8% 85.7%,#10ffef 85.8% 87.9%,#00ffff 88% 89.8%,#00efff 89.9% 91.8%,#00dfff 91.8% 93.7%,#00cfff 93.7% 95.7%,#00bfff 95.7% 97.7%,#00afff 97.8% 99.7%,#009fff 99.7% 100%)"></i>
<i style="background:linear-gradient(#009fff 0 0.4%,#00afff 0.5% 2.4%,#00bfff 2.4% 4.4%,#00cfff 4.4% 6.4%,#00dfff 6.4% 8.4%,#00efff 8.4% 10.2%,#00ffff 10.3% 12.2%,#10ffef 12.2% 14.3%,#20ffdf 14.4% 16.3%,#30ffcf 16.4% 18.2%,#40ffbf 18.3% 20%,#50ffaf 20% 21.5%,#60ff9f 21.5% 22.9%,#70ff8f 22.9% 24.1%,#80ff80 24.2%,#81ff7e 25.3%,#8eff71 25.3%,#93ff6c 26.3%,#9cff63 26.4%,#a4ff5b 27.2%,#aaff55 27.3%,#b6ff49 28.1%,#feff01 31.2%,#ffce00 32.7%,#ff8f00 34.2%,#ff5000 35.3%,#fd0000 36.3%,#b10000 37%,#a40000 37.3%,#b00000 37.6%,#ff0000 38.6%,#ff3100 39.6%,#ff5900 41.1%,#ff6000 42.1%,#ff7000 42.2% 43.9%,#ff8000 44% 56%,#ff7000 56.1% 57.8%,#ff6000 57.9%,#ff5f00 58.6%,#ff5600 59%,#ff3500 60.3%,#ff1d00 60.9%,#ff0200 61.4%,#e90000 61.8%,#af0000 62.5%,#a40000 62.8%,#b40000 63.1%,#ff0000 63.8%,#ff4a00 64.7%,#ff8d00 65.8%,#ffcb00 67.2%,#feff01 68.8%,#b6ff49 71.9%,#aaff55 72.7%,#a5ff5a 72.8%,#9cff63 73.7%,#93ff6c 73.7%,#8eff71 74.7%,#81ff7e 74.7%,#80ff80 75.8%,#70ff8f 75.9% 77.1%,#60ff9f 77.1% 78.5%,#50ffaf 78.5% 80%,#40ffbf 80.1% 81.7%,#30ffcf 81.8% 83.6%,#20ffdf 83.7% 85.6%,#10ffef 85.7% 87.8%,#00ffff 87.9% 89.7%,#00efff 89.8% 91.6%,#00dfff 91.7% 93.6%,#00cfff 93.6% 95.6%,#00bfff 95.6% 97.6%,#00afff 97.6% 99.5%,#009fff 99.6% 100%)"></i>
<i style="background:linear-gradient(#009fff 0 0.5%,#00afff 0.6% 2.5%,#00bfff 2.5% 4.5%,#00cfff 4.6% 6.5%,#00dfff 6.5% 8.5%,#00efff 8.5% 10.3%,#00ffff 10.4% 12.2%,#10ffef 12.3% 14.4%,#20ffdf 14.5% 16.4%,#30ffcf 16.4% 18.3%,#40ffbf 18.3% 20%,#50ffaf 20.1% 21.5%,#60ff9f 21.6% 22.9%,#70ff8f 23% 24.1%,#80ff80 24.2%,#81ff7e 25.3%,#8eff71 25.3%,#93ff6c 26.3%,#9cff63 26.4%,#a5ff5a 27.2%,#aaff55 27.3%,#b6ff49 28.1%,#ffff00 31.2%,#ffc900 32.8%,#ff8c00 34.2%,#ff4b00 35.2%,#ff0000 36.1%,#b20000 36.8%,#a40000 37.1%,#b10000 37.4%,#ff0000 38.4%,#ff2a00 39.2%,#ff4a00 40.2%,#ff5e00 41%,#ff6000 41.7%,#ff7000 41.8% 43.2%,#ff8000 43.3% 56.8%,#ff7000 56.8%,#ff6f00 58.3%,#ff6000 58.4%,#ff5e00 59%,#ff4a00 59.9%,#ff2900 60.8%,#ff0200 61.6%,#e70000 62%,#af0000 62.6%,#a40000 62.9%,#b40000 63.2%,#fc0000 63.9%,#ff4d00 64.8%,#ff8e00 65.9%,#ffca00 67.3%,#ffff00 68.9%,#b6ff49 71.9%,#aaff55 72.8%,#a4ff5b 72.8%,#9cff63 73.7%,#93ff6c 73.7%,#8eff71 74.7%,#81ff7e 74.7%,#80ff80 75.8%,#70ff8f 75.9% 77.1%,#60ff9f 77.1% 78.5%,#50ffaf 78.5% 80%,#40ffbf 80% 81.7%,#30ffcf 81.7% 83.6%,#20ffdf 83.6% 85.6%,#10ffef 85.6% 87.7%,#00ffff 87.8% 89.6%,#00efff 89.7% 91.5%,#00dfff 91.6% 93.5%,#00cfff 93.5% 95.5%,#00bfff 95.5% 97.5%,#00afff 97.5% 99.4%,#009fff 99.5% 100%)"></i>
<i style="background:linear-gradient(#009fff 0 0.7%,#00afff 0.7% 2.6%,#00bfff 2.7% 4.6%,#00cfff 4.7% 6.6%,#00dfff 6.6% 8.6%,#00efff 8.6% 10.4%,#00ffff 10.5% 12.3%,#10ffef 12.4% 14.5%,#20ffdf 14.5% 16.5%,#30ffcf 16.5% 18.3%,#40ffbf 18.4% 20.1%,#50ffaf 20.1% 21.5%,#60ff9f 21.6% 22.9%,#70ff8f 23% 24.1%,#80ff80 24.2%,#81ff7e 25.3%,#8dff72 25.3%,#93ff6c 26.3%,#9bff64 26.3%,#a4ff5b 27.2%,#aaff55 27.2%,#b6ff49 28.1%,#fffe00 31.1%,#ffc800 32.7%,#ff8d00 34.1%,#ff4e00 35.1%,#fc0000 36%,#b30000 36.7%,#a80000 36.8%,#a40000 37%,#ae0000 37.2%,#eb0000 37.9%,#ff0300 38.2%,#ff2200 38.8%,#ff3b00 39.4%,#ff5d00 40.7%,#ff6200 41.3%,#ff6d00 41.3%,#ff7000 42.6%,#ff8000 42.7% 46%,#ff8f00 46% 54%,#ff8000 54% 57.3%,#ff7000 57.4%,#ff6d00 58.7%,#ff6200 58.8%,#ff5e00 59.3%,#ff4900 60.2%,#ff2800 61.1%,#ff0100 61.8%,#b00000 62.8%,#a40000 63.1%,#b50000 63.4%,#ff0000 64.1%,#ff4c00 64.9%,#ff8e00 66%,#ffc900 67.3%,#ffff00 68.9%,#b6ff49 72%,#aaff55 72.8%,#a5ff5a 72.8%,#9cff63 73.7%,#93ff6c 73.7%,#8dff72 74.7%,#81ff7e 74.7%,#80ff80 75.8%,#70ff8f 75.9% 77.1%,#60ff9f 77.1% 78.4%,#50ffaf 78.5% 79.9%,#40ffbf 80% 81.6%,#30ffcf 81.7% 83.5%,#20ffdf 83.6% 85.5%,#10ffef 85.5% 87.7%,#00ffff 87.7% 89.5%,#00efff 89.6% 91.4%,#00dfff 91.5% 93.4%,#00cfff 93.4% 95.4%,#00bfff 95.4% 97.4%,#00afff 97.4% 99.3%,#009fff 99.4% 100%)"></i>
<i style="background:linear-gradient(#009fff 0 0.8%,#00afff 0.8% 2.7%,#00bfff 2.8% 4.7%,#00cfff 4.8% 6.7%,#00dfff 6.8% 8.7%,#00efff 8.7% 10.5%,#00ffff 10.6% 12.4%,#10ffef 12.5% 14.6%,#20ffdf 14.6% 16.5%,#30ffcf 16.6% 18.4%,#40ffbf 18.4% 20.1%,#50ffaf 20.1% 21.6%,#60ff9f 21.6% 22.9%,#70ff8f 23% 24.1%,#7fff80 24.2%,#81ff7e 25.3%,#8dff72 25.3%,#93ff6c 26.3%,#9bff64 26.3%,#a5ff5a 27.2%,#aaff55 27.2%,#b6ff49 28%,#ffff00 31%,#ffcb00 32.6%,#ff8d00 34%,#ff4d00 35%,#ff2800 35.4%,#ff0000 35.8%,#b40000 36.5%,#a90000 36.7%,#a40000 36.8%,#af0000 37.1%,#e90000 37.7%,#ff0200 38%,#ff2200 38.6%,#ff3c00 39.2%,#ff5800 40.2%,#ff6400 40.9%,#ff6c00 41%,#ff7000 42.1%,#ff8000 42.2% 44.5%,#ff8f00 44.6% 55.5%,#ff8000 55.5% 57.8%,#ff7000 57.9%,#ff6e00 58.9%,#ff6300 59.3%,#ff5400 60%,#ff3d00 60.8%,#ff2100 61.5%,#ff0000 62%,#b10000 62.9%,#a50000 63.2%,#a70000 63.3%,#b20000 63.5%,#fc0000 64.2%,#ff4f00 65.1%,#ff9100 66.1%,#ffce00 67.5%,#feff01 69%,#b6ff49 72%,#aaff55 72.8%,#a5ff5a 72.8%,#9cff63 73.7%,#94ff6b 73.7%,#8dff72 74.7%,#82ff7d 74.7%,#7fff80 75.8%,#70ff8f 75.9% 77%,#60ff9f 77.1% 78.4%,#50ffaf 78.5% 79.9%,#40ffbf 79.9% 81.6%,#30ffcf 81.6% 83.5%,#20ffdf 83.5% 85.4%,#10ffef 85.5% 87.6%,#00ffff 87.6% 89.4%,#00efff 89.5% 91.3%,#00dfff 91.4% 93.3%,#00cfff 93.3% 95.3%,#00bfff 95.3% 97.3%,#00afff 97.3% 99.2%,#009fff 99.2% 100%)"></i>
<i style="background:linear-gradient(#009fff 0 0.9%,#00afff 1% 2.9%,#00bfff 2.9% 4.8%,#00cfff 4.9% 6.8%,#00dfff 6.9% 8.8%,#00efff 8.8% 10.6%,#00ffff 10.7% 12.5%,#10ffef 12.5% 14.6%,#20ffdf 14.7% 16.6%,#30ffcf 16.6% 18.4%,#40ffbf 18.5% 20.1%,#50ffaf 20.2% 21.6%,#60ff9f 21.6% 23%,#70ff8f 23% 24.2%,#7fff80 24.2%,#82ff7d 25.3%,#8dff72 25.3%,#94ff6b 26.3%,#9bff64 26.3%,#a5ff5a 27.2%,#b6ff49 28%,#ffff00 31%,#ffca00 32.5%,#ff8d00 33.9%,#ff4d00 34.9%,#fc0000 35.7%,#b50000 36.4%,#a90000 36.5%,#a50000 36.7%,#af0000 36.9%,#ff0000 37.8%,#ff3300 38.7%,#ff5800 39.9%,#ff6d00 40.8%,#ff7000 41.7%,#ff8000 41.8% 43.6%,#ff8f00 43.6% 56.4%,#ff8000 56.4% 58.3%,#ff7000 58.4%,#ff6e00 59.1%,#ff6200 59.7%,#ff3a00 61.1%,#ff2100 61.7%,#ff0200 62.2%,#e90000 62.5%,#b10000 63.1%,#a50000 63.3%,#a80000 63.5%,#b30000 63.6%,#ff0000 64.3%,#ff4b00 65.1%,#ff8f00 66.2%,#ffcd00 67.6%,#feff01 69.1%,#b6ff49 72%,#aaff55 72.8%,#a5ff5a 72.9%,#9bff64 73.7%,#93ff6c 73.8%,#8dff72 74.7%,#82ff7d 74.7%,#7fff80 75.8%,#70ff8f 75.9% 77%,#60ff9f 77.1% 78.4%,#50ffaf 78.4% 79.9%,#40ffbf 79.9% 81.5%,#30ffcf 81.6% 83.4%,#20ffdf 83.5% 85.4%,#10ffef 85.4% 87.5%,#00ffff 87.5% 89.4%,#00efff 89.4% 91.2%,#00dfff 91.3% 93.2%,#00cfff 93.2% 95.1%,#00bfff 95.2% 97.1%,#00afff 97.1% 99.1%,#009fff 99.1% 100%)"></i>
<i style="background:linear-gradient(#009fff 0 1%,#00afff 1.1% 3%,#00bfff 3.1% 4.9%,#00cfff 5% 6.9%,#00dfff 7% 8.9%,#00efff 8.9% 10.7%,#00ffff 10.8% 12.6%,#10ffef 12.6% 14.7%,#20ffdf 14.7% 16.6%,#30ffcf 16.7% 18.5%,#40ffbf 18.5% 20.2%,#50ffaf 20.2% 21.6%,#60ff9f 21.7% 23%,#70ff8f 23% 24.2%,#7fff80 24.2%,#82ff7d 25.3%,#8dff72 25.3%,#94ff6b 26.3%,#9bff64 26.3%,#a5ff5a 27.1%,#c2ff3d 28.5%,#feff01 30.9%,#ffcf00 32.3%,#ff9100 33.7%,#ff4c00 34.8%,#ff2a00 35.2%,#ff0100 35.6%,#b70000 36.2%,#aa0000 36.4%,#a50000 36.5%,#af0000 36.8%,#e80000 37.4%,#ff0200 37.7%,#ff2200 38.2%,#ff3e00 38.8%,#ff6b00 40.4%,#ff7000 41.3%,#ff8000 41.3% 42.9%,#ff8f00 43% 57.1%,#ff8000 57.1% 58.7%,#ff7000 58.8%,#ff6d00 59.5%,#ff5600 60.5%,#ff3000 61.6%,#ff0000 62.4%,#b10000 63.2%,#a50000 63.5%,#a90000 63.6%,#b50000 63.8%,#fd0000 64.4%,#ff4e00 65.3%,#ff8f00 66.3%,#ffcc00 67.6%,#feff01 69.1%,#c2ff3d 71.5%,#a5ff5a 72.9%,#9bff64 73.7%,#94ff6b 73.8%,#8dff72 74.7%,#82ff7d 74.7%,#7fff80 75.8%,#70ff8f 75.9% 77%,#60ff9f 77.1% 78.4%,#50ffaf 78.4% 79.8%,#40ffbf 79.9% 81.5%,#30ffcf 81.6% 83.3%,#20ffdf 83.4% 85.3%,#10ffef 85.3% 87.4%,#00ffff 87.4% 89.3%,#00efff 89.3% 91.1%,#00dfff 91.2% 93.1%,#00cfff 93.1% 95%,#00bfff 95.1% 97%,#00afff 97% 99%,#009fff 99% 100%)"></i>
<i style="background:linear-gradient(#009fff 0 1.1%,#00afff 1.2% 3.1%,#00bfff 3.2% 5%,#00cfff 5.1% 7%,#00dfff 7.1% 9%,#00efff 9% 10.8%,#00ffff 10.9% 12.7%,#10ffef 12.7% 14.8%,#20ffdf 14.8% 16.7%,#30ffcf 16.8% 18.5%,#40ffbf 18.6% 20.2%,#50ffaf 20.2% 21.6%,#60ff9f 21.7% 23%,#70ff8f 23% 24.2%,#7fff80 24.2%,#82ff7d 25.3%,#8dff72 25.3%,#94ff6b 26.2%,#9bff64 26.3%,#a5ff5a 27.1%,#c2ff3d 28.5%,#feff01 30.8%,#ffcc00 32.3%,#ff8e00 33.7%,#ff5000 34.6%,#fd0000 35.5%,#b40000 36.1%,#a80000 36.3%,#a50000 36.4%,#b30000 36.7%,#fe0000 37.5%,#ff3100 38.3%,#ff5500 39.3%,#ff6d00 40.3%,#ff7100 40.9%,#ff7e00 40.9%,#ff8000 42.3%,#ff8f00 42.4% 46.5%,#ff9f00 46.5% 53.5%,#ff8f00 53.6% 57.6%,#ff8000 57.7%,#ff7e00 59.1%,#ff7100 59.1%,#ff6b00 59.9%,#ff3f00 61.4%,#ff2200 62%,#ff0100 62.5%,#b10000 63.4%,#a50000 63.6%,#aa0000 63.8%,#b70000 64%,#fa0000 64.5%,#ff0100 64.6%,#ff2b00 65%,#ff5200 65.4%,#ff9000 66.4%,#ffcb00 67.7%,#ffff00 69.2%,#cdff32 71.1%,#a5ff5a 72.9%,#9bff64 73.7%,#94ff6b 73.8%,#8dff72 74.7%,#82ff7d 74.8%,#7fff80 75.8%,#70ff8f 75.9% 77%,#60ff9f 77% 78.3%,#50ffaf 78.4% 79.8%,#40ffbf 79.8% 81.5%,#30ffcf 81.5% 83.2%,#20ffdf 83.3% 85.2%,#10ffef 85.3% 87.3%,#00ffff 87.4% 89.2%,#00efff 89.2% 91%,#00dfff 91.1% 93%,#00cfff 93% 94.9%,#00bfff 95% 96.9%,#00afff 96.9% 98.8%,#009fff 98.9% 100%)"></i>
<i style="background:linear-gradient(#009fff 0 1.2%,#00afff 1.3% 3.2%,#00bfff 3.3% 5.2%,#00cfff 5.2% 7.1%,#00dfff 7.2% 9.1%,#00efff 9.1% 10.9%,#00ffff 10.9% 12.7%,#10ffef 12.8% 14.8%,#20ffdf 14.9% 16.8%,#30ffcf 16.8% 18.6%,#40ffbf 18.6% 20.2%,#50ffaf 20.3% 21.7%,#60ff9f 21.7% 23%,#70ff8f 23% 24.2%,#7fff80 24.2%,#82ff7d 25.3%,#8dff72 25.3%,#94ff6b 26.2%,#9bff64 26.3%,#a5ff5a 27.1%,#cdff32 28.9%,#feff01 30.8%,#ffcb00 32.3%,#ff8f00 33.6%,#ff5000 34.5%,#ff2d00 34.9%,#ff0200 35.3%,#fb0000 35.4%,#b60000 35.9%,#aa0000 36.1%,#a50000 36.3%,#b20000 36.5%,#ff0100 37.3%,#ff2600 37.9%,#ff4600 38.6%,#ff6700 39.7%,#ff7300 40.6%,#ff7d00 40.6%,#ff8000 41.9%,#ff8f00 41.9% 44.6%,#ff9f00 44.6% 55.4%,#ff8f00 55.4% 58.1%,#ff8000 58.2%,#ff7e00 59.3%,#ff7d00 59.4%,#ff7300 59.5% 59.6%,#ff6500 60.4%,#ff4900 61.4%,#ff2a00 62.1%,#ff0300 62.7%,#ec0000 62.9%,#b00000 63.5%,#a50000 63.8%,#b40000 64.1%,#fe0000 64.7%,#ff4e00 65.5%,#ff9000 66.5%,#ffce00 67.8%,#feff01 69.3%,#cbff34 71.2%,#a6ff59 72.9%,#9bff64 73.8%,#94ff6b 73.8%,#8dff72 74.7%,#82ff7d 74.8%,#7fff80 75.8%,#70ff8f 75.9% 77%,#60ff9f 77% 78.3%,#50ffaf 78.4% 79.7%,#40ffbf 79.8% 81.4%,#30ffcf 81.5% 83.2%,#20ffdf 83.2% 85.1%,#10ffef 85.2% 87.2%,#00ffff 87.3% 89.1%,#00efff 89.1% 90.9%,#00dfff 91% 92.9%,#00cfff 92.9% 94.8%,#00bfff 94.9% 96.7%,#00afff 96.8% 98.7%,#009fff 98.8% 100%)"></i>
<i style="background:linear-gradient(#009fff 0 1.4%,#00afff 1.4% 3.3%,#00bfff 3.4% 5.3%,#00cfff 5.3% 7.2%,#00dfff 7.3% 9.1%,#00efff 9.2% 11%,#00ffff 11% 12.8%,#10ffef 12.9% 14.9%,#20ffdf 15% 16.9%,#30ffcf 16.9% 18.6%,#40ffbf 18.7% 20.3%,#50ffaf 20.3% 21.7%,#60ff9f 21.7% 23%,#70ff8f 23.1%,#71ff8e 24.2%,#7eff81 24.2%,#83ff7c 25.3%,#8dff72 25.3%,#94ff6b 26.2%,#9bff64 26.3%,#a6ff59 27.1%,#cdff32 28.9%,#ffff00 30.7%,#ffcc00 32.2%,#ff9000 33.5%,#ff5300 34.4%,#ff2c00 34.8%,#ff0000 35.2%,#f90000 35.3%,#b40000 35.8%,#a50000 36.1%,#b10000 36.4%,#ff0100 37.2%,#ff2100 37.6%,#ff3c00 38.1%,#ff6600 39.4%,#ff7400 40.3%,#ff7c00 40.3%,#ff7d00 40.4%,#ff8000 41.4%,#ff8f00 41.4% 43.6%,#ff9f00 43.6% 56.4%,#ff8f00 56.5% 58.6%,#ff8000 58.6%,#ff7e00 59.5%,#ff7b00 59.7%,#ff7400 59.8%,#ff7100 60.1%,#ff5d00 60.9%,#ff4300 61.7%,#ff2600 62.3%,#fe0000 62.9%,#b40000 63.6%,#a60000 63.9%,#a90000 64.1%,#b60000 64.2%,#fc0000 64.8%,#ff5100 65.6%,#ff9100 66.6%,#ffcd00 67.9%,#feff01 69.3%,#ccff33 71.2%,#a5ff5a 73%,#9bff64 73.8%,#94ff6b 73.8%,#8cff73 74.7%,#82ff7d 74.8%,#7eff81 75.8%,#70ff8f 75.9% 77%,#60ff9f 77% 78.3%,#50ffaf 78.3% 79.7%,#40ffbf 79.8% 81.4%,#30ffcf 81.4% 83.1%,#20ffdf 83.2% 85.1%,#10ffef 85.1% 87.1%,#00ffff 87.2% 89%,#00efff 89% 90.8%,#00dfff 90.9% 92.8%,#00cfff 92.8% 94.7%,#00bfff 94.8% 96.6%,#00afff 96.7% 98.6%,#009fff 98.7% 100%)"></i>
<i style="background:linear-gradient(#009fff 0 1.5%,#00afff 1.5% 3.4%,#00bfff 3.5% 5.4%,#00cfff 5.4% 7.3%,#00dfff 7.4% 9.2%,#00efff 9.3% 11.1%,#00ffff 11.2% 12.9%,#10ffef 13% 15%,#20ffdf 15% 16.9%,#30ffcf 17% 18.7%,#40ffbf 18.7% 20.3%,#50ffaf 20.3% 21.7%,#60ff9f 21.8% 23%,#70ff8f 23.1%,#71ff8e 24.2%,#7eff81 24.2%,#83ff7c 25.3%,#8cff73 25.3%,#94ff6b 26.2%,#9aff65 26.2%,#a5ff5a 27%,#cbff34 28.8%,#ffff00 30.7%,#ffc900 32.2%,#ff8d00 33.4%,#ff4f00 34.3%,#fd0000 35.1%,#b60000 35.7%,#a60000 35.9%,#b00000 36.2%,#ea0000 36.8%,#ff0200 37%,#ff2900 37.6%,#ff4800 38.2%,#ff6400 39.1%,#ff7500 39.9%,#ff7f00 40.3%,#ff8000 41%,#ff8f00 41.1% 42.9%,#ff9f00 42.9% 57.1%,#ff8f00 57.2% 59%,#ff8000 59%,#ff7d00 59.9%,#ff6200 61%,#ff3800 62.2%,#ff1e00 62.6%,#ff0000 63%,#b30000 63.8%,#a60000 64.1%,#b40000 64.3%,#fa0000 64.9%,#ff0200 64.9%,#ff2e00 65.3%,#ff5100 65.7%,#ff9200 66.7%,#ffce00 68%,#feff01 69.4%,#ccff33 71.2%,#a6ff59 73%,#9bff64 73.8%,#94ff6b 73.8%,#8cff73 74.7%,#83ff7c 74.8%,#7eff81 75.8%,#71ff8e 75.9%,#70ff8f 77%,#60ff9f 77% 78.3%,#50ffaf 78.3% 79.7%,#40ffbf 79.7% 81.3%,#30ffcf 81.4% 83.1%,#20ffdf 83.1% 85%,#10ffef 85.1% 87.1%,#00ffff 87.1% 88.8%,#00efff 88.9% 90.7%,#00dfff 90.8% 92.7%,#00cfff 92.7% 94.6%,#00bfff 94.7% 96.5%,#00afff 96.6% 98.5%,#009fff 98.5% 100%)"></i>
<i style="background:linear-gradient(#009fff 0 1.6%,#00afff 1.6% 3.6%,#00bfff 3.6% 5.5%,#00cfff 5.5% 7.4%,#00dfff 7.5% 9.3%,#00efff 9.4% 11.2%,#00ffff 11.3% 13%,#10ffef 13% 15%,#20ffdf 15.1% 17%,#30ffcf 17% 18.7%,#40ffbf 18.7% 20.3%,#50ffaf 20.4% 21.7%,#60ff9f 21.8% 23%,#70ff8f 23.1%,#71ff8e 24.2%,#7eff81 24.2%,#83ff7c 25.2%,#8cff73 25.3%,#94ff6b 26.2%,#9aff65 26.2%,#a6ff59 27%,#ccff33 28.8%,#ffff00 30.6%,#ffca00 32.1%,#ff8e00 33.3%,#ff4f00 34.2%,#fc0000 35%,#b40000 35.6%,#a60000 35.8%,#af0000 36%,#ef0000 36.7%,#ff0300 36.9%,#ff2100 37.3%,#ff3a00 37.7%,#ff6200 38.8%,#ff7d00 39.9%,#ff8000 40.7%,#ff8f00 40.7% 42.3%,#ff9f00 42.3% 57.7%,#ff8f00 57.7% 59.3%,#ff8000 59.4%,#ff7d00 60.1%,#ff6400 61.2%,#ff4b00 61.9%,#ff2900 62.6%,#ff0000 63.2%,#b10000 64%,#a60000 64.2%,#b70000 64.5%,#ff0000 65%,#ff2800 65.4%,#ff4d00 65.8%,#ff8f00 66.8%,#ffcb00 68%,#feff01 69.5%,#ccff33 71.3%,#a5ff5a 73%,#9bff64 73.8%,#95ff6a 73.8%,#8cff73 74.7%,#83ff7c 74.8%,#7eff81 75.8%,#71ff8e 75.9%,#70ff8f 76.9%,#60ff9f 77% 78.3%,#50ffaf 78.3% 79.7%,#40ffbf 79.7% 81.3%,#30ffcf 81.3% 83%,#20ffdf 83.1% 84.9%,#10ffef 85% 87%,#00ffff 87% 88.8%,#00efff 88.8% 90.6%,#00dfff 90.7% 92.6%,#00cfff 92.6% 94.5%,#00bfff 94.6% 96.4%,#00afff 96.5% 98.4%,#009fff 98.4% 100%)"></i>
<i style="background:linear-gradient(#009fff 0 1.7%,#00afff 1.8% 3.7%,#00bfff 3.7% 5.6%,#00cfff 5.7% 7.5%,#00dfff 7.6% 9.4%,#00efff 9.5% 11.3%,#00ffff 11.4% 13.1%,#10ffef 13.1% 15.1%,#20ffdf 15.2% 17%,#30ffcf 17.1% 18.7%,#40ffbf 18.8% 20.4%,#50ffaf 20.4% 21.7%,#60ff9f 21.8% 23%,#70ff8f 23.1%,#71ff8e 24.2%,#7eff81 24.2%,#83ff7c 25.2%,#8cff73 25.3%,#95ff6a 26.2%,#9aff65 26.2%,#a6ff59 27%,#ccff33 28.7%,#ffff00 30.5%,#ffc900 32%,#ff8f00 33.2%,#ff4f00 34.1%,#ff2a00 34.5%,#ff0200 34.9%,#fa0000 34.9%,#b70000 35.4%,#a60000 35.7%,#b20000 35.9%,#ef0000 36.5%,#ff0300 36.7%,#ff2e00 37.3%,#ff5200 38.1%,#ff7b00 39.6%,#ff8100 40.3%,#ff8e00 40.4%,#ff8f00 41.8%,#ff9f00 41.8% 45.5%,#ffaf00 45.6% 54.5%,#ff9f00 54.5% 58.2%,#ff8f00 58.2%,#ff8e00 59.7%,#ff8100 59.7%,#ff7c00 60.4%,#ff6100 61.5%,#ff3800 62.5%,#ff2000 62.9%,#ff0100 63.3%,#b50000 64.1%,#a60000 64.3%,#a80000 64.4%,#b40000 64.6%,#fd0000 65.1%,#ff4d00 65.9%,#ff9000 66.9%,#ffcc00 68.1%,#feff01 69.5%,#ccff33 71.3%,#a6ff59 73%,#9aff65 73.8%,#94ff6b 73.9%,#8cff73 74.7%,#83ff7c 74.8%,#7eff81 75.8%,#71ff8e 75.9%,#70ff8f 76.9%,#60ff9f 77% 78.2%,#50ffaf 78.3% 79.6%,#40ffbf 79.7% 81.2%,#30ffcf 81.3% 83%,#20ffdf 83% 84.9%,#10ffef 84.9% 86.9%,#00ffff 86.9% 88.7%,#00efff 88.7% 90.5%,#00dfff 90.6% 92.5%,#00cfff 92.5% 94.3%,#00bfff 94.4% 96.3%,#00afff 96.4% 98.3%,#009fff 98.3% 100%)"></i>
<i style="background:linear-gradient(#008fff 0,#009fff 0.1% 1.8%,#00afff 1.9% 3.8%,#00bfff 3.8% 5.7%,#00cfff 5.8% 7.6%,#00dfff 7.7% 9.5%,#00efff 9.6% 11.4%,#00ffff 11.4% 13.2%,#10ffef 13.2% 15.2%,#20ffdf 15.2% 17.1%,#30ffcf 17.1% 18.8%,#40ffbf 18.8% 20.4%,#50ffaf 20.4% 21.8%,#60ff9f 21.8% 23%,#70ff8f 23.1%,#71ff8e 24.2%,#7eff81 24.2%,#83ff7c 25.2%,#8cff73 25.3%,#94ff6b 26.1%,#9aff65 26.2%,#a6ff59 27%,#d2ff2d 28.9%,#feff01 30.4%,#ffce00 31.8%,#ff9300 33%,#ff5400 34%,#ff2f00 34.4%,#ff0000 34.8%,#f90000 34.8%,#b50000 35.3%,#a90000 35.5%,#a60000 35.6%,#b10000 35.8%,#ee0000 36.4%,#ff0300 36.6%,#ff2f00 37.2%,#ff5300 37.9%,#ff7200 39%,#ff8200 39.9% 40%,#ff8d00 40.1%,#ff8e00 40.2%,#ff8f00 41.3%,#ff9f00 41.3% 44%,#ffaf00 44.1% 56%,#ff9f00 56% 58.7%,#ff8f00 58.7%,#ff8d00 60%,#ff8200 60%,#ff7400 61%,#ff5000 62.2%,#ff2e00 62.9%,#ff0000 63.5%,#b30000 64.2%,#a60000 64.5%,#b80000 64.7%,#fc0000 65.2%,#ff4d00 66%,#ff8e00 66.9%,#ffc900 68.1%,#ffff00 69.6%,#cbff34 71.4%,#a6ff59 73.1%,#9aff65 73.8%,#95ff6a 73.9%,#8cff73 74.7%,#83ff7c 74.8%,#7eff81 75.8%,#71ff8e 75.9%,#70ff8f 76.9%,#60ff9f 77% 78.2%,#50ffaf 78.3% 79.6%,#40ffbf 79.6% 81.2%,#30ffcf 81.2% 82.9%,#20ffdf 83% 84.8%,#10ffef 84.9% 86.8%,#00ffff 86.9% 88.6%,#00efff 88.6% 90.4%,#00dfff 90.5% 92.4%,#00cfff 92.4% 94.2%,#00bfff 94.3% 96.2%,#00afff 96.2% 98.2%,#009fff 98.2% 100%)"></i>
<i style="background:linear-gradient(#008fff 0 0.1%,#009fff 0.2% 1.9%,#00afff 2% 3.9%,#00bfff 3.9% 5.8%,#00cfff 5.9% 7.7%,#00dfff 7.8% 9.6%,#00efff 9.7% 11.5%,#00ffff 11.5% 13.2%,#10ffef 13.3% 15.2%,#20ffdf 15.3% 17.1%,#30ffcf 17.2% 18.8%,#40ffbf 18.9% 20.4%,#50ffaf 20.5% 21.8%,#60ff9f 21.8% 23.1%,#70ff8f 23.1%,#71ff8e 24.2%,#7eff81 24.2%,#83ff7c 25.2%,#8cff73 25.3%,#95ff6a 26.1%,#9aff65 26.2%,#a6ff59 26.9%,#caff35 28.6%,#feff01 30.4%,#ffcb00 31.8%,#ff9100 33%,#ff5000 33.9%,#ff2900 34.3%,#fe0000 34.7%,#b90000 35.2%,#a70000 35.4%,#b30000 35.7%,#ed0000 36.2%,#ff0200 36.4%,#ff2900 36.9%,#ff4c00 37.6%,#ff6800 38.3%,#ff7e00 39.2%,#ff8400 39.7%,#ff8c00 39.8%,#ff8e00 39.9%,#ff8f00 40.9%,#ff9f00 41% 43.1%,#ffaf00 43.2% 56.8%,#ff9f00 56.9% 59.1%,#ff8f00 59.1%,#ff8d00 60.2%,#ff8c00 60.2%,#ff8400 60.3%,#ff7100 61.4%,#ff5c00 62.1%,#ff4200 62.7%,#ff2400 63.2%,#ff0000 63.6%,#b10000 64.4%,#a60000 64.6%,#a90000 64.7%,#b60000 64.8%,#fb0000 65.3%,#ff0300 65.4%,#ff2c00 65.7%,#ff5200 66.1%,#ff8f00 67%,#ffca00 68.2%,#ffff00 69.6%,#cbff34 71.4%,#a6ff59 73.1%,#9aff65 73.9%,#94ff6b 73.9%,#8cff73 74.8%,#83ff7c 74.8%,#7eff81 75.8%,#71ff8e 75.9%,#70ff8f 76.9%,#60ff9f 77% 78.2%,#50ffaf 78.2% 79.6%,#40ffbf 79.6% 81.2%,#30ffcf 81.2% 82.8%,#20ffdf 82.9% 84.7%,#10ffef 84.8% 86.7%,#00ffff 86.8% 88.5%,#00efff 88.5% 90.3%,#00dfff 90.4% 92.3%,#00cfff 92.3% 94.1%,#00bfff 94.2% 96.1%,#00afff 96.1% 98%,#009fff 98.1% 99.8%,#008fff 99.9% 100%)"></i>
<i style="background:linear-gradient(#008fff 0 0.2%,#009fff 0.3% 2%,#00afff 2.1% 4%,#00bfff 4% 5.9%,#00cfff 6% 7.8%,#00dfff 7.9% 9.7%,#00efff 9.8% 11.6%,#00ffff 11.6% 13.3%,#10ffef 13.4% 15.3%,#20ffdf 15.3% 17.2%,#30ffcf 17.2% 18.9%,#40ffbf 18.9% 20.4%,#50ffaf 20.5% 21.8%,#60ff9f 21.8% 23.1%,#70ff8f 23.1%,#72ff8d 24.2%,#7dff82 24.2%,#84ff7b 25.2%,#8cff73 25.3%,#95ff6a 26.1%,#9aff65 26.2%,#cbff34 28.6%,#feff01 30.3%,#ffca00 31.8%,#ff8e00 32.9%,#ff5000 33.8%,#ff2e00 34.2%,#fd0000 34.6%,#b70000 35.1%,#a90000 35.2%,#a70000 35.3%,#b10000 35.5%,#ff0100 36.3%,#ff2d00 36.8%,#ff5200 37.5%,#ff7100 38.4%,#ff8400 39.4%,#ff8e00 39.8%,#ff8f00 40.5%,#ff9f00 40.6% 42.5%,#ffaf00 42.5% 57.5%,#ff9f00 57.6% 59.4%,#ff8f00 59.5%,#ff8c00 60.4%,#ff8500 60.6%,#ff7000 61.6%,#ff4300 62.8%,#ff2500 63.3%,#ff0400 63.7%,#f40000 63.9%,#af0000 64.5%,#a70000 64.7%,#ab0000 64.8%,#ba0000 65%,#fa0000 65.4%,#ff0200 65.5%,#ff2c00 65.8%,#ff5200 66.2%,#ff9000 67.1%,#ffc900 68.2%,#ffff00 69.7%,#cbff34 71.5%,#9aff65 73.9%,#95ff6a 73.9%,#8bff74 74.8%,#83ff7c 74.8%,#7dff82 75.8%,#71ff8e 75.9%,#70ff8f 76.9%,#60ff9f 77% 78.2%,#50ffaf 78.2% 79.5%,#40ffbf 79.6% 81.1%,#30ffcf 81.2% 82.8%,#20ffdf 82.8% 84.7%,#10ffef 84.7% 86.7%,#00ffff 86.7% 88.4%,#00efff 88.5% 90.3%,#00dfff 90.3% 92.2%,#00cfff 92.2% 94%,#00bfff 94.1% 96%,#00afff 96% 97.9%,#009fff 98% 99.7%,#008fff 99.8% 100%)"></i>
<i style="background:linear-gradient(#008fff 0 0.4%,#009fff 0.4% 2.2%,#00afff 2.2% 4.1%,#00bfff 4.1% 6%,#00cfff 6.1% 7.9%,#00dfff 8% 9.8%,#00efff 9.9% 11.7%,#00ffff 11.7% 13.4%,#10ffef 13.5% 15.4%,#20ffdf 15.4% 17.2%,#30ffcf 17.3% 18.9%,#40ffbf 18.9% 20.5%,#50ffaf 20.5% 21.8%,#60ff9f 21.9% 23.1%,#6fff90 23.1%,#72ff8d 24.2%,#7dff82 24.2%,#83ff7c 25.2%,#8bff74 25.2%,#95ff6a 26.1%,#caff35 28.5%,#feff01 30.3%,#ffcb00 31.7%,#ff8f00 32.8%,#ff5000 33.7%,#fc0000 34.5%,#b50000 35%,#a90000 35.1%,#a70000 35.2%,#b40000 35.4%,#ff0000 36.1%,#ff2d00 36.7%,#ff5100 37.3%,#ff6e00 38.1%,#ff8a00 39.3%,#ff8f00 40.2%,#ff9f00 40.3% 41.9%,#ffaf00 42% 58.1%,#ff9f00 58.1% 59.8%,#ff8f00 59.8%,#ff8c00 60.7%,#ff6d00 61.9%,#ff4100 63%,#ff2500 63.5%,#ff0300 63.9%,#ed0000 64.1%,#b10000 64.6%,#a70000 64.8%,#aa0000 64.9%,#b80000 65.1%,#f90000 65.5%,#ff0100 65.6%,#ff2b00 65.9%,#ff5300 66.3%,#ff9100 67.2%,#ffca00 68.3%,#ffff00 69.7%,#caff35 71.5%,#95ff6a 73.9%,#8bff74 74.8%,#84ff7b 74.8%,#7dff82 75.8%,#72ff8d 75.9%,#6fff90 76.9%,#60ff9f 77% 78.2%,#50ffaf 78.2% 79.5%,#40ffbf 79.6% 81.1%,#30ffcf 81.1% 82.7%,#20ffdf 82.8% 84.6%,#10ffef 84.7% 86.6%,#00ffff 86.6% 88.3%,#00efff 88.4% 90.2%,#00dfff 90.2% 92.1%,#00cfff 92.1% 93.9%,#00bfff 94% 95.9%,#00afff 95.9% 97.8%,#009fff 97.9% 99.6%,#008fff 99.7% 100%)"></i>
<i style="background:linear-gradient(#008fff 0 0.5%,#009fff 0.5% 2.3%,#00afff 2.3% 4.2%,#00bfff 4.3% 6.1%,#00cfff 6.2% 8%,#00dfff 8.1% 9.9%,#00efff 10% 11.7%,#00ffff 11.8% 13.5%,#10ffef 13.5% 15.4%,#20ffdf 15.5% 17.3%,#30ffcf 17.3% 18.9%,#40ffbf 19% 20.5%,#50ffaf 20.5% 21.8%,#60ff9f 21.9% 23.1%,#6fff90 23.1%,#72ff8d 24.2%,#7dff82 24.2%,#84ff7b 25.2%,#8bff74 25.2%,#95ff6a 26.1%,#cbff34 28.5%,#ffff00 30.2%,#ffcb00 31.6%,#ff9000 32.7%,#ff5100 33.6%,#fc0000 34.4%,#b40000 34.9%,#a70000 35.1%,#b10000 35.3%,#fe0000 35.9%,#ff2d00 36.5%,#ff5200 37.2%,#ff7000 38%,#ff8900 39%,#ff9000 39.5% 39.9%,#ff9f00 40% 41.4%,#ffaf00 41.4% 46.2%,#ffbf00 46.3% 49.1%,#ffaf00 49.2% 50.9%,#ffbf00 50.9% 53.7%,#ffaf00 53.8% 58.6%,#ff9f00 58.6% 60.1%,#ff9000 60.1%,#ff8c00 60.9%,#ff6c00 62.2%,#ff3f00 63.2%,#ff2100 63.7%,#ff0200 64.1%,#b40000 64.7%,#a70000 64.9%,#a90000 65%,#b70000 65.2%,#f80000 65.6%,#ff0000 65.7%,#ff2c00 66%,#ff5300 66.4%,#ff9200 67.3%,#ffce00 68.5%,#feff01 69.8%,#caff35 71.6%,#95ff6a 74%,#8bff74 74.8%,#84ff7b 74.8%,#7dff82 75.8%,#72ff8d 75.9%,#6fff90 76.9%,#60ff9f 76.9% 78.1%,#50ffaf 78.2% 79.5%,#40ffbf 79.5% 81%,#30ffcf 81.1% 82.7%,#20ffdf 82.7% 84.6%,#10ffef 84.6% 86.5%,#00ffff 86.5% 88.2%,#00efff 88.3% 90.1%,#00dfff 90.1% 92%,#00cfff 92% 93.8%,#00bfff 93.9% 95.8%,#00afff 95.8% 97.7%,#009fff 97.8% 99.5%,#008fff 99.6% 100%)"></i>
<i style="background:linear-gradient(#008fff 0 0.6%,#009fff 0.6% 2.4%,#00afff 2.4% 4.3%,#00bfff 4.4% 6.2%,#00cfff 6.3% 8.1%,#00dfff 8.2% 10%,#00efff 10% 11.8%,#00ffff 11.9% 13.6%,#10ffef 13.6% 15.5%,#20ffdf 15.5% 17.3%,#30ffcf 17.4% 19%,#40ffbf 19% 20.5%,#50ffaf 20.6% 21.8%,#60ff9f 21.9% 23.1%,#6fff90 23.1%,#72ff8d 24.2%,#7dff82 24.2%,#84ff7b 25.2%,#8bff74 25.2%,#95ff6a 26%,#cbff34 28.4%,#ffff00 30.2%,#ffca00 31.6%,#ff8e00 32.7%,#ff4d00 33.6%,#ff2900 33.9%,#ff0300 34.2%,#b20000 34.8%,#a70000 35%,#b40000 35.2%,#fd0000 35.8%,#ff3400 36.5%,#ff5900 37.2%,#ff7800 38.1%,#ff9000 39.2%,#ff9100 39.6%,#ff9e00 39.7%,#ff9f00 39.7% 41%,#ffaf00 41% 44.1%,#ffbf00 44.2% 55.9%,#ffaf00 55.9% 59%,#ff9f00 59.1%,#ff9e00 60.4%,#ff9100 60.4%,#ff8c00 61.1%,#ff6b00 62.4%,#ff3f00 63.4%,#ff2000 63.8%,#ff0000 64.2%,#fa0000 64.3%,#b10000 64.9%,#a70000 65.1%,#b50000 65.3%,#ff0000 65.8%,#ff2c00 66.1%,#ff4f00 66.5%,#ff9000 67.4%,#ffcd00 68.5%,#feff01 69.9%,#caff35 71.6%,#95ff6a 74%,#8bff74 74.8%,#84ff7b 74.9%,#7dff82 75.8%,#72ff8d 75.9%,#6fff90 76.9%,#60ff9f 76.9% 78.1%,#50ffaf 78.2% 79.5%,#40ffbf 79.5% 81%,#30ffcf 81.1% 82.6%,#20ffdf 82.7% 84.5%,#10ffef 84.5% 86.4%,#00ffff 86.5% 88.1%,#00efff 88.2% 90%,#00dfff 90% 91.9%,#00cfff 91.9% 93.7%,#00bfff 93.8% 95.7%,#00afff 95.7% 97.6%,#009fff 97.7% 99.4%,#008fff 99.4% 100%)"></i>
<i style="background:linear-gradient(#008fff 0 0.7%,#009fff 0.7% 2.5%,#00afff 2.5% 4.4%,#00bfff 4.5% 6.4%,#00cfff 6.4% 8.2%,#00dfff 8.3% 10.1%,#00efff 10.1% 11.9%,#00ffff 12% 13.6%,#10ffef 13.7% 15.5%,#20ffdf 15.6% 17.4%,#30ffcf 17.4% 19%,#40ffbf 19.1% 20.5%,#50ffaf 20.6% 21.9%,#60ff9f 21.9% 23.1%,#6fff90 23.1%,#72ff8d 24.2%,#7dff82 24.2%,#84ff7b 25.2%,#8bff74 25.2%,#95ff6a 26%,#b3ff4c 27.4%,#d8ff27 28.9%,#ffff00 30.1%,#ffc900 31.5%,#ff9000 32.6%,#ff5200 33.4%,#ff2f00 33.8%,#ff0300 34.1%,#fb0000 34.2%,#b70000 34.6%,#a90000 34.8%,#a80000 34.9%,#b60000 35.1%,#ff0100 35.7%,#ff3000 36.3%,#ff5600 36.9%,#ff7400 37.7%,#ff8d00 38.7%,#ff9300 39.3%,#ff9d00 39.4%,#ff9e00 39.5%,#ff9f00 40.6%,#ffaf00 40.6% 43.1%,#ffbf00 43.2% 56.9%,#ffaf00 56.9% 59.4%,#ff9f00 59.4%,#ff9d00 60.6%,#ff9200 60.7%,#ff8f00 61.2%,#ff8000 61.9%,#ff6900 62.6%,#ff4d00 63.3%,#ff2b00 63.8%,#ff0400 64.3%,#f20000 64.5%,#b30000 65%,#a70000 65.2%,#b40000 65.4%,#fe0000 65.9%,#ff4b00 66.5%,#ff8e00 67.4%,#ffca00 68.5%,#feff01 69.9%,#d7ff28 71.2%,#b4ff4b 72.6%,#96ff69 74%,#8bff74 74.8%,#84ff7b 74.9%,#7dff82 75.8%,#72ff8d 75.9%,#6fff90 76.9%,#60ff9f 76.9% 78.1%,#50ffaf 78.2% 79.4%,#40ffbf 79.5% 81%,#30ffcf 81% 82.6%,#20ffdf 82.6% 84.4%,#10ffef 84.5% 86.3%,#00ffff 86.4% 88.1%,#00efff 88.1% 89.9%,#00dfff 89.9% 91.8%,#00cfff 91.8% 93.6%,#00bfff 93.7% 95.6%,#00afff 95.6% 97.5%,#009fff 97.5% 99.3%,#008fff 99.3% 100%)"></i>
<i style="background:linear-gradient(#008fff 0 0.8%,#009fff 0.9% 2.6%,#00afff 2.6% 4.5%,#00bfff 4.6% 6.5%,#00cfff 6.5% 8.4%,#00dfff 8.4% 10.2%,#00efff 10.2% 12%,#00ffff 12% 13.7%,#10ffef 13.8% 15.6%,#20ffdf 15.7% 17.4%,#30ffcf 17.5% 19%,#40ffbf 19.1% 20.6%,#50ffaf 20.6% 21.9%,#60ff9f 21.9% 23.1%,#6fff90 23.1%,#72ff8d 24.1%,#7dff82 24.2%,#84ff7b 25.1%,#8bff74 25.2%,#96ff69 26%,#b3ff4c 27.3%,#d6ff29 28.8%,#ffff00 30.1%,#ffc800 31.5%,#ff8d00 32.5%,#ff4e00 33.4%,#ff2900 33.7%,#ff0300 34%,#fa0000 34.1%,#b60000 34.5%,#a80000 34.7%,#b20000 34.9%,#f20000 35.4%,#ff0400 35.6%,#ff2c00 36%,#ff4c00 36.6%,#ff6700 37.2%,#ff7e00 37.9%,#ff8f00 38.6%,#ff9400 39.1%,#ff9c00 39.1% 39.2%,#ff9f00 40.2%,#ffaf00 40.3% 42.4%,#ffbf00 42.5% 57.6%,#ffaf00 57.6% 59.7%,#ff9f00 59.8%,#ff9c00 60.9%,#ff9400 60.9%,#ff8900 61.7%,#ff6a00 62.8%,#ff3c00 63.7%,#ff2200 64.1%,#ff0200 64.5%,#b50000 65.1%,#a80000 65.3%,#b30000 65.5%,#fe0000 66%,#ff4c00 66.6%,#ff8f00 67.5%,#ffcb00 68.6%,#feff01 70%,#d7ff28 71.2%,#b3ff4c 72.7%,#95ff6a 74%,#8bff74 74.8%,#84ff7b 74.9%,#7dff82 75.8%,#72ff8d 75.9%,#6fff90 76.9%,#60ff9f 76.9% 78.1%,#50ffaf 78.1% 79.4%,#40ffbf 79.5% 80.9%,#30ffcf 81% 82.5%,#20ffdf 82.6% 84.4%,#10ffef 84.4% 86.3%,#00ffff 86.3% 88%,#00efff 88% 89.8%,#00dfff 89.8% 91.6%,#00cfff 91.7% 93.5%,#00bfff 93.6% 95.5%,#00afff 95.5% 97.4%,#009fff 97.4% 99.2%,#008fff 99.2% 100%)"></i>
<i style="background:linear-gradient(#008fff 0 0.9%,#009fff 1% 2.7%,#00afff 2.7% 4.6%,#00bfff 4.7% 6.6%,#00cfff 6.6% 8.5%,#00dfff 8.5% 10.3%,#00efff 10.3% 12.1%,#00ffff 12.1% 13.8%,#10ffef 13.8% 15.7%,#20ffdf 15.7% 17.5%,#30ffcf 17.5% 19.1%,#40ffbf 19.1% 20.6%,#50ffaf 20.6% 21.9%,#60ff9f 21.9% 23.1%,#6fff90 23.1%,#72ff8d 24.1%,#7cff83 24.2%,#84ff7b 25.1%,#8bff74 25.2%,#96ff69 26%,#b2ff4d 27.3%,#d6ff29 28.7%,#feff01 30%,#ffcc00 31.3%,#ff8f00 32.4%,#ff4f00 33.2%,#ff2a00 33.6%,#ff0300 33.9%,#b50000 34.4%,#a80000 34.6%,#b40000 34.8%,#fb0000 35.4%,#ff3600 36%,#ff5b00 36.7%,#ff7b00 37.6%,#ff9300 38.6%,#ff9e00 39.1%,#ff9f00 39.9%,#ffaf00 40% 41.8%,#ffbf00 41.9% 58.1%,#ffaf00 58.2% 60.1%,#ff9f00 60.1%,#ff9c00 61.1%,#ff9500 61.2%,#ff7a00 62.5%,#ff6300 63.1%,#ff4800 63.7%,#ff2900 64.2%,#fe0000 64.6%,#b70000 65.2%,#a80000 65.4%,#b20000 65.6%,#fe0000 66.1%,#ff0600 66.1%,#ff2d00 66.4%,#ff5200 66.8%,#ff9000 67.6%,#ffca00 68.7%,#ffff00 70%,#d7ff28 71.3%,#b3ff4c 72.7%,#96ff69 74%,#8bff74 74.8%,#84ff7b 74.9%,#7cff83 75.8%,#73ff8c 75.9%,#6fff90 76.9%,#61ff9e 76.9%,#60ff9f 78.1%,#50ffaf 78.1% 79.4%,#40ffbf 79.4% 80.9%,#30ffcf 80.9% 82.5%,#20ffdf 82.6% 84.3%,#10ffef 84.4% 86.2%,#00ffff 86.2% 87.9%,#00efff 87.9% 89.7%,#00dfff 89.8% 91.5%,#00cfff 91.6% 93.4%,#00bfff 93.5% 95.3%,#00afff 95.4% 97.3%,#009fff 97.3% 99.1%,#008fff 99.1% 100%)"></i>
<i style="background:linear-gradient(#008fff 0 1%,#009fff 1.1% 2.9%,#00afff 2.9% 4.7%,#00bfff 4.8% 6.7%,#00cfff 6.7% 8.5%,#00dfff 8.6% 10.4%,#00efff 10.4% 12.2%,#00ffff 12.2% 13.9%,#10ffef 14% 15.7%,#20ffdf 15.8% 17.5%,#30ffcf 17.6% 19.1%,#40ffbf 19.2% 20.6%,#50ffaf 20.7% 21.9%,#60ff9f 22%,#61ff9e 23.1%,#6eff91 23.2%,#73ff8c 24.1%,#7cff83 24.2%,#84ff7b 25.1%,#8aff75 25.2%,#96ff69 26%,#b3ff4c 27.3%,#d6ff29 28.7%,#fffe00 30%,#ffcb00 31.3%,#ff9000 32.3%,#ff5000 33.1%,#ff2b00 33.5%,#ff0300 33.8%,#fa0000 33.9%,#b40000 34.3%,#a80000 34.5%,#b60000 34.7%,#f20000 35.2%,#ff0500 35.3%,#ff2a00 35.7%,#ff4900 36.2%,#ff6400 36.8%,#ff7a00 37.4%,#ff9b00 38.7%,#ff9f00 39.6%,#ffaf00 39.7% 41.3%,#ffbf00 41.3% 58.7%,#ffaf00 58.7% 60.4%,#ff9f00 60.4%,#ff9c00 61.3%,#ff7a00 62.7%,#ff6300 63.3%,#ff4800 63.8%,#ff2800 64.3%,#ff0200 64.7%,#b30000 65.3%,#a80000 65.5%,#b80000 65.7%,#fe0000 66.2%,#ff2e00 66.5%,#ff4e00 66.9%,#ff8e00 67.7%,#ffca00 68.7%,#ffff00 70.1%,#d7ff28 71.3%,#b3ff4c 72.8%,#96ff69 74.1%,#8aff75 74.9%,#84ff7b 74.9%,#7cff83 75.8%,#73ff8c 75.9%,#6eff91 76.9%,#61ff9e 76.9%,#60ff9f 78.1%,#50ffaf 78.1% 79.4%,#40ffbf 79.4% 80.9%,#30ffcf 80.9% 82.5%,#20ffdf 82.5% 84.3%,#10ffef 84.3% 86.1%,#00ffff 86.2% 87.8%,#00efff 87.9% 89.6%,#00dfff 89.7% 91.4%,#00cfff 91.5% 93.3%,#00bfff 93.4% 95.2%,#00afff 95.3% 97.1%,#009fff 97.2% 99%,#008fff 99% 100%)"></i>
<i style="background:linear-gradient(#008fff 0 1.1%,#009fff 1.2% 3%,#00afff 3% 4.8%,#00bfff 4.9% 6.7%,#00cfff 6.8% 8.6%,#00dfff 8.7% 10.4%,#00efff 10.5% 12.2%,#00ffff 12.3% 14%,#10ffef 14% 15.8%,#20ffdf 15.8% 17.6%,#30ffcf 17.6% 19.1%,#40ffbf 19.2% 20.6%,#50ffaf 20.7% 21.9%,#60ff9f 22%,#61ff9e 23.1%,#6eff91 23.2%,#73ff8c 24.1%,#7cff83 24.2%,#85ff7a 25.1%,#8bff74 25.2%,#96ff69 25.9%,#b3ff4c 27.2%,#d7ff28 28.7%,#feff01 29.9%,#ffcc00 31.2%,#ff9100 32.2%,#ff5100 33%,#ff2b00 33.4%,#ff0300 33.7%,#b40000 34.2%,#a80000 34.4%,#b80000 34.6%,#fb0000 35.1%,#ff0200 35.2%,#ff3800 35.8%,#ff5e00 36.5%,#ff7e00 37.3%,#ff9600 38.3%,#ff9f00 38.7% 39.3%,#ffaf00 39.4% 40.8%,#ffbf00 40.9% 45.6%,#ffcf00 45.7% 49%,#ffbf00 49% 51%,#ffcf00 51% 54.3%,#ffbf00 54.4% 59.1%,#ffaf00 59.2% 60.6%,#ff9f00 60.7%,#ff9c00 61.5%,#ff7700 62.9%,#ff5f00 63.5%,#ff4400 64.1%,#ff2700 64.5%,#fe0000 64.9%,#b50000 65.4%,#a80000 65.6%,#b70000 65.8%,#fe0000 66.3%,#ff2800 66.6%,#ff4f00 67%,#ff9000 67.8%,#ffcb00 68.8%,#ffff00 70.1%,#d8ff27 71.3%,#b3ff4c 72.8%,#96ff69 74.1%,#8aff75 74.9%,#84ff7b 74.9%,#7cff83 75.8%,#73ff8c 75.9%,#6eff91 76.9%,#61ff9e 76.9%,#60ff9f 78.1%,#50ffaf 78.1% 79.3%,#40ffbf 79.4% 80.8%,#30ffcf 80.9% 82.4%,#20ffdf 82.5% 84.2%,#10ffef 84.2% 86%,#00ffff 86% 87.7%,#00efff 87.8% 89.5%,#00dfff 89.6% 91.3%,#00cfff 91.4% 93.2%,#00bfff 93.3% 95.1%,#00afff 95.2% 97%,#009fff 97.1% 98.8%,#008fff 98.9% 100%)"></i>
<i style="background:linear-gradient(#008fff 0 1.2%,#009fff 1.3% 3.1%,#00afff 3.1% 4.9%,#00bfff 5% 6.8%,#00cfff 6.9% 8.7%,#00dfff 8.8% 10.5%,#00efff 10.6% 12.3%,#00ffff 12.4% 14.1%,#10ffef 14.1% 15.8%,#20ffdf 15.9% 17.6%,#30ffcf 17.7% 19.2%,#40ffbf 19.2% 20.6%,#50ffaf 20.7% 21.9%,#60ff9f 22%,#61ff9e 23.1%,#6eff91 23.2%,#73ff8c 24.1%,#7cff83 24.2%,#84ff7b 25.1%,#8aff75 25.1%,#96ff69 25.9%,#b2ff4d 27.2%,#d6ff29 28.6%,#fffe00 29.9%,#ffc900 31.2%,#ff8f00 32.2%,#ff5200 32.9%,#ff2c00 33.3%,#ff0300 33.6%,#fb0000 33.7%,#ba0000 34.1%,#a90000 34.3%,#b30000 34.5%,#f80000 35%,#ff0500 35.1%,#ff3b00 35.7%,#ff6700 36.5%,#ff8200 37.3%,#ff9a00 38.2%,#ffa100 39.1%,#ffaf00 39.1% 40.5%,#ffbf00 40.5% 43.7%,#ffcf00 43.8% 56.3%,#ffbf00 56.3% 59.5%,#ffaf00 59.6%,#ffae00 60.9%,#ffa100 61%,#ff9c00 61.7%,#ff7600 63.1%,#ff4700 64.2%,#ff2900 64.6%,#ff0200 65%,#fb0000 65%,#b60000 65.5%,#a80000 65.7%,#b70000 65.9%,#ff0000 66.4%,#ff2900 66.7%,#ff4b00 67%,#ff8e00 67.8%,#ffc800 68.8%,#ffff00 70.2%,#d6ff29 71.4%,#b3ff4c 72.8%,#8aff75 74.9%,#85ff7a 74.9%,#7cff83 75.9%,#73ff8c 75.9%,#6eff91 76.9%,#61ff9e 76.9%,#60ff9f 78.1%,#50ffaf 78.1% 79.3%,#40ffbf 79.4% 80.8%,#30ffcf 80.8% 82.4%,#20ffdf 82.4% 84.1%,#10ffef 84.2% 85.9%,#00ffff 86% 87.6%,#00efff 87.7% 89.4%,#00dfff 89.5% 91.2%,#00cfff 91.3% 93.1%,#00bfff 93.2% 95%,#00afff 95.1% 96.9%,#009fff 97% 98.7%,#008fff 98.8% 100%)"></i>
<i style="background:linear-gradient(#008fff 0 1.3%,#009fff 1.4% 3.2%,#00afff 3.2% 5%,#00bfff 5.1% 6.9%,#00cfff 7% 8.8%,#00dfff 8.9% 10.6%,#00efff 10.7% 12.4%,#00ffff 12.5% 14.1%,#10ffef 14.2% 15.9%,#20ffdf 15.9% 17.7%,#30ffcf 17.7% 19.2%,#40ffbf 19.3% 20.7%,#50ffaf 20.7% 21.9%,#60ff9f 22%,#61ff9e 23.1%,#6eff91 23.2%,#73ff8c 24.1%,#7cff83 24.2%,#85ff7a 25.1%,#8aff75 25.1%,#b3ff4c 27.2%,#d7ff28 28.6%,#feff01 29.8%,#ffcb00 31.1%,#ff9100 32.1%,#ff4f00 32.9%,#ff2d00 33.2%,#ff0400 33.5%,#fb0000 33.6%,#ba0000 34%,#a90000 34.2%,#b50000 34.4%,#fa0000 34.9%,#ff0100 34.9%,#ff3200 35.4%,#ff5300 35.9%,#ff7200 36.6%,#ff8c00 37.4%,#ff9e00 38.2%,#ffa200 38.8%,#ffad00 38.8%,#ffaf00 40.1%,#ffbf00 40.1% 42.8%,#ffcf00 42.8% 57.2%,#ffbf00 57.3% 59.9%,#ffaf00 59.9%,#ffae00 61.1%,#ffad00 61.2%,#ffa200 61.3%,#ff9f00 61.8%,#ff8400 62.9%,#ff6200 63.8%,#ff3800 64.5%,#fd0000 65.1%,#b80000 65.6%,#a90000 65.8%,#ac0000 65.9%,#b60000 66%,#ff0000 66.5%,#ff2a00 66.8%,#ff4c00 67.1%,#ff8f00 67.9%,#ffcc00 69%,#feff01 70.3%,#d6ff29 71.5%,#b2ff4d 72.9%,#8aff75 74.9%,#85ff7a 74.9%,#7cff83 75.9%,#73ff8c 75.9%,#6eff91 76.9%,#61ff9e 76.9%,#60ff9f 78%,#50ffaf 78.1% 79.3%,#40ffbf 79.4% 80.8%,#30ffcf 80.8% 82.3%,#20ffdf 82.4% 84.1%,#10ffef 84.1% 85.8%,#00ffff 85.9% 87.6%,#00efff 87.6% 89.4%,#00dfff 89.4% 91.2%,#00cfff 91.2% 93%,#00bfff 93.1% 94.9%,#00afff 95% 96.8%,#009fff 96.8% 98.6%,#008fff 98.7% 100%)"></i>
<i style="background:linear-gradient(#008fff 0 1.5%,#009fff 1.5% 3.3%,#00afff 3.3% 5.1%,#00bfff 5.2% 7%,#00cfff 7.1% 8.9%,#00dfff 9% 10.7%,#00efff 10.8% 12.5%,#00ffff 12.5% 14.2%,#10ffef 14.3% 15.9%,#20ffdf 16% 17.7%,#30ffcf 17.7% 19.2%,#40ffbf 19.3% 20.7%,#50ffaf 20.7% 21.9%,#60ff9f 22%,#62ff9d 23.1%,#6eff91 23.2%,#73ff8c 24.1%,#7cff83 24.2%,#85ff7a 25.1%,#8aff75 25.1%,#b3ff4c 27.1%,#d7ff28 28.5%,#ffff00 29.7%,#ffca00 31%,#ff8f00 32%,#ff5000 32.8%,#ff2e00 33.1%,#ff0500 33.4%,#fc0000 33.5%,#ba0000 33.9%,#a90000 34.1%,#b60000 34.3%,#fc0000 34.8%,#ff3800 35.4%,#ff6300 36.1%,#ff8400 37%,#ff9f00 38.1%,#ffa300 38.5%,#ffac00 38.6%,#ffae00 38.7%,#ffaf00 39.8%,#ffbf00 39.8% 42.1%,#ffcf00 42.1% 57.9%,#ffbf00 58% 60.2%,#ffaf00 60.3%,#ffac00 61.5%,#ffa300 61.5%,#ff9e00 62%,#ff8900 62.9%,#ff6f00 63.6%,#ff5100 64.3%,#ff3200 64.7%,#ff0000 65.2%,#f90000 65.3%,#b90000 65.7%,#a90000 65.9%,#ac0000 66%,#b60000 66.1%,#ff0100 66.6%,#ff2b00 66.9%,#ff4d00 67.2%,#ff9100 68%,#ffcd00 69.1%,#feff01 70.3%,#d6ff29 71.5%,#b2ff4d 72.9%,#8aff75 74.9%,#85ff7a 75%,#7cff83 75.9%,#73ff8c 75.9%,#6eff91 76.9%,#61ff9e 76.9%,#60ff9f 78%,#50ffaf 78.1% 79.3%,#40ffbf 79.3% 80.7%,#30ffcf 80.8% 82.3%,#20ffdf 82.3% 84%,#10ffef 84.1% 85.8%,#00ffff 85.8% 87.5%,#00efff 87.5% 89.3%,#00dfff 89.3% 91.1%,#00cfff 91.1% 92.9%,#00bfff 93% 94.8%,#00afff 94.9% 96.7%,#009fff 96.7% 98.5%,#008fff 98.6% 100%)"></i>
<i style="background:linear-gradient(#008fff 0 1.6%,#009fff 1.6% 3.4%,#00afff 3.4% 5.2%,#00bfff 5.3% 7.1%,#00cfff 7.2% 9%,#00dfff 9.1% 10.8%,#00efff 10.8% 12.6%,#00ffff 12.6% 14.3%,#10ffef 14.3% 16%,#20ffdf 16.1% 17.7%,#30ffcf 17.8% 19.3%,#40ffbf 19.3% 20.7%,#50ffaf 20.8% 22%,#60ff9f 22%,#62ff9d 23.1%,#6eff91 23.2%,#73ff8c 24.1%,#7bff84 24.1%,#85ff7a 25%,#8aff75 25.1%,#b2ff4d 27.1%,#d7ff28 28.5%,#ffff00 29.7%,#ffcb00 30.9%,#ff9100 31.9%,#ff5100 32.7%,#ff3000 33%,#ff0600 33.3%,#fd0000 33.4%,#b30000 33.8%,#a90000 34%,#b70000 34.2%,#fe0000 34.7%,#ff2a00 35.1%,#ff4f00 35.6%,#ff6c00 36.2%,#ff8600 36.9%,#ff9e00 37.8%,#ffa400 38.3%,#ffab00 38.3%,#ffaf00 39.5%,#ffbf00 39.5% 41.4%,#ffcf00 41.5% 58.5%,#ffbf00 58.6% 60.5%,#ffaf00 60.6%,#ffae00 61.5%,#ffac00 61.7%,#ffa400 61.7%,#ffa200 62%,#ff8800 63.1%,#ff6600 64%,#ff3c00 64.7%,#fb0000 65.4%,#ba0000 65.8%,#a90000 66%,#ac0000 66.1%,#b60000 66.2%,#ff0200 66.7%,#ff2c00 67%,#ff4f00 67.3%,#ff8f00 68.1%,#ffcd00 69.1%,#feff01 70.4%,#d6ff29 71.6%,#b2ff4d 73%,#8aff75 74.9%,#85ff7a 75%,#7cff83 75.9%,#73ff8c 75.9%,#6dff92 76.9%,#62ff9d 76.9%,#60ff9f 78%,#50ffaf 78.1% 79.3%,#40ffbf 79.3% 80.7%,#30ffcf 80.8% 82.2%,#20ffdf 82.3% 84%,#10ffef 84% 85.7%,#00ffff 85.7% 87.4%,#00efff 87.5% 89.2%,#00dfff 89.2% 91%,#00cfff 91% 92.8%,#00bfff 92.9% 94.7%,#00afff 94.8% 96.6%,#009fff 96.6% 98.4%,#008fff 98.5% 100%)"></i>
<i style="background:linear-gradient(#008fff 0 1.7%,#009fff 1.7% 3.5%,#00afff 3.5% 5.3%,#00bfff 5.4% 7.2%,#00cfff 7.3% 9.1%,#00dfff 9.1% 10.9%,#00efff 10.9% 12.6%,#00ffff 12.7% 14.4%,#10ffef 14.4% 16.1%,#20ffdf 16.1% 17.8%,#30ffcf 17.8% 19.3%,#40ffbf 19.3% 20.7%,#50ffaf 20.8% 22%,#60ff9f 22%,#62ff9d 23.1%,#6dff92 23.2%,#73ff8c 24.1%,#7bff84 24.1%,#85ff7a 25%,#b2ff4d 27%,#d7ff28 28.4%,#ffff00 29.6%,#ffcb00 30.9%,#ff8f00 31.9%,#ff4e00 32.6%,#ff2b00 32.9%,#fe0000 33.2%,#ba0000 33.7%,#ae0000 33.8%,#a90000 33.9%,#b80000 34.1%,#ff0100 34.6%,#ff2c00 35%,#ff4e00 35.4%,#ff6c00 36%,#ff8500 36.7%,#ff9c00 37.5%,#ffa500 38.1%,#ffab00 38.1%,#ffaf00 39.2%,#ffbf00 39.2% 41%,#ffcf00 41% 59%,#ffbf00 59.1% 60.8%,#ffaf00 60.9%,#ffab00 61.9%,#ffa500 62%,#ff9c00 62.5%,#ff8600 63.3%,#ff6d00 64%,#ff5000 64.6%,#ff2e00 65%,#fd0000 65.5%,#b50000 66%,#a90000 66.1%,#ac0000 66.2%,#b60000 66.3%,#ff0300 66.8%,#ff2e00 67.1%,#ff5000 67.4%,#ff9000 68.2%,#ffcc00 69.2%,#feff01 70.4%,#d6ff29 71.6%,#b1ff4e 73%,#86ff79 75%,#7bff84 75.9%,#74ff8b 75.9%,#6dff92 76.9%,#62ff9d 76.9%,#60ff9f 78%,#50ffaf 78.1% 79.3%,#40ffbf 79.3% 80.7%,#30ffcf 80.7% 82.2%,#20ffdf 82.2% 83.9%,#10ffef 84% 85.6%,#00ffff 85.7% 87.3%,#00efff 87.4% 89.1%,#00dfff 89.2% 90.9%,#00cfff 90.9% 92.7%,#00bfff 92.8% 94.6%,#00afff 94.7% 96.5%,#009fff 96.5% 98.3%,#008fff 98.4% 100%)"></i>
<i style="background:linear-gradient(#008fff 0 1.8%,#009fff 1.8% 3.6%,#00afff 3.6% 5.4%,#00bfff 5.5% 7.3%,#00cfff 7.4% 9.2%,#00dfff 9.2% 11%,#00efff 11% 12.7%,#00ffff 12.8% 14.4%,#10ffef 14.5% 16.1%,#20ffdf 16.2% 17.8%,#30ffcf 17.9% 19.3%,#40ffbf 19.4% 20.7%,#50ffaf 20.8% 22%,#60ff9f 22%,#62ff9d 23.1%,#6dff92 23.2%,#74ff8b 24.1%,#7bff84 24.1%,#86ff79 25%,#b1ff4e 27%,#d6ff29 28.4%,#fdff02 29.5%,#ffcf00 30.7%,#ff9000 31.8%,#ff4f00 32.5%,#ff2c00 32.8%,#ff0000 33.1%,#ba0000 33.6%,#ae0000 33.7%,#a90000 33.8%,#b90000 34%,#fc0000 34.4%,#ff2e00 34.9%,#ff4d00 35.3%,#ff6c00 35.8%,#ff8400 36.5%,#ffab00 38%,#ffaf00 38.9%,#ffbf00 39% 40.5%,#ffcf00 40.6% 59.4%,#ffbf00 59.5% 61.1%,#ffaf00 61.2%,#ffae00 61.8%,#ffa400 62.3%,#ff8a00 63.4%,#ff6500 64.3%,#ff3900 65%,#ff0000 65.6%,#b50000 66.1%,#aa0000 66.2%,#ac0000 66.3%,#b70000 66.4%,#fb0000 66.9%,#ff0400 66.9%,#ff2f00 67.2%,#ff5200 67.5%,#ff9200 68.3%,#ffce00 69.3%,#feff01 70.5%,#d7ff28 71.6%,#b2ff4d 73%,#85ff7a 75.1%,#7bff84 75.9%,#74ff8b 75.9%,#6dff92 76.9%,#62ff9d 76.9%,#60ff9f 78%,#50ffaf 78.1% 79.2%,#40ffbf 79.3% 80.6%,#30ffcf 80.7% 82.2%,#20ffdf 82.2% 83.9%,#10ffef 83.9% 85.6%,#00ffff 85.6% 87.3%,#00efff 87.3% 89%,#00dfff 89.1% 90.8%,#00cfff 90.8% 92.6%,#00bfff 92.7% 94.5%,#00afff 94.6% 96.4%,#009fff 96.4% 98.2%,#008fff 98.3% 100%)"></i>
<i style="background:linear-gradient(#0080ff 0 0.1%,#008fff 0.2% 1.9%,#009fff 1.9% 3.7%,#00afff 3.7% 5.5%,#00bfff 5.6% 7.4%,#00cfff 7.5% 9.3%,#00dfff 9.3% 11%,#00efff 11.1% 12.8%,#00ffff 12.8% 14.5%,#10ffef 14.5% 16.2%,#20ffdf 16.2% 17.9%,#30ffcf 17.9% 19.4%,#40ffbf 19.5% 20.8%,#50ffaf 20.8% 22%,#60ff9f 22%,#62ff9d 23.1%,#6dff92 23.2%,#74ff8b 24.1%,#7bff84 24.1%,#85ff7a 24.9%,#b1ff4e 26.9%,#d6ff29 28.3%,#fdff02 29.5%,#ffce00 30.7%,#ff9200 31.7%,#ff5100 32.4%,#ff2e00 32.7%,#ff0100 33%,#bb0000 33.5%,#ae0000 33.6%,#aa0000 33.7%,#ae0000 33.8%,#b90000 33.9%,#fd0000 34.3%,#ff3800 34.9%,#ff6600 35.6%,#ff8b00 36.5%,#ffaa00 37.7%,#ffb000 38.6%,#ffbf00 38.6% 40.1%,#ffcf00 40.2% 44.2%,#ffdf00 44.3% 55.8%,#ffcf00 55.8% 59.8%,#ffbf00 59.9% 61.4%,#ffaf00 61.4%,#ffab00 62.2%,#ff8300 63.7%,#ff6a00 64.4%,#ff4d00 64.9%,#ff2900 65.3%,#ff0200 65.7%,#fa0000 65.7%,#b60000 66.2%,#ac0000 66.3%,#aa0000 66.4%,#b70000 66.5%,#fc0000 67%,#ff0600 67%,#ff2a00 67.3%,#ff4e00 67.6%,#ff9000 68.3%,#ffca00 69.3%,#feff01 70.5%,#d7ff28 71.7%,#b2ff4d 73.1%,#86ff79 75.1%,#7bff84 75.9%,#74ff8b 76%,#6dff92 76.9%,#62ff9d 76.9%,#60ff9f 78%,#50ffaf 78.1% 79.2%,#40ffbf 79.3% 80.6%,#30ffcf 80.7% 82.1%,#20ffdf 82.2% 83.8%,#10ffef 83.9% 85.5%,#00ffff 85.5% 87.2%,#00efff 87.2% 88.9%,#00dfff 89% 90.7%,#00cfff 90.8% 92.6%,#00bfff 92.6% 94.4%,#00afff 94.5% 96.3%,#009fff 96.3% 98.1%,#008fff 98.1% 99.9%,#0080ff 99.9% 100%)"></i>
<i style="background:linear-gradient(#0080ff 0 0.2%,#008fff 0.3% 2%,#009fff 2% 3.8%,#00afff 3.8% 5.7%,#00bfff 5.7% 7.5%,#00cfff 7.6% 9.4%,#00dfff 9.4% 11.2%,#00efff 11.2% 12.9%,#00ffff 12.9% 14.6%,#10ffef 14.6% 16.2%,#20ffdf 16.3% 17.9%,#30ffcf 17.9% 19.4%,#40ffbf 19.5% 20.8%,#50ffaf 20.8% 22%,#5fffa0 22%,#62ff9d 23.1%,#6dff92 23.2%,#74ff8b 24.1%,#7bff84 24.1%,#86ff79 24.9%,#b2ff4d 26.9%,#d6ff29 28.3%,#fffe00 29.5%,#ffcb00 30.7%,#ff9000 31.6%,#ff5300 32.3%,#ff2f00 32.6%,#ff0300 32.9%,#fa0000 33%,#bb0000 33.4%,#af0000 33.5%,#aa0000 33.6%,#ae0000 33.7%,#ba0000 33.8%,#ff0000 34.2%,#ff3200 34.7%,#ff5d00 35.3%,#ff7f00 36%,#ff9b00 36.9%,#ffad00 37.7%,#ffb100 38.3%,#ffbe00 38.4%,#ffbf00 39.8%,#ffcf00 39.8% 42.9%,#ffdf00 43% 57%,#ffcf00 57.1% 60.2%,#ffbf00 60.2%,#ffbe00 61.6%,#ffb100 61.7%,#ffab00 62.4%,#ff8100 64%,#ff6900 64.5%,#ff4b00 65%,#ff2b00 65.4%,#fb0000 65.8%,#b70000 66.3%,#aa0000 66.4%,#ad0000 66.5%,#b80000 66.6%,#fe0000 67.1%,#ff0700 67.1%,#ff2c00 67.4%,#ff5000 67.7%,#ff9200 68.4%,#ffcc00 69.4%,#ffff00 70.6%,#d7ff28 71.7%,#b1ff4e 73.1%,#85ff7a 75.1%,#7bff84 75.9%,#74ff8b 76%,#6dff92 76.9%,#62ff9d 76.9%,#5fffa0 78%,#50ffaf 78.1% 79.2%,#40ffbf 79.3% 80.5%,#30ffcf 80.6% 82.1%,#20ffdf 82.1% 83.8%,#10ffef 83.8% 85.4%,#00ffff 85.5% 87.1%,#00efff 87.2% 88.8%,#00dfff 88.9% 90.6%,#00cfff 90.7% 92.5%,#00bfff 92.5% 94.3%,#00afff 94.3% 96.2%,#009fff 96.2% 98%,#008fff 98% 99.8%,#0080ff 99.8% 100%)"></i>
<i style="background:linear-gradient(#0080ff 0 0.3%,#008fff 0.4% 2.1%,#009fff 2.1% 3.9%,#00afff 4% 5.8%,#00bfff 5.8% 7.6%,#00cfff 7.7% 9.4%,#00dfff 9.5% 11.2%,#00efff 11.3% 12.9%,#00ffff 13% 14.6%,#10ffef 14.7% 16.3%,#20ffdf 16.3% 17.9%,#30ffcf 18% 19.5%,#40ffbf 19.5% 20.8%,#50ffaf 20.8% 22%,#5fffa0 22%,#62ff9d 23.1%,#6dff92 23.1%,#74ff8b 24%,#7bff84 24.1%,#86ff79 24.9%,#b0ff4f 26.8%,#d4ff2b 28.2%,#fffe00 29.4%,#ffca00 30.6%,#ff8e00 31.6%,#ff4f00 32.3%,#fb0000 32.9%,#bc0000 33.2%,#af0000 33.4%,#aa0000 33.5%,#b40000 33.6%,#ff0100 34.1%,#ff3300 34.6%,#ff5c00 35.1%,#ff7c00 35.8%,#ff9800 36.6%,#ffad00 37.5%,#ffb200 38.1%,#ffbd00 38.2%,#ffbf00 39.5%,#ffcf00 39.5% 42.1%,#ffdf00 42.2% 57.9%,#ffcf00 57.9% 60.5%,#ffbf00 60.6%,#ffbd00 61.9%,#ffb200 61.9%,#ffab00 62.6%,#ff8100 64.1%,#ff6900 64.7%,#ff4d00 65.1%,#ff2c00 65.5%,#fd0000 65.9%,#b70000 66.4%,#aa0000 66.5%,#ad0000 66.6%,#b80000 66.8%,#ff0000 67.2%,#ff2700 67.4%,#ff4c00 67.7%,#ff9000 68.5%,#ffcb00 69.5%,#ffff00 70.6%,#d7ff28 71.8%,#b2ff4d 73.1%,#86ff79 75.1%,#7bff84 75.9%,#74ff8b 76%,#6dff92 76.9%,#62ff9d 76.9%,#5fffa0 78%,#50ffaf 78% 79.2%,#40ffbf 79.2% 80.5%,#30ffcf 80.6% 82%,#20ffdf 82.1% 83.7%,#10ffef 83.8% 85.4%,#00ffff 85.4% 87%,#00efff 87.1% 88.7%,#00dfff 88.8% 90.5%,#00cfff 90.6% 92.4%,#00bfff 92.4% 94.2%,#00afff 94.2% 96.1%,#009fff 96.1% 97.9%,#008fff 97.9% 99.7%,#0080ff 99.7% 100%)"></i>
<i style="background:linear-gradient(#0080ff 0 0.4%,#008fff 0.5% 2.2%,#009fff 2.2% 4%,#00afff 4.1% 5.9%,#00bfff 5.9% 7.7%,#00cfff 7.7% 9.5%,#00dfff 9.6% 11.3%,#00efff 11.4% 13%,#00ffff 13.1% 14.7%,#10ffef 14.7% 16.3%,#20ffdf 16.4% 18%,#30ffcf 18% 19.5%,#40ffbf 19.5% 20.8%,#50ffaf 20.9% 22%,#5fffa0 22%,#62ff9d 23.1%,#6dff92 23.1%,#74ff8b 24%,#7bff84 24.1%,#86ff79 24.9%,#b0ff4f 26.8%,#d4ff2b 28.1%,#fffe00 29.4%,#ffc900 30.5%,#ff8d00 31.5%,#ff4c00 32.2%,#fd0000 32.8%,#bd0000 33.1%,#b00000 33.2%,#aa0000 33.4%,#b40000 33.5%,#ff0200 34%,#ff3000 34.4%,#ff5700 34.9%,#ff7a00 35.6%,#ff9500 36.4%,#ffad00 37.3%,#ffb300 37.9%,#ffbc00 37.9%,#ffbf00 39.2%,#ffcf00 39.2% 41.4%,#ffdf00 41.5% 58.5%,#ffcf00 58.6% 60.8%,#ffbf00 60.9%,#ffbc00 62.1%,#ffb300 62.1%,#ffa300 63.1%,#ff7f00 64.3%,#ff6800 64.8%,#ff4b00 65.3%,#ff2900 65.7%,#fe0000 66%,#b70000 66.5%,#aa0000 66.6%,#ad0000 66.8%,#b90000 66.9%,#ff0200 67.3%,#ff2900 67.5%,#ff4e00 67.8%,#ff8f00 68.5%,#ffca00 69.5%,#ffff00 70.7%,#d6ff29 71.8%,#b2ff4d 73.2%,#86ff79 75.1%,#7bff84 75.9%,#74ff8b 76%,#6dff92 76.9%,#63ff9c 76.9%,#5fffa0 78%,#50ffaf 78% 79.2%,#40ffbf 79.2% 80.5%,#30ffcf 80.5% 82%,#20ffdf 82.1% 83.7%,#10ffef 83.7% 85.3%,#00ffff 85.3% 87%,#00efff 87% 88.6%,#00dfff 88.7% 90.4%,#00cfff 90.5% 92.3%,#00bfff 92.3% 94.1%,#00afff 94.1% 96%,#009fff 96% 97.8%,#008fff 97.8% 99.6%,#0080ff 99.6% 100%)"></i>
<i style="background:linear-gradient(#0080ff 0 0.5%,#008fff 0.6% 2.3%,#009fff 2.3% 4.1%,#00afff 4.2% 6%,#00bfff 6% 7.8%,#00cfff 7.8% 9.6%,#00dfff 9.7% 11.4%,#00efff 11.5% 13.1%,#00ffff 13.1% 14.8%,#10ffef 14.8% 16.4%,#20ffdf 16.4% 18%,#30ffcf 18.1% 19.5%,#40ffbf 19.6% 20.8%,#50ffaf 20.9% 22%,#5fffa0 22%,#62ff9d 23.1%,#6cff93 23.1%,#74ff8b 24%,#7bff84 24.1%,#86ff79 24.9%,#b1ff4e 26.8%,#d6ff29 28.1%,#feff01 29.3%,#ffcb00 30.4%,#ff8f00 31.4%,#ff4e00 32.1%,#ff2800 32.4%,#ff0000 32.7%,#b70000 33.1%,#ab0000 33.2%,#b40000 33.4%,#fb0000 33.9%,#ff0300 33.9%,#ff3600 34.4%,#ff5900 34.8%,#ff7900 35.4%,#ff9400 36.2%,#ffae00 37.2%,#ffb300 37.7%,#ffbc00 37.7%,#ffbf00 38.8%,#ffcf00 38.9% 40.9%,#ffdf00 41% 59.1%,#ffcf00 59.1% 61.1%,#ffbf00 61.2%,#ffbe00 62.1%,#ffbb00 62.3%,#ffb300 62.4%,#ffb200 62.6%,#ff9600 63.8%,#ff6f00 64.8%,#ff3d00 65.6%,#ff1f00 65.9%,#ff0000 66.1%,#b70000 66.6%,#ab0000 66.8%,#b30000 66.9%,#fb0000 67.3%,#ff0400 67.4%,#ff2b00 67.6%,#ff5100 67.9%,#ff9100 68.6%,#ffca00 69.6%,#ffff00 70.7%,#d6ff29 71.9%,#b1ff4e 73.2%,#86ff79 75.2%,#7aff85 76%,#74ff8b 76%,#6dff92 76.9%,#63ff9c 76.9%,#5fffa0 78%,#50ffaf 78% 79.2%,#40ffbf 79.2% 80.5%,#30ffcf 80.5% 82%,#20ffdf 82% 83.6%,#10ffef 83.7% 85.2%,#00ffff 85.3% 86.9%,#00efff 86.9% 88.6%,#00dfff 88.6% 90.4%,#00cfff 90.4% 92.2%,#00bfff 92.2% 94%,#00afff 94.1% 95.9%,#009fff 95.9% 97.7%,#008fff 97.7% 99.5%,#0080ff 99.5% 100%)"></i>
<i style="background:linear-gradient(#0080ff 0 0.6%,#008fff 0.7% 2.4%,#009fff 2.4% 4.2%,#00afff 4.3% 6.1%,#00bfff 6.1% 7.9%,#00cfff 7.9% 9.7%,#00dfff 9.8% 11.5%,#00efff 11.5% 13.2%,#00ffff 13.2% 14.8%,#10ffef 14.9% 16.4%,#20ffdf 16.5% 18%,#30ffcf 18.1% 19.5%,#40ffbf 19.6% 20.8%,#50ffaf 20.9%,#51ffae 22%,#5fffa0 22%,#63ff9c 23.1%,#6cff93 23.1%,#75ff8a 24%,#7bff84 24.1%,#86ff79 24.8%,#b0ff4f 26.7%,#d5ff2a 28.1%,#feff01 29.2%,#ffcd00 30.3%,#ff9100 31.3%,#ff5000 32%,#ff2a00 32.3%,#ff0200 32.6%,#b80000 33%,#ab0000 33.1%,#b40000 33.3%,#fc0000 33.8%,#ff3300 34.2%,#ff5700 34.7%,#ff7600 35.2%,#ff9200 35.9%,#ffab00 36.9%,#ffb400 37.5%,#ffbb00 37.5%,#ffbf00 38.6%,#ffcf00 38.6% 40.5%,#ffdf00 40.5% 59.5%,#ffcf00 59.6% 61.4%,#ffbf00 61.5%,#ffba00 62.5%,#ffb400 62.6%,#ffad00 63.1%,#ff9600 64%,#ff7300 64.9%,#ff4200 65.6%,#ff2600 65.9%,#ff0000 66.2%,#f80000 66.3%,#b70000 66.7%,#ab0000 66.9%,#b40000 67%,#fd0000 67.4%,#ff0700 67.5%,#ff2d00 67.7%,#ff5300 68%,#ff9300 68.7%,#ffce00 69.7%,#fdff02 70.8%,#d6ff29 71.9%,#b1ff4e 73.3%,#86ff79 75.2%,#7aff85 76%,#74ff8b 76%,#6cff93 76.9%,#63ff9c 76.9%,#5fffa0 78%,#51ffae 78%,#50ffaf 79.1%,#40ffbf 79.2% 80.4%,#30ffcf 80.5% 81.9%,#20ffdf 82% 83.6%,#10ffef 83.6% 85.2%,#00ffff 85.2% 86.8%,#00efff 86.9% 88.5%,#00dfff 88.5% 90.3%,#00cfff 90.3% 92.1%,#00bfff 92.1% 93.9%,#00afff 94% 95.8%,#009fff 95.8% 97.6%,#008fff 97.6% 99.3%,#0080ff 99.4% 100%)"></i>
<i style="background:linear-gradient(#0080ff 0 0.7%,#008fff 0.8% 2.5%,#009fff 2.5% 4.3%,#00afff 4.4% 6.2%,#00bfff 6.2% 8%,#00cfff 8% 9.8%,#00dfff 9.8% 11.6%,#00efff 11.6% 13.2%,#00ffff 13.3% 14.9%,#10ffef 14.9% 16.4%,#20ffdf 16.5% 18.1%,#30ffcf 18.1% 19.6%,#40ffbf 19.6% 20.8%,#50ffaf 20.9%,#51ffae 22%,#5effa1 22%,#63ff9c 23.1%,#6cff93 23.1%,#74ff8b 24%,#7aff85 24%,#86ff79 24.8%,#b0ff4f 26.7%,#d4ff2b 28%,#fffd00 29.2%,#ffc900 30.3%,#ff8f00 31.3%,#ff5200 31.9%,#ff2c00 32.2%,#ff0500 32.5%,#fb0000 32.5%,#b90000 32.9%,#ab0000 33%,#b40000 33.2%,#fc0000 33.7%,#ff0500 33.7%,#ff3400 34.1%,#ff5800 34.6%,#ff7800 35.1%,#ff9200 35.8%,#ffa900 36.6%,#ffb500 37.3%,#ffba00 37.3%,#ffbf00 38.3%,#ffcf00 38.4% 40.1%,#ffdf00 40.1% 59.9%,#ffcf00 60% 61.7%,#ffbf00 61.7%,#ffba00 62.7%,#ffb500 62.8%,#ffa700 63.5%,#ff9000 64.3%,#ff7400 65%,#ff5700 65.5%,#ff3600 65.9%,#ff0100 66.3%,#f90000 66.4%,#b70000 66.8%,#ab0000 67%,#b00000 67.1%,#bd0000 67.2%,#ff0000 67.5%,#ff2800 67.8%,#ff4f00 68.1%,#ff9100 68.8%,#ffce00 69.8%,#fdff02 70.9%,#d6ff29 72%,#b1ff4e 73.3%,#87ff78 75.2%,#7aff85 76%,#75ff8a 76%,#6cff93 76.9%,#63ff9c 76.9%,#5effa1 78%,#51ffae 78%,#50ffaf 79.1%,#40ffbf 79.2% 80.4%,#30ffcf 80.5% 81.9%,#20ffdf 82% 83.5%,#10ffef 83.6% 85.1%,#00ffff 85.1% 86.7%,#00efff 86.8% 88.4%,#00dfff 88.5% 90.2%,#00cfff 90.2% 92%,#00bfff 92.1% 93.8%,#00afff 93.9% 95.7%,#009fff 95.7% 97.5%,#008fff 97.5% 99.2%,#0080ff 99.3% 100%)"></i>
<i style="background:linear-gradient(#0080ff 0 0.8%,#008fff 0.9% 2.6%,#009fff 2.6% 4.4%,#00afff 4.4% 6.3%,#00bfff 6.3% 8.1%,#00cfff 8.1% 9.9%,#00dfff 9.9% 11.6%,#00efff 11.7% 13.3%,#00ffff 13.4% 14.9%,#10ffef 15% 16.5%,#20ffdf 16.5% 18.1%,#30ffcf 18.2% 19.6%,#40ffbf 19.6% 20.8%,#50ffaf 20.9%,#51ffae 22%,#5effa1 22%,#63ff9c 23.1%,#6cff93 23.1%,#75ff8a 24%,#7aff85 24%,#87ff78 24.8%,#b1ff4e 26.7%,#d7ff28 28%,#ffff00 29.1%,#ffcb00 30.2%,#ff9100 31.2%,#ff5400 31.8%,#ff2e00 32.1%,#ff0700 32.4%,#fd0000 32.4%,#bb0000 32.8%,#ab0000 32.9%,#ae0000 33%,#ba0000 33.1%,#fd0000 33.6%,#ff3000 34%,#ff5300 34.4%,#ff7200 34.9%,#ff8f00 35.5%,#ffba00 37.2%,#ffbf00 38.1%,#ffcf00 38.1% 39.7%,#ffdf00 39.7% 44.6%,#ffef00 44.6% 47.8%,#ffdf00 47.9% 52.2%,#ffef00 52.2% 55.4%,#ffdf00 55.5% 60.3%,#ffcf00 60.3% 61.9%,#ffbf00 62%,#ffbd00 62.7%,#ff9d00 64.1%,#ff7600 65.1%,#ff4500 65.8%,#ff2800 66.1%,#ff0200 66.4%,#f90000 66.5%,#b60000 66.9%,#ab0000 67.1%,#b70000 67.2%,#ff0300 67.6%,#ff2b00 67.9%,#ff5200 68.2%,#ff9300 68.9%,#ffd000 69.9%,#feff01 70.9%,#d6ff29 72%,#b0ff4f 73.4%,#86ff79 75.2%,#7aff85 76%,#75ff8a 76%,#6cff93 76.9%,#63ff9c 77%,#5effa1 78%,#51ffae 78%,#50ffaf 79.1%,#40ffbf 79.2% 80.4%,#30ffcf 80.5% 81.9%,#20ffdf 81.9% 83.5%,#10ffef 83.5% 85%,#00ffff 85.1% 86.7%,#00efff 86.7% 88.3%,#00dfff 88.4% 90.1%,#00cfff 90.2% 91.9%,#00bfff 92% 93.7%,#00afff 93.8% 95.6%,#009fff 95.6% 97.4%,#008fff 97.4% 99.1%,#0080ff 99.2% 100%)"></i>
<i style="background:linear-gradient(#0080ff 0 0.9%,#008fff 1% 2.7%,#009fff 2.7% 4.5%,#00afff 4.5% 6.3%,#00bfff 6.4% 8.1%,#00cfff 8.2% 10%,#00dfff 10% 11.7%,#00efff 11.8% 13.4%,#00ffff 13.4% 15%,#10ffef 15.1% 16.5%,#20ffdf 16.6% 18.1%,#30ffcf 18.2% 19.6%,#40ffbf 19.6% 20.9%,#50ffaf 20.9%,#51ffae 22%,#5effa1 22%,#63ff9c 23.1%,#6cff93 23.1%,#75ff8a 24%,#7aff85 24%,#86ff79 24.8%,#b0ff4f 26.6%,#d6ff29 28%,#ffff00 29.1%,#ffcb00 30.2%,#ff8f00 31.1%,#ff7100 31.5%,#ff4b00 31.8%,#ff2a00 32.1%,#ff0100 32.3%,#bc0000 32.7%,#af0000 32.8%,#ac0000 32.9%,#b90000 33%,#fd0000 33.5%,#ff2600 33.8%,#ff4400 34.1%,#ff7600 34.8%,#ff9e00 35.8%,#ffbe00 37.2%,#ffc000 37.8%,#ffcf00 37.9% 39.3%,#ffdf00 39.4% 42.9%,#ffef00 42.9% 57.1%,#ffdf00 57.2% 60.6%,#ffcf00 60.7% 62.1%,#ffc000 62.2%,#ffba00 63%,#ff8f00 64.6%,#ff7400 65.2%,#ff5600 65.7%,#ff3300 66.1%,#ff0200 66.5%,#f90000 66.6%,#b60000 67%,#ab0000 67.2%,#b80000 67.3%,#fb0000 67.7%,#ff0500 67.7%,#ff2d00 68%,#ff4e00 68.2%,#ff9100 68.9%,#ffcc00 69.9%,#feff01 71%,#d6ff29 72.1%,#b0ff4f 73.4%,#87ff78 75.2%,#7aff85 76%,#75ff8a 76.1%,#6cff93 76.9%,#63ff9c 77%,#5effa1 78%,#51ffae 78%,#50ffaf 79.1%,#40ffbf 79.2% 80.4%,#30ffcf 80.4% 81.8%,#20ffdf 81.9% 83.4%,#10ffef 83.5% 85%,#00ffff 85% 86.6%,#00efff 86.7% 88.3%,#00dfff 88.3% 90%,#00cfff 90.1% 91.8%,#00bfff 91.9% 93.6%,#00afff 93.7% 95.5%,#009fff 95.5% 97.3%,#008fff 97.3% 99%,#0080ff 99.1% 100%)"></i>
<i style="background:linear-gradient(#0080ff 0 1%,#008fff 1.1% 2.8%,#009fff 2.9% 4.6%,#00afff 4.6% 6.4%,#00bfff 6.5% 8.2%,#00cfff 8.3% 10%,#00dfff 10.1% 11.8%,#00efff 11.8% 13.4%,#00ffff 13.5% 15.1%,#10ffef 15.1% 16.6%,#20ffdf 16.6% 18.2%,#30ffcf 18.2% 19.6%,#40ffbf 19.7% 20.9%,#50ffaf 20.9%,#51ffae 22%,#5effa1 22%,#63ff9c 23.1%,#6cff93 23.1%,#75ff8a 24%,#7aff85 24%,#87ff78 24.8%,#b1ff4e 26.6%,#d6ff29 27.9%,#ffff00 29%,#ffca00 30.1%,#ff9200 31%,#ff7300 31.4%,#ff4e00 31.7%,#ff2c00 32%,#ff0300 32.2%,#b60000 32.6%,#ac0000 32.8%,#b90000 32.9%,#fd0000 33.4%,#ff2600 33.7%,#ff4500 34%,#ff7400 34.7%,#ff9c00 35.6%,#ffbc00 36.9%,#ffc100 37.6%,#ffce00 37.7%,#ffcf00 39%,#ffdf00 39.1% 42%,#ffef00 42% 58%,#ffdf00 58.1% 60.9%,#ffcf00 61%,#ffce00 62.4%,#ffc100 62.4%,#ffb900 63.2%,#ff8d00 64.8%,#ff7300 65.4%,#ff5300 65.9%,#ff2f00 66.3%,#ff0200 66.6%,#f90000 66.7%,#b50000 67.1%,#ac0000 67.3%,#ba0000 67.4%,#fe0000 67.8%,#ff3000 68.1%,#ff5100 68.3%,#ff9000 69%,#ffcb00 69.9%,#feff01 71%,#d5ff2a 72.1%,#b1ff4e 73.4%,#86ff79 75.3%,#7aff85 76%,#75ff8a 76.1%,#6cff93 76.9%,#63ff9c 77%,#5effa1 78%,#51ffae 78%,#50ffaf 79.1%,#40ffbf 79.2% 80.4%,#30ffcf 80.4% 81.8%,#20ffdf 81.9% 83.4%,#10ffef 83.4% 84.9%,#00ffff 85% 86.5%,#00efff 86.6% 88.2%,#00dfff 88.2% 89.9%,#00cfff 90% 91.7%,#00bfff 91.8% 93.5%,#00afff 93.6% 95.4%,#009fff 95.4% 97.1%,#008fff 97.2% 98.9%,#0080ff 99% 100%)"></i>
<i style="background:linear-gradient(#0080ff 0 1.1%,#008fff 1.2% 2.9%,#009fff 3% 4.7%,#00afff 4.7% 6.5%,#00bfff 6.6% 8.4%,#00cfff 8.4% 10.1%,#00dfff 10.2% 11.9%,#00efff 11.9% 13.5%,#00ffff 13.6% 15.1%,#10ffef 15.2% 16.6%,#20ffdf 16.7% 18.2%,#30ffcf 18.2% 19.6%,#40ffbf 19.7% 20.9%,#50ffaf 20.9%,#51ffae 22%,#5effa1 22%,#63ff9c 23%,#6cff93 23.1%,#75ff8a 23.9%,#b0ff4f 26.5%,#d6ff29 27.9%,#ffff00 29%,#ffc900 30.1%,#ff9000 31%,#ff5000 31.6%,#ff2f00 31.9%,#ff0600 32.1%,#fc0000 32.2%,#b80000 32.5%,#ac0000 32.7%,#b80000 32.8%,#fd0000 33.2%,#ff2700 33.6%,#ff4100 33.8%,#ff7300 34.5%,#ff9a00 35.4%,#ffb900 36.6%,#ffc200 37.4%,#ffcd00 37.4% 37.5%,#ffcf00 38.7%,#ffdf00 38.7% 41.2%,#ffef00 41.3% 58.7%,#ffdf00 58.8% 61.3%,#ffcf00 61.3%,#ffcd00 62.6%,#ffc200 62.6%,#ffbd00 63.2%,#ffa300 64.3%,#ff8600 65.1%,#ff6200 65.8%,#ff3a00 66.3%,#ff0200 66.8%,#f90000 66.8%,#b50000 67.2%,#ac0000 67.4%,#bc0000 67.5%,#ff0200 67.9%,#ff2c00 68.1%,#ff4d00 68.4%,#ff7300 68.7%,#ff9200 69.1%,#ffcd00 70%,#feff01 71.1%,#d5ff2a 72.2%,#b0ff4f 73.5%,#75ff8a 76.1%,#6cff93 76.9%,#63ff9c 77%,#5effa1 78%,#51ffae 78%,#50ffaf 79.1%,#40ffbf 79.1% 80.3%,#30ffcf 80.4% 81.8%,#20ffdf 81.8% 83.4%,#10ffef 83.4% 84.9%,#00ffff 84.9% 86.5%,#00efff 86.5% 88.1%,#00dfff 88.2% 89.9%,#00cfff 89.9% 91.6%,#00bfff 91.7% 93.4%,#00afff 93.5% 95.3%,#009fff 95.3% 97%,#008fff 97.1% 98.8%,#0080ff 98.9% 100%)"></i>
<i style="background:linear-gradient(#0080ff 0 1.2%,#008fff 1.3% 3%,#009fff 3.1% 4.8%,#00afff 4.8% 6.6%,#00bfff 6.7% 8.5%,#00cfff 8.5% 10.2%,#00dfff 10.2% 11.9%,#00efff 12% 13.6%,#00ffff 13.6% 15.2%,#10ffef 15.2% 16.7%,#20ffdf 16.8% 18.2%,#30ffcf 18.3% 19.7%,#40ffbf 19.7% 20.9%,#50ffaf 20.9%,#51ffae 22%,#5effa1 22%,#63ff9c 23%,#6bff94 23.1%,#75ff8a 23.9%,#afff50 26.5%,#d4ff2b 27.7%,#fdff02 28.9%,#ffce00 29.9%,#ff9200 30.9%,#ff6e00 31.3%,#ff4d00 31.6%,#ff2b00 31.8%,#ff0000 32.1%,#ba0000 32.4%,#ac0000 32.6%,#b70000 32.7%,#fd0000 33.1%,#ff3800 33.6%,#ff5e00 34.1%,#ff8300 34.7%,#ffa100 35.5%,#ffbd00 36.6%,#ffc200 37.2%,#ffcc00 37.2%,#ffcf00 38.4%,#ffdf00 38.5% 40.7%,#ffef00 40.7% 59.3%,#ffdf00 59.3% 61.6%,#ffcf00 61.6%,#ffce00 62.7%,#ffcc00 62.8%,#ffc200 62.8% 62.9%,#ffbd00 63.4%,#ffa900 64.3%,#ff7d00 65.4%,#ff6300 65.9%,#ff4800 66.2%,#ff2a00 66.5%,#ff0200 66.9%,#f90000 66.9%,#bb0000 67.3%,#ac0000 67.4%,#b60000 67.6%,#fb0000 67.9%,#ff0500 68%,#ff2f00 68.2%,#ff5000 68.5%,#ff9000 69.1%,#ffcd00 70.1%,#feff01 71.1%,#d5ff2a 72.3%,#b0ff4f 73.5%,#76ff89 76.1%,#6cff93 76.9%,#64ff9b 77%,#5effa1 78%,#52ffad 78%,#50ffaf 79.1%,#40ffbf 79.1% 80.3%,#30ffcf 80.4% 81.7%,#20ffdf 81.8% 83.3%,#10ffef 83.4% 84.8%,#00ffff 84.8% 86.4%,#00efff 86.5% 88%,#00dfff 88.1% 89.8%,#00cfff 89.8% 91.5%,#00bfff 91.6% 93.4%,#00afff 93.4% 95.2%,#009fff 95.2% 96.9%,#008fff 97% 98.7%,#0080ff 98.8% 100%)"></i>
<i style="background:linear-gradient(#0080ff 0 1.3%,#008fff 1.4% 3.1%,#009fff 3.2% 4.9%,#00afff 4.9% 6.7%,#00bfff 6.8% 8.5%,#00cfff 8.6% 10.3%,#00dfff 10.3% 12%,#00efff 12.1% 13.6%,#00ffff 13.7% 15.2%,#10ffef 15.3% 16.8%,#20ffdf 16.8% 18.3%,#30ffcf 18.3% 19.7%,#40ffbf 19.7% 20.9%,#50ffaf 20.9%,#52ffad 22%,#5dffa2 22%,#64ff9b 23%,#6bff94 23.1%,#76ff89 23.9%,#afff50 26.4%,#d4ff2b 27.7%,#fdff02 28.8%,#ffce00 29.9%,#ff9100 30.8%,#ff5000 31.5%,#ff2e00 31.7%,#ff0400 32%,#bc0000 32.3%,#ac0000 32.5%,#b60000 32.6%,#fd0000 33%,#ff2700 33.4%,#ff4700 33.7%,#ff7b00 34.4%,#ffa500 35.5%,#ffc200 36.8%,#ffce00 37.2%,#ffcf00 38.2%,#ffdf00 38.2% 40.2%,#ffef00 40.3% 59.7%,#ffdf00 59.8% 61.8%,#ffcf00 61.9%,#ffcc00 63%,#ffc300 63%,#ffbd00 63.6%,#ff9f00 64.7%,#ff8300 65.4%,#ff6100 66%,#ff3b00 66.5%,#ff0200 67%,#f80000 67%,#ba0000 67.4%,#ac0000 67.5%,#b80000 67.7%,#fe0000 68%,#ff0800 68.1%,#ff3200 68.3%,#ff5300 68.6%,#ff9300 69.2%,#ffcc00 70.1%,#feff01 71.2%,#d7ff28 72.3%,#b1ff4e 73.5%,#75ff8a 76.1%,#6cff93 76.9%,#64ff9b 77%,#5dffa2 78%,#52ffad 78%,#50ffaf 79.1%,#40ffbf 79.1% 80.3%,#30ffcf 80.4% 81.7%,#20ffdf 81.8% 83.2%,#10ffef 83.3% 84.7%,#00ffff 84.8% 86.3%,#00efff 86.4% 88%,#00dfff 88% 89.7%,#00cfff 89.7% 91.4%,#00bfff 91.5% 93.3%,#00afff 93.3% 95.1%,#009fff 95.1% 96.8%,#008fff 96.9% 98.6%,#0080ff 98.7% 100%)"></i>
<i style="background:linear-gradient(#0080ff 0 1.4%,#008fff 1.5% 3.2%,#009fff 3.3% 5%,#00afff 5% 6.8%,#00bfff 6.8% 8.6%,#00cfff 8.7% 10.4%,#00dfff 10.4% 12.1%,#00efff 12.1% 13.7%,#00ffff 13.8% 15.3%,#10ffef 15.3% 16.8%,#20ffdf 16.9% 18.3%,#30ffcf 18.3% 19.7%,#40ffbf 19.7% 20.9%,#50ffaf 21%,#52ffad 22%,#5dffa2 22%,#64ff9b 23%,#6bff94 23.1%,#75ff8a 23.9%,#b0ff4f 26.4%,#d6ff29 27.7%,#fdff02 28.8%,#ffd000 29.8%,#ff9300 30.7%,#ff5300 31.4%,#ff3100 31.6%,#ff0700 31.9%,#fc0000 31.9%,#b70000 32.3%,#ad0000 32.4%,#bc0000 32.6%,#fc0000 32.9%,#ff2800 33.2%,#ff4700 33.6%,#ff6300 33.9%,#ff7c00 34.3%,#ffa800 35.4%,#ffc300 36.7%,#ffce00 37.1%,#ffcf00 37.9%,#ffdf00 38% 39.8%,#ffef00 39.9% 60.2%,#ffdf00 60.2% 62.1%,#ffcf00 62.1%,#ffcb00 63.2%,#ffc400 63.2%,#ffb900 64%,#ff9d00 64.9%,#ff8000 65.6%,#ff5e00 66.2%,#ff3b00 66.6%,#ff0100 67.1%,#f80000 67.1%,#b80000 67.5%,#ac0000 67.6%,#bb0000 67.8%,#ff0200 68.1%,#ff2d00 68.4%,#ff5000 68.6%,#ff9100 69.3%,#ffcb00 70.2%,#feff01 71.2%,#d5ff2a 72.4%,#afff50 73.6%,#76ff89 76.1%,#6bff94 77%,#64ff9b 77%,#5dffa2 78%,#52ffad 78%,#50ffaf 79.1%,#40ffbf 79.1% 80.3%,#30ffcf 80.3% 81.7%,#20ffdf 81.7% 83.2%,#10ffef 83.2% 84.7%,#00ffff 84.7% 86.3%,#00efff 86.3% 87.9%,#00dfff 87.9% 89.6%,#00cfff 89.7% 91.4%,#00bfff 91.4% 93.2%,#00afff 93.2% 95%,#009fff 95% 96.7%,#008fff 96.8% 98.5%,#0080ff 98.6% 100%)"></i>
<i style="background:linear-gradient(#0080ff 0 1.5%,#008fff 1.6% 3.3%,#009fff 3.4% 5.1%,#00afff 5.1% 6.9%,#00bfff 6.9% 8.7%,#00cfff 8.8% 10.4%,#00dfff 10.5% 12.2%,#00efff 12.2% 13.8%,#00ffff 13.8% 15.3%,#10ffef 15.4% 16.8%,#20ffdf 16.9% 18.3%,#30ffcf 18.4% 19.7%,#40ffbf 19.8% 20.9%,#4fffb0 21%,#52ffad 22%,#5dffa2 22%,#64ff9b 23%,#6bff94 23.1%,#76ff89 23.9%,#afff50 26.4%,#d5ff2a 27.6%,#feff01 28.7%,#ffcf00 29.7%,#ff9200 30.7%,#ff5000 31.3%,#ff2d00 31.6%,#ff0100 31.8%,#b90000 32.2%,#ad0000 32.3%,#bb0000 32.5%,#fb0000 32.8%,#ff0400 32.9%,#ff2800 33.1%,#ff4300 33.4%,#ff7700 34.1%,#ffa000 35%,#ffc000 36.3%,#ffcd00 36.9%,#ffcf00 37.7%,#ffdf00 37.7% 39.4%,#ffef00 39.5% 60.5%,#ffdf00 60.6% 62.3%,#ffcf00 62.4%,#ffca00 63.4%,#ffc400 63.4%,#ffb600 64.2%,#ff9d00 65.1%,#ff8100 65.7%,#ff5f00 66.3%,#ff3600 66.8%,#ff0000 67.2%,#f70000 67.2%,#b70000 67.6%,#ad0000 67.7%,#bd0000 67.9%,#fb0000 68.2%,#ff0600 68.2%,#ff3000 68.5%,#ff5300 68.7%,#ff9400 69.4%,#ffce00 70.3%,#ffff00 71.3%,#d6ff29 72.4%,#b0ff4f 73.6%,#76ff89 76.1%,#6bff94 77%,#64ff9b 77%,#5dffa2 78%,#52ffad 78%,#4fffb0 79.1%,#40ffbf 79.1% 80.3%,#30ffcf 80.3% 81.7%,#20ffdf 81.7% 83.1%,#10ffef 83.2% 84.6%,#00ffff 84.7% 86.2%,#00efff 86.3% 87.8%,#00dfff 87.9% 89.5%,#00cfff 89.6% 91.3%,#00bfff 91.3% 93.1%,#00afff 93.1% 94.9%,#009fff 95% 96.6%,#008fff 96.7% 98.4%,#0080ff 98.5% 100%)"></i>
<i style="background:linear-gradient(#0080ff 0 1.6%,#008fff 1.7% 3.4%,#009fff 3.5% 5.2%,#00afff 5.2% 7%,#00bfff 7% 8.8%,#00cfff 8.8% 10.5%,#00dfff 10.6% 12.2%,#00efff 12.3% 13.8%,#00ffff 13.9% 15.4%,#10ffef 15.5% 16.9%,#20ffdf 16.9% 18.3%,#30ffcf 18.4% 19.7%,#40ffbf 19.8% 20.9%,#4fffb0 21%,#52ffad 22%,#5dffa2 22%,#64ff9b 23%,#6bff94 23%,#76ff89 23.9%,#afff50 26.3%,#d5ff2a 27.6%,#feff01 28.7%,#ffce00 29.7%,#ff9400 30.5%,#ff5300 31.2%,#ff3000 31.5%,#ff0500 31.7%,#fa0000 31.8%,#bc0000 32.1%,#ad0000 32.2%,#b90000 32.4%,#fa0000 32.7%,#ff0400 32.8%,#ff2700 33%,#ff4800 33.4%,#ff6500 33.7%,#ff7e00 34.1%,#ffa700 35.1%,#ffcb00 36.6%,#ffcf00 37.4%,#ffdf00 37.5% 39.1%,#ffef00 39.2% 44.3%,#ffff00 44.4% 46.5%,#ffef00 46.5% 53.5%,#ffff00 53.5% 55.6%,#ffef00 55.7% 60.9%,#ffdf00 60.9% 62.5%,#ffcf00 62.6%,#ffca00 63.5%,#ff9a00 65.3%,#ff7c00 65.9%,#ff5b00 66.4%,#ff3000 66.9%,#fe0000 67.3%,#bd0000 67.6%,#ad0000 67.8%,#b70000 67.9%,#ff0000 68.3%,#ff2c00 68.5%,#ff4f00 68.8%,#ff8e00 69.4%,#ffca00 70.3%,#ffff00 71.3%,#d6ff29 72.4%,#b0ff4f 73.7%,#76ff89 76.2%,#6bff94 77%,#64ff9b 77%,#5dffa2 78%,#52ffad 78%,#4fffb0 79.1%,#40ffbf 79.1% 80.3%,#30ffcf 80.3% 81.6%,#20ffdf 81.7% 83.1%,#10ffef 83.1% 84.6%,#00ffff 84.6% 86.1%,#00efff 86.2% 87.7%,#00dfff 87.8% 89.5%,#00cfff 89.5% 91.2%,#00bfff 91.2% 93%,#00afff 93.1% 94.8%,#009fff 94.9% 96.5%,#008fff 96.6% 98.3%,#0080ff 98.4% 100%)"></i>
<i style="background:linear-gradient(#0080ff 0 1.7%,#008fff 1.8% 3.5%,#009fff 3.6% 5.3%,#00afff 5.3% 7.1%,#00bfff 7.1% 8.9%,#00cfff 8.9% 10.6%,#00dfff 10.6% 12.3%,#00efff 12.3% 13.9%,#00ffff 14% 15.5%,#10ffef 15.5% 16.9%,#20ffdf 17% 18.4%,#30ffcf 18.4% 19.7%,#40ffbf 19.8% 20.9%,#4fffb0 21%,#52ffad 22%,#5dffa2 22%,#64ff9b 23%,#6bff94 23%,#76ff89 23.8%,#aeff51 26.3%,#d5ff2a 27.5%,#feff01 28.6%,#ffce00 29.6%,#ff9300 30.5%,#ff5600 31.1%,#ff3400 31.4%,#ff0900 31.6%,#fe0000 31.7%,#bf0000 32%,#ad0000 32.1%,#b80000 32.3%,#f90000 32.6%,#ff0300 32.7%,#ff2700 32.9%,#ff4800 33.2%,#ff7c00 34%,#ffa700 35%,#ffc500 36.2%,#ffcf00 36.7% 37.2%,#ffdf00 37.3% 38.7%,#ffef00 38.8% 42.5%,#ffff00 42.5% 57.5%,#ffef00 57.5% 61.2%,#ffdf00 61.3% 62.7%,#ffcf00 62.8%,#ffca00 63.7%,#ffb100 64.7%,#ff9900 65.4%,#ff7d00 66%,#ff5c00 66.5%,#ff3600 67%,#fd0000 67.4%,#bc0000 67.7%,#ad0000 67.9%,#ba0000 68%,#f90000 68.3%,#ff0400 68.4%,#ff3000 68.6%,#ff5300 68.9%,#ff9000 69.5%,#ffc900 70.3%,#ffff00 71.4%,#d6ff29 72.5%,#afff50 73.7%,#76ff89 76.2%,#6bff94 77%,#64ff9b 77%,#5dffa2 78%,#53ffac 78%,#4fffb0 79.1%,#40ffbf 79.1% 80.2%,#30ffcf 80.3% 81.6%,#20ffdf 81.7% 83%,#10ffef 83.1% 84.5%,#00ffff 84.6% 86%,#00efff 86.1% 87.7%,#00dfff 87.7% 89.4%,#00cfff 89.4% 91.1%,#00bfff 91.2% 92.9%,#00afff 93% 94.7%,#009fff 94.8% 96.5%,#008fff 96.5% 98.3%,#0080ff 98.3% 100%)"></i>
<i style="background:linear-gradient(#0070ff 0 0.1%,#0080ff 0.1% 1.8%,#008fff 1.9% 3.6%,#009fff 3.7% 5.3%,#00afff 5.4% 7.1%,#00bfff 7.2% 8.9%,#00cfff 9% 10.7%,#00dfff 10.7% 12.4%,#00efff 12.4% 14%,#00ffff 14% 15.5%,#10ffef 15.6% 17%,#20ffdf 17% 18.4%,#30ffcf 18.4% 19.7%,#40ffbf 19.8% 20.9%,#4fffb0 21%,#53ffac 22%,#5dffa2 22%,#64ff9b 23%,#6bff94 23%,#76ff89 23.8%,#afff50 26.3%,#d5ff2a 27.5%,#feff01 28.6%,#ffcd00 29.6%,#ff9100 30.4%,#ff5300 31.1%,#ff2f00 31.3%,#ff0300 31.6%,#b90000 31.9%,#ad0000 32.1%,#be0000 32.2%,#f80000 32.5%,#ff0100 32.6%,#ff2d00 32.9%,#ff4d00 33.2%,#ff6900 33.6%,#ff8500 34%,#ffaf00 35.1%,#ffcf00 36.5%,#ffd000 37%,#ffdf00 37.1% 38.4%,#ffef00 38.5% 41.5%,#ffff00 41.6% 58.4%,#ffef00 58.5% 61.5%,#ffdf00 61.6%,#ffde00 63%,#ffd000 63%,#ffc900 63.9%,#ffb100 64.9%,#ff9800 65.6%,#ff7b00 66.2%,#ff5800 66.7%,#ff3000 67.1%,#fc0000 67.5%,#ba0000 67.8%,#ad0000 68%,#bd0000 68.1%,#fd0000 68.4%,#ff0800 68.5%,#ff3300 68.7%,#ff5600 69%,#ff9300 69.6%,#ffcc00 70.4%,#ffff00 71.4%,#d6ff29 72.5%,#afff50 73.8%,#76ff89 76.2%,#6bff94 77%,#64ff9b 77.1%,#5dffa2 78%,#53ffac 78%,#4fffb0 79.1%,#40ffbf 79.1% 80.2%,#30ffcf 80.3% 81.6%,#20ffdf 81.6% 83%,#10ffef 83% 84.5%,#00ffff 84.5% 86%,#00efff 86% 87.6%,#00dfff 87.7% 89.3%,#00cfff 89.4% 91%,#00bfff 91.1% 92.8%,#00afff 92.9% 94.6%,#009fff 94.7% 96.4%,#008fff 96.4% 98.2%,#0080ff 98.2% 99.9%,#0070ff 100%)"></i>
<i style="background:linear-gradient(#0070ff 0 0.1%,#0080ff 0.2% 1.9%,#008fff 2% 3.7%,#009fff 3.8% 5.4%,#00afff 5.5% 7.2%,#00bfff 7.3% 9%,#00cfff 9.1% 10.7%,#00dfff 10.8% 12.4%,#00efff 12.5% 14.1%,#00ffff 14.1% 15.6%,#10ffef 15.6% 17%,#20ffdf 17.1% 18.4%,#30ffcf 18.5% 19.8%,#40ffbf 19.8%,#41ffbe 20.9%,#4fffb0 21%,#53ffac 22%,#5dffa2 22%,#65ff9a 23%,#6bff94 23%,#76ff89 23.8%,#afff50 26.2%,#d5ff2a 27.4%,#feff01 28.5%,#ffcd00 29.5%,#ff9400 30.3%,#ff5600 31%,#ff3300 31.2%,#ff0700 31.5%,#fc0000 31.5%,#bc0000 31.8%,#ad0000 32%,#bc0000 32.1%,#ff0000 32.5%,#ff2600 32.7%,#ff4800 33%,#ff6600 33.4%,#ff8000 33.8%,#ffab00 34.8%,#ffcd00 36.2%,#ffd100 36.8%,#ffde00 36.9% 36.9%,#ffdf00 38.2%,#ffef00 38.2% 40.9%,#ffff00 40.9% 59.1%,#ffef00 59.2% 61.8%,#ffdf00 61.9%,#ffdd00 63.2%,#ffd100 63.2%,#ffce00 63.7%,#ffc100 64.4%,#ff9700 65.7%,#ff7c00 66.3%,#ff5800 66.8%,#ff3600 67.2%,#ff0400 67.5%,#fb0000 67.6%,#b80000 67.9%,#ae0000 68.1%,#c00000 68.2%,#ff0200 68.5%,#ff2f00 68.8%,#ff5300 69%,#ff9200 69.7%,#ffcb00 70.5%,#ffff00 71.5%,#d6ff29 72.6%,#aeff51 73.8%,#76ff89 76.2%,#6bff94 77%,#64ff9b 77.1%,#5cffa3 78%,#52ffad 78.1%,#4fffb0 79%,#41ffbe 79.1%,#40ffbf 80.2%,#30ffcf 80.3% 81.6%,#20ffdf 81.6% 83%,#10ffef 83% 84.4%,#00ffff 84.5% 85.9%,#00efff 86% 87.5%,#00dfff 87.6% 89.2%,#00cfff 89.3% 90.9%,#00bfff 91% 92.7%,#00afff 92.8% 94.5%,#009fff 94.6% 96.3%,#008fff 96.3% 98.1%,#0080ff 98.1% 99.8%,#0070ff 99.9% 100%)"></i>
<i style="background:linear-gradient(#0070ff 0 0.2%,#0080ff 0.3% 2%,#008fff 2.1% 3.8%,#009fff 3.9% 5.5%,#00afff 5.6% 7.3%,#00bfff 7.4% 9.1%,#00cfff 9.2% 10.8%,#00dfff 10.9% 12.5%,#00efff 12.5% 14.1%,#00ffff 14.2% 15.6%,#10ffef 15.7% 17.1%,#20ffdf 17.1% 18.4%,#30ffcf 18.5% 19.8%,#40ffbf 19.8%,#41ffbe 20.9%,#4fffb0 21%,#53ffac 22%,#5cffa3 22%,#64ff9b 22.9%,#6aff95 23%,#76ff89 23.8%,#afff50 26.2%,#d4ff2b 27.4%,#feff01 28.5%,#ffcc00 29.5%,#ff9200 30.3%,#ff5300 30.9%,#ff2f00 31.2%,#ff0100 31.4%,#bf0000 31.7%,#ae0000 31.9%,#ba0000 32%,#fd0000 32.4%,#ff3200 32.7%,#ff5600 33.1%,#ff7b00 33.6%,#ff9700 34.2%,#ffc000 35.4%,#ffce00 36.1%,#ffd200 36.6%,#ffdd00 36.7%,#ffdf00 37.9%,#ffef00 38% 40.3%,#ffff00 40.4% 59.6%,#ffef00 59.7% 62.1%,#ffdf00 62.1%,#ffde00 63.3%,#ffdd00 63.3%,#ffd200 63.4% 63.6%,#ffcc00 64.1%,#ffb500 65%,#ff8800 66.2%,#ff6c00 66.6%,#ff4f00 67%,#ff2f00 67.3%,#ff0300 67.6%,#f90000 67.7%,#be0000 68%,#ae0000 68.1%,#bb0000 68.3%,#fb0000 68.6%,#ff0600 68.6%,#ff2b00 68.8%,#ff5000 69.1%,#ff9000 69.7%,#ffca00 70.5%,#ffff00 71.5%,#d5ff2a 72.6%,#afff50 73.8%,#76ff89 76.2%,#6bff94 77%,#65ff9a 77.1%,#5cffa3 78%,#53ffac 78.1%,#4fffb0 79%,#41ffbe 79.1%,#40ffbf 80.2%,#30ffcf 80.3% 81.5%,#20ffdf 81.6% 82.9%,#10ffef 83% 84.4%,#00ffff 84.4% 85.9%,#00efff 85.9% 87.5%,#00dfff 87.5% 89.2%,#00cfff 89.2% 90.9%,#00bfff 90.9% 92.7%,#00afff 92.7% 94.4%,#009fff 94.5% 96.2%,#008fff 96.2% 98%,#0080ff 98% 99.7%,#0070ff 99.8% 100%)"></i>
<i style="background:linear-gradient(#0070ff 0 0.3%,#0080ff 0.4% 2.1%,#008fff 2.2% 3.9%,#009fff 3.9% 5.7%,#00afff 5.7% 7.4%,#00bfff 7.4% 9.2%,#00cfff 9.2% 10.9%,#00dfff 10.9% 12.6%,#00efff 12.6% 14.2%,#00ffff 14.2% 15.7%,#10ffef 15.7% 17.1%,#20ffdf 17.2% 18.5%,#30ffcf 18.5% 19.8%,#40ffbf 19.8%,#41ffbe 20.9%,#4effb1 21%,#53ffac 22%,#5cffa3 22%,#65ff9a 22.9%,#6aff95 23%,#76ff89 23.8%,#aeff51 26.1%,#d4ff2b 27.3%,#feff01 28.4%,#ffcb00 29.4%,#ff9100 30.2%,#ff5000 30.9%,#ff2b00 31.1%,#ff0600 31.3%,#fb0000 31.4%,#ba0000 31.7%,#ae0000 31.8%,#c00000 32%,#fc0000 32.3%,#ff3d00 32.7%,#ff6700 33.2%,#ff8c00 33.8%,#ffab00 34.6%,#ffcc00 35.8%,#ffd300 36.4%,#ffdc00 36.5%,#ffdf00 37.7%,#ffef00 37.7% 39.9%,#ffff00 39.9% 60.1%,#ffef00 60.2% 62.3%,#ffdf00 62.4%,#ffdd00 63.4%,#ffdc00 63.5%,#ffd300 63.6%,#ffce00 64.1%,#ffac00 65.4%,#ff8300 66.4%,#ff4f00 67.1%,#ff2e00 67.4%,#ff0100 67.7%,#f70000 67.8%,#bc0000 68.1%,#ae0000 68.2%,#be0000 68.4%,#ff0100 68.7%,#ff2f00 68.9%,#ff5300 69.2%,#ff9300 69.8%,#ffd000 70.7%,#fdff02 71.6%,#d5ff2a 72.7%,#afff50 73.9%,#76ff89 76.3%,#6bff94 77%,#65ff9a 77.1%,#5cffa3 78%,#53ffac 78.1%,#4effb1 79%,#41ffbe 79.1%,#40ffbf 80.2%,#30ffcf 80.2% 81.5%,#20ffdf 81.6% 82.9%,#10ffef 82.9% 84.3%,#00ffff 84.4% 85.8%,#00efff 85.9% 87.4%,#00dfff 87.5% 89.1%,#00cfff 89.1% 90.8%,#00bfff 90.8% 92.6%,#00afff 92.6% 94.3%,#009fff 94.4% 96.1%,#008fff 96.1% 97.9%,#0080ff 97.9% 99.6%,#0070ff 99.7% 100%)"></i>
<i style="background:linear-gradient(#0070ff 0 0.4%,#0080ff 0.5% 2.2%,#008fff 2.2% 4%,#009fff 4% 5.8%,#00afff 5.8% 7.5%,#00bfff 7.5% 9.3%,#00cfff 9.3% 10.9%,#00dfff 11% 12.6%,#00efff 12.7% 14.2%,#00ffff 14.3% 15.7%,#10ffef 15.8% 17.1%,#20ffdf 17.2% 18.5%,#30ffcf 18.5% 19.8%,#40ffbf 19.8%,#41ffbe 20.9%,#4effb1 21%,#53ffac 22%,#5cffa3 22%,#65ff9a 22.9%,#6aff95 23%,#76ff89 23.7%,#aeff51 26.1%,#d2ff2d 27.2%,#fffd00 28.4%,#ffc800 29.4%,#ff8f00 30.2%,#ff5400 30.8%,#ff2f00 31%,#ff0000 31.3%,#f50000 31.3%,#bd0000 31.6%,#ae0000 31.7%,#bd0000 31.9%,#fa0000 32.2%,#ff0400 32.2%,#ff3d00 32.6%,#ff6b00 33.1%,#ff9200 33.8%,#ffb300 34.7%,#ffce00 35.7%,#ffd300 36.3%,#ffdc00 36.3%,#ffdf00 37.4%,#ffef00 37.5% 39.5%,#ffff00 39.5% 60.5%,#ffef00 60.6% 62.6%,#ffdf00 62.6%,#ffdb00 63.7%,#ffd300 63.8%,#ffcd00 64.3%,#ffb700 65.2%,#ff9500 66.1%,#ff7a00 66.6%,#ff5800 67.1%,#ff3400 67.5%,#fe0000 67.8%,#b90000 68.2%,#ae0000 68.3%,#b90000 68.4%,#fa0000 68.7%,#ff0600 68.8%,#ff3300 69%,#ff5700 69.3%,#ff9600 69.9%,#ffcf00 70.7%,#fdff02 71.7%,#d3ff2c 72.8%,#adff52 74%,#76ff89 76.3%,#6aff95 77.1%,#65ff9a 77.1%,#5cffa3 78%,#53ffac 78.1%,#4effb1 79%,#41ffbe 79.1%,#40ffbf 80.2%,#30ffcf 80.2% 81.5%,#20ffdf 81.5% 82.8%,#10ffef 82.9% 84.3%,#00ffff 84.3% 85.7%,#00efff 85.8% 87.4%,#00dfff 87.4% 89%,#00cfff 89.1% 90.7%,#00bfff 90.8% 92.5%,#00afff 92.5% 94.2%,#009fff 94.3% 96%,#008fff 96% 97.8%,#0080ff 97.8% 99.5%,#0070ff 99.6% 100%)"></i>
<i style="background:linear-gradient(#0070ff 0 0.5%,#0080ff 0.6% 2.3%,#008fff 2.3% 4.1%,#009fff 4.1% 5.8%,#00afff 5.9% 7.6%,#00bfff 7.6% 9.3%,#00cfff 9.4% 11%,#00dfff 11.1% 12.7%,#00efff 12.7% 14.3%,#00ffff 14.3% 15.8%,#10ffef 15.8% 17.2%,#20ffdf 17.2% 18.5%,#30ffcf 18.6% 19.8%,#40ffbf 19.9%,#41ffbe 20.9%,#4effb1 21%,#53ffac 21.9%,#5cffa3 22%,#65ff9a 22.9%,#6aff95 23%,#86ff79 24.4%,#afff50 26.1%,#d6ff29 27.3%,#feff01 28.3%,#ffcd00 29.3%,#ff9200 30.1%,#ff5100 30.7%,#ff2b00 31%,#ff0500 31.2%,#fa0000 31.2%,#b80000 31.5%,#ae0000 31.6%,#bb0000 31.8%,#f70000 32.1%,#ff0200 32.1%,#ff3c00 32.5%,#ff6700 33%,#ff8b00 33.6%,#ffaa00 34.3%,#ffc600 35.2%,#ffd400 36%,#ffdb00 36.1%,#ffdf00 37.2%,#ffef00 37.2% 39.1%,#ffff00 39.1% 60.9%,#ffef00 60.9% 62.8%,#ffdf00 62.8%,#ffde00 63.7%,#ffd300 64.1%,#ffb500 65.4%,#ff8700 66.5%,#ff6d00 67%,#ff4f00 67.3%,#ff2d00 67.6%,#fc0000 67.9%,#bf0000 68.2%,#ae0000 68.4%,#bc0000 68.5%,#ff0000 68.8%,#ff2700 69%,#ff4d00 69.3%,#ff7200 69.6%,#ff9000 69.9%,#ffcf00 70.8%,#fdff02 71.7%,#d5ff2a 72.8%,#aeff51 74%,#84ff7b 75.7%,#6aff95 77.1%,#65ff9a 77.1%,#5cffa3 78%,#53ffac 78.1%,#4effb1 79%,#41ffbe 79.1%,#40ffbf 80.2%,#30ffcf 80.2% 81.5%,#20ffdf 81.5% 82.8%,#10ffef 82.8% 84.2%,#00ffff 84.3% 85.7%,#00efff 85.7% 87.3%,#00dfff 87.3% 89%,#00cfff 89% 90.6%,#00bfff 90.7% 92.4%,#00afff 92.5% 94.1%,#009fff 94.2% 95.9%,#008fff 95.9% 97.7%,#0080ff 97.7% 99.4%,#0070ff 99.5% 100%)"></i>
<i style="background:linear-gradient(#0070ff 0 0.6%,#0080ff 0.7% 2.4%,#008fff 2.4% 4.2%,#009fff 4.2% 5.9%,#00afff 6% 7.6%,#00bfff 7.7% 9.4%,#00cfff 9.5% 11.1%,#00dfff 11.2% 12.7%,#00efff 12.8% 14.3%,#00ffff 14.4% 15.8%,#10ffef 15.8% 17.2%,#20ffdf 17.3% 18.5%,#30ffcf 18.6% 19.8%,#40ffbf 19.9%,#41ffbe 20.9%,#4effb1 21%,#53ffac 21.9%,#5cffa3 22%,#65ff9a 22.9%,#6aff95 22.9%,#84ff7b 24.3%,#aeff51 26%,#d5ff2a 27.2%,#feff01 28.3%,#ffcd00 29.2%,#ff9100 30%,#ff7300 30.3%,#ff4e00 30.7%,#ff2700 30.9%,#ff0000 31.1%,#bc0000 31.4%,#af0000 31.5% 31.6%,#c10000 31.7%,#fe0000 32%,#ff2800 32.3%,#ff4c00 32.6%,#ff6700 32.9%,#ff8300 33.3%,#ffb000 34.3%,#ffd200 35.6%,#ffde00 36.2%,#ffdf00 37%,#ffef00 37% 38.7%,#ffff00 38.7% 61.3%,#ffef00 61.3% 63%,#ffdf00 63%,#ffda00 64.1%,#ffd400 64.2%,#ffc400 65%,#ffa800 65.9%,#ff8a00 66.6%,#ff6500 67.2%,#ff3e00 67.6%,#ff0400 68%,#fa0000 68%,#bc0000 68.3%,#af0000 68.5%,#b70000 68.6%,#f90000 68.9%,#ff0500 68.9%,#ff2b00 69.1%,#ff5100 69.4%,#ff9300 70%,#ffce00 70.8%,#fdff02 71.8%,#d4ff2b 72.8%,#aeff51 74%,#85ff7a 75.7%,#6aff95 77.1%,#65ff9a 77.1%,#5cffa3 78%,#53ffac 78.1%,#4effb1 79%,#41ffbe 79.1%,#40ffbf 80.2%,#30ffcf 80.2% 81.5%,#20ffdf 81.5% 82.8%,#10ffef 82.8% 84.2%,#00ffff 84.2% 85.6%,#00efff 85.7% 87.2%,#00dfff 87.3% 88.8%,#00cfff 88.9% 90.6%,#00bfff 90.6% 92.3%,#00afff 92.4% 94%,#009fff 94.1% 95.8%,#008fff 95.9% 97.6%,#0080ff 97.6% 99.4%,#0070ff 99.4% 100%)"></i>
<i style="background:linear-gradient(#0070ff 0 0.7%,#0080ff 0.8% 2.5%,#008fff 2.5% 4.3%,#009fff 4.3% 6%,#00afff 6.1% 7.7%,#00bfff 7.8% 9.5%,#00cfff 9.5% 11.2%,#00dfff 11.3% 12.8%,#00efff 12.9% 14.4%,#00ffff 14.4% 15.8%,#10ffef 15.9% 17.3%,#20ffdf 17.3% 18.5%,#30ffcf 18.6% 19.8%,#40ffbf 19.9%,#41ffbe 20.9%,#4effb1 21%,#53ffac 21.9%,#5cffa3 22%,#65ff9a 22.9%,#aeff51 26%,#d5ff2a 27.2%,#feff01 28.2%,#ffcc00 29.2%,#ff9400 29.9%,#ff5200 30.5%,#ff2b00 30.8%,#ff0500 31%,#f90000 31.1%,#c00000 31.3%,#af0000 31.5%,#be0000 31.6%,#fc0000 31.9%,#ff2e00 32.2%,#ff4b00 32.5%,#ff6b00 32.8%,#ff8600 33.2%,#ffb300 34.3%,#ffd400 35.6%,#ffde00 36%,#ffdf00 36.8%,#ffef00 36.8% 38.4%,#ffff00 38.4% 43.4%,#efff10 43.5% 46.2%,#ffff00 46.2% 53.8%,#efff10 53.8% 56.5%,#ffff00 56.6% 61.6%,#ffef00 61.6% 63.2%,#ffdf00 63.3%,#ffda00 64.3%,#ffd500 64.3%,#ffbe00 65.4%,#ffa700 66.1%,#ff8700 66.8%,#ff6500 67.3%,#ff3d00 67.7%,#ff0200 68.1%,#f70000 68.1%,#ba0000 68.4%,#af0000 68.5% 68.6%,#bb0000 68.7%,#fe0000 69%,#ff2700 69.2%,#ff4e00 69.5%,#ff7400 69.8%,#ff9200 70.1%,#ffce00 70.9%,#fdff02 71.8%,#d4ff2b 72.9%,#adff52 74.1%,#66ff99 77.1%,#5cffa3 78%,#54ffab 78.1%,#4effb1 79%,#42ffbd 79.1%,#40ffbf 80.1%,#30ffcf 80.2% 81.4%,#20ffdf 81.5% 82.7%,#10ffef 82.8% 84.1%,#00ffff 84.2% 85.6%,#00efff 85.6% 87.2%,#00dfff 87.2% 88.8%,#00cfff 88.8% 90.5%,#00bfff 90.5% 92.3%,#00afff 92.3% 94%,#009fff 94% 95.7%,#008fff 95.8% 97.5%,#0080ff 97.6% 99.3%,#0070ff 99.3% 100%)"></i>
<i style="background:linear-gradient(#0070ff 0 0.8%,#0080ff 0.9% 2.6%,#008fff 2.6% 4.3%,#009fff 4.4% 6.1%,#00afff 6.1% 7.8%,#00bfff 7.9% 9.6%,#00cfff 9.6% 11.3%,#00dfff 11.3% 12.9%,#00efff 12.9% 14.4%,#00ffff 14.5% 15.9%,#10ffef 15.9% 17.3%,#20ffdf 17.3% 18.6%,#30ffcf 18.6% 19.8%,#40ffbf 19.9%,#42ffbd 20.9%,#4effb1 21%,#54ffab 21.9%,#5cffa3 22%,#66ff99 22.9%,#aeff51 25.9%,#d5ff2a 27.1%,#ffff00 28.2%,#ffcc00 29.1%,#ff9300 29.9%,#ff7400 30.2%,#ff4f00 30.5%,#ff2700 30.8%,#fe0000 31%,#c40000 31.2%,#af0000 31.4%,#b00000 31.4%,#bb0000 31.5%,#f90000 31.8%,#ff0400 31.9%,#ff3900 32.2%,#ff6300 32.6%,#ff8600 33.1%,#ffa600 33.8%,#ffc000 34.6%,#ffd900 35.6%,#ffdf00 36.6%,#ffef00 36.6% 38.1%,#ffff00 38.1% 41.9%,#efff10 41.9% 58.1%,#ffff00 58.1% 61.9%,#ffef00 61.9% 63.4%,#ffdf00 63.5%,#ffdb00 64.4%,#ffb400 65.8%,#ff8800 66.9%,#ff6d00 67.3%,#ff4d00 67.6%,#ff2900 67.9%,#fe0000 68.2%,#bf0000 68.5%,#af0000 68.6%,#b10000 68.7%,#bf0000 68.8%,#f90000 69%,#ff0500 69.1%,#ff2c00 69.3%,#ff5300 69.6%,#ff7700 69.9%,#ff9500 70.2%,#ffd000 71%,#fdff02 71.9%,#d4ff2b 72.9%,#adff52 74.1%,#65ff9a 77.2%,#5cffa3 78%,#54ffab 78.1%,#4effb1 79%,#42ffbd 79.1%,#40ffbf 80.1%,#30ffcf 80.2% 81.4%,#20ffdf 81.5% 82.7%,#10ffef 82.7% 84.1%,#00ffff 84.1% 85.5%,#00efff 85.6% 87.1%,#00dfff 87.2% 88.7%,#00cfff 88.8% 90.4%,#00bfff 90.5% 92.2%,#00afff 92.2% 93.9%,#009fff 93.9% 95.6%,#008fff 95.7% 97.4%,#0080ff 97.5% 99.2%,#0070ff 99.2% 100%)"></i>
<i style="background:linear-gradient(#0070ff 0 0.9%,#0080ff 0.9% 2.6%,#008fff 2.7% 4.4%,#009fff 4.5% 6.2%,#00afff 6.2% 7.9%,#00bfff 7.9% 9.6%,#00cfff 9.7% 11.3%,#00dfff 11.4% 12.9%,#00efff 13% 14.5%,#00ffff 14.5% 15.9%,#10ffef 16% 17.3%,#20ffdf 17.4% 18.6%,#30ffcf 18.6% 19.8%,#40ffbf 19.9%,#42ffbd 20.9%,#4dffb2 21%,#54ffab 21.9%,#5bffa4 22%,#65ff9a 22.8%,#adff52 25.9%,#d5ff2a 27.1%,#ffff00 28.1%,#ffcb00 29.1%,#ff9100 29.8%,#ff5300 30.4%,#ff2c00 30.7%,#ff0500 30.9%,#f90000 30.9%,#bf0000 31.2%,#b10000 31.3%,#af0000 31.3%,#c10000 31.5%,#f60000 31.7%,#ff0100 31.8%,#ff3100 32.1%,#ff5400 32.4%,#ff6f00 32.7%,#ff8900 33.1%,#ffb600 34.1%,#ffdc00 35.6%,#ffe000 36.4%,#ffef00 36.4% 37.8%,#ffff00 37.9% 41%,#efff10 41% 59%,#ffff00 59% 62.2%,#ffef00 62.2% 63.6%,#ffe000 63.7%,#ffd800 64.6%,#ffbf00 65.6%,#ffa400 66.4%,#ff8500 67%,#ff6000 67.5%,#ff3500 67.9%,#fb0000 68.3%,#bc0000 68.6%,#b00000 68.7%,#af0000 68.7%,#c40000 68.9%,#fe0000 69.1%,#ff2800 69.3%,#ff5000 69.6%,#ff7500 69.9%,#ff9400 70.2%,#ffd000 71%,#fdff02 71.9%,#d4ff2b 73%,#aeff51 74.1%,#65ff9a 77.2%,#5bffa4 78.1%,#54ffab 78.1%,#4effb1 79%,#42ffbd 79.1%,#40ffbf 80.1%,#30ffcf 80.2% 81.4%,#20ffdf 81.4% 82.7%,#10ffef 82.7% 84%,#00ffff 84.1% 85.5%,#00efff 85.5% 87%,#00dfff 87.1% 88.6%,#00cfff 88.7% 90.3%,#00bfff 90.4% 92.1%,#00afff 92.1% 93.8%,#009fff 93.8% 95.5%,#008fff 95.6% 97.3%,#0080ff 97.4% 99.1%,#0070ff 99.1% 100%)"></i>
<i style="background:linear-gradient(#0070ff 0 1%,#0080ff 1% 2.7%,#008fff 2.8% 4.5%,#009fff 4.6% 6.3%,#00afff 6.3% 8%,#00bfff 8% 9.7%,#00cfff 9.8% 11.4%,#00dfff 11.5% 13%,#00efff 13% 14.5%,#00ffff 14.6% 16%,#10ffef 16% 17.4%,#20ffdf 17.4% 18.6%,#30ffcf 18.6% 19.9%,#40ffbf 19.9%,#42ffbd 20.9%,#4dffb2 21%,#54ffab 21.9%,#5bffa4 22%,#65ff9a 22.8%,#aeff51 25.9%,#d5ff2a 27%,#ffff00 28.1%,#ffcb00 29%,#ff9000 29.8%,#ff5000 30.3%,#ff2800 30.6%,#ff0000 30.8%,#c40000 31.1%,#af0000 31.2%,#b00000 31.3%,#bd0000 31.4%,#fd0000 31.7%,#ff3000 32%,#ff4e00 32.2%,#ff6a00 32.5%,#ff8700 32.9%,#ffb500 34%,#ffd800 35.3%,#ffe100 36.2%,#ffee00 36.2%,#ffef00 37.6%,#ffff00 37.6% 40.3%,#efff10 40.4% 59.6%,#ffff00 59.7% 62.4%,#ffef00 62.5%,#ffee00 63.8%,#ffe000 63.8%,#ffd900 64.7%,#ffc000 65.7%,#ffa400 66.5%,#ff8800 67.1%,#ff6400 67.6%,#ff3a00 68%,#ff0300 68.3%,#f80000 68.4%,#b90000 68.7%,#af0000 68.8%,#b10000 68.8%,#be0000 68.9%,#f90000 69.2%,#ff0500 69.2%,#ff2d00 69.5%,#ff5400 69.7%,#ff9200 70.3%,#ffcf00 71.1%,#fdff02 72%,#d4ff2b 73%,#adff52 74.2%,#66ff99 77.2%,#5bffa4 78.1%,#54ffab 78.1%,#4dffb2 79%,#42ffbd 79.1%,#40ffbf 80.1%,#30ffcf 80.2% 81.4%,#20ffdf 81.4% 82.6%,#10ffef 82.7% 84%,#00ffff 84.1% 85.4%,#00efff 85.5% 87%,#00dfff 87% 88.6%,#00cfff 88.6% 90.3%,#00bfff 90.3% 92%,#00afff 92.1% 93.7%,#009fff 93.8% 95.5%,#008fff 95.5% 97.2%,#0080ff 97.3% 99%,#0070ff 99% 100%)"></i>
<i style="background:linear-gradient(#0070ff 0 1.1%,#0080ff 1.1% 2.9%,#008fff 2.9% 4.6%,#009fff 4.7% 6.3%,#00afff 6.4% 8%,#00bfff 8.1% 9.8%,#00cfff 9.8% 11.5%,#00dfff 11.5% 13%,#00efff 13.1% 14.6%,#00ffff 14.6% 16%,#10ffef 16.1% 17.4%,#20ffdf 17.4% 18.6%,#30ffcf 18.7% 19.9%,#3fffc0 19.9%,#42ffbd 20.9%,#4dffb2 21%,#54ffab 21.9%,#5bffa4 21.9%,#66ff99 22.8%,#aeff51 25.8%,#d4ff2b 27%,#ffff00 28%,#ffcd00 28.9%,#ff9300 29.7%,#ff5500 30.2%,#ff2d00 30.5%,#ff0500 30.7%,#f90000 30.8%,#be0000 31%,#b10000 31.1%,#b00000 31.2%,#ba0000 31.3%,#fa0000 31.6%,#ff0500 31.6%,#ff3500 31.9%,#ff5300 32.2%,#ff6e00 32.5%,#ff8a00 32.9%,#ffb600 33.9%,#ffd900 35.2%,#ffe100 36%,#ffed00 36%,#ffef00 37.3%,#ffff00 37.4% 39.8%,#efff10 39.9% 60.2%,#ffff00 60.2% 62.7%,#ffef00 62.7%,#ffed00 64%,#ffe100 64.1%,#ffde00 64.6%,#ffce00 65.3%,#ffa300 66.6%,#ff8200 67.3%,#ff5f00 67.7%,#ff3200 68.1%,#ff0000 68.4%,#bf0000 68.7%,#b10000 68.8%,#b00000 68.9%,#b30000 68.9%,#c30000 69%,#ff0000 69.3%,#ff2900 69.5%,#ff5100 69.8%,#ff9100 70.3%,#ffcf00 71.1%,#fdff02 72%,#d3ff2c 73.1%,#adff52 74.2%,#65ff9a 77.2%,#5bffa4 78.1%,#54ffab 78.1%,#4dffb2 79%,#42ffbd 79.1%,#3fffc0 80.1%,#30ffcf 80.2% 81.4%,#20ffdf 81.4% 82.6%,#10ffef 82.6% 84%,#00ffff 84% 85.4%,#00efff 85.4% 86.9%,#00dfff 87% 88.5%,#00cfff 88.6% 90.2%,#00bfff 90.2% 91.9%,#00afff 92% 93.6%,#009fff 93.7% 95.4%,#008fff 95.4% 97.1%,#0080ff 97.2% 98.9%,#0070ff 99% 100%)"></i>
<i style="background:linear-gradient(#0070ff 0 1.2%,#0080ff 1.2% 3%,#008fff 3% 4.7%,#009fff 4.7% 6.4%,#00afff 6.5% 8.1%,#00bfff 8.2% 9.8%,#00cfff 9.9% 11.5%,#00dfff 11.6% 13.1%,#00efff 13.2% 14.6%,#00ffff 14.7% 16.1%,#10ffef 16.1% 17.4%,#20ffdf 17.5% 18.6%,#30ffcf 18.7% 19.9%,#3fffc0 19.9%,#42ffbd 20.9%,#4dffb2 21%,#54ffab 21.9%,#5bffa4 21.9%,#66ff99 22.8%,#afff50 25.8%,#d6ff29 27%,#ffff00 28%,#ffcd00 28.9%,#ff9200 29.6%,#ff5200 30.2%,#ff2900 30.4%,#ff0000 30.7%,#c30000 30.9%,#b30000 31%,#b00000 31.1%,#b10000 31.1%,#c00000 31.2%,#f60000 31.5%,#ff0200 31.5%,#ff3300 31.8%,#ff6100 32.2%,#ff8400 32.7%,#ffa400 33.3%,#ffce00 34.6%,#ffde00 35.3%,#ffe200 35.8%,#ffed00 35.8%,#ffef00 37.1%,#ffff00 37.1% 39.4%,#efff10 39.4% 60.6%,#ffff00 60.7% 62.9%,#ffef00 63%,#ffed00 64.1% 64.2%,#ffe200 64.2%,#ffe100 64.5%,#ffc100 65.9%,#ffac00 66.5%,#ff9100 67.1%,#ff7400 67.6%,#ff5400 67.9%,#ff3000 68.2%,#fc0000 68.5%,#bb0000 68.8%,#b00000 68.9%,#b10000 69%,#be0000 69.1%,#f90000 69.3%,#ff0600 69.4%,#ff2e00 69.6%,#ff5600 69.9%,#ff9400 70.4%,#ffce00 71.2%,#feff01 72.1%,#d3ff2c 73.1%,#adff52 74.3%,#66ff99 77.2%,#5bffa4 78.1%,#54ffab 78.1%,#4dffb2 79%,#42ffbd 79.1%,#3fffc0 80.1%,#30ffcf 80.2% 81.3%,#20ffdf 81.4% 82.6%,#10ffef 82.6% 83.9%,#00ffff 84% 85.3%,#00efff 85.4% 86.9%,#00dfff 86.9% 88.4%,#00cfff 88.5% 90.1%,#00bfff 90.2% 91.9%,#00afff 91.9% 93.5%,#009fff 93.6% 95.3%,#008fff 95.3% 97%,#0080ff 97.1% 98.8%,#0070ff 98.9% 100%)"></i>
<i style="background:linear-gradient(#0070ff 0 1.2%,#0080ff 1.3% 3%,#008fff 3.1% 4.8%,#009fff 4.8% 6.5%,#00afff 6.6% 8.2%,#00bfff 8.2% 9.9%,#00cfff 10% 11.6%,#00dfff 11.6% 13.2%,#00efff 13.2% 14.7%,#00ffff 14.7% 16.1%,#10ffef 16.1% 17.4%,#20ffdf 17.5% 18.7%,#30ffcf 18.7% 19.9%,#3fffc0 19.9%,#42ffbd 20.9%,#4dffb2 21%,#54ffab 21.9%,#5bffa4 21.9%,#66ff99 22.8%,#adff52 25.7%,#d4ff2b 26.9%,#ffff00 27.9%,#ffcc00 28.8%,#ff9100 29.6%,#ff4f00 30.1%,#ff2f00 30.3%,#ff0600 30.5%,#fa0000 30.6%,#be0000 30.9%,#b10000 31%,#b00000 31%,#bc0000 31.1%,#fd0000 31.4%,#ff3800 31.8%,#ff6000 32.1%,#ff8400 32.6%,#ffa200 33.1%,#ffce00 34.4%,#ffde00 35.1%,#ffe300 35.6%,#ffec00 35.7%,#ffef00 36.9%,#ffff00 36.9% 39%,#efff10 39% 61%,#ffff00 61% 63.1%,#ffef00 63.2%,#ffee00 64.2%,#ffec00 64.4%,#ffe300 64.4%,#ffe200 64.6%,#ffdc00 65%,#ffc200 66%,#ffac00 66.6%,#ff9100 67.2%,#ff7700 67.6%,#ff5800 68%,#ff3500 68.3%,#ff0300 68.6%,#f80000 68.6%,#c10000 68.9%,#b20000 69%,#b00000 69%,#b30000 69.1%,#c30000 69.2%,#ff0100 69.5%,#ff2a00 69.7%,#ff5300 69.9%,#ff9300 70.5%,#ffce00 71.2%,#feff01 72.1%,#d5ff2a 73.1%,#aeff51 74.3%,#66ff99 77.2%,#5bffa4 78.1%,#55ffaa 78.1%,#4dffb2 79%,#43ffbc 79.1%,#3fffc0 80.1%,#30ffcf 80.2% 81.3%,#20ffdf 81.4% 82.5%,#10ffef 82.6% 83.9%,#00ffff 83.9% 85.3%,#00efff 85.3% 86.8%,#00dfff 86.9% 88.4%,#00cfff 88.4% 90.1%,#00bfff 90.1% 91.8%,#00afff 91.8% 93.5%,#009fff 93.5% 95.2%,#008fff 95.3% 96.9%,#0080ff 97% 98.7%,#0070ff 98.8% 100%)"></i>
<i style="background:linear-gradient(#0070ff 0 1.3%,#0080ff 1.4% 3.1%,#008fff 3.2% 4.9%,#009fff 4.9% 6.6%,#00afff 6.6% 8.3%,#00bfff 8.4% 10%,#00cfff 10% 11.7%,#00dfff 11.7% 13.2%,#00efff 13.3% 14.7%,#00ffff 14.8% 16.1%,#10ffef 16.2% 17.5%,#20ffdf 17.5% 18.7%,#30ffcf 18.7%,#31ffce 19.9%,#3fffc0 19.9%,#43ffbc 20.9%,#4dffb2 21%,#54ffab 21.9%,#5bffa4 21.9%,#66ff99 22.8%,#aeff51 25.7%,#d6ff29 26.9%,#ffff00 27.9%,#ffcc00 28.8%,#ff8f00 29.5%,#ff6f00 29.8%,#ff4d00 30.1%,#ff2b00 30.3%,#ff0100 30.5%,#c30000 30.8%,#b30000 30.9%,#b00000 30.9%,#b20000 31%,#c10000 31.1%,#f90000 31.3%,#ff0500 31.4%,#ff2f00 31.6%,#ff5500 31.9%,#ff7500 32.3%,#ff9000 32.7%,#ffbf00 33.8%,#ffe100 35.2%,#ffe300 35.4%,#ffeb00 35.5%,#ffee00 35.7%,#ffef00 36.6%,#ffff00 36.7% 38.6%,#efff10 38.6% 61.4%,#ffff00 61.5% 63.3%,#ffef00 63.4%,#ffeb00 64.5%,#ffe300 64.6%,#ffde00 65.1%,#ffc600 66%,#ffa100 67%,#ff8200 67.6%,#ff5c00 68%,#ff3300 68.4%,#ff0000 68.7%,#bd0000 69%,#b10000 69.1% 69.1%,#be0000 69.2%,#fb0000 69.5%,#ff0700 69.6%,#ff3000 69.8%,#ff5800 70%,#ff9600 70.6%,#ffd100 71.3%,#feff01 72.2%,#d8ff27 73.1%,#b7ff48 74%,#79ff86 76.4%,#65ff9a 77.3%,#5bffa4 78.1%,#54ffab 78.2%,#4dffb2 79%,#43ffbc 79.1%,#3fffc0 80.1%,#30ffcf 80.2% 81.3%,#20ffdf 81.3% 82.5%,#10ffef 82.6% 83.8%,#00ffff 83.9% 85.2%,#00efff 85.3% 86.8%,#00dfff 86.8% 88.3%,#00cfff 88.4% 90%,#00bfff 90% 91.7%,#00afff 91.8% 93.4%,#009fff 93.4% 95.1%,#008fff 95.2% 96.8%,#0080ff 96.9% 98.6%,#0070ff 98.7% 100%)"></i>
<i style="background:linear-gradient(#0070ff 0 1.4%,#0080ff 1.5% 3.2%,#008fff 3.3% 4.9%,#009fff 5% 6.7%,#00afff 6.7% 8.4%,#00bfff 8.4% 10.1%,#00cfff 10.1% 11.7%,#00dfff 11.8% 13.3%,#00efff 13.3% 14.8%,#00ffff 14.8% 16.2%,#10ffef 16.2% 17.5%,#20ffdf 17.6% 18.7%,#30ffcf 18.7%,#31ffce 19.9%,#3fffc0 19.9%,#43ffbc 20.9%,#4dffb2 21%,#55ffaa 21.9%,#5bffa4 21.9%,#79ff86 23.6%,#b6ff49 25.9%,#fffd00 27.9%,#ffc800 28.8%,#ff8e00 29.5%,#ff5100 30%,#fb0000 30.4%,#be0000 30.7%,#b10000 30.8% 30.9%,#bd0000 31%,#ff0100 31.3%,#ff3400 31.6%,#ff5e00 31.9%,#ff8300 32.4%,#ffa000 32.9%,#ffc600 33.9%,#ffde00 34.8%,#ffe400 35.3%,#ffeb00 35.3%,#ffef00 36.4%,#ffff00 36.5% 38.2%,#efff10 38.3% 61.7%,#ffff00 61.8% 63.5%,#ffef00 63.6%,#ffeb00 64.7%,#ffe400 64.7%,#ffde00 65.2%,#ffc700 66.1%,#ffa200 67.1%,#ff8500 67.6%,#ff6000 68.1%,#ff3800 68.4%,#ff0600 68.7%,#fb0000 68.8%,#c20000 69%,#b30000 69.1%,#b00000 69.2%,#ba0000 69.3%,#ff0200 69.6%,#ff2c00 69.8%,#ff4e00 70%,#ff7000 70.3%,#ff9000 70.6%,#ffcd00 71.3%,#feff01 72.3%,#d8ff27 73.1%,#b6ff49 74.1%,#79ff86 76.4%,#5bffa4 78.1%,#54ffab 78.2%,#4cffb3 79.1%,#43ffbc 79.1%,#3fffc0 80.1%,#31ffce 80.1%,#30ffcf 81.3%,#20ffdf 81.3% 82.5%,#10ffef 82.5% 83.8%,#00ffff 83.9% 85.2%,#00efff 85.2% 86.7%,#00dfff 86.8% 88.3%,#00cfff 88.3% 89.9%,#00bfff 90% 91.6%,#00afff 91.6% 93.3%,#009fff 93.4% 95%,#008fff 95.1% 96.8%,#0080ff 96.8% 98.6%,#0070ff 98.6% 100%)"></i>
<i style="background:linear-gradient(#0070ff 0 1.5%,#0080ff 1.6% 3.3%,#008fff 3.3% 5%,#009fff 5.1% 6.7%,#00afff 6.8% 8.4%,#00bfff 8.5% 10.1%,#00cfff 10.2% 11.8%,#00dfff 11.8% 13.3%,#00efff 13.4% 14.8%,#00ffff 14.9% 16.2%,#10ffef 16.2% 17.5%,#20ffdf 17.6% 18.7%,#30ffcf 18.8%,#31ffce 19.9%,#3fffc0 19.9%,#43ffbc 20.9%,#4cffb3 21%,#54ffab 21.8%,#5affa5 21.9%,#79ff86 23.6%,#b7ff48 25.9%,#d9ff26 26.9%,#ffff00 27.7%,#ffcb00 28.7%,#ff9200 29.4%,#ff7100 29.7%,#ff4f00 29.9%,#ff2d00 30.1%,#ff0300 30.3%,#ba0000 30.7%,#b10000 30.8%,#b90000 30.9%,#fc0000 31.2%,#ff3200 31.5%,#ff5200 31.7%,#ff6f00 32%,#ff8d00 32.4%,#ffbc00 33.5%,#ffe100 34.8%,#ffee00 35.4%,#ffef00 36.2%,#ffff00 36.3% 37.9%,#efff10 38% 62%,#ffff00 62.1% 63.7%,#ffef00 63.8%,#ffea00 64.9%,#ffe400 64.9%,#ffc700 66.2%,#ffa200 67.2%,#ff8400 67.7%,#ff5f00 68.2%,#ff3600 68.5%,#ff0200 68.8%,#f60000 68.9%,#be0000 69.1%,#b10000 69.2% 69.3%,#bf0000 69.4%,#fc0000 69.7%,#ff0900 69.7%,#ff3200 69.9%,#ff5300 70.1%,#ff9400 70.7%,#ffd000 71.4%,#feff01 72.3%,#daff25 73.1%,#b8ff47 74.1%,#79ff86 76.4%,#5bffa4 78.1%,#55ffaa 78.2%,#4cffb3 79.1%,#43ffbc 79.1%,#3fffc0 80.1%,#31ffce 80.1%,#30ffcf 81.3%,#20ffdf 81.3% 82.4%,#10ffef 82.5% 83.8%,#00ffff 83.8% 85.2%,#00efff 85.2% 86.7%,#00dfff 86.7% 88.2%,#00cfff 88.2% 89.9%,#00bfff 89.9% 91.5%,#00afff 91.6% 93.2%,#009fff 93.3% 95%,#008fff 95% 96.7%,#0080ff 96.7% 98.5%,#0070ff 98.5% 100%)"></i>
<i style="background:linear-gradient(#0070ff 0 1.6%,#0080ff 1.6% 3.4%,#008fff 3.4% 5.1%,#009fff 5.1% 6.8%,#00afff 6.9% 8.5%,#00bfff 8.6% 10.2%,#00cfff 10.2% 11.8%,#00dfff 11.9% 13.4%,#00efff 13.4% 14.9%,#00ffff 14.9% 16.2%,#10ffef 16.3% 17.6%,#20ffdf 17.6% 18.7%,#2fffd0 18.8%,#31ffce 19.9%,#3effc1 19.9%,#43ffbc 20.9%,#4cffb3 21%,#55ffaa 21.8%,#5affa5 21.9%,#79ff86 23.6%,#b8ff47 25.9%,#dbff24 26.9%,#ffff00 27.7%,#ffce00 28.6%,#ff9500 29.3%,#ff5400 29.8%,#ff3300 30%,#ff0a00 30.2%,#fd0000 30.3%,#bf0000 30.5%,#b10000 30.7% 30.7%,#be0000 30.8%,#f80000 31.1%,#ff0300 31.1%,#ff3700 31.4%,#ff6100 31.8%,#ff8200 32.2%,#ffa100 32.7%,#ffbf00 33.4%,#ffd900 34.3%,#ffec00 35.2%,#ffef00 36%,#ffff00 36% 37.6%,#efff10 37.7% 42.3%,#dfff20 42.4% 46.2%,#efff10 46.2% 53.8%,#dfff20 53.9% 57.7%,#efff10 57.7% 62.3%,#ffff00 62.4% 64%,#ffef00 64%,#ffed00 64.8%,#ffc600 66.4%,#ff9700 67.5%,#ff7900 68%,#ff5900 68.3%,#ff3300 68.6%,#fd0000 68.9%,#ba0000 69.2%,#b10000 69.3%,#ba0000 69.5%,#ff0400 69.8%,#ff2e00 70%,#ff5000 70.2%,#ff7200 70.4%,#ff9300 70.7%,#ffcf00 71.5%,#feff01 72.4%,#daff25 73.2%,#b7ff48 74.1%,#7aff85 76.4%,#5bffa4 78.1%,#55ffaa 78.2%,#4cffb3 79.1%,#43ffbc 79.1%,#3effc1 80.1%,#31ffce 80.1%,#2fffd0 81.2%,#20ffdf 81.3% 82.4%,#10ffef 82.5% 83.7%,#00ffff 83.8% 85.1%,#00efff 85.2% 86.6%,#00dfff 86.7% 88.1%,#00cfff 88.2% 89.8%,#00bfff 89.8% 91.5%,#00afff 91.5% 93.1%,#009fff 93.2% 94.9%,#008fff 94.9% 96.6%,#0080ff 96.6% 98.4%,#0070ff 98.4% 100%)"></i>
<i style="background:linear-gradient(#0070ff 0 1.7%,#0080ff 1.7% 3.5%,#008fff 3.5% 5.2%,#009fff 5.2% 6.9%,#00afff 7% 8.6%,#00bfff 8.6% 10.2%,#00cfff 10.3% 11.9%,#00dfff 11.9% 13.4%,#00efff 13.5% 14.9%,#00ffff 15% 16.3%,#10ffef 16.3% 17.6%,#20ffdf 17.6% 18.7%,#2fffd0 18.8%,#31ffce 19.9%,#3effc1 19.9%,#43ffbc 20.9%,#4cffb3 21%,#55ffaa 21.8%,#5affa5 21.9%,#7aff85 23.6%,#b6ff49 25.8%,#fffd00 27.7%,#ffca00 28.6%,#ff8f00 29.3%,#ff5100 29.8%,#ff2f00 30%,#ff0500 30.2%,#f80000 30.2%,#bb0000 30.5%,#b10000 30.6%,#ba0000 30.7%,#fe0000 31%,#ff0900 31.1%,#ff3500 31.3%,#ff5f00 31.7%,#ff8200 32.1%,#ffa100 32.6%,#ffbf00 33.3%,#ffda00 34.2%,#ffed00 35.1%,#ffef00 35.8%,#ffff00 35.9% 37.4%,#efff10 37.4% 41.1%,#dfff20 41.1% 49.2%,#efff10 49.3% 50.7%,#dfff20 50.8% 58.9%,#efff10 59% 62.6%,#ffff00 62.6% 64.2%,#ffef00 64.2%,#ffec00 65%,#ffd800 65.9%,#ffbe00 66.8%,#ff9f00 67.5%,#ff8000 68%,#ff5d00 68.4%,#ff3800 68.7%,#ff0400 69%,#f80000 69%,#bf0000 69.3%,#b20000 69.4% 69.5%,#bf0000 69.6%,#fe0000 69.8%,#ff2b00 70%,#ff4d00 70.2%,#ff7000 70.5%,#ff9200 70.8%,#ffcf00 71.5%,#feff01 72.4%,#daff25 73.2%,#b7ff48 74.2%,#79ff86 76.5%,#5affa5 78.2%,#55ffaa 78.2%,#4cffb3 79.1%,#43ffbc 79.1%,#3effc1 80.1%,#31ffce 80.1%,#2fffd0 81.2%,#20ffdf 81.3% 82.4%,#10ffef 82.4% 83.7%,#00ffff 83.8% 85.1%,#00efff 85.1% 86.6%,#00dfff 86.6% 88.1%,#00cfff 88.1% 89.7%,#00bfff 89.8% 91.4%,#00afff 91.4% 93.1%,#009fff 93.1% 94.8%,#008fff 94.9% 96.5%,#0080ff 96.6% 98.3%,#0070ff 98.4% 100%)"></i>
<i style="background:linear-gradient(#0070ff 0 1.8%,#0080ff 1.8% 3.5%,#008fff 3.6% 5.3%,#009fff 5.3% 7%,#00afff 7% 8.7%,#00bfff 8.7% 10.3%,#00cfff 10.4% 11.9%,#00dfff 12% 13.5%,#00efff 13.5% 14.9%,#00ffff 15% 16.3%,#10ffef 16.3% 17.6%,#20ffdf 17.7%,#21ffde 18.8%,#2fffd0 18.8%,#32ffcd 19.9%,#3effc1 19.9%,#44ffbb 20.9%,#4cffb3 21%,#55ffaa 21.8%,#5affa5 21.9%,#79ff86 23.5%,#b7ff48 25.8%,#daff25 26.8%,#ffff00 27.6%,#ffc900 28.5%,#ff8e00 29.2%,#ff4f00 29.7%,#ff2c00 29.9%,#ff0000 30.1%,#c00000 30.4%,#b20000 30.5% 30.5%,#bf0000 30.7%,#f90000 30.9%,#ff0500 31%,#ff3200 31.2%,#ff5300 31.5%,#ff7500 31.8%,#ff9200 32.2%,#ffad00 32.7%,#ffc300 33.3%,#ffe500 34.6%,#ffef00 35.1% 35.6%,#ffff00 35.7% 37.1%,#efff10 37.2% 40.3%,#dfff20 40.3% 59.7%,#efff10 59.7% 62.8%,#ffff00 62.9% 64.3%,#ffef00 64.4%,#ffed00 65.1%,#ffd900 66%,#ffbf00 66.9%,#ff9f00 67.6%,#ff7f00 68.1%,#ff5b00 68.5%,#ff3600 68.8%,#ff0000 69.1%,#ba0000 69.4%,#b10000 69.5%,#bb0000 69.6%,#f90000 69.9%,#ff0600 69.9%,#ff3100 70.1%,#ff5300 70.3%,#ff7500 70.6%,#ff9600 70.9%,#ffcf00 71.6%,#feff01 72.5%,#d9ff26 73.3%,#b6ff49 74.2%,#7aff85 76.5%,#5affa5 78.2%,#55ffaa 78.2%,#4cffb3 79.1%,#43ffbc 79.1%,#3effc1 80.1%,#32ffcd 80.1%,#2fffd0 81.2%,#20ffdf 81.3% 82.4%,#10ffef 82.4% 83.7%,#00ffff 83.7% 85%,#00efff 85.1% 86.5%,#00dfff 86.6% 88%,#00cfff 88.1% 89.7%,#00bfff 89.7% 91.3%,#00afff 91.4% 93%,#009fff 93% 94.7%,#008fff 94.8% 96.4%,#0080ff 96.5% 98.2%,#0070ff 98.3% 100%)"></i>
<i style="background:linear-gradient(#0060ff 0 0.1%,#0070ff 0.1% 1.8%,#0080ff 1.9% 3.6%,#008fff 3.7% 5.3%,#009fff 5.4% 7.1%,#00afff 7.1% 8.7%,#00bfff 8.8% 10.4%,#00cfff 10.4% 12%,#00dfff 12.1% 13.5%,#00efff 13.6% 15%,#00ffff 15% 16.3%,#10ffef 16.4% 17.6%,#20ffdf 17.7%,#21ffde 18.8%,#2fffd0 18.8%,#32ffcd 19.9%,#3effc1 19.9%,#43ffbc 20.9%,#4cffb3 20.9%,#55ffaa 21.8%,#5affa5 21.8%,#7aff85 23.5%,#b5ff4a 25.7%,#fffd00 27.6%,#ffc900 28.5%,#ff9200 29.1%,#ff5400 29.6%,#ff3200 29.8%,#ff0800 30%,#fa0000 30.1%,#bc0000 30.3%,#b10000 30.4%,#ba0000 30.5%,#ff0000 30.9%,#ff2f00 31.1%,#ff5d00 31.5%,#ff8100 31.9%,#ffa100 32.4%,#ffba00 32.9%,#ffd000 33.6%,#ffec00 34.8%,#fff000 35.5%,#fffe00 35.5%,#ffff00 35.6% 36.9%,#efff10 36.9% 39.7%,#dfff20 39.8% 60.3%,#efff10 60.3% 63.1%,#ffff00 63.1% 64.5%,#fffe00 64.5%,#fff000 64.6%,#ffec00 65.3%,#ffce00 66.5%,#ff9f00 67.7%,#ff8200 68.1%,#ff5f00 68.5%,#ff3a00 68.8%,#ff0600 69.1%,#fa0000 69.2%,#bf0000 69.5%,#b20000 69.6% 69.6%,#c10000 69.7%,#ff0200 70%,#ff2d00 70.2%,#ff5000 70.4%,#ff7300 70.6%,#ff9400 70.9%,#ffce00 71.6%,#feff01 72.5%,#d9ff26 73.3%,#b8ff47 74.2%,#7aff85 76.5%,#5affa5 78.2%,#55ffaa 78.2%,#4cffb3 79.1%,#43ffbc 79.1%,#3effc1 80.1%,#32ffcd 80.1%,#2fffd0 81.2%,#21ffde 81.2%,#20ffdf 82.3%,#10ffef 82.4% 83.6%,#00ffff 83.7% 85%,#00efff 85% 86.5%,#00dfff 86.5% 88%,#00cfff 88% 89.6%,#00bfff 89.7% 91.2%,#00afff 91.3% 92.9%,#009fff 93% 94.6%,#008fff 94.7% 96.4%,#0080ff 96.4% 98.1%,#0070ff 98.2% 99.9%,#0060ff 100%)"></i>
<i style="background:linear-gradient(#0060ff 0 0.1%,#0070ff 0.2% 1.9%,#0080ff 2% 3.7%,#008fff 3.8% 5.4%,#009fff 5.5% 7.1%,#00afff 7.2% 8.8%,#00bfff 8.9% 10.4%,#00cfff 10.5% 12.1%,#00dfff 12.1% 13.6%,#00efff 13.6% 15%,#00ffff 15.1% 16.4%,#10ffef 16.4% 17.6%,#20ffdf 17.7%,#21ffde 18.8%,#2fffd0 18.8%,#32ffcd 19.9%,#3dffc2 19.9%,#43ffbc 20.9%,#4cffb3 20.9%,#55ffaa 21.8%,#5affa5 21.8%,#7aff85 23.5%,#b8ff47 25.8%,#daff25 26.7%,#ffff00 27.5%,#ffcc00 28.4%,#ff9100 29.1%,#ff5200 29.6%,#ff2f00 29.8%,#ff0300 30%,#c20000 30.2%,#b30000 30.3%,#b20000 30.4%,#bf0000 30.5%,#fb0000 30.8%,#ff0600 30.8%,#ff3400 31.1%,#ff5b00 31.4%,#ff7c00 31.7%,#ff9b00 32.2%,#ffb600 32.7%,#ffcc00 33.4%,#fff000 34.9%,#fff100 35.3%,#fffd00 35.3%,#ffff00 35.5% 36.7%,#efff10 36.7% 39.2%,#dfff20 39.3% 60.8%,#efff10 60.8% 63.3%,#ffff00 63.4%,#fffe00 64.6% 64.7%,#fff100 64.7%,#ffed00 65.4%,#ffd000 66.5%,#ffa200 67.7%,#ff8500 68.2%,#ff6300 68.6%,#ff3800 68.9%,#ff0100 69.2%,#f50000 69.3%,#ba0000 69.6%,#b20000 69.7%,#bc0000 69.8%,#fc0000 70%,#ff0900 70.1%,#ff3400 70.3%,#ff5500 70.5%,#ff9300 71%,#ffce00 71.7%,#feff01 72.6%,#d9ff26 73.4%,#b7ff48 74.3%,#7aff85 76.5%,#5affa5 78.2%,#55ffaa 78.2%,#4cffb3 79.1%,#44ffbb 79.1%,#3dffc2 80.1%,#32ffcd 80.1%,#2fffd0 81.2%,#21ffde 81.2%,#20ffdf 82.3%,#10ffef 82.4% 83.6%,#00ffff 83.7% 84.9%,#00efff 85% 86.4%,#00dfff 86.5% 87.9%,#00cfff 88% 89.5%,#00bfff 89.6% 91.2%,#00afff 91.2% 92.8%,#009fff 92.9% 94.6%,#008fff 94.6% 96.3%,#0080ff 96.3% 98.1%,#0070ff 98.1% 99.8%,#0060ff 99.9% 100%)"></i>
<i style="background:linear-gradient(#0060ff 0 0.2%,#0070ff 0.3% 2%,#0080ff 2% 3.8%,#008fff 3.8% 5.5%,#009fff 5.5% 7.2%,#00afff 7.2% 8.9%,#00bfff 8.9% 10.5%,#00cfff 10.5% 12.1%,#00dfff 12.2% 13.6%,#00efff 13.7% 15.1%,#00ffff 15.1% 16.4%,#10ffef 16.4% 17.7%,#20ffdf 17.7%,#21ffde 18.8%,#2fffd0 18.9%,#33ffcc 19.9%,#3dffc2 20%,#44ffbb 20.9%,#4cffb3 20.9%,#55ffaa 21.8%,#7aff85 23.5%,#b8ff47 25.7%,#daff25 26.6%,#ffff00 27.4%,#ffcc00 28.3%,#ff9500 29%,#ff5700 29.5%,#ff3500 29.7%,#ff0b00 29.9%,#fd0000 29.9%,#bd0000 30.2%,#b20000 30.3%,#ba0000 30.4%,#f50000 30.7%,#ff0200 30.7%,#ff3100 31%,#ff5900 31.3%,#ff7700 31.6%,#ff9400 32%,#ffc400 33%,#ffe800 34.3%,#fff200 35.1%,#fffd00 35.2%,#ffff00 35.4% 36.4%,#efff10 36.5% 38.7%,#dfff20 38.8% 61.2%,#efff10 61.3% 63.5%,#ffff00 63.6%,#fffe00 64.7%,#fffd00 64.9%,#fff200 64.9%,#ffec00 65.5%,#ffd200 66.6%,#ffbc00 67.3%,#ffa200 67.8%,#ff8500 68.3%,#ff6100 68.7%,#ff3c00 69%,#fb0000 69.3%,#bf0000 69.6%,#b20000 69.7%,#b90000 69.8%,#f70000 70.1%,#ff0400 70.1%,#ff3000 70.3%,#ff5300 70.5%,#ff9200 71%,#ffcd00 71.7%,#feff01 72.6%,#d9ff26 73.4%,#b7ff48 74.3%,#7aff85 76.5%,#5affa5 78.2%,#55ffaa 78.3%,#4cffb3 79.1%,#44ffbb 79.1%,#3dffc2 80.1%,#33ffcc 80.1%,#2fffd0 81.2%,#21ffde 81.2%,#20ffdf 82.3%,#10ffef 82.4% 83.6%,#00ffff 83.6% 84.9%,#00efff 85% 86.4%,#00dfff 86.4% 87.9%,#00cfff 87.9% 89.5%,#00bfff 89.5% 91.1%,#00afff 91.2% 92.8%,#009fff 92.8% 94.5%,#008fff 94.5% 96.2%,#0080ff 96.2% 98%,#0070ff 98% 99.7%,#0060ff 99.8% 100%)"></i>
<i style="background:linear-gradient(#0060ff 0 0.3%,#0070ff 0.4% 2.1%,#0080ff 2.1% 3.9%,#008fff 3.9% 5.6%,#009fff 5.7% 7.3%,#00afff 7.3% 8.9%,#00bfff 9% 10.6%,#00cfff 10.6% 12.2%,#00dfff 12.2% 13.6%,#00efff 13.7% 15.1%,#00ffff 15.2% 16.4%,#10ffef 16.5% 17.7%,#20ffdf 17.7%,#21ffde 18.8%,#2fffd0 18.9%,#33ffcc 19.9%,#3dffc2 20%,#44ffbb 20.9%,#4cffb3 20.9%,#56ffa9 21.8%,#7aff85 23.5%,#b7ff48 25.7%,#d9ff26 26.6%,#ffff00 27.4%,#ffcb00 28.3%,#ff9400 28.9%,#ff5500 29.4%,#ff3200 29.6%,#ff0600 29.8%,#f80000 29.9%,#ba0000 30.1%,#b20000 30.2%,#bf0000 30.3%,#fb0000 30.6%,#ff3500 30.9%,#ff5d00 31.2%,#ff8200 31.6%,#ffa300 32.1%,#ffbd00 32.7%,#ffd400 33.4%,#ffec00 34.4%,#fff200 35%,#fffc00 35%,#fffe00 35.2%,#ffff00 36.2%,#efff10 36.3% 38.4%,#dfff20 38.4% 50.4%,#dfff20 61.6%,#efff10 61.7% 63.7%,#ffff00 63.8% 64.7%,#fffc00 65%,#fff200 65.1%,#fff000 65.4%,#ffcd00 66.9%,#ffb500 67.5%,#ff9c00 68%,#ff8000 68.4%,#ff6000 68.8%,#ff3100 69.1%,#ff0200 69.4%,#f50000 69.5%,#ba0000 69.7%,#b20000 69.8%,#be0000 69.9%,#ff0000 70.2%,#ff2d00 70.4%,#ff5100 70.6%,#ff9100 71.1%,#ffcd00 71.8%,#fdff02 72.7%,#d8ff27 73.5%,#b7ff48 74.4%,#7aff85 76.6%,#55ffaa 78.3%,#4bffb4 79.1%,#44ffbb 79.2%,#3dffc2 80.1%,#33ffcc 80.1%,#2effd1 81.2%,#21ffde 81.2%,#20ffdf 82.3%,#10ffef 82.3% 83.6%,#00ffff 83.6% 84.9%,#00efff 84.9% 86.3%,#00dfff 86.4% 87.8%,#00cfff 87.9% 89.4%,#00bfff 89.5% 91%,#00afff 91.1% 92.7%,#009fff 92.8% 94.4%,#008fff 94.5% 96.1%,#0080ff 96.2% 97.9%,#0070ff 97.9% 99.7%,#0060ff 99.7% 100%)"></i>
<i style="background:linear-gradient(#0060ff 0 0.4%,#0070ff 0.4% 2.2%,#0080ff 2.2% 3.9%,#008fff 4% 5.7%,#009fff 5.7% 7.3%,#00afff 7.4% 9%,#00bfff 9.1% 10.6%,#00cfff 10.7% 12.2%,#00dfff 12.3% 13.7%,#00efff 13.7% 15.1%,#00ffff 15.2% 16.4%,#10ffef 16.5% 17.7%,#20ffdf 17.8%,#21ffde 18.8%,#2effd1 18.9%,#33ffcc 19.9%,#3dffc2 20%,#44ffbb 20.9%,#4bffb4 20.9%,#55ffaa 21.7%,#7aff85 23.4%,#b7ff48 25.6%,#d9ff26 26.5%,#ffff00 27.3%,#ffcb00 28.2%,#ff9300 28.9%,#ff5200 29.4%,#ff2f00 29.6%,#ff0200 29.8%,#bf0000 30%,#b20000 30.1%,#ba0000 30.2%,#f60000 30.5%,#ff0200 30.5%,#ff3200 30.8%,#ff5b00 31.1%,#ff7900 31.4%,#ff9700 31.8%,#ffc700 32.8%,#ffec00 34.2%,#fff300 34.8%,#fffc00 34.9%,#ffff00 35.2% 36%,#efff10 36% 38%,#dfff20 38.1% 62%,#efff10 62% 64%,#ffff00 64%,#fffe00 64.9%,#fffc00 65.2%,#fff300 65.2%,#ffed00 65.8%,#ffd300 66.8%,#ffbc00 67.5%,#ffa100 68%,#ff8300 68.5%,#ff5e00 68.9%,#ff3600 69.2%,#fc0000 69.5%,#bf0000 69.8%,#b20000 69.9%,#ba0000 70%,#fa0000 70.2%,#ff0800 70.3%,#ff3400 70.5%,#ff5600 70.7%,#ff9500 71.2%,#ffd000 71.9%,#fdff02 72.7%,#daff25 73.5%,#b8ff47 74.4%,#7aff85 76.6%,#56ffa9 78.3%,#4bffb4 79.1%,#44ffbb 79.2%,#3dffc2 80.1%,#33ffcc 80.1%,#2effd1 81.1%,#21ffde 81.2%,#20ffdf 82.3%,#10ffef 82.3% 83.5%,#00ffff 83.6% 84.8%,#00efff 84.9% 86.3%,#00dfff 86.3% 87.8%,#00cfff 87.8% 89.4%,#00bfff 89.4% 91%,#00afff 91% 92.6%,#009fff 92.7% 94.3%,#008fff 94.3% 96%,#0080ff 96.1% 97.8%,#0070ff 97.9% 99.6%,#0060ff 99.6% 100%)"></i>
<i style="background:linear-gradient(#0060ff 0 0.5%,#0070ff 0.5% 2.2%,#0080ff 2.3% 4%,#008fff 4.1% 5.8%,#009fff 5.8% 7.4%,#00afff 7.5% 9.1%,#00bfff 9.1% 10.7%,#00cfff 10.7% 12.3%,#00dfff 12.3% 13.7%,#00efff 13.8% 15.2%,#00ffff 15.2% 16.5%,#10ffef 16.5% 17.7%,#20ffdf 17.8%,#21ffde 18.8%,#2effd1 18.9%,#33ffcc 19.9%,#3dffc2 20%,#44ffbb 20.9%,#4bffb4 20.9%,#56ffa9 21.7%,#7aff85 23.4%,#b8ff47 25.6%,#dbff24 26.5%,#ffff00 27.3%,#ffce00 28.1%,#ff9700 28.8%,#ff5800 29.3%,#ff3600 29.5%,#ff0a00 29.7%,#fc0000 29.7%,#bb0000 30%,#b30000 30.1%,#be0000 30.2%,#fc0000 30.4%,#ff3700 30.8%,#ff5e00 31.1%,#ff8000 31.4%,#ff9f00 31.9%,#ffbb00 32.4%,#ffd500 33.1%,#ffed00 34.1%,#fff300 34.6%,#fffb00 34.7%,#ffff00 35.1% 35.8%,#efff10 35.8% 37.7%,#dfff20 37.8% 62.3%,#efff10 62.3% 64.2%,#ffff00 64.2%,#fffe00 65%,#fffb00 65.3%,#fff300 65.4%,#ffed00 65.9%,#ffd500 66.9%,#ffbe00 67.5%,#ffa400 68.1%,#ff8600 68.5%,#ff6100 68.9%,#ff3300 69.3%,#ff0200 69.6%,#f60000 69.6%,#ba0000 69.9%,#b30000 70%,#c00000 70.1%,#ff0400 70.3%,#ff3100 70.5%,#ff5400 70.7%,#ff9400 71.2%,#ffd000 71.9%,#fdff02 72.8%,#daff25 73.5%,#b7ff48 74.4%,#7aff85 76.6%,#56ffa9 78.3%,#4bffb4 79.1%,#44ffbb 79.2%,#3cffc3 80.1%,#33ffcc 80.1%,#2effd1 81.1%,#21ffde 81.2%,#20ffdf 82.2%,#10ffef 82.3% 83.5%,#00ffff 83.6% 84.8%,#00efff 84.9% 86.2%,#00dfff 86.3% 87.7%,#00cfff 87.8% 89.3%,#00bfff 89.4% 90.9%,#00afff 91% 92.6%,#009fff 92.6% 94.2%,#008fff 94.3% 96%,#0080ff 96% 97.7%,#0070ff 97.8% 99.5%,#0060ff 99.6% 100%)"></i>
<i style="background:linear-gradient(#0060ff 0 0.5%,#0070ff 0.6% 2.3%,#0080ff 2.4% 4.1%,#008fff 4.1% 5.8%,#009fff 5.9% 7.5%,#00afff 7.5% 9.1%,#00bfff 9.2% 10.7%,#00cfff 10.8% 12.3%,#00dfff 12.4% 13.8%,#00efff 13.8% 15.2%,#00ffff 15.3% 16.5%,#10ffef 16.5% 17.7%,#20ffdf 17.8%,#22ffdd 18.9%,#2effd1 18.9%,#33ffcc 19.9%,#3cffc3 20%,#45ffba 20.9%,#4bffb4 20.9%,#56ffa9 21.7%,#7aff85 23.4%,#b8ff47 25.6%,#dbff24 26.5%,#ffff00 27.2%,#ffca00 28.1%,#ff9000 28.8%,#ff7300 29%,#ff4e00 29.3%,#ff2800 29.5%,#ff0600 29.6%,#f70000 29.7%,#c20000 29.9%,#b30000 30%,#b90000 30.1%,#f60000 30.3%,#ff0200 30.4%,#ff3300 30.7%,#ff5c00 31%,#ff7f00 31.3%,#ff9f00 31.8%,#ffbb00 32.3%,#ffd200 32.9%,#ffe800 33.8%,#fff300 34.4%,#fffa00 34.5%,#fffe00 34.8%,#ffff00 35.6%,#efff10 35.6% 37.4%,#dfff20 37.5% 62.6%,#efff10 62.6% 64.4%,#ffff00 64.4%,#fffe00 65.2%,#ffd600 67%,#ffbe00 67.6%,#ffa300 68.2%,#ff8500 68.6%,#ff5f00 69%,#ff3700 69.3%,#fc0000 69.7%,#be0000 69.9%,#b30000 70%,#bd0000 70.1%,#fe0000 70.4%,#ff2d00 70.6%,#ff5200 70.8%,#ff9300 71.3%,#ffd000 72%,#fdff02 72.8%,#daff25 73.6%,#b7ff48 74.5%,#7aff85 76.6%,#55ffaa 78.3%,#4bffb4 79.1%,#44ffbb 79.2%,#3cffc3 80.1%,#33ffcc 80.1%,#2effd1 81.1%,#22ffdd 81.2%,#20ffdf 82.2%,#10ffef 82.3% 83.5%,#00ffff 83.5% 84.8%,#00efff 84.8% 86.2%,#00dfff 86.2% 87.7%,#00cfff 87.7% 89.3%,#00bfff 89.3% 90.8%,#00afff 90.9% 92.5%,#009fff 92.5% 94.1%,#008fff 94.2% 95.9%,#0080ff 95.9% 97.7%,#0070ff 97.7% 99.4%,#0060ff 99.5% 100%)"></i>
<i style="background:linear-gradient(#0060ff 0 0.6%,#0070ff 0.7% 2.4%,#0080ff 2.4% 4.2%,#008fff 4.2% 5.9%,#009fff 6% 7.5%,#00afff 7.6% 9.2%,#00bfff 9.3% 10.8%,#00cfff 10.8% 12.4%,#00dfff 12.4% 13.8%,#00efff 13.9% 15.2%,#00ffff 15.3% 16.5%,#10ffef 16.6% 17.8%,#20ffdf 17.8%,#22ffdd 18.9%,#2effd1 18.9%,#33ffcc 19.9%,#3cffc3 20%,#44ffbb 20.8%,#4bffb4 20.9%,#56ffa9 21.7%,#7aff85 23.4%,#b8ff47 25.5%,#dbff24 26.4%,#ffff00 27.2%,#ffca00 28.1%,#ff8f00 28.7%,#ff7100 29%,#ff4b00 29.2%,#ff2500 29.4%,#ff0100 29.6%,#be0000 29.8%,#b30000 29.9%,#bd0000 30%,#fb0000 30.3%,#ff3700 30.6%,#ff5a00 30.9%,#ff7e00 31.2%,#ff9e00 31.7%,#ffbb00 32.2%,#ffd200 32.8%,#ffe800 33.7%,#fff400 34.3%,#fffa00 34.4%,#fffe00 34.7%,#ffff00 35.4%,#efff10 35.5% 37.1%,#dfff20 37.2% 62.8%,#efff10 62.9% 64.6%,#ffff00 64.6%,#fffe00 65.3%,#fffa00 65.6%,#fff400 65.7%,#ffd800 67%,#ffc000 67.7%,#ffa600 68.2%,#ff8800 68.7%,#ff6300 69.1%,#ff3300 69.5%,#ff0200 69.7%,#f50000 69.8%,#b90000 70%,#b40000 70.1%,#c30000 70.2%,#fa0000 70.4%,#ff0800 70.5%,#ff3500 70.7%,#ff5800 70.9%,#ff9700 71.4%,#ffd300 72.1%,#fdff02 72.9%,#d9ff26 73.6%,#b7ff48 74.5%,#7aff85 76.7%,#56ffa9 78.3%,#4bffb4 79.1%,#45ffba 79.2%,#3cffc3 80.1%,#33ffcc 80.1%,#2effd1 81.1%,#22ffdd 81.2%,#20ffdf 82.2%,#10ffef 82.3% 83.5%,#00ffff 83.5% 84.7%,#00efff 84.8% 86.2%,#00dfff 86.2% 87.6%,#00cfff 87.7% 89.2%,#00bfff 89.2% 90.8%,#00afff 90.8% 92.4%,#009fff 92.5% 94.1%,#008fff 94.1% 95.8%,#0080ff 95.9% 97.6%,#0070ff 97.6% 99.4%,#0060ff 99.4% 100%)"></i>
<i style="background:linear-gradient(#0060ff 0 0.7%,#0070ff 0.7% 2.5%,#0080ff 2.5% 4.2%,#008fff 4.3% 6%,#009fff 6% 7.6%,#00afff 7.7% 9.3%,#00bfff 9.3% 10.8%,#00cfff 10.9% 12.4%,#00dfff 12.5% 13.9%,#00efff 14% 15.3%,#00ffff 15.3% 16.5%,#10ffef 16.6% 17.8%,#20ffdf 17.8%,#22ffdd 18.9%,#2effd1 18.9%,#33ffcc 19.9%,#3cffc3 20%,#45ffba 20.8%,#4bffb4 20.9%,#56ffa9 21.7%,#7bff84 23.4%,#b9ff46 25.5%,#daff25 26.4%,#ffff00 27.1%,#ffcd00 28%,#ff9400 28.6%,#ff7600 28.9%,#ff5200 29.1%,#ff2c00 29.3%,#ff0a00 29.5%,#fc0000 29.5%,#ba0000 29.8%,#b40000 29.9%,#c20000 30%,#f50000 30.2%,#ff0200 30.2%,#ff3400 30.5%,#ff5e00 30.8%,#ff8000 31.2%,#ffa100 31.6%,#ffbb00 32.1%,#ffd200 32.7%,#fffc00 34.4%,#ffff00 35.2%,#efff10 35.3% 36.9%,#dfff20 36.9% 41.1%,#cfff30 41.2% 46%,#dfff20 46.1% 53.9%,#cfff30 54% 58.8%,#dfff20 58.9% 63.1%,#efff10 63.1% 64.7%,#ffff00 64.8% 65.4%,#fff900 65.8%,#fff500 65.8%,#ffd800 67.1%,#ffc000 67.8%,#ffa500 68.3%,#ff8700 68.8%,#ff6000 69.2%,#ff3800 69.5%,#fb0000 69.8%,#bd0000 70.1%,#b30000 70.2%,#bf0000 70.3%,#ff0300 70.5%,#ff3200 70.7%,#ff5600 70.9%,#ff9600 71.4%,#ffd300 72.1%,#fdff02 72.9%,#d9ff26 73.7%,#b8ff47 74.5%,#7aff85 76.7%,#56ffa9 78.3%,#4bffb4 79.1%,#45ffba 79.2%,#3cffc3 80.1%,#33ffcc 80.1%,#2effd1 81.1%,#22ffdd 81.2%,#20ffdf 82.2%,#10ffef 82.2% 83.4%,#00ffff 83.5% 84.7%,#00efff 84.8% 86.1%,#00dfff 86.2% 87.6%,#00cfff 87.6% 89.1%,#00bfff 89.2% 90.7%,#00afff 90.8% 92.4%,#009fff 92.4% 94%,#008fff 94.1% 95.7%,#0080ff 95.8% 97.5%,#0070ff 97.6% 99.3%,#0060ff 99.3% 100%)"></i>
<i style="background:linear-gradient(#0060ff 0 0.8%,#0070ff 0.8% 2.5%,#0080ff 2.6% 4.3%,#008fff 4.4% 6%,#009fff 6.1% 7.7%,#00afff 7.7% 9.3%,#00bfff 9.4% 10.9%,#00cfff 10.9% 12.5%,#00dfff 12.5% 13.9%,#00efff 14% 15.3%,#00ffff 15.4% 16.6%,#10ffef 16.6% 17.8%,#1fffe0 17.8%,#22ffdd 18.9%,#2effd1 18.9%,#34ffcb 19.9%,#3cffc3 20%,#45ffba 20.8%,#4affb5 20.9%,#56ffa9 21.7%,#7aff85 23.3%,#b8ff47 25.5%,#daff25 26.3%,#feff01 27.1%,#ffcd00 27.9%,#ff9300 28.6%,#ff7500 28.8%,#ff4f00 29.1%,#ff2900 29.3%,#ff0600 29.4%,#f70000 29.5%,#c10000 29.7%,#b30000 29.8%,#bc0000 29.9%,#fb0000 30.1%,#ff0800 30.2%,#ff3800 30.4%,#ff6100 30.8%,#ff8300 31.1%,#ffa300 31.6%,#ffbf00 32.1%,#ffd600 32.7%,#fffe00 34.4%,#ffff00 35.1%,#efff10 35.1% 36.6%,#dfff20 36.7% 40.2%,#cfff30 40.2% 48.3%,#dfff20 48.4% 51.7%,#cfff30 51.7% 59.8%,#dfff20 59.8% 63.3%,#efff10 63.4% 64.9%,#ffff00 65% 65.5%,#fff900 65.9%,#ffd800 67.2%,#ffc000 67.9%,#ffa500 68.4%,#ff8500 68.9%,#ff6400 69.2%,#ff3400 69.6%,#ff0200 69.9%,#f50000 69.9%,#c10000 70.1%,#b40000 70.2%,#bc0000 70.3%,#fe0000 70.6%,#ff2f00 70.8%,#ff5400 71%,#ff7800 71.2%,#ff9600 71.5%,#ffd200 72.2%,#fdff02 73%,#d9ff26 73.7%,#b8ff47 74.6%,#7aff85 76.7%,#56ffa9 78.4%,#4bffb4 79.1%,#45ffba 79.2%,#3cffc3 80.1%,#33ffcc 80.1%,#2effd1 81.1%,#22ffdd 81.1%,#1fffe0 82.2%,#10ffef 82.2% 83.4%,#00ffff 83.5% 84.7%,#00efff 84.7% 86%,#00dfff 86.1% 87.5%,#00cfff 87.6% 89.1%,#00bfff 89.1% 90.6%,#00afff 90.7% 92.3%,#009fff 92.3% 93.9%,#008fff 94% 95.7%,#0080ff 95.7% 97.4%,#0070ff 97.5% 99.2%,#0060ff 99.3% 100%)"></i>
<i style="background:linear-gradient(#0060ff 0 0.8%,#0070ff 0.9% 2.6%,#0080ff 2.7% 4.4%,#008fff 4.4% 6.1%,#009fff 6.2% 7.7%,#00afff 7.8% 9.4%,#00bfff 9.4% 10.9%,#00cfff 11% 12.5%,#00dfff 12.6% 14%,#00efff 14% 15.3%,#00ffff 15.4% 16.6%,#10ffef 16.6%,#11ffee 17.8%,#1fffe0 17.9%,#22ffdd 18.9%,#2dffd2 18.9%,#34ffcb 19.9%,#3cffc3 20%,#45ffba 20.8%,#4affb5 20.9%,#57ffa8 21.7%,#7bff84 23.3%,#b8ff47 25.4%,#daff25 26.3%,#feff01 27%,#ffcd00 27.9%,#ff9200 28.5%,#ff7300 28.8%,#ff4d00 29%,#ff2600 29.2%,#ff0200 29.4%,#bd0000 29.6%,#b40000 29.7%,#c00000 29.8%,#f40000 30%,#ff0100 30.1%,#ff3400 30.3%,#ff5f00 30.7%,#ff8200 31%,#ff9f00 31.4%,#ffbb00 31.9%,#ffd100 32.5%,#fffb00 34.1%,#ffff00 34.9%,#efff10 34.9% 36.4%,#dfff20 36.4% 39.5%,#cfff30 39.6% 60.4%,#dfff20 60.5% 63.6%,#efff10 63.6% 65.1%,#ffff00 65.1% 65.6%,#ffd900 67.3%,#ffc000 68%,#ffa400 68.5%,#ff8400 69%,#ff6200 69.3%,#ff3800 69.7%,#ff0700 69.9%,#fa0000 70%,#bc0000 70.2%,#b40000 70.3%,#c30000 70.4%,#fa0000 70.6%,#ff0800 70.7%,#ff2c00 70.8%,#ff5200 71%,#ff7700 71.3%,#ff9500 71.5%,#ffd200 72.3%,#fdff02 73%,#d9ff26 73.8%,#b7ff48 74.6%,#7aff85 76.7%,#56ffa9 78.4%,#4affb5 79.2%,#45ffba 79.2%,#3cffc3 80.1%,#33ffcc 80.1%,#2effd1 81.1%,#22ffdd 81.1%,#1fffe0 82.2%,#10ffef 82.2% 83.4%,#00ffff 83.4% 84.6%,#00efff 84.7% 86%,#00dfff 86% 87.5%,#00cfff 87.5% 89%,#00bfff 89.1% 90.6%,#00afff 90.6% 92.2%,#009fff 92.3% 93.9%,#008fff 93.9% 95.6%,#0080ff 95.6% 97.4%,#0070ff 97.4% 99.1%,#0060ff 99.2% 100%)"></i>
<i style="background:linear-gradient(#0060ff 0 0.9%,#0070ff 1% 2.7%,#0080ff 2.7% 4.4%,#008fff 4.5% 6.2%,#009fff 6.2% 7.8%,#00afff 7.9% 9.4%,#00bfff 9.5% 11%,#00cfff 11% 12.5%,#00dfff 12.6% 14%,#00efff 14.1% 15.4%,#00ffff 15.4% 16.6%,#10ffef 16.7%,#11ffee 17.8%,#1fffe0 17.9%,#22ffdd 18.9%,#2dffd2 18.9%,#34ffcb 19.9%,#3cffc3 20%,#45ffba 20.8%,#4affb5 20.9%,#56ffa9 21.6%,#7cff83 23.3%,#b9ff46 25.4%,#dcff23 26.3%,#feff01 27%,#ffd000 27.7%,#ff9600 28.4%,#ff7900 28.7%,#ff5400 28.9%,#ff2e00 29.1%,#ff0b00 29.3%,#fc0000 29.3%,#c40000 29.5%,#b40000 29.6%,#bb0000 29.7%,#fa0000 30%,#ff0700 30%,#ff3800 30.3%,#ff6200 30.6%,#ff8500 31%,#ffa200 31.4%,#ffbd00 31.9%,#ffd500 32.5%,#fffd00 34.1%,#feff01 34.7%,#f0ff0f 34.8%,#efff10 34.8% 36.2%,#dfff20 36.2% 39%,#cfff30 39% 61%,#dfff20 61% 63.8%,#efff10 63.8%,#f0ff0f 65.2%,#feff01 65.3%,#ffff00 65.8%,#ffd900 67.4%,#ffc200 68%,#ffa600 68.6%,#ff8700 69%,#ff6500 69.4%,#ff3400 69.8%,#ff0100 70%,#f30000 70.1%,#c00000 70.3%,#b40000 70.4%,#bf0000 70.5%,#ff0400 70.7%,#ff2900 70.9%,#ff4f00 71.1%,#ff7500 71.3%,#ff9400 71.6%,#ffd200 72.3%,#fdff02 73.1%,#d8ff27 73.8%,#b7ff48 74.7%,#7aff85 76.8%,#56ffa9 78.4%,#4affb5 79.2%,#45ffba 79.2%,#3cffc3 80.1%,#34ffcb 80.1%,#2dffd2 81.1%,#22ffdd 81.1%,#1fffe0 82.2%,#11ffee 82.2%,#10ffef 83.4%,#00ffff 83.4% 84.6%,#00efff 84.7% 86%,#00dfff 86% 87.4%,#00cfff 87.5% 89%,#00bfff 89% 90.5%,#00afff 90.6% 92.2%,#009fff 92.2% 93.8%,#008fff 93.8% 95.5%,#0080ff 95.6% 97.3%,#0070ff 97.3% 99.1%,#0060ff 99.1% 100%)"></i>
<i style="background:linear-gradient(#0060ff 0 1%,#0070ff 1% 2.8%,#0080ff 2.9% 4.5%,#008fff 4.6% 6.2%,#009fff 6.3% 7.9%,#00afff 7.9% 9.5%,#00bfff 9.6% 11%,#00cfff 11.1% 12.6%,#00dfff 12.6% 14.1%,#00efff 14.1% 15.4%,#00ffff 15.4% 16.6%,#10ffef 16.7%,#11ffee 17.8%,#1fffe0 17.9%,#22ffdd 18.9%,#2dffd2 18.9%,#34ffcb 19.9%,#3cffc3 20%,#46ffb9 20.8%,#4affb5 20.9%,#7bff84 23.3%,#b9ff46 25.4%,#dbff24 26.2%,#feff01 26.9%,#ffd000 27.7%,#ff9600 28.4%,#ff7700 28.6%,#ff5200 28.9%,#ff2b00 29.1%,#ff0700 29.2%,#f80000 29.3%,#c10000 29.5%,#b40000 29.6%,#bf0000 29.7%,#ff0000 29.9%,#ff3400 30.2%,#ff5f00 30.5%,#ff8300 30.9%,#ffa100 31.3%,#ffbd00 31.8%,#ffd500 32.4%,#fffc00 33.9%,#fdff02 34.6%,#f0ff0f 34.6% 34.7%,#efff10 35.9%,#dfff20 36% 38.5%,#cfff30 38.5% 61.5%,#dfff20 61.5% 64.1%,#efff10 64.1%,#f0ff0f 65.4%,#fdff02 65.4%,#ffff00 65.9%,#ffd700 67.6%,#ffc000 68.2%,#ffa300 68.7%,#ff8500 69.1%,#ff6200 69.5%,#ff3800 69.8%,#ff0600 70.1%,#f90000 70.1%,#c40000 70.3%,#b40000 70.4%,#bb0000 70.5%,#ff0000 70.8%,#ff2500 70.9%,#ff4d00 71.1%,#ff7400 71.4%,#ff9300 71.6%,#ffd200 72.4%,#fdff02 73.1%,#daff25 73.8%,#b8ff47 74.7%,#7bff84 76.8%,#4affb5 79.2%,#45ffba 79.2%,#3bffc4 80.1%,#34ffcb 80.1%,#2dffd2 81.1%,#22ffdd 81.1%,#1fffe0 82.1%,#11ffee 82.2%,#10ffef 83.3%,#00ffff 83.4% 84.6%,#00efff 84.6% 85.9%,#00dfff 86% 87.4%,#00cfff 87.4% 88.9%,#00bfff 89% 90.5%,#00afff 90.5% 92.1%,#009fff 92.2% 93.7%,#008fff 93.8% 95.5%,#0080ff 95.5% 97.2%,#0070ff 97.3% 99%,#0060ff 99% 100%)"></i>
<i style="background:linear-gradient(#0060ff 0 1.1%,#0070ff 1.1% 2.9%,#0080ff 2.9% 4.6%,#008fff 4.6% 6.3%,#009fff 6.4% 7.9%,#00afff 8% 9.6%,#00bfff 9.6% 11.1%,#00cfff 11.2% 12.6%,#00dfff 12.7% 14.1%,#00efff 14.1% 15.4%,#00ffff 15.5% 16.7%,#10ffef 16.8%,#11ffee 17.8%,#1fffe0 17.9%,#22ffdd 18.9%,#2dffd2 18.9%,#34ffcb 19.9%,#3cffc3 20%,#45ffba 20.8%,#7cff83 23.3%,#b9ff46 25.3%,#dbff24 26.2%,#feff01 26.9%,#ffd000 27.6%,#ff9500 28.3%,#ff7600 28.6%,#ff5000 28.8%,#ff2800 29%,#ff0300 29.2%,#bd0000 29.4%,#b40000 29.5%,#c30000 29.6%,#f80000 29.8%,#ff0500 29.9%,#ff3800 30.1%,#ff5d00 30.4%,#ff8200 30.8%,#ffa000 31.2%,#ffbc00 31.7%,#ffd300 32.2%,#fffb00 33.7%,#fdff02 34.4%,#f1ff0e 34.5%,#f0ff0f 34.6%,#efff10 35.7%,#dfff20 35.8% 38.1%,#cfff30 38.1% 61.9%,#dfff20 61.9% 64.3%,#efff10 64.3%,#f0ff0f 65.5%,#f1ff0e 65.5%,#fdff02 65.6%,#ffff00 66.1%,#ffd800 67.7%,#ffc000 68.3%,#ffa200 68.8%,#ff8400 69.2%,#ff6000 69.6%,#ff3400 69.9%,#fe0000 70.2%,#bd0000 70.4%,#b40000 70.5%,#c30000 70.6%,#fb0000 70.8%,#ff0a00 70.9%,#ff2e00 71%,#ff5400 71.2%,#ff7900 71.5%,#ff9700 71.7%,#ffd100 72.4%,#fdff02 73.2%,#daff25 73.9%,#b8ff47 74.7%,#7bff84 76.8%,#45ffba 79.2%,#3bffc4 80.1%,#34ffcb 80.1%,#2dffd2 81.1%,#23ffdc 81.1%,#1fffe0 82.1%,#11ffee 82.2%,#10ffef 83.3%,#00ffff 83.4% 84.6%,#00efff 84.6% 85.9%,#00dfff 85.9% 87.3%,#00cfff 87.4% 88.8%,#00bfff 88.9% 90.4%,#00afff 90.5% 92%,#009fff 92.1% 93.7%,#008fff 93.7% 95.4%,#0080ff 95.4% 97.1%,#0070ff 97.2% 98.9%,#0060ff 99% 100%)"></i>
<i style="background:linear-gradient(#0060ff 0 1.1%,#0070ff 1.2% 2.9%,#0080ff 3% 4.7%,#008fff 4.7% 6.4%,#009fff 6.4% 8%,#00afff 8% 9.6%,#00bfff 9.7% 11.2%,#00cfff 11.2% 12.7%,#00dfff 12.7% 14.1%,#00efff 14.2% 15.4%,#00ffff 15.5% 16.7%,#10ffef 16.8%,#11ffee 17.9%,#1fffe0 17.9%,#23ffdc 18.9%,#2dffd2 19%,#34ffcb 19.9%,#3bffc4 20%,#45ffba 20.8%,#7bff84 23.2%,#b8ff47 25.3%,#dbff24 26.1%,#feff01 26.8%,#ffcf00 27.6%,#ff9400 28.3%,#ff7500 28.5%,#ff4e00 28.8%,#ff3000 28.9%,#fe0000 29.1%,#c50000 29.3%,#b50000 29.4%,#bc0000 29.5%,#fd0000 29.8%,#ff3400 30%,#ff5a00 30.3%,#ff8000 30.7%,#ff9f00 31.1%,#ffbc00 31.6%,#ffd300 32.1%,#fffb00 33.6%,#fcff03 34.3%,#f2ff0d 34.3%,#f0ff0f 34.5%,#efff10 35.5%,#dfff20 35.6% 37.7%,#cfff30 37.8% 62.2%,#dfff20 62.3% 64.5%,#efff10 64.5%,#f1ff0e 65.6% 65.7%,#fcff03 65.7%,#ffff00 66.2%,#ffd900 67.7%,#ffc200 68.3%,#ffa400 68.9%,#ff8600 69.3%,#ff6300 69.7%,#ff3800 70%,#ff0400 70.2%,#f70000 70.3%,#c20000 70.5%,#b40000 70.6%,#bf0000 70.7%,#f70000 70.9%,#ff0600 70.9%,#ff2b00 71.1%,#ff5200 71.3%,#ff7800 71.5%,#ff9700 71.8%,#ffd100 72.5%,#fdff02 73.2%,#daff25 73.9%,#b7ff48 74.8%,#7bff84 76.8%,#46ffb9 79.2%,#3bffc4 80.1%,#34ffcb 80.1%,#2dffd2 81.1%,#23ffdc 81.1%,#1fffe0 82.1%,#11ffee 82.2%,#10ffef 83.3%,#00ffff 83.4% 84.5%,#00efff 84.6% 85.8%,#00dfff 85.9% 87.3%,#00cfff 87.4% 88.8%,#00bfff 88.8% 90.4%,#00afff 90.4% 92%,#009fff 92% 93.6%,#008fff 93.7% 95.3%,#0080ff 95.4% 97%,#0070ff 97.1% 98.8%,#0060ff 98.9% 100%)"></i>
<i style="background:linear-gradient(#0060ff 0 1.2%,#0070ff 1.3% 3%,#0080ff 3.1% 4.7%,#008fff 4.8% 6.4%,#009fff 6.5% 8.1%,#00afff 8.1% 9.7%,#00bfff 9.7% 11.2%,#00cfff 11.3% 12.7%,#00dfff 12.8% 14.2%,#00efff 14.2% 15.5%,#00ffff 15.5% 16.7%,#10ffef 16.8%,#11ffee 17.9%,#1fffe0 17.9%,#23ffdc 18.9%,#2dffd2 19%,#34ffcb 19.9%,#3bffc4 20%,#46ffb9 20.8%,#7bff84 23.2%,#b8ff47 25.2%,#fffd00 26.8%,#ffcb00 27.6%,#ff9300 28.2%,#ff5400 28.7%,#ff2d00 28.9%,#ff0900 29%,#fa0000 29.1%,#c10000 29.3%,#b50000 29.4%,#c00000 29.5%,#ff0300 29.7%,#ff3800 30%,#ff6300 30.3%,#ff8700 30.7%,#ffa500 31.1%,#ffc000 31.6%,#ffd900 32.2%,#ffff00 33.7%,#fcff03 34.1%,#f2ff0d 34.2%,#f1ff0e 34.3%,#efff10 35.3%,#dfff20 35.4% 37.4%,#cfff30 37.5% 62.6%,#dfff20 62.6% 64.6%,#efff10 64.7%,#f1ff0e 65.7%,#f2ff0d 65.8%,#fcff03 65.9%,#ffff00 66.3%,#ffd800 67.9%,#ffbf00 68.5%,#ffa300 69%,#ff8500 69.4%,#ff6000 69.8%,#ff3300 70.1%,#fc0000 70.3%,#c60000 70.5%,#b50000 70.6%,#bc0000 70.7%,#ff0200 71%,#ff2800 71.1%,#ff5000 71.3%,#ff7700 71.6%,#ff9600 71.8%,#ffd100 72.5%,#fcff03 73.3%,#d9ff26 74%,#b7ff48 74.8%,#7bff84 76.8%,#46ffb9 79.2%,#3bffc4 80.1%,#34ffcb 80.1%,#2dffd2 81.1%,#23ffdc 81.1%,#1fffe0 82.1%,#11ffee 82.2%,#10ffef 83.2%,#00ffff 83.3% 84.5%,#00efff 84.6% 85.8%,#00dfff 85.9% 87.3%,#00cfff 87.3% 88.7%,#00bfff 88.8% 90.3%,#00afff 90.4% 91.9%,#009fff 92% 93.5%,#008fff 93.6% 95.3%,#0080ff 95.3% 97%,#0070ff 97% 98.8%,#0060ff 98.8% 100%)"></i>
<i style="background:linear-gradient(#0060ff 0 1.3%,#0070ff 1.3% 3.1%,#0080ff 3.1% 4.8%,#008fff 4.8% 6.5%,#009fff 6.6% 8.1%,#00afff 8.2% 9.7%,#00bfff 9.8% 11.3%,#00cfff 11.3% 12.8%,#00dfff 12.8% 14.2%,#00efff 14.2% 15.5%,#00ffff 15.5% 16.8%,#10ffef 16.8%,#11ffee 17.9%,#1effe1 17.9%,#23ffdc 18.9%,#2dffd2 19%,#35ffca 19.9%,#3bffc4 20%,#46ffb9 20.8%,#7bff84 23.2%,#b7ff48 25.2%,#fffd00 26.8%,#ffcb00 27.5%,#ff9200 28.2%,#ff5300 28.6%,#ff2b00 28.8%,#ff0500 29%,#f60000 29%,#be0000 29.2%,#b50000 29.3%,#c40000 29.4%,#fb0000 29.6%,#ff0800 29.7%,#ff3c00 29.9%,#ff6000 30.2%,#ff8500 30.5%,#ffa400 31%,#ffc000 31.5%,#ffd900 32.1%,#ffff00 33.6%,#fbff04 34%,#f3ff0c 34%,#f1ff0e 34.2%,#efff10 35.1%,#dfff20 35.2% 37.1%,#cfff30 37.2% 62.9%,#dfff20 62.9% 64.8%,#efff10 64.9%,#f1ff0e 65.8%,#f2ff0d 66%,#fbff04 66%,#ffff00 66.4%,#ffda00 67.9%,#ffc100 68.5%,#ffa500 69%,#ff8700 69.5%,#ff6300 69.8%,#ff3700 70.1%,#ff0200 70.4%,#f40000 70.4%,#bf0000 70.6%,#b50000 70.7%,#c30000 70.8%,#fd0000 71%,#ff0c00 71.1%,#ff3000 71.2%,#ff5700 71.4%,#ff9500 71.9%,#ffcd00 72.5%,#ffff00 73.3%,#dbff24 74%,#b8ff47 74.8%,#7cff83 76.8%,#45ffba 79.3%,#3bffc4 80.1%,#34ffcb 80.1%,#2dffd2 81.1%,#23ffdc 81.1%,#1effe1 82.1%,#11ffee 82.1%,#10ffef 83.2%,#00ffff 83.3% 84.5%,#00efff 84.5% 85.8%,#00dfff 85.8% 87.2%,#00cfff 87.3% 88.7%,#00bfff 88.7% 90.2%,#00afff 90.3% 91.9%,#009fff 91.9% 93.5%,#008fff 93.5% 95.2%,#0080ff 95.2% 96.9%,#0070ff 96.9% 98.7%,#0060ff 98.8% 100%)"></i>
<i style="background:linear-gradient(#0060ff 0 1.3%,#0070ff 1.4% 3.1%,#0080ff 3.2% 4.9%,#008fff 4.9% 6.6%,#009fff 6.6% 8.2%,#00afff 8.2% 9.8%,#00bfff 9.8% 11.3%,#00cfff 11.4% 12.8%,#00dfff 12.8% 14.2%,#00efff 14.3% 15.5%,#00ffff 15.6% 16.8%,#10ffef 16.8%,#11ffee 17.9%,#1effe1 17.9%,#23ffdc 18.9%,#2dffd2 19%,#35ffca 19.9%,#3bffc4 20%,#46ffb9 20.8%,#7cff83 23.2%,#b9ff46 25.2%,#fffe00 26.7%,#ffcb00 27.5%,#ff9100 28.1%,#ff5900 28.5%,#ff3300 28.7%,#ff0100 28.9%,#f20000 29%,#c60000 29.1%,#b50000 29.2%,#bd0000 29.3%,#ff0100 29.6%,#ff3700 29.8%,#ff5d00 30.1%,#ff8300 30.4%,#ffa300 30.9%,#ffbf00 31.4%,#ffd900 32%,#feff01 33.5%,#fbff04 33.8%,#f3ff0c 33.9%,#f1ff0e 34.1%,#efff10 35%,#dfff20 35% 36.8%,#cfff30 36.9% 63.1%,#dfff20 63.2% 65%,#efff10 65.1%,#f1ff0e 66%,#f3ff0c 66.1%,#fbff04 66.2%,#ffff00 66.6%,#ffd800 68.1%,#ffc100 68.6%,#ffa400 69.1%,#ff8600 69.6%,#ff6000 69.9%,#ff3b00 70.2%,#ff0700 70.4%,#f90000 70.5%,#c30000 70.7%,#b50000 70.8%,#c00000 70.9%,#f90000 71.1%,#ff0800 71.1%,#ff2e00 71.3%,#ff5500 71.5%,#ff9400 71.9%,#ffcd00 72.6%,#ffff00 73.3%,#dbff24 74%,#baff45 74.8%,#7bff84 76.9%,#46ffb9 79.3%,#3bffc4 80.1%,#34ffcb 80.1%,#2dffd2 81.1%,#23ffdc 81.1%,#1effe1 82.1%,#11ffee 82.1%,#10ffef 83.2%,#00ffff 83.3% 84.5%,#00efff 84.5% 85.8%,#00dfff 85.8% 87.2%,#00cfff 87.2% 88.6%,#00bfff 88.7% 90.2%,#00afff 90.2% 91.8%,#009fff 91.8% 93.4%,#008fff 93.5% 95.1%,#0080ff 95.2% 96.8%,#0070ff 96.9% 98.6%,#0060ff 98.7% 100%)"></i>
<i style="background:linear-gradient(#0060ff 0 1.4%,#0070ff 1.5% 3.2%,#0080ff 3.3% 4.9%,#008fff 5% 6.6%,#009fff 6.7% 8.2%,#00afff 8.3% 9.8%,#00bfff 9.9% 11.4%,#00cfff 11.4% 12.8%,#00dfff 12.9% 14.3%,#00efff 14.3% 15.5%,#00ffff 15.6% 16.8%,#10ffef 16.8%,#11ffee 17.9%,#1effe1 17.9%,#23ffdc 18.9%,#2dffd2 19%,#34ffcb 19.9%,#3bffc4 19.9%,#46ffb9 20.8%,#7bff84 23.1%,#b8ff47 25.1%,#fffe00 26.7%,#ffcb00 27.4%,#ff9100 28.1%,#ff7000 28.3%,#ff4f00 28.5%,#ff3100 28.7%,#fd0000 28.9%,#c20000 29.1%,#b50000 29.2%,#c10000 29.3%,#f80000 29.5%,#ff0600 29.5%,#ff3b00 29.8%,#ff6000 30%,#ff8600 30.4%,#ffa500 30.8%,#ffc100 31.3%,#ffd900 31.9%,#ffff00 33.3%,#faff05 33.7%,#f3ff0c 33.8%,#f1ff0e 34%,#efff10 34.8%,#dfff20 34.8% 36.6%,#cfff30 36.6% 63.4%,#dfff20 63.5% 65.2%,#efff10 65.2%,#f1ff0e 66.1%,#f4ff0b 66.3%,#faff05 66.3%,#ffff00 66.8%,#ffd800 68.2%,#ffc000 68.7%,#ffa300 69.2%,#ff8400 69.7%,#ff5d00 70%,#ff3600 70.3%,#fe0000 70.5%,#c70000 70.7%,#b60000 70.8%,#bd0000 70.9%,#f50000 71.1%,#ff0500 71.2%,#ff2b00 71.3%,#ff5300 71.5%,#ff9300 72%,#ffcd00 72.6%,#ffff00 73.4%,#dbff24 74.1%,#b9ff46 74.9%,#7cff83 76.9%,#46ffb9 79.3%,#3bffc4 80.1%,#35ffca 80.1%,#2cffd3 81.1%,#23ffdc 81.1%,#1effe1 82.1%,#12ffed 82.1%,#10ffef 83.2%,#00ffff 83.2% 84.4%,#00efff 84.5% 85.7%,#00dfff 85.8% 87.1%,#00cfff 87.2% 88.6%,#00bfff 88.7% 90.1%,#00afff 90.2% 91.7%,#009fff 91.8% 93.4%,#008fff 93.4% 95.1%,#0080ff 95.1% 96.8%,#0070ff 96.8% 98.6%,#0060ff 98.6% 100%)"></i>
<i style="background:linear-gradient(#0060ff 0 1.5%,#0070ff 1.5% 3.3%,#0080ff 3.3% 5%,#008fff 5% 6.7%,#009fff 6.7% 8.3%,#00afff 8.4% 9.9%,#00bfff 9.9% 11.4%,#00cfff 11.5% 12.9%,#00dfff 12.9% 14.3%,#00efff 14.3% 15.6%,#00ffff 15.6% 16.8%,#10ffef 16.9%,#12ffed 17.9%,#1effe1 18%,#23ffdc 18.9%,#2cffd3 19%,#34ffcb 19.9%,#3bffc4 19.9%,#46ffb9 20.7%,#7cff83 23.1%,#b8ff47 25.1%,#fffe00 26.6%,#ffca00 27.4%,#ff9000 28%,#ff5600 28.4%,#ff2e00 28.6%,#ff0800 28.8%,#f90000 28.8%,#bf0000 29%,#b60000 29.1%,#c50000 29.2%,#fd0000 29.4%,#ff0b00 29.5%,#ff3e00 29.7%,#ff6300 30%,#ff8800 30.3%,#ffa700 30.8%,#ffc300 31.3%,#ffda00 31.8%,#feff01 33.2%,#f1ff0e 33.9%,#efff10 34.6%,#dfff20 34.7% 36.3%,#cfff30 36.4% 41.5%,#bfff40 41.5% 43.7%,#cfff30 43.7% 56.3%,#bfff40 56.4% 58.5%,#cfff30 58.6% 63.6%,#dfff20 63.7% 65.3%,#efff10 65.4%,#f1ff0e 66.2%,#ffff00 66.9%,#ffd800 68.3%,#ffc000 68.8%,#ffa200 69.3%,#ff8100 69.8%,#ff6000 70.1%,#ff3a00 70.3%,#ff0400 70.6%,#f60000 70.6%,#c00000 70.8%,#b60000 70.9%,#c50000 71%,#ff0100 71.2%,#ff2800 71.4%,#ff5200 71.6%,#ff7200 71.8%,#ff9300 72%,#ffcc00 72.7%,#ffff00 73.4%,#daff25 74.1%,#b9ff46 74.9%,#7bff84 76.9%,#46ffb9 79.3%,#3bffc4 80.1%,#35ffca 80.1%,#2cffd3 81.1%,#23ffdc 81.1%,#1effe1 82.1%,#12ffed 82.1%,#10ffef 83.2%,#00ffff 83.2% 84.4%,#00efff 84.5% 85.7%,#00dfff 85.7% 87.1%,#00cfff 87.2% 88.6%,#00bfff 88.6% 90.1%,#00afff 90.1% 91.6%,#009fff 91.7% 93.3%,#008fff 93.3% 95%,#0080ff 95% 96.7%,#0070ff 96.7% 98.5%,#0060ff 98.5% 100%)"></i>
<i style="background:linear-gradient(#0060ff 0 1.5%,#0070ff 1.6% 3.3%,#0080ff 3.4% 5%,#008fff 5.1% 6.7%,#009fff 6.8% 8.4%,#00afff 8.4% 9.9%,#00bfff 10% 11.5%,#00cfff 11.5% 12.9%,#00dfff 12.9% 14.3%,#00efff 14.4% 15.6%,#00ffff 15.6% 16.8%,#10ffef 16.9%,#12ffed 17.9%,#1effe1 18%,#23ffdc 18.9%,#2cffd3 19%,#35ffca 19.9%,#3bffc4 19.9%,#46ffb9 20.7%,#7cff83 23.1%,#b7ff48 25%,#fffe00 26.6%,#ffca00 27.3%,#ff9500 27.9%,#ff5400 28.4%,#ff2c00 28.6%,#ff0500 28.7%,#f50000 28.8%,#c80000 28.9%,#b60000 29%,#be0000 29.1%,#ff0300 29.4%,#ff3900 29.6%,#ff6000 29.9%,#ff8200 30.2%,#ffa300 30.6%,#ffbe00 31.1%,#ffd700 31.6%,#ffff00 33%,#f1ff0e 33.7%,#efff10 34.5%,#dfff20 34.5% 36%,#cfff30 36.1% 40.1%,#bfff40 40.1% 45.8%,#cfff30 45.8% 54.2%,#bfff40 54.3% 59.9%,#cfff30 59.9% 63.9%,#dfff20 64% 65.5%,#efff10 65.6%,#f1ff0e 66.3%,#feff01 67%,#ffd900 68.3%,#ffc200 68.9%,#ffa400 69.4%,#ff8400 69.8%,#ff6300 70.1%,#ff3e00 70.4%,#fb0000 70.7%,#c30000 70.9%,#b60000 71%,#c20000 71.1%,#fd0000 71.3%,#ff0c00 71.3%,#ff3100 71.5%,#ff5900 71.7%,#ff9800 72.1%,#ffd000 72.8%,#ffff00 73.5%,#daff25 74.2%,#b8ff47 75%,#7cff83 76.9%,#47ffb8 79.3%,#3bffc4 80.1%,#35ffca 80.1%,#2cffd3 81.1%,#23ffdc 81.1%,#1effe1 82.1%,#12ffed 82.1%,#10ffef 83.2%,#00ffff 83.2% 84.4%,#00efff 84.4% 85.7%,#00dfff 85.7% 87.1%,#00cfff 87.1% 88.5%,#00bfff 88.6% 90%,#00afff 90.1% 91.6%,#009fff 91.6% 93.2%,#008fff 93.3% 94.9%,#0080ff 95% 96.6%,#0070ff 96.7% 98.4%,#0060ff 98.5% 100%)"></i>
<i style="background:linear-gradient(#0060ff 0 1.6%,#0070ff 1.7% 3.4%,#0080ff 3.5% 5.1%,#008fff 5.2% 6.8%,#009fff 6.9% 8.4%,#00afff 8.5% 10%,#00bfff 10% 11.5%,#00cfff 11.6% 12.9%,#00dfff 13% 14.3%,#00efff 14.4% 15.6%,#00ffff 15.7% 16.8%,#10ffef 16.9%,#12ffed 17.9%,#1effe1 18%,#24ffdb 18.9%,#2cffd3 19%,#35ffca 19.9%,#3bffc4 19.9%,#46ffb9 20.7%,#7cff83 23.1%,#b9ff46 25%,#fffe00 26.5%,#ffca00 27.3%,#ff9400 27.9%,#ff5c00 28.3%,#ff3400 28.5%,#ff0100 28.7%,#f10000 28.7%,#c50000 28.9%,#b60000 29%,#c10000 29.1%,#f90000 29.3%,#ff0700 29.3%,#ff3d00 29.6%,#ff6300 29.8%,#ff8400 30.1%,#ffa500 30.5%,#ffc000 31%,#ffd800 31.6%,#feff01 32.9%,#f1ff0e 33.6%,#efff10 34.3%,#dfff20 34.4% 35.8%,#cfff30 35.9% 39.3%,#bfff40 39.4% 47.5%,#cfff30 47.6% 52.5%,#bfff40 52.5% 60.7%,#cfff30 60.7% 64.2%,#dfff20 64.2% 65.7%,#efff10 65.7%,#f0ff0f 66.4%,#ffff00 67.1%,#ffd700 68.5%,#ffbe00 69%,#ffa300 69.5%,#ff8200 69.9%,#ff6000 70.2%,#ff3900 70.5%,#ff0100 70.7%,#f20000 70.8%,#c70000 70.9%,#b60000 71%,#bf0000 71.1%,#f90000 71.3%,#ff0900 71.4%,#ff2f00 71.5%,#ff5700 71.7%,#ff9700 72.2%,#ffd000 72.8%,#feff01 73.5%,#daff25 74.2%,#b8ff47 75.1%,#7cff83 77%,#46ffb9 79.3%,#3bffc4 80.1%,#35ffca 80.1%,#2cffd3 81.1%,#23ffdc 81.1%,#1effe1 82.1%,#12ffed 82.1%,#10ffef 83.1%,#00ffff 83.2% 84.4%,#00efff 84.4% 85.6%,#00dfff 85.7% 87%,#00cfff 87.1% 88.5%,#00bfff 88.5% 90%,#00afff 90% 91.5%,#009fff 91.6% 93.2%,#008fff 93.2% 94.9%,#0080ff 94.9% 96.6%,#0070ff 96.6% 98.4%,#0060ff 98.4% 100%)"></i>
<i style="background:linear-gradient(#0060ff 0 1.7%,#0070ff 1.7% 3.5%,#0080ff 3.5% 5.2%,#008fff 5.2% 6.9%,#009fff 6.9% 8.5%,#00afff 8.6% 10%,#00bfff 10.1% 11.6%,#00cfff 11.6% 13%,#00dfff 13% 14.4%,#00efff 14.4% 15.6%,#00ffff 15.7% 16.8%,#0ffff0 16.9%,#12ffed 17.9%,#1effe1 18%,#24ffdb 18.9%,#2cffd3 19%,#35ffca 19.9%,#3bffc4 19.9%,#47ffb8 20.7%,#7cff83 23%,#b8ff47 24.9%,#fffe00 26.5%,#ffca00 27.2%,#ff9400 27.8%,#ff7200 28.1%,#ff5100 28.3%,#ff3200 28.4%,#fd0000 28.6%,#c10000 28.8%,#b60000 28.9%,#c50000 29%,#fe0000 29.2%,#ff0c00 29.3%,#ff4100 29.5%,#ff6600 29.8%,#ff8700 30.1%,#ffa700 30.5%,#ffc200 31%,#ffda00 31.5%,#feff01 32.8%,#f0ff0f 33.5%,#efff10 34.2%,#dfff20 34.2% 35.6%,#cfff30 35.7% 38.7%,#bfff40 38.7% 61.3%,#cfff30 61.3% 64.4%,#dfff20 64.4% 65.8%,#efff10 65.9%,#f1ff0e 66.5%,#ffff00 67.2%,#ffd700 68.6%,#ffbe00 69.1%,#ffa200 69.6%,#ff8400 70%,#ff6300 70.3%,#ff3c00 70.5%,#ff0600 70.8%,#f70000 70.8%,#bf0000 71%,#b60000 71.1%,#c80000 71.2%,#f50000 71.4%,#ff0500 71.4%,#ff2c00 71.6%,#ff5600 71.8%,#ff7600 72%,#ff9600 72.3%,#ffd000 72.9%,#feff01 73.6%,#dcff23 74.2%,#b9ff46 75.1%,#7cff83 77%,#46ffb9 79.3%,#3affc5 80.1%,#35ffca 80.2%,#2cffd3 81.1%,#23ffdc 81.1%,#1effe1 82.1%,#12ffed 82.1%,#0ffff0 83.1%,#00ffff 83.2% 84.4%,#00efff 84.4% 85.6%,#00dfff 85.7% 87%,#00cfff 87.1% 88.4%,#00bfff 88.5% 89.9%,#00afff 90% 91.5%,#009fff 91.5% 93.1%,#008fff 93.2% 94.8%,#0080ff 94.9% 96.5%,#0070ff 96.6% 98.3%,#0060ff 98.4% 100%)"></i>
<i style="background:linear-gradient(#0060ff 0 1.7%,#0070ff 1.8% 3.5%,#0080ff 3.6% 5.2%,#008fff 5.3% 6.9%,#009fff 7% 8.6%,#00afff 8.6% 10.1%,#00bfff 10.1% 11.6%,#00cfff 11.6% 13%,#00dfff 13% 14.4%,#00efff 14.4% 15.6%,#00ffff 15.7%,#01fffe 16.9%,#0ffff0 16.9%,#12ffed 17.9%,#1effe1 18%,#24ffdb 18.9%,#2cffd3 19%,#35ffca 19.9%,#3affc5 19.9%,#46ffb9 20.7%,#7cff83 23%,#baff45 24.9%,#ffff00 26.4%,#ffca00 27.2%,#ff9300 27.7%,#ff5800 28.2%,#ff3000 28.4%,#ff0900 28.5%,#f90000 28.6%,#bf0000 28.8%,#b70000 28.8% 28.9%,#c90000 29%,#ff0400 29.2%,#ff3200 29.4%,#ff5b00 29.6%,#ff7f00 29.9%,#ffa200 30.3%,#ffbe00 30.8%,#ffd800 31.4%,#ffff00 32.7%,#f0ff0f 33.4%,#eeff11 34%,#dfff20 34.1% 35.4%,#cfff30 35.4% 38.2%,#bfff40 38.3% 61.8%,#cfff30 61.8% 64.6%,#dfff20 64.6%,#e0ff1f 66%,#eeff11 66%,#f0ff0f 66.6%,#feff01 67.3%,#ffd900 68.6%,#ffc000 69.2%,#ffa400 69.7%,#ff8200 70.1%,#ff5f00 70.4%,#ff3700 70.6%,#fc0000 70.9%,#c30000 71.1%,#b60000 71.2%,#c40000 71.3%,#ff0200 71.5%,#ff2a00 71.6%,#ff5400 71.8%,#ff7500 72%,#ff9600 72.3%,#ffd000 72.9%,#feff01 73.6%,#dbff24 74.3%,#b9ff46 75.1%,#7cff83 77%,#47ffb8 79.3%,#3affc5 80.1%,#35ffca 80.2%,#2cffd3 81.1%,#24ffdb 81.1%,#1dffe2 82.1%,#12ffed 82.1%,#0ffff0 83.1%,#01fffe 83.2%,#00ffff 84.3%,#00efff 84.4% 85.6%,#00dfff 85.6% 87%,#00cfff 87% 88.4%,#00bfff 88.4% 89.9%,#00afff 89.9% 91.4%,#009fff 91.5% 93.1%,#008fff 93.1% 94.8%,#0080ff 94.8% 96.4%,#0070ff 96.5% 98.2%,#0060ff 98.3% 100%)"></i>
<i style="background:linear-gradient(#0060ff 0 1.8%,#0070ff 1.8% 3.6%,#0080ff 3.6% 5.3%,#008fff 5.3% 7%,#009fff 7% 8.6%,#00afff 8.7% 10.1%,#00bfff 10.2% 11.6%,#00cfff 11.7% 13%,#00dfff 13.1% 14.4%,#00efff 14.5% 15.7%,#00ffff 15.7%,#01fffe 16.9%,#0ffff0 16.9%,#12ffed 17.9%,#1dffe2 18%,#24ffdb 18.9%,#2cffd3 19%,#36ffc9 19.9%,#3affc5 19.9%,#46ffb9 20.7%,#7aff85 22.9%,#b8ff47 24.8%,#daff25 25.7%,#ffff00 26.4%,#ffca00 27.1%,#ff9200 27.7%,#ff5700 28.1%,#ff2e00 28.3%,#ff0600 28.5%,#f60000 28.5%,#c80000 28.7%,#b70000 28.8%,#c10000 28.9%,#fa0000 29.1%,#ff0800 29.1%,#ff3500 29.3%,#ff5e00 29.6%,#ff8200 29.9%,#ffa400 30.3%,#ffc000 30.8%,#ffd700 31.3%,#feff01 32.6%,#f0ff0f 33.2%,#eeff11 33.9%,#e0ff1f 33.9%,#dfff20 35.2%,#cfff30 35.3% 37.8%,#bfff40 37.8% 62.2%,#cfff30 62.2% 64.8%,#dfff20 64.8%,#e0ff1f 66.1%,#eeff11 66.2%,#f0ff0f 66.8%,#ffff00 67.5%,#ffd600 68.8%,#ffbf00 69.3%,#ffa200 69.8%,#ff8400 70.1%,#ff6200 70.4%,#ff3a00 70.7%,#ff0200 70.9%,#f20000 71%,#c70000 71.1%,#b70000 71.2%,#c10000 71.3%,#fd0000 71.5%,#ff0d00 71.6%,#ff3300 71.7%,#ff5b00 71.9%,#ff9500 72.4%,#ffd000 73%,#feff01 73.7%,#dbff24 74.3%,#b9ff46 75.2%,#7aff85 77.1%,#47ffb8 79.3%,#3affc5 80.1%,#35ffca 80.2%,#2cffd3 81.1%,#24ffdb 81.1%,#1effe1 82%,#12ffed 82.1%,#0ffff0 83.1%,#01fffe 83.2%,#00ffff 84.3%,#00efff 84.4% 85.6%,#00dfff 85.6% 86.9%,#00cfff 87% 88.3%,#00bfff 88.4% 89.8%,#00afff 89.9% 91.4%,#009fff 91.4% 93%,#008fff 93.1% 94.7%,#0080ff 94.7% 96.4%,#0070ff 96.4% 98.2%,#0060ff 98.2% 100%)"></i>
<i style="background:linear-gradient(#0060ff 0 1.9%,#0070ff 1.9% 3.6%,#0080ff 3.7% 5.3%,#008fff 5.4% 7%,#009fff 7.1% 8.7%,#00afff 8.7% 10.2%,#00bfff 10.2% 11.7%,#00cfff 11.7% 13.1%,#00dfff 13.1% 14.4%,#00efff 14.5% 15.7%,#00ffff 15.7%,#01fffe 16.9%,#0ffff0 16.9%,#12ffed 17.9%,#1dffe2 18%,#24ffdb 18.9%,#2cffd3 19%,#35ffca 19.8%,#3affc5 19.9%,#47ffb8 20.7%,#7bff84 22.9%,#b9ff46 24.8%,#daff25 25.6%,#ffff00 26.3%,#ffc900 27.1%,#ff9200 27.6%,#ff5500 28.1%,#ff2b00 28.3%,#ff0300 28.4%,#f20000 28.5%,#c40000 28.6%,#b70000 28.7%,#c40000 28.8%,#fe0000 29%,#ff2f00 29.2%,#ff5a00 29.5%,#ff7f00 29.8%,#ffa200 30.2%,#ffbf00 30.7%,#ffd900 31.2%,#feff01 32.5%,#f0ff0f 33.1%,#edff12 33.7%,#e1ff1e 33.8%,#dfff20 35%,#cfff30 35.1% 37.4%,#bfff40 37.5% 62.6%,#cfff30 62.6% 65%,#dfff20 65%,#e1ff1e 66.3%,#edff12 66.3%,#f1ff0e 66.9%,#ffff00 67.6%,#ffd600 68.9%,#ffbe00 69.4%,#ffa100 69.9%,#ff8200 70.2%,#ff5e00 70.5%,#ff3400 70.8%,#ff0600 71%,#f70000 71%,#bf0000 71.2%,#b80000 71.3% 71.3%,#cb0000 71.4%,#fa0000 71.6%,#ff0a00 71.6%,#ff3100 71.8%,#ff5a00 72%,#ff9500 72.4%,#ffd000 73%,#feff01 73.7%,#dbff24 74.4%,#b8ff47 75.2%,#79ff86 77.2%,#46ffb9 79.4%,#3affc5 80.1%,#35ffca 80.2%,#2cffd3 81.1%,#24ffdb 81.1%,#1dffe2 82%,#13ffec 82.1%,#0ffff0 83.1%,#01fffe 83.2%,#00ffff 84.3%,#00efff 84.4% 85.5%,#00dfff 85.6% 86.9%,#00cfff 87% 88.3%,#00bfff 88.4% 89.8%,#00afff 89.9% 91.3%,#009fff 91.4% 92.9%,#008fff 93% 94.6%,#0080ff 94.7% 96.3%,#0070ff 96.4% 98.1%,#0060ff 98.2% 100%)"></i>
<i style="background:linear-gradient(#0060ff 0 1.9%,#0070ff 2% 3.7%,#0080ff 3.8% 5.4%,#008fff 5.4% 7.1%,#009fff 7.1% 8.7%,#00afff 8.8% 10.2%,#00bfff 10.3% 11.7%,#00cfff 11.8% 13.1%,#00dfff 13.1% 14.5%,#00efff 14.5% 15.7%,#00ffff 15.7%,#01fffe 16.9%,#0ffff0 16.9%,#12ffed 17.9%,#1dffe2 18%,#24ffdb 18.9%,#2cffd3 19%,#35ffca 19.8%,#3affc5 19.9%,#47ffb8 20.7%,#79ff86 22.8%,#b5ff4a 24.7%,#fffc00 26.3%,#ffc900 27%,#ff9100 27.6%,#ff5400 28%,#ff2900 28.2%,#ff0000 28.4%,#c20000 28.6%,#b90000 28.6%,#b70000 28.7%,#c80000 28.8%,#ff0400 29%,#ff3300 29.2%,#ff5d00 29.4%,#ff8200 29.7%,#ffa100 30.1%,#ffbe00 30.5%,#ffd700 31.1%,#ffff00 32.3%,#f0ff0f 33%,#ecff13 33.6%,#e1ff1e 33.6%,#dfff20 34.8%,#cfff30 34.9% 37.1%,#bfff40 37.1% 62.9%,#cfff30 62.9% 65.1%,#dfff20 65.2%,#e2ff1d 66.4%,#ecff13 66.5%,#f0ff0f 67%,#feff01 67.7%,#ffd800 68.9%,#ffc000 69.5%,#ffa300 69.9%,#ff8400 70.3%,#ff6100 70.6%,#ff3800 70.8%,#fc0000 71.1%,#c20000 71.3%,#b70000 71.4%,#c80000 71.5%,#f70000 71.6%,#ff0700 71.7%,#ff2f00 71.8%,#ff5900 72%,#ff9400 72.5%,#ffd000 73.1%,#fdff02 73.8%,#daff25 74.4%,#b8ff47 75.3%,#7aff85 77.2%,#36ffc9 80.2%,#2cffd3 81.1%,#24ffdb 81.1%,#1dffe2 82%,#13ffec 82.1%,#0ffff0 83.1%,#01fffe 83.1%,#00ffff 84.3%,#00efff 84.3% 85.5%,#00dfff 85.6% 86.9%,#00cfff 86.9% 88.3%,#00bfff 88.3% 89.8%,#00afff 89.8% 91.3%,#009fff 91.3% 92.9%,#008fff 92.9% 94.6%,#0080ff 94.6% 96.3%,#0070ff 96.3% 98.1%,#0060ff 98.1% 100%)"></i>
<i style="background:linear-gradient(#0060ff 0 2%,#0070ff 2% 3.8%,#0080ff 3.8% 5.5%,#008fff 5.5% 7.1%,#009fff 7.2% 8.8%,#00afff 8.8% 10.3%,#00bfff 10.3% 11.8%,#00cfff 11.8% 13.1%,#00dfff 13.2% 14.5%,#00efff 14.5% 15.7%,#00ffff 15.8%,#01fffe 16.9%,#0ffff0 16.9%,#13ffec 17.9%,#1dffe2 18%,#24ffdb 18.9%,#2bffd4 18.9%,#35ffca 19.8%,#7aff85 22.8%,#b6ff49 24.7%,#fffc00 26.3%,#ffc900 27%,#ff9000 27.5%,#ff5300 28%,#ff3300 28.1%,#fb0000 28.3%,#cc0000 28.5%,#b80000 28.6% 28.6%,#c00000 28.7%,#f90000 28.9%,#ff0800 28.9%,#ff3600 29.1%,#ff6000 29.4%,#ff8400 29.7%,#ffa300 30%,#ffbd00 30.4%,#ffd600 31%,#ffff00 32.2%,#f0ff0f 32.9%,#ecff13 33.4%,#e2ff1d 33.5%,#dfff20 34.7%,#cfff30 34.7% 36.8%,#bfff40 36.8% 63.2%,#cfff30 63.2% 65.3%,#dfff20 65.4%,#e2ff1d 66.5%,#ecff13 66.6%,#f0ff0f 67.1%,#feff01 67.8%,#ffd700 69%,#ffbf00 69.6%,#ffa100 70%,#ff8600 70.3%,#ff6300 70.6%,#ff3b00 70.9%,#ff0100 71.1%,#f20000 71.2%,#c50000 71.3%,#b70000 71.4%,#c50000 71.5%,#ff0400 71.7%,#ff2d00 71.9%,#ff5700 72.1%,#ff9300 72.5%,#ffd000 73.1%,#fdff02 73.8%,#daff25 74.5%,#b7ff48 75.3%,#7bff84 77.2%,#36ffc9 80.2%,#2bffd4 81.1%,#24ffdb 81.1%,#1dffe2 82%,#13ffec 82.1%,#0ffff0 83.1%,#01fffe 83.1%,#00ffff 84.3%,#00efff 84.3% 85.5%,#00dfff 85.5% 86.9%,#00cfff 86.9% 88.2%,#00bfff 88.3% 89.7%,#00afff 89.8% 91.2%,#009fff 91.3% 92.8%,#008fff 92.9% 94.5%,#0080ff 94.6% 96.2%,#0070ff 96.3% 98%,#0060ff 98% 100%)"></i>
<i style="background:linear-gradient(#0060ff 0 2%,#0070ff 2.1% 3.8%,#0080ff 3.9% 5.5%,#008fff 5.6% 7.2%,#009fff 7.2% 8.8%,#00afff 8.8% 10.3%,#00bfff 10.4% 11.8%,#00cfff 11.8% 13.1%,#00dfff 13.2% 14.5%,#00efff 14.6% 15.7%,#00ffff 15.8%,#01fffe 16.9%,#0ffff0 16.9%,#13ffec 17.9%,#1dffe2 18%,#24ffdb 18.9%,#2bffd4 18.9%,#36ffc9 19.8%,#79ff86 22.8%,#b6ff49 24.6%,#fffc00 26.2%,#ffc900 26.9%,#ff9000 27.5%,#ff5100 27.9%,#ff3100 28.1%,#ff0800 28.2%,#f80000 28.3%,#c90000 28.4%,#b70000 28.5%,#c30000 28.6%,#fd0000 28.8%,#ff0c00 28.9%,#ff3a00 29.1%,#ff6300 29.3%,#ff8600 29.6%,#ffa500 30%,#ffbf00 30.4%,#ffd800 30.9%,#ffff00 32.1%,#f0ff0f 32.8%,#ebff14 33.3%,#e2ff1d 33.4%,#dfff20 34.5%,#cfff30 34.5% 36.5%,#bfff40 36.5% 63.5%,#cfff30 63.5% 65.5%,#dfff20 65.5%,#e2ff1d 66.7%,#ebff14 66.8%,#f0ff0f 67.2%,#ffff00 67.9%,#ffd500 69.2%,#ffbb00 69.7%,#ff9f00 70.1%,#ff7e00 70.5%,#ff5f00 70.7%,#ff3500 71%,#ff0500 71.2%,#f60000 71.2%,#c90000 71.4%,#b80000 71.5%,#b90000 71.5%,#c20000 71.6%,#ff0100 71.8%,#ff2b00 71.9%,#ff5600 72.1%,#ff9300 72.6%,#ffd000 73.2%,#fdff02 73.9%,#daff25 74.5%,#b9ff46 75.3%,#7aff85 77.2%,#35ffca 80.2%,#2bffd4 81.1%,#24ffdb 81.1%,#1dffe2 82%,#13ffec 82.1%,#0ffff0 83.1%,#01fffe 83.1%,#00ffff 84.3%,#00efff 84.3% 85.5%,#00dfff 85.5% 86.8%,#00cfff 86.9% 88.2%,#00bfff 88.2% 89.7%,#00afff 89.7% 91.2%,#009fff 91.2% 92.8%,#008fff 92.8% 94.5%,#0080ff 94.5% 96.2%,#0070ff 96.2% 97.9%,#0060ff 98% 100%)"></i>
<i style="background:linear-gradient(#0060ff 0 2.1%,#0070ff 2.1% 3.9%,#0080ff 3.9% 5.6%,#008fff 5.7% 7.2%,#009fff 7.3% 8.8%,#00afff 8.9% 10.3%,#00bfff 10.4% 11.8%,#00cfff 11.9% 13.2%,#00dfff 13.2% 14.5%,#00efff 14.6% 15.7%,#00ffff 15.8%,#01fffe 16.9%,#0ffff0 17%,#13ffec 17.9%,#1dffe2 18%,#24ffdb 18.9%,#2bffd4 18.9%,#36ffc9 19.8%,#7aff85 22.8%,#b7ff48 24.6%,#fffd00 26.2%,#ffc900 26.9%,#ff8f00 27.4%,#ff5900 27.8%,#ff2f00 28%,#ff0600 28.2%,#f50000 28.2%,#c60000 28.4%,#b70000 28.5%,#c60000 28.6%,#ff0300 28.8%,#ff3300 29%,#ff5e00 29.2%,#ff8300 29.5%,#ffa300 29.9%,#ffbe00 30.3%,#ffd700 30.8%,#feff01 32%,#ebff14 33.1%,#e3ff1c 33.2%,#dfff20 34.3%,#cfff30 34.4% 36.2%,#bfff40 36.3% 63.7%,#cfff30 63.8% 65.7%,#dfff20 65.7%,#e2ff1d 66.8%,#e3ff1c 66.9%,#ebff14 66.9%,#ffff00 68%,#ffd600 69.2%,#ffbc00 69.8%,#ffa100 70.2%,#ff8100 70.5%,#ff5b00 70.8%,#ff3800 71%,#ff0a00 71.2%,#fb0000 71.3%,#c00000 71.5%,#b90000 71.5%,#b80000 71.6%,#cd0000 71.7%,#fd0000 71.8%,#ff0d00 71.9%,#ff3500 72%,#ff5e00 72.3%,#ff9800 72.7%,#ffd400 73.3%,#fdff02 73.9%,#d9ff26 74.6%,#b8ff47 75.4%,#79ff86 77.3%,#36ffc9 80.2%,#2bffd4 81.1%,#24ffdb 81.1%,#1dffe2 82%,#13ffec 82.1%,#0ffff0 83.1%,#01fffe 83.1%,#00ffff 84.2%,#00efff 84.3% 85.5%,#00dfff 85.5% 86.8%,#00cfff 86.8% 88.2%,#00bfff 88.2% 89.6%,#00afff 89.7% 91.1%,#009fff 91.2% 92.7%,#008fff 92.8% 94.4%,#0080ff 94.5% 96.1%,#0070ff 96.1% 97.9%,#0060ff 97.9% 100%)"></i>
<i style="background:linear-gradient(#0060ff 0 2.2%,#0070ff 2.2% 3.9%,#0080ff 4% 5.7%,#008fff 5.7% 7.3%,#009fff 7.3% 8.9%,#00afff 8.9% 10.4%,#00bfff 10.4% 11.9%,#00cfff 11.9% 13.2%,#00dfff 13.3% 14.5%,#00efff 14.6% 15.7%,#00ffff 15.8%,#02fffd 16.9%,#0efff1 17%,#13ffec 17.9%,#1dffe2 18%,#24ffdb 18.9%,#2bffd4 18.9%,#36ffc9 19.8%,#79ff86 22.7%,#b7ff48 24.6%,#fffd00 26.1%,#ffcd00 26.8%,#ff9500 27.3%,#ff5800 27.7%,#ff2d00 28%,#ff0300 28.1%,#f20000 28.2%,#c30000 28.3%,#ba0000 28.4%,#b80000 28.4%,#ca0000 28.5%,#f70000 28.7%,#ff0700 28.7%,#ff3700 28.9%,#ff6100 29.2%,#ff8000 29.4%,#ffa100 29.8%,#ffbd00 30.2%,#ffd700 30.7%,#feff01 31.9%,#ebff14 33%,#e3ff1c 33.1%,#dfff20 34.2%,#cfff30 34.2% 35.9%,#bfff40 36% 64%,#cfff30 64.1% 65.8%,#dfff20 65.9%,#e2ff1d 66.9%,#ebff14 67%,#ffff00 68.1%,#ffd600 69.3%,#ffbb00 69.9%,#ff9f00 70.3%,#ff7e00 70.6%,#ff5e00 70.9%,#ff3100 71.1%,#ff0000 71.3%,#c30000 71.5%,#ba0000 71.6%,#b80000 71.6%,#ca0000 71.7%,#fa0000 71.9%,#ff0a00 71.9%,#ff3300 72.1%,#ff5300 72.3%,#ff7600 72.5%,#ff9800 72.7%,#ffd400 73.3%,#fcff03 74%,#d9ff26 74.6%,#b8ff47 75.4%,#79ff86 77.3%,#36ffc9 80.2%,#2bffd4 81.1%,#25ffda 81.1%,#1dffe2 82%,#13ffec 82.1%,#0efff1 83.1%,#01fffe 83.1%,#00ffff 84.2%,#00efff 84.3% 85.4%,#00dfff 85.5% 86.8%,#00cfff 86.8% 88.1%,#00bfff 88.2% 89.6%,#00afff 89.6% 91.1%,#009fff 91.1% 92.7%,#008fff 92.7% 94.3%,#0080ff 94.4% 96%,#0070ff 96.1% 97.8%,#0060ff 97.9% 100%)"></i>
<i style="background:linear-gradient(#0060ff 0 2.2%,#0070ff 2.3% 4%,#0080ff 4% 5.7%,#008fff 5.8% 7.3%,#009fff 7.4% 8.9%,#00afff 9% 10.4%,#00bfff 10.5% 11.9%,#00cfff 11.9% 13.2%,#00dfff 13.3% 14.6%,#00efff 14.6% 15.8%,#00ffff 15.8%,#02fffd 16.9%,#0efff1 17%,#13ffec 17.9%,#1dffe2 18%,#25ffda 18.9%,#2bffd4 18.9%,#36ffc9 19.8%,#7aff85 22.7%,#b8ff47 24.6%,#fffd00 26.1%,#ffc900 26.8%,#ff8e00 27.3%,#ff7100 27.5%,#ff4d00 27.7%,#ff2b00 27.9%,#ff0000 28.1%,#ce0000 28.2%,#b90000 28.3% 28.4%,#c10000 28.4%,#fc0000 28.6%,#ff0b00 28.7%,#ff3a00 28.9%,#ff6400 29.1%,#ff8300 29.4%,#ffa300 29.7%,#ffbf00 30.1%,#ffd800 30.7%,#feff01 31.8%,#eaff15 32.9%,#e3ff1c 33%,#dfff20 34%,#cfff30 34% 35.7%,#bfff40 35.7% 64.3%,#cfff30 64.3% 66%,#dfff20 66%,#e2ff1d 67%,#e4ff1b 67.1%,#eaff15 67.2%,#ffff00 68.2%,#ffd700 69.4%,#ffbd00 69.9%,#ffa100 70.3%,#ff8000 70.7%,#ff6000 70.9%,#ff3500 71.2%,#ff0400 71.4%,#f40000 71.4%,#c70000 71.6%,#b80000 71.7%,#c70000 71.8%,#f70000 71.9%,#ff0800 72%,#ff3100 72.1%,#ff5200 72.3%,#ff7500 72.5%,#ff9800 72.8%,#ffd400 73.4%,#fcff03 74%,#d9ff26 74.7%,#b7ff48 75.5%,#79ff86 77.3%,#36ffc9 80.2%,#2bffd4 81.1%,#25ffda 81.1%,#1dffe2 82%,#13ffec 82.1%,#0efff1 83.1%,#02fffd 83.1%,#00ffff 84.2%,#00efff 84.3% 85.4%,#00dfff 85.5% 86.7%,#00cfff 86.8% 88.1%,#00bfff 88.1% 89.6%,#00afff 89.6% 91%,#009fff 91.1% 92.6%,#008fff 92.7% 94.3%,#0080ff 94.3% 96%,#0070ff 96% 97.8%,#0060ff 97.8% 100%)"></i>
<i style="background:linear-gradient(#0050ff 0,#0060ff 0.1% 2.3%,#0070ff 2.3% 4%,#0080ff 4.1% 5.8%,#008fff 5.8% 7.4%,#009fff 7.4% 9%,#00afff 9% 10.5%,#00bfff 10.5% 11.9%,#00cfff 12% 13.3%,#00dfff 13.3% 14.6%,#00efff 14.6% 15.8%,#00ffff 15.8%,#02fffd 16.9%,#0efff1 17%,#13ffec 17.9%,#1cffe3 18%,#25ffda 18.9%,#2bffd4 18.9%,#36ffc9 19.8%,#79ff86 22.7%,#b8ff47 24.5%,#fffd00 26%,#ffcd00 26.7%,#ff9400 27.2%,#ff5500 27.6%,#ff3500 27.8%,#fc0000 28%,#cb0000 28.2%,#b80000 28.3%,#ba0000 28.3%,#c30000 28.4%,#ff0100 28.6%,#ff3300 28.8%,#ff5f00 29%,#ff7f00 29.3%,#ffa100 29.6%,#ffbd00 30%,#ffd800 30.5%,#feff01 31.7%,#eaff15 32.7%,#e3ff1c 32.9%,#dfff20 33.8%,#cfff30 33.9% 35.5%,#bfff40 35.5% 40%,#afff50 40.1% 43.7%,#bfff40 43.8% 56.2%,#afff50 56.3% 59.9%,#bfff40 60% 64.5%,#cfff30 64.6% 66.1%,#dfff20 66.2%,#e2ff1d 67.1%,#eaff15 67.3%,#ffff00 68.3%,#ffd600 69.5%,#ffbc00 70%,#ff9f00 70.4%,#ff7d00 70.8%,#ff5b00 71%,#ff3800 71.2%,#ff0800 71.4%,#f80000 71.5%,#ca0000 71.6%,#b80000 71.7%,#ba0000 71.8%,#c40000 71.8%,#f40000 72%,#ff0500 72%,#ff2f00 72.2%,#ff5000 72.4%,#ff9100 72.8%,#ffcb00 73.3%,#ffff00 74%,#dbff24 74.7%,#b9ff46 75.5%,#7aff85 77.3%,#36ffc9 80.2%,#2bffd4 81.1%,#24ffdb 81.2%,#1dffe2 82%,#13ffec 82.1%,#0efff1 83.1%,#02fffd 83.1%,#00ffff 84.2%,#00efff 84.3% 85.4%,#00dfff 85.4% 86.7%,#00cfff 86.8% 88.1%,#00bfff 88.1% 89.5%,#00afff 89.6% 91%,#009fff 91% 92.6%,#008fff 92.6% 94.2%,#0080ff 94.3% 95.9%,#0070ff 96% 97.7%,#0060ff 97.8% 100%)"></i>
<i style="background:linear-gradient(#0050ff 0,#0060ff 0.1% 2.3%,#0070ff 2.4% 4.1%,#0080ff 4.1% 5.8%,#008fff 5.9% 7.4%,#009fff 7.5% 9%,#00afff 9.1% 10.5%,#00bfff 10.6% 12%,#00cfff 12% 13.3%,#00dfff 13.3% 14.6%,#00efff 14.6% 15.8%,#00ffff 15.8%,#02fffd 16.9%,#0efff1 17%,#13ffec 17.9%,#1cffe3 18%,#25ffda 18.9%,#2bffd4 18.9%,#36ffc9 19.8%,#7aff85 22.7%,#b7ff48 24.5%,#fffe00 26%,#ffcd00 26.6%,#ff9400 27.2%,#ff5400 27.6%,#ff3300 27.7%,#ff0a00 27.9%,#f90000 28%,#c80000 28.1%,#b80000 28.2%,#c70000 28.3%,#f50000 28.5%,#ff0500 28.5%,#ff3600 28.7%,#ff6200 29%,#ff8200 29.2%,#ffa300 29.6%,#ffbf00 30%,#ffd700 30.4%,#feff01 31.6%,#e3ff1c 32.8%,#dfff20 33.7%,#cfff30 33.7% 35.3%,#bfff40 35.3% 39.1%,#afff50 39.1% 45.3%,#bfff40 45.3% 54.7%,#afff50 54.7% 60.9%,#bfff40 60.9% 64.7%,#cfff30 64.8% 66.3%,#dfff20 66.3%,#e2ff1d 67.2%,#ffff00 68.4%,#ffd600 69.6%,#ffbd00 70.1%,#ffa100 70.5%,#ff7f00 70.8%,#ff5e00 71.1%,#ff3100 71.3%,#fc0000 71.5%,#ce0000 71.7%,#b90000 71.8% 71.8%,#c20000 71.9%,#ff0200 72.1%,#ff2d00 72.3%,#ff4f00 72.4%,#ff7300 72.6%,#ff9000 72.8%,#ffcb00 73.4%,#fffc00 74%,#b6ff49 75.6%,#7aff85 77.4%,#36ffc9 80.3%,#2bffd4 81.1%,#25ffda 81.2%,#1cffe3 82%,#13ffec 82.1%,#0efff1 83%,#02fffd 83.1%,#00ffff 84.2%,#00efff 84.2% 85.4%,#00dfff 85.4% 86.7%,#00cfff 86.7% 88%,#00bfff 88.1% 89.5%,#00afff 89.5% 91%,#009fff 91% 92.5%,#008fff 92.6% 94.2%,#0080ff 94.2% 95.9%,#0070ff 95.9% 97.7%,#0060ff 97.7% 99.9%,#0050ff 100%)"></i>
<i style="background:linear-gradient(#0050ff 0 0.1%,#0060ff 0.1% 2.4%,#0070ff 2.4% 4.1%,#0080ff 4.2% 5.9%,#008fff 5.9% 7.5%,#009fff 7.5% 9.1%,#00afff 9.1% 10.5%,#00bfff 10.6% 12%,#00cfff 12% 13.3%,#00dfff 13.4% 14.6%,#00efff 14.7% 15.8%,#00ffff 15.8%,#02fffd 16.9%,#0efff1 17%,#13ffec 17.9%,#1cffe3 18%,#25ffda 18.9%,#2bffd4 18.9%,#36ffc9 19.8%,#7aff85 22.6%,#b9ff46 24.5%,#fffe00 25.9%,#ffcd00 26.6%,#ff9300 27.1%,#ff5300 27.5%,#ff3100 27.7%,#ff0700 27.9%,#f60000 27.9%,#c60000 28.1%,#bb0000 28.1%,#b90000 28.2%,#ca0000 28.3%,#f90000 28.4%,#ff0900 28.5%,#ff3900 28.7%,#ff5d00 28.9%,#ff7e00 29.1%,#ffa100 29.5%,#ffbe00 29.9%,#ffd600 30.3%,#feff01 31.5%,#e3ff1c 32.7%,#dfff20 33.5%,#cfff30 33.6% 35%,#bfff40 35.1% 38.4%,#afff50 38.4% 46.7%,#bfff40 46.7% 53.3%,#afff50 53.4% 61.6%,#bfff40 61.6% 64.9%,#cfff30 65% 66.4%,#dfff20 66.5%,#e2ff1d 67.3%,#ffff00 68.5%,#ffd700 69.7%,#ffbf00 70.1%,#ffa300 70.5%,#ff8100 70.9%,#ff6100 71.1%,#ff3400 71.4%,#ff0100 71.6%,#f10000 71.6%,#c30000 71.8%,#ba0000 71.8%,#b90000 71.9%,#cd0000 72%,#ff0000 72.1%,#ff2b00 72.3%,#ff4e00 72.5%,#ff7300 72.7%,#ff9000 72.9%,#ffc700 73.4%,#fffc00 74.1%,#b8ff47 75.6%,#7aff85 77.4%,#36ffc9 80.3%,#2bffd4 81.1%,#25ffda 81.2%,#1cffe3 82%,#14ffeb 82.1%,#0efff1 83%,#02fffd 83.1%,#00ffff 84.2%,#00efff 84.2% 85.4%,#00dfff 85.4% 86.7%,#00cfff 86.7% 88%,#00bfff 88% 89.4%,#00afff 89.5% 90.9%,#009fff 91% 92.5%,#008fff 92.6% 94.1%,#0080ff 94.2% 95.8%,#0070ff 95.9% 97.6%,#0060ff 97.7% 99.9%,#0050ff 100%)"></i>
<i style="background:linear-gradient(#0050ff 0 0.1%,#0060ff 0.1% 2.4%,#0070ff 2.5% 4.2%,#0080ff 4.2% 5.9%,#008fff 6% 7.5%,#009fff 7.6% 9.1%,#00afff 9.2% 10.6%,#00bfff 10.6% 12%,#00cfff 12.1% 13.3%,#00dfff 13.4% 14.6%,#00efff 14.7%,#00f0ff 15.8%,#00ffff 15.9%,#02fffd 16.9%,#0efff1 17%,#13ffec 17.9%,#1cffe3 18%,#25ffda 18.9%,#2bffd4 18.9%,#4cffb3 20.7%,#7aff85 22.6%,#b8ff47 24.4%,#d8ff27 25.2%,#fffe00 25.9%,#ffcd00 26.5%,#ff9300 27.1%,#ff5c00 27.4%,#ff3000 27.6%,#ff0500 27.8%,#f40000 27.9%,#c30000 28%,#ba0000 28.1%,#b90000 28.1%,#cd0000 28.2%,#fd0000 28.4%,#ff0c00 28.4%,#ff3c00 28.6%,#ff5f00 28.8%,#ff8000 29.1%,#ffa300 29.4%,#ffbf00 29.8%,#ffd800 30.3%,#feff01 31.4%,#e2ff1d 32.6%,#dfff20 33.4%,#cfff30 33.5% 34.9%,#bfff40 34.9% 37.9%,#afff50 37.9% 48.3%,#bfff40 48.4% 51.7%,#afff50 51.7% 62.1%,#bfff40 62.1% 65.1%,#cfff30 65.2% 66.6%,#dfff20 66.6%,#e2ff1d 67.4%,#ffff00 68.6%,#ffd600 69.8%,#ffbe00 70.2%,#ffa000 70.6%,#ff8300 70.9%,#ff6300 71.2%,#ff3700 71.4%,#ff0500 71.6%,#f50000 71.7%,#c60000 71.8%,#bc0000 71.9%,#b90000 71.9%,#ca0000 72%,#fc0000 72.2%,#ff0d00 72.3%,#ff3600 72.4%,#ff5700 72.6%,#ff9600 73%,#ffcb00 73.5%,#fffd00 74.1%,#b7ff48 75.6%,#7aff85 77.4%,#36ffc9 80.3%,#2bffd4 81.1%,#25ffda 81.2%,#1cffe3 82%,#14ffeb 82.1%,#0efff1 83%,#02fffd 83.1%,#00ffff 84.2%,#00efff 84.2% 85.3%,#00dfff 85.4% 86.6%,#00cfff 86.7% 88%,#00bfff 88% 89.4%,#00afff 89.5% 90.9%,#009fff 90.9% 92.5%,#008fff 92.5% 94.1%,#0080ff 94.1% 95.8%,#0070ff 95.8% 97.6%,#0060ff 97.6% 99.9%,#0050ff 99.9% 100%)"></i>
<i style="background:linear-gradient(#0050ff 0 0.1%,#0060ff 0.2% 2.5%,#0070ff 2.5% 4.2%,#0080ff 4.3% 6%,#008fff 6% 7.6%,#009fff 7.6% 9.1%,#00afff 9.2% 10.6%,#00bfff 10.7% 12%,#00cfff 12.1% 13.4%,#00dfff 13.4% 14.6%,#00efff 14.7%,#00f0ff 15.8%,#00feff 15.9%,#02fffd 16.9%,#0efff1 17%,#14ffeb 17.9%,#1cffe3 18%,#25ffda 18.8%,#2affd5 18.9%,#4affb5 20.6%,#7aff85 22.6%,#b8ff47 24.4%,#daff25 25.2%,#ffff00 25.8%,#ffce00 26.5%,#ff9200 27%,#ff7500 27.2%,#ff5100 27.4%,#ff2e00 27.6%,#ff0200 27.7%,#f10000 27.8%,#cf0000 27.9%,#ba0000 28% 28.1%,#c30000 28.1%,#ff0200 28.3%,#ff3500 28.5%,#ff5a00 28.7%,#ff7d00 29%,#ffa000 29.3%,#ffbe00 29.7%,#ffd700 30.2%,#feff01 31.3%,#e2ff1d 32.5%,#deff21 33.2%,#d0ff2f 33.3%,#cfff30 34.7%,#bfff40 34.7% 37.4%,#afff50 37.5% 62.5%,#bfff40 62.6% 65.3%,#cfff30 65.4%,#d0ff2f 66.8%,#deff21 66.8%,#e3ff1c 67.6%,#ffff00 68.7%,#ffd600 69.9%,#ffbc00 70.3%,#ff9e00 70.7%,#ff8000 71%,#ff5e00 71.3%,#ff3a00 71.5%,#ff0900 71.7%,#f90000 71.7%,#c90000 71.9%,#b90000 72%,#bc0000 72%,#c80000 72.1%,#f90000 72.3%,#ff0a00 72.3%,#ff3400 72.5%,#ff5600 72.6%,#ff9600 73%,#ffcb00 73.5%,#fffd00 74.2%,#b7ff48 75.7%,#79ff86 77.5%,#4bffb4 79.4%,#2bffd4 81.1%,#25ffda 81.2%,#1cffe3 82%,#14ffeb 82.1%,#0efff1 83%,#02fffd 83.1%,#00feff 84.2%,#00f0ff 84.2%,#00efff 85.3%,#00dfff 85.4% 86.6%,#00cfff 86.7% 87.9%,#00bfff 88% 89.4%,#00afff 89.4% 90.8%,#009fff 90.9% 92.4%,#008fff 92.5% 94%,#0080ff 94.1% 95.7%,#0070ff 95.8% 97.5%,#0060ff 97.5% 99.9%,#0050ff 99.9% 100%)"></i>
<i style="background:linear-gradient(#0050ff 0 0.1%,#0060ff 0.2% 2.5%,#0070ff 2.6% 4.3%,#0080ff 4.3% 6%,#008fff 6.1% 7.6%,#009fff 7.7% 9.2%,#00afff 9.2% 10.6%,#00bfff 10.7% 12.1%,#00cfff 12.1% 13.4%,#00dfff 13.4% 14.7%,#00efff 14.7%,#00f0ff 15.8%,#00feff 15.9%,#02fffd 16.9%,#0efff1 17%,#14ffeb 17.9%,#1cffe3 18%,#25ffda 18.8%,#2affd5 18.9%,#4affb5 20.6%,#79ff86 22.5%,#b7ff48 24.3%,#daff25 25.1%,#ffff00 25.8%,#ffc900 26.5%,#ff9200 27%,#ff7400 27.2%,#ff4f00 27.4%,#ff2c00 27.5%,#ff0000 27.7%,#cc0000 27.9%,#b90000 28%,#bc0000 28%,#c60000 28.1%,#f50000 28.2%,#ff0500 28.3%,#ff3800 28.5%,#ff5d00 28.7%,#ff7f00 28.9%,#ffa200 29.3%,#ffbf00 29.7%,#ffd800 30.1%,#feff01 31.2%,#e2ff1d 32.4%,#deff21 33.1%,#d0ff2f 33.1%,#cfff30 34.5%,#bfff40 34.5% 37.1%,#afff50 37.1% 62.9%,#bfff40 63% 65.5%,#cfff30 65.5%,#d0ff2f 66.9%,#deff21 66.9%,#e3ff1c 67.7%,#ffff00 68.8%,#ffd500 70%,#ffbb00 70.4%,#ffa000 70.8%,#ff7c00 71.1%,#ff5900 71.4%,#ff3200 71.6%,#fd0000 71.8%,#cd0000 71.9%,#b90000 72%,#bb0000 72.1%,#c50000 72.1%,#f70000 72.3%,#ff0800 72.4%,#ff3300 72.5%,#ff5500 72.7%,#ff7800 72.9%,#ff9500 73.1%,#ffcb00 73.6%,#fffd00 74.2%,#b6ff49 75.7%,#7aff85 77.5%,#4bffb4 79.4%,#2bffd4 81.1%,#25ffda 81.2%,#1cffe3 82%,#14ffeb 82.1%,#0efff1 83%,#02fffd 83.1%,#00feff 84.2%,#00f0ff 84.2%,#00efff 85.3%,#00dfff 85.4% 86.6%,#00cfff 86.6% 87.9%,#00bfff 87.9% 89.3%,#00afff 89.4% 90.8%,#009fff 90.8% 92.4%,#008fff 92.4% 94%,#0080ff 94% 95.7%,#0070ff 95.7% 97.5%,#0060ff 97.5% 99.8%,#0050ff 99.9% 100%)"></i>
<i style="background:linear-gradient(#0050ff 0 0.2%,#0060ff 0.2% 2.5%,#0070ff 2.6% 4.3%,#0080ff 4.4% 6.1%,#008fff 6.1% 7.6%,#009fff 7.7% 9.2%,#00afff 9.3% 10.7%,#00bfff 10.7% 12.1%,#00cfff 12.2% 13.4%,#00dfff 13.5% 14.7%,#00efff 14.7%,#00f0ff 15.8%,#00feff 15.9%,#02fffd 16.9%,#0dfff2 17%,#14ffeb 17.9%,#1cffe3 18%,#25ffda 18.8%,#2affd5 18.9%,#4bffb4 20.6%,#78ff87 22.5%,#b5ff4a 24.2%,#fffc00 25.8%,#ffc900 26.4%,#ff9200 26.9%,#ff7400 27.1%,#ff4e00 27.3%,#fc0000 27.6%,#ca0000 27.8%,#be0000 27.9%,#b90000 27.9%,#bd0000 28%,#c90000 28%,#f90000 28.2%,#ff0900 28.2%,#ff3b00 28.4%,#ff5f00 28.6%,#ff8100 28.9%,#ffa400 29.2%,#ffd700 30%,#feff01 31.1%,#e2ff1d 32.3%,#ddff22 32.9%,#d1ff2e 33%,#cfff30 34.3%,#bfff40 34.4% 36.7%,#afff50 36.8% 63.2%,#bfff40 63.3% 65.7%,#cfff30 65.7%,#d1ff2e 67%,#ddff22 67.1%,#e3ff1c 67.8%,#ffff00 68.9%,#ffd600 70%,#ffbc00 70.5%,#ffa200 70.8%,#ff8400 71.1%,#ff6300 71.4%,#ff3500 71.6%,#ff0100 71.8%,#f10000 71.9%,#c20000 72%,#ba0000 72.1% 72.1%,#c30000 72.2%,#f40000 72.4%,#ff0600 72.4%,#ff3100 72.6%,#ff5400 72.7%,#ff7800 72.9%,#ff9500 73.1%,#ffcb00 73.6%,#fffd00 74.3%,#b8ff47 75.7%,#79ff86 77.5%,#4bffb4 79.4%,#2bffd4 81.1%,#26ffd9 81.2%,#1cffe3 82.1%,#14ffeb 82.1%,#0efff1 83%,#02fffd 83.1%,#00feff 84.1%,#00f0ff 84.2%,#00efff 85.3%,#00dfff 85.3% 86.6%,#00cfff 86.6% 87.9%,#00bfff 87.9% 89.3%,#00afff 89.4% 90.8%,#009fff 90.8% 92.3%,#008fff 92.4% 93.9%,#0080ff 94% 95.6%,#0070ff 95.7% 97.4%,#0060ff 97.5% 99.8%,#0050ff 99.9% 100%)"></i>
<i style="background:linear-gradient(#0050ff 0 0.2%,#0060ff 0.2% 2.6%,#0070ff 2.6% 4.4%,#0080ff 4.4% 6.1%,#008fff 6.1% 7.7%,#009fff 7.7% 9.3%,#00afff 9.3% 10.7%,#00bfff 10.8% 12.1%,#00cfff 12.2% 13.4%,#00dfff 13.5% 14.7%,#00efff 14.7%,#00f0ff 15.8%,#00feff 15.9%,#02fffd 16.9%,#0dfff2 17%,#14ffeb 17.9%,#1cffe3 18%,#25ffda 18.8%,#2affd5 18.9%,#4bffb4 20.6%,#79ff86 22.5%,#b6ff49 24.2%,#fffc00 25.7%,#ffc900 26.4%,#ff9100 26.9%,#ff5800 27.2%,#ff3600 27.4%,#ff0b00 27.5%,#fa0000 27.6%,#c80000 27.7%,#bd0000 27.8%,#ba0000 27.9%,#cc0000 28%,#fc0000 28.1%,#ff0c00 28.2%,#ff3e00 28.4%,#ff6200 28.6%,#ff8300 28.8%,#ffa100 29.1%,#ffbc00 29.5%,#ffd600 29.9%,#ffff00 31%,#e2ff1d 32.2%,#ddff22 32.8%,#d1ff2e 32.9%,#cfff30 34.1%,#bfff40 34.2% 36.4%,#afff50 36.5% 63.6%,#bfff40 63.6% 65.8%,#cfff30 65.9%,#d1ff2e 67.2%,#ddff22 67.2%,#e2ff1d 67.9%,#feff01 69%,#ffd800 70.1%,#ffbe00 70.5%,#ff9f00 70.9%,#ff8000 71.2%,#ff5e00 71.5%,#ff3800 71.7%,#ff0500 71.9%,#f40000 71.9%,#c50000 72.1%,#bb0000 72.1%,#ba0000 72.2%,#cf0000 72.3%,#ff0300 72.5%,#ff3000 72.6%,#ff5300 72.8%,#ff7700 73%,#ff9500 73.2%,#ffcc00 73.7%,#fffe00 74.3%,#b7ff48 75.8%,#7aff85 77.5%,#54ffab 79%,#2affd5 81.2%,#25ffda 81.2%,#1cffe3 82.1%,#14ffeb 82.1%,#0dfff2 83%,#03fffc 83.1%,#00feff 84.1%,#00f0ff 84.2%,#00efff 85.3%,#00dfff 85.3% 86.6%,#00cfff 86.6% 87.8%,#00bfff 87.9% 89.3%,#00afff 89.3% 90.7%,#009fff 90.8% 92.3%,#008fff 92.3% 93.9%,#0080ff 93.9% 95.6%,#0070ff 95.6% 97.4%,#0060ff 97.5% 99.8%,#0050ff 99.8% 100%)"></i>
<i style="background:linear-gradient(#0050ff 0 0.2%,#0060ff 0.3% 2.6%,#0070ff 2.6% 4.4%,#0080ff 4.5% 6.1%,#008fff 6.2% 7.7%,#009fff 7.8% 9.3%,#00afff 9.3% 10.7%,#00bfff 10.8% 12.2%,#00cfff 12.2% 13.4%,#00dfff 13.5% 14.7%,#00efff 14.8%,#00f0ff 15.8%,#00feff 15.9%,#02fffd 16.9%,#0dfff2 17%,#14ffeb 17.9%,#1cffe3 18%,#26ffd9 18.8%,#2affd5 18.9%,#54ffab 21%,#79ff86 22.4%,#b6ff49 24.2%,#fffc00 25.7%,#ffc900 26.3%,#ff9100 26.8%,#ff5700 27.2%,#ff3500 27.3%,#ff0900 27.5%,#f80000 27.5%,#c60000 27.7%,#bc0000 27.7%,#ba0000 27.8%,#cf0000 27.9%,#ff0100 28.1%,#ff3600 28.3%,#ff5c00 28.5%,#ff7f00 28.7%,#ff9f00 29%,#ffba00 29.4%,#ffd500 29.8%,#ffff00 30.9%,#e2ff1d 32.1%,#dcff23 32.7%,#d2ff2d 32.7%,#cfff30 34%,#bfff40 34% 36.1%,#afff50 36.2% 63.8%,#bfff40 63.9% 66%,#cfff30 66.1%,#d2ff2d 67.3%,#dcff23 67.3%,#e2ff1d 68%,#feff01 69.1%,#ffd700 70.2%,#ffbc00 70.6%,#ffa100 71%,#ff8200 71.3%,#ff6000 71.5%,#ff3b00 71.7%,#ff0800 71.9%,#f80000 72%,#c80000 72.1%,#bd0000 72.2%,#ba0000 72.3%,#c00000 72.3%,#cd0000 72.4%,#ff0100 72.5%,#ff2e00 72.7%,#ff5200 72.8%,#ff7700 73%,#ff9400 73.2%,#ffcc00 73.7%,#fffe00 74.4%,#d7ff28 75.1%,#b7ff48 75.8%,#79ff86 77.6%,#53ffac 79.1%,#2affd5 81.2%,#25ffda 81.2%,#1cffe3 82.1%,#14ffeb 82.1%,#0dfff2 83%,#03fffc 83.1%,#00feff 84.1%,#00f0ff 84.2%,#00efff 85.3%,#00dfff 85.3% 86.5%,#00cfff 86.6% 87.8%,#00bfff 87.9% 89.2%,#00afff 89.3% 90.7%,#009fff 90.7% 92.2%,#008fff 92.3% 93.8%,#0080ff 93.9% 95.5%,#0070ff 95.6% 97.4%,#0060ff 97.4% 99.8%,#0050ff 99.8% 100%)"></i>
<i style="background:linear-gradient(#0050ff 0 0.2%,#0060ff 0.3% 2.6%,#0070ff 2.6% 4.5%,#0080ff 4.5% 6.2%,#008fff 6.2% 7.8%,#009fff 7.8% 9.3%,#00afff 9.4% 10.8%,#00bfff 10.8% 12.2%,#00cfff 12.2% 13.5%,#00dfff 13.5% 14.7%,#00efff 14.8%,#00f0ff 15.8%,#00feff 15.9%,#03fffc 16.9%,#0dfff2 17%,#14ffeb 17.9%,#1cffe3 18%,#25ffda 18.8%,#2affd5 18.8%,#53ffac 20.9%,#79ff86 22.4%,#b7ff48 24.2%,#fffd00 25.6%,#ffc900 26.3%,#ff9100 26.8%,#ff5600 27.1%,#ff3300 27.3%,#ff0700 27.4%,#f50000 27.5%,#c40000 27.6%,#bb0000 27.7% 27.7%,#c40000 27.8%,#ff0400 28%,#ff3900 28.2%,#ff5e00 28.4%,#ff8100 28.7%,#ffa000 29%,#ffd400 29.7%,#ffff00 30.8%,#e2ff1d 32%,#dcff23 32.6%,#d2ff2d 32.6%,#cfff30 33.8%,#bfff40 33.9% 35.8%,#afff50 35.9% 64.2%,#bfff40 64.2% 66.2%,#cfff30 66.2%,#d2ff2d 67.4%,#dcff23 67.5%,#e2ff1d 68.1%,#feff01 69.2%,#ffd500 70.3%,#ffba00 70.7%,#ff9e00 71.1%,#ff7e00 71.4%,#ff5a00 71.6%,#ff3300 71.8%,#fb0000 72%,#ca0000 72.2%,#be0000 72.3%,#ba0000 72.3%,#be0000 72.4%,#ca0000 72.4%,#fe0000 72.6%,#ff2d00 72.7%,#ff5100 72.9%,#ff7600 73.1%,#ff9400 73.3%,#ffcc00 73.8%,#fffe00 74.4%,#d9ff26 75.1%,#b8ff47 75.8%,#7aff85 77.6%,#54ffab 79.1%,#2affd5 81.2%,#25ffda 81.2%,#1cffe3 82.1%,#14ffeb 82.1%,#0dfff2 83%,#03fffc 83.1%,#00feff 84.1%,#00f0ff 84.2%,#00efff 85.3%,#00dfff 85.3% 86.5%,#00cfff 86.6% 87.8%,#00bfff 87.8% 89.2%,#00afff 89.3% 90.6%,#009fff 90.7% 92.2%,#008fff 92.3% 93.8%,#0080ff 93.8% 95.5%,#0070ff 95.5% 97.4%,#0060ff 97.4% 99.7%,#0050ff 99.8% 100%)"></i>
<i style="background:linear-gradient(#0050ff 0 0.3%,#0060ff 0.3% 2.6%,#0070ff 2.7% 4.5%,#0080ff 4.6% 6.2%,#008fff 6.3% 7.8%,#009fff 7.9% 9.4%,#00afff 9.4% 10.8%,#00bfff 10.8% 12.2%,#00cfff 12.3% 13.5%,#00dfff 13.5% 14.7%,#00efff 14.8%,#00f0ff 15.9%,#00feff 15.9%,#03fffc 16.9%,#0dfff2 17%,#14ffeb 17.9%,#1cffe3 18%,#25ffda 18.8%,#52ffad 20.9%,#79ff86 22.4%,#b7ff48 24.1%,#fffd00 25.6%,#ffca00 26.2%,#ff9000 26.7%,#ff5500 27.1%,#ff3200 27.2%,#ff0500 27.4%,#f30000 27.4%,#d00000 27.5%,#ba0000 27.6%,#bc0000 27.7%,#c60000 27.7%,#f70000 27.9%,#ff0800 28%,#ff3b00 28.2%,#ff6100 28.4%,#ff8300 28.6%,#ffa200 28.9%,#ffbe00 29.3%,#ffd800 29.7%,#feff01 30.8%,#e2ff1d 31.9%,#dbff24 32.4%,#d3ff2c 32.5%,#cfff30 33.6%,#bfff40 33.7% 35.6%,#afff50 35.6% 64.4%,#bfff40 64.5% 66.3%,#cfff30 66.4%,#d2ff2d 67.5%,#dbff24 67.6%,#e1ff1e 68.1%,#ffff00 69.3%,#ffd700 70.3%,#ffbc00 70.8%,#ffa000 71.1%,#ff8000 71.4%,#ff5d00 71.7%,#ff3600 71.9%,#ff0000 72.1%,#cd0000 72.3%,#ba0000 72.4%,#bd0000 72.4%,#c80000 72.5%,#fc0000 72.6%,#ff0d00 72.7%,#ff3800 72.8%,#ff5a00 73%,#ff9400 73.3%,#ffcc00 73.8%,#ffff00 74.5%,#d9ff26 75.2%,#b8ff47 75.9%,#7aff85 77.6%,#53ffac 79.1%,#26ffd9 81.2%,#1bffe4 82.1%,#14ffeb 82.1%,#0dfff2 83%,#03fffc 83.1%,#00feff 84.1%,#00f0ff 84.2%,#00efff 85.2%,#00dfff 85.3% 86.5%,#00cfff 86.5% 87.8%,#00bfff 87.8% 89.2%,#00afff 89.2% 90.6%,#009fff 90.7% 92.2%,#008fff 92.2% 93.8%,#0080ff 93.8% 95.4%,#0070ff 95.5% 97.4%,#0060ff 97.4% 99.7%,#0050ff 99.8% 100%)"></i>
<i style="background:linear-gradient(#0050ff 0 0.3%,#0060ff 0.3% 2.6%,#0070ff 2.7% 4.6%,#0080ff 4.6% 6.3%,#008fff 6.3% 7.8%,#009fff 7.9% 9.4%,#00afff 9.4% 10.8%,#00bfff 10.9% 12.2%,#00cfff 12.3% 13.5%,#00dfff 13.6% 14.7%,#00efff 14.8%,#00f0ff 15.9%,#00feff 15.9%,#03fffc 16.9%,#0dfff2 17%,#14ffeb 17.9%,#1bffe4 17.9%,#26ffd9 18.8%,#53ffac 20.9%,#7aff85 22.4%,#b8ff47 24.1%,#fffd00 25.5%,#ffce00 26.1%,#ff9700 26.6%,#ff5e00 27%,#ff3000 27.2%,#ff0300 27.3%,#f10000 27.4%,#ce0000 27.5%,#c00000 27.5%,#ba0000 27.6%,#be0000 27.6%,#c90000 27.7%,#fa0000 27.9%,#ff0b00 27.9%,#ff3e00 28.1%,#ff6300 28.3%,#ff8500 28.6%,#ffa400 28.9%,#ffd700 29.6%,#feff01 30.7%,#e2ff1d 31.8%,#dbff24 32.3%,#d3ff2c 32.4%,#cfff30 33.5%,#bfff40 33.5% 35.3%,#afff50 35.4% 64.7%,#bfff40 64.7% 66.5%,#cfff30 66.5%,#d3ff2c 67.7%,#dbff24 67.7%,#e2ff1d 68.3%,#ffff00 69.4%,#ffd600 70.4%,#ffa200 71.2%,#ff8200 71.5%,#ff5f00 71.7%,#ff3800 71.9%,#ff0300 72.1%,#f20000 72.2%,#c20000 72.4%,#bb0000 72.4%,#bc0000 72.5%,#c60000 72.5%,#fa0000 72.7%,#ff0b00 72.7%,#ff3700 72.9%,#ff5900 73%,#ff9400 73.4%,#ffcc00 73.9%,#ffff00 74.5%,#dbff24 75.2%,#b9ff46 75.9%,#7aff85 77.6%,#53ffac 79.1%,#26ffd9 81.2%,#1bffe4 82.1%,#14ffeb 82.1%,#0dfff2 83%,#03fffc 83.1%,#00feff 84.1%,#00f0ff 84.2%,#00efff 85.2%,#00dfff 85.3% 86.5%,#00cfff 86.5% 87.7%,#00bfff 87.8% 89.2%,#00afff 89.2% 90.6%,#009fff 90.6% 92.1%,#008fff 92.2% 93.7%,#0080ff 93.8% 95.4%,#0070ff 95.5% 97.3%,#0060ff 97.4% 99.7%,#0050ff 99.7% 100%)"></i>
<i style="background:linear-gradient(#0050ff 0 0.3%,#0060ff 0.4% 2.6%,#0070ff 2.7% 4.6%,#0080ff 4.7% 6.3%,#008fff 6.4% 7.9%,#009fff 7.9% 9.4%,#00afff 9.5% 10.9%,#00bfff 10.9% 12.2%,#00cfff 12.3% 13.5%,#00dfff 13.6% 14.8%,#00efff 14.8%,#00f1ff 15.9%,#00feff 15.9%,#03fffc 16.9%,#0dfff2 17%,#14ffeb 17.9%,#1bffe4 17.9%,#26ffd9 18.8%,#52ffad 20.8%,#79ff86 22.3%,#b8ff47 24.1%,#fffe00 25.5%,#ffcf00 26.1%,#ff9700 26.6%,#ff7900 26.8%,#ff5300 27%,#ff2f00 27.1%,#ff0100 27.3%,#ef0000 27.3%,#cc0000 27.4%,#bf0000 27.5%,#ba0000 27.5%,#bf0000 27.6%,#cb0000 27.6%,#fd0000 27.8%,#ff0e00 27.9%,#ff3500 28%,#ff5d00 28.2%,#ff8100 28.5%,#ffa100 28.8%,#ffbd00 29.1%,#ffd600 29.5%,#feff01 30.5%,#e5ff1a 31.5%,#dbff24 32.2%,#d4ff2b 32.2%,#cfff30 33.3%,#bfff40 33.4% 35.1%,#afff50 35.1% 64.9%,#bfff40 64.9% 66.6%,#cfff30 66.7%,#d3ff2c 67.8%,#dbff24 67.8%,#e4ff1b 68.5%,#ffff00 69.5%,#ffd400 70.5%,#ffbb00 70.9%,#ff9f00 71.3%,#ff8400 71.5%,#ff6100 71.8%,#ff3b00 72%,#ff0600 72.2%,#f50000 72.3%,#c50000 72.4%,#bc0000 72.5% 72.5%,#c50000 72.6%,#f70000 72.7%,#ff0a00 72.8%,#ff3600 72.9%,#ff5900 73.1%,#ff9400 73.4%,#ffcc00 73.9%,#fffc00 74.5%,#b4ff4b 76%,#78ff87 77.7%,#52ffad 79.2%,#25ffda 81.3%,#1bffe4 82.1%,#14ffeb 82.1%,#0dfff2 83%,#03fffc 83.1%,#00feff 84.1%,#00f0ff 84.2%,#00efff 85.2%,#00dfff 85.3% 86.5%,#00cfff 86.5% 87.7%,#00bfff 87.8% 89.1%,#00afff 89.2% 90.5%,#009fff 90.6% 92.1%,#008fff 92.1% 93.7%,#0080ff 93.7% 95.4%,#0070ff 95.4% 97.3%,#0060ff 97.4% 99.7%,#0050ff 99.7% 100%)"></i>
<i style="background:linear-gradient(#0050ff 0 0.3%,#0060ff 0.4% 2.7%,#0070ff 2.7% 4.7%,#0080ff 4.7% 6.3%,#008fff 6.4% 7.9%,#009fff 8% 9.5%,#00afff 9.5% 10.9%,#00bfff 10.9% 12.3%,#00cfff 12.3% 13.5%,#00dfff 13.6% 14.8%,#00efff 14.8%,#00f1ff 15.9%,#00fdff 15.9%,#03fffc 16.9%,#0dfff2 17%,#14ffeb 17.9%,#1bffe4 17.9%,#26ffd9 18.8%,#53ffac 20.8%,#7aff85 22.3%,#b7ff48 24%,#d9ff26 24.7%,#fffe00 25.4%,#ffca00 26.1%,#ff9000 26.6%,#ff5300 26.9%,#ff2e00 27.1%,#fe0000 27.2%,#ca0000 27.4%,#be0000 27.4%,#bb0000 27.5%,#c10000 27.5%,#ce0000 27.6%,#ff0200 27.7%,#ff2c00 27.9%,#ff5600 28.1%,#ff7d00 28.4%,#ff9e00 28.7%,#ffbb00 29%,#ffd400 29.4%,#ffff00 30.4%,#e5ff1a 31.4%,#daff25 32.1%,#d4ff2b 32.1%,#cfff30 33.2%,#bfff40 33.2% 34.9%,#afff50 34.9% 65.1%,#bfff40 65.1% 66.8%,#cfff30 66.9%,#d3ff2c 67.9%,#daff25 67.9%,#e4ff1b 68.6%,#feff01 69.6%,#ffd600 70.6%,#ffbd00 71%,#ffa000 71.3%,#ff8000 71.6%,#ff5b00 71.9%,#ff3200 72.1%,#ff0900 72.3%,#f80000 72.3%,#c70000 72.5%,#bd0000 72.5%,#bb0000 72.6%,#c30000 72.6%,#f50000 72.8%,#ff0800 72.8%,#ff3500 73%,#ff5800 73.1%,#ff9300 73.5%,#ffcc00 74%,#fffd00 74.6%,#b6ff49 76%,#79ff86 77.7%,#52ffad 79.2%,#26ffd9 81.3%,#1bffe4 82.1%,#15ffea 82.1%,#0dfff2 83%,#03fffc 83.1%,#00fdff 84.1%,#00f1ff 84.2%,#00efff 85.2%,#00dfff 85.3% 86.4%,#00cfff 86.5% 87.7%,#00bfff 87.8% 89.1%,#00afff 89.1% 90.5%,#009fff 90.6% 92.1%,#008fff 92.1% 93.6%,#0080ff 93.7% 95.3%,#0070ff 95.4% 97.3%,#0060ff 97.4% 99.7%,#0050ff 99.7% 100%)"></i>
<i style="background:linear-gradient(#0050ff 0 0.3%,#0060ff 0.4% 2.7%,#0070ff 2.7% 4.7%,#0080ff 4.7% 6.4%,#008fff 6.4% 7.9%,#009fff 8% 9.5%,#00afff 9.5% 10.9%,#00bfff 11% 12.3%,#00cfff 12.3% 13.5%,#00dfff 13.6% 14.8%,#00efff 14.8%,#00f1ff 15.9%,#00fdff 15.9%,#03fffc 16.9%,#0dfff2 17%,#15ffea 17.9%,#1bffe4 17.9%,#26ffd9 18.7%,#52ffad 20.8%,#79ff86 22.3%,#b9ff46 24%,#dbff24 24.7%,#ffff00 25.4%,#ffca00 26%,#ff9000 26.5%,#ff5200 26.9%,#ff2d00 27%,#fc0000 27.2%,#c80000 27.3%,#bd0000 27.4%,#bb0000 27.4%,#c30000 27.5%,#ff0500 27.7%,#ff2f00 27.9%,#ff5900 28.1%,#ff7e00 28.3%,#ffa000 28.6%,#ffbd00 29%,#ffd600 29.4%,#fdff02 30.4%,#e5ff1a 31.3%,#daff25 32%,#d4ff2b 32%,#cfff30 33%,#bfff40 33.1% 34.7%,#afff50 34.7% 38.9%,#9fff60 39% 43.4%,#afff50 43.4% 56.6%,#9fff60 56.6% 61%,#afff50 61.1% 65.3%,#bfff40 65.4% 67%,#cfff30 67%,#d4ff2b 68%,#daff25 68.1%,#e6ff19 68.8%,#feff01 69.7%,#ffd400 70.7%,#ffbb00 71.1%,#ff9d00 71.4%,#ff8200 71.7%,#ff5d00 71.9%,#ff3500 72.1%,#fb0000 72.4%,#c90000 72.5%,#be0000 72.6%,#bb0000 72.6%,#c20000 72.7%,#f30000 72.8%,#ff0600 72.9%,#ff3300 73%,#ff5700 73.2%,#ff9300 73.5%,#ffcd00 74%,#fffd00 74.6%,#b6ff49 76.1%,#79ff86 77.8%,#51ffae 79.3%,#26ffd9 81.3%,#1bffe4 82.1%,#15ffea 82.1%,#0dfff2 83%,#03fffc 83.1%,#00fdff 84.1%,#00f1ff 84.2%,#00efff 85.2%,#00dfff 85.3% 86.4%,#00cfff 86.5% 87.7%,#00bfff 87.7% 89.1%,#00afff 89.1% 90.5%,#009fff 90.5% 92%,#008fff 92.1% 93.6%,#0080ff 93.6% 95.3%,#0070ff 95.3% 97.3%,#0060ff 97.4% 99.6%,#0050ff 99.7% 100%)"></i>
<i style="background:linear-gradient(#0050ff 0 0.4%,#0060ff 0.4% 2.7%,#0070ff 2.7% 4.7%,#0080ff 4.8% 6.4%,#008fff 6.5% 8%,#009fff 8% 9.5%,#00afff 9.6% 10.9%,#00bfff 11% 12.3%,#00cfff 12.4% 13.6%,#00dfff 13.6% 14.8%,#00efff 14.8%,#00f1ff 15.9%,#00fdff 15.9%,#03fffc 16.9%,#0dfff2 17%,#15ffea 17.9%,#1bffe4 17.9%,#26ffd9 18.7%,#51ffae 20.7%,#79ff86 22.2%,#b6ff49 23.9%,#fffc00 25.4%,#ffca00 26%,#ff9000 26.5%,#ff5100 26.8%,#ff0d00 27.1%,#fa0000 27.1%,#c60000 27.3%,#bd0000 27.3%,#bc0000 27.4%,#c50000 27.4%,#f60000 27.6%,#ff0800 27.6%,#ff3100 27.8%,#ff5b00 28%,#ff8000 28.3%,#ffa100 28.6%,#ffbe00 28.9%,#ffd700 29.3%,#feff01 30.3%,#d4ff2b 31.9%,#cfff30 32.9%,#bfff40 32.9% 34.5%,#afff50 34.5% 38.1%,#9fff60 38.2% 44.6%,#afff50 44.7% 55.3%,#9fff60 55.4% 61.8%,#afff50 61.9% 65.5%,#bfff40 65.5% 67.1%,#cfff30 67.2%,#d4ff2b 68.1%,#daff25 68.2%,#e6ff19 68.9%,#ffff00 69.8%,#ffd600 70.7%,#ffbc00 71.1%,#ff9f00 71.5%,#ff8300 71.7%,#ff5f00 72%,#ff3700 72.2%,#ff0000 72.4%,#cc0000 72.6%,#bf0000 72.6%,#bb0000 72.7%,#c00000 72.7%,#ce0000 72.8%,#ff0400 72.9%,#ff3200 73.1%,#ff5600 73.2%,#ff9300 73.6%,#ffcd00 74.1%,#fffd00 74.7%,#b7ff48 76.1%,#79ff86 77.8%,#52ffad 79.3%,#26ffd9 81.3%,#1bffe4 82.1%,#14ffeb 82.2%,#0dfff2 83%,#03fffc 83.1%,#00fdff 84.1%,#00f1ff 84.2%,#00efff 85.2%,#00e0ff 85.2%,#00dfff 86.4%,#00cfff 86.5% 87.7%,#00bfff 87.7% 89%,#00afff 89.1% 90.5%,#009fff 90.5% 92%,#008fff 92% 93.6%,#0080ff 93.6% 95.2%,#0070ff 95.3% 97.3%,#0060ff 97.3% 99.6%,#0050ff 99.7% 100%)"></i>
<i style="background:linear-gradient(#0050ff 0 0.4%,#0060ff 0.4% 2.7%,#0070ff 2.8% 4.8%,#0080ff 4.8% 6.5%,#008fff 6.5% 8%,#009fff 8.1% 9.5%,#00afff 9.6% 11%,#00bfff 11% 12.3%,#00cfff 12.4% 13.6%,#00dfff 13.6%,#00e0ff 14.8%,#00efff 14.8%,#00f1ff 15.9%,#00fdff 15.9%,#03fffc 16.9%,#0cfff3 17%,#15ffea 17.9%,#1bffe4 17.9%,#26ffd9 18.7%,#52ffad 20.7%,#78ff87 22.1%,#b5ff4a 23.9%,#fffc00 25.3%,#ffcb00 25.9%,#ff8f00 26.4%,#ff5000 26.8%,#ff0b00 27%,#f90000 27.1%,#c50000 27.2%,#bc0000 27.3%,#bd0000 27.3%,#c70000 27.4%,#f90000 27.5%,#ff0b00 27.6%,#ff3400 27.7%,#ff5d00 28%,#ff8200 28.2%,#ffa300 28.5%,#ffd600 29.2%,#feff01 30.2%,#d4ff2b 31.8%,#cfff30 32.7%,#bfff40 32.8% 34.3%,#afff50 34.3% 37.6%,#9fff60 37.6% 45.7%,#afff50 45.8% 54.2%,#9fff60 54.3% 62.4%,#afff50 62.5% 65.7%,#bfff40 65.7% 67.2%,#cfff30 67.3%,#d4ff2b 68.2%,#ffff00 69.9%,#ffd400 70.8%,#ffa100 71.5%,#ff8500 71.8%,#ff6100 72%,#ff3a00 72.3%,#ff0200 72.5%,#f10000 72.5%,#ce0000 72.6%,#c10000 72.7%,#bb0000 72.7%,#bf0000 72.8%,#cc0000 72.8%,#ff0200 73%,#ff3100 73.1%,#ff5600 73.3%,#ff9300 73.6%,#ffcd00 74.1%,#fffe00 74.7%,#d9ff26 75.4%,#b7ff48 76.1%,#79ff86 77.9%,#51ffae 79.3%,#26ffd9 81.3%,#1bffe4 82.1%,#15ffea 82.2%,#0dfff2 83%,#03fffc 83.1%,#00fdff 84.1%,#00f1ff 84.2%,#00efff 85.2%,#00e0ff 85.2%,#00dfff 86.4%,#00cfff 86.4% 87.6%,#00bfff 87.7% 89%,#00afff 89.1% 90.4%,#009fff 90.5% 92%,#008fff 92% 93.5%,#0080ff 93.6% 95.2%,#0070ff 95.2% 97.3%,#0060ff 97.3% 99.6%,#0050ff 99.6% 100%)"></i>
<i style="background:linear-gradient(#0050ff 0 0.4%,#0060ff 0.5% 2.7%,#0070ff 2.8% 4.8%,#0080ff 4.9% 6.5%,#008fff 6.5% 8%,#009fff 8.1% 9.6%,#00afff 9.6% 11%,#00bfff 11% 12.3%,#00cfff 12.4% 13.6%,#00dfff 13.6%,#00e0ff 14.8%,#00eeff 14.8%,#00f1ff 15.9%,#00fdff 15.9%,#03fffc 16.9%,#0cfff3 17%,#15ffea 17.9%,#1bffe4 17.9%,#26ffd9 18.7%,#51ffae 20.7%,#79ff86 22.1%,#b7ff48 23.9%,#fffc00 25.3%,#ffcb00 25.9%,#ff8f00 26.4%,#ff5000 26.7%,#ff2900 26.9%,#ff0a00 27%,#f70000 27%,#c30000 27.2%,#bc0000 27.2%,#be0000 27.3%,#c90000 27.3%,#fc0000 27.5%,#ff0d00 27.5%,#ff3600 27.7%,#ff5f00 27.9%,#ff8400 28.2%,#ffa000 28.4%,#ffd400 29.1%,#ffff00 30.1%,#d4ff2b 31.7%,#cfff30 32.6%,#bfff40 32.7% 34.1%,#afff50 34.2% 37.1%,#9fff60 37.2% 46.9%,#afff50 46.9% 53.1%,#9fff60 53.1% 62.9%,#afff50 62.9% 65.9%,#bfff40 65.9% 67.4%,#cfff30 67.4%,#d5ff2a 68.3%,#feff01 69.9%,#ffd800 70.8%,#ffbf00 71.2%,#ffa200 71.6%,#ff8700 71.8%,#ff6300 72.1%,#ff3c00 72.3%,#ff0500 72.5%,#f40000 72.6%,#c30000 72.7%,#bc0000 72.8%,#be0000 72.8%,#ca0000 72.9%,#ff0100 73%,#ff3000 73.2%,#ff5500 73.3%,#ff9300 73.7%,#ffcd00 74.2%,#fffe00 74.8%,#d8ff27 75.5%,#b8ff47 76.1%,#7aff85 77.9%,#52ffad 79.3%,#26ffd9 81.3%,#1bffe4 82.1%,#15ffea 82.2%,#0dfff2 83%,#04fffb 83.1%,#00fdff 84.1%,#00f1ff 84.1%,#00eeff 85.2%,#00e0ff 85.2%,#00dfff 86.4%,#00cfff 86.4% 87.6%,#00bfff 87.7% 89%,#00afff 89% 90.4%,#009fff 90.4% 91.9%,#008fff 92% 93.5%,#0080ff 93.5% 95.2%,#0070ff 95.2% 97.3%,#0060ff 97.3% 99.6%,#0050ff 99.6% 100%)"></i>
<i style="background:linear-gradient(#0050ff 0 0.4%,#0060ff 0.5% 2.7%,#0070ff 2.8% 4.9%,#0080ff 4.9% 6.5%,#008fff 6.6% 8.1%,#009fff 8.1% 9.6%,#00afff 9.7% 11%,#00bfff 11.1% 12.4%,#00cfff 12.4% 13.6%,#00dfff 13.7%,#00e0ff 14.8%,#00eeff 14.9%,#00f1ff 15.9%,#00fdff 15.9%,#04fffb 16.9%,#0cfff3 17%,#15ffea 17.8%,#1bffe4 17.9%,#26ffd9 18.7%,#50ffaf 20.6%,#78ff87 22.1%,#b7ff48 23.8%,#fffd00 25.2%,#ffcb00 25.8%,#ff9600 26.3%,#ff5a00 26.6%,#ff3600 26.8%,#ff0800 26.9%,#f50000 27%,#d10000 27.1%,#c20000 27.1%,#bc0000 27.2%,#bf0000 27.2%,#cb0000 27.3%,#ff0000 27.4%,#ff2c00 27.6%,#ff5800 27.8%,#ff7f00 28.1%,#ff9c00 28.3%,#ffbb00 28.7%,#ffd600 29.1%,#feff01 30%,#d4ff2b 31.6%,#cfff30 32.5%,#bfff40 32.5% 33.9%,#afff50 34% 36.7%,#9fff60 36.8% 48.4%,#afff50 48.4% 51.6%,#9fff60 51.6% 63.3%,#afff50 63.3% 66%,#bfff40 66.1%,#c0ff3f 67.5%,#ceff31 67.6%,#d5ff2a 68.4%,#ffff00 70%,#ffd400 71%,#ffb900 71.4%,#ff9f00 71.7%,#ff8200 71.9%,#ff5d00 72.2%,#ff3300 72.4%,#ff0800 72.6%,#f60000 72.6%,#c40000 72.8%,#bc0000 72.8%,#be0000 72.9%,#c90000 72.9%,#fe0000 73.1%,#ff2f00 73.2%,#ff5500 73.4%,#ff9300 73.7%,#ffce00 74.2%,#ffff00 74.8%,#daff25 75.5%,#b8ff47 76.2%,#79ff86 77.9%,#51ffae 79.4%,#26ffd9 81.3%,#1bffe4 82.1%,#15ffea 82.2%,#0cfff3 83%,#04fffb 83.1%,#00fdff 84.1%,#00f1ff 84.1%,#00eeff 85.2%,#00e0ff 85.2%,#00dfff 86.4%,#00cfff 86.4% 87.6%,#00bfff 87.7% 89%,#00afff 89% 90.4%,#009fff 90.4% 91.9%,#008fff 91.9% 93.4%,#0080ff 93.5% 95.1%,#0070ff 95.2% 97.2%,#0060ff 97.3% 99.5%,#0050ff 99.6% 100%)"></i>
<i style="background:linear-gradient(#0050ff 0 0.5%,#0060ff 0.5% 2.7%,#0070ff 2.8% 4.9%,#0080ff 4.9% 6.6%,#008fff 6.6% 8.1%,#009fff 8.2% 9.6%,#00afff 9.7% 11%,#00bfff 11.1% 12.4%,#00cfff 12.4% 13.6%,#00dfff 13.7%,#00e0ff 14.8%,#00eeff 14.9%,#00f1ff 15.9%,#00fdff 15.9%,#04fffb 16.9%,#0cfff3 17%,#15ffea 17.8%,#1bffe4 17.9%,#26ffd9 18.7%,#51ffae 20.6%,#79ff86 22.1%,#b6ff49 23.8%,#fffd00 25.2%,#ffcb00 25.8%,#ff9600 26.2%,#ff5a00 26.6%,#ff3500 26.7%,#ff0700 26.9%,#f30000 26.9%,#cf0000 27%,#c10000 27.1%,#bc0000 27.1%,#c10000 27.2%,#ce0000 27.2%,#ff0300 27.4%,#ff2f00 27.5%,#ff5a00 27.7%,#ff8100 28%,#ff9e00 28.3%,#ffb900 28.6%,#ffd400 29%,#feff01 29.9%,#d4ff2b 31.5%,#ceff31 32.3%,#c0ff3f 32.4%,#bfff40 33.8%,#afff50 33.8% 36.4%,#9fff60 36.4% 63.6%,#afff50 63.7% 66.2%,#bfff40 66.3%,#c0ff3f 67.6%,#ceff31 67.7%,#d5ff2a 68.5%,#ffff00 70.1%,#ffd200 71.1%,#ffb700 71.5%,#ff9b00 71.8%,#ff7d00 72%,#ff5f00 72.3%,#ff3500 72.5%,#ff0b00 72.6%,#f90000 72.7%,#c60000 72.8%,#bd0000 72.9% 72.9%,#c70000 73%,#fd0000 73.1%,#ff0f00 73.2%,#ff3c00 73.3%,#ff5f00 73.5%,#ff9a00 73.8%,#ffce00 74.3%,#ffff00 74.9%,#daff25 75.5%,#b9ff46 76.2%,#7aff85 77.9%,#52ffad 79.4%,#27ffd8 81.3%,#1bffe4 82.1%,#15ffea 82.2%,#0cfff3 83.1%,#03fffc 83.1%,#00fdff 84.1%,#00f1ff 84.1%,#00eeff 85.2%,#00e0ff 85.2%,#00dfff 86.4%,#00cfff 86.4% 87.6%,#00bfff 87.6% 89%,#00afff 89% 90.3%,#009fff 90.4% 91.9%,#008fff 91.9% 93.4%,#0080ff 93.5% 95.1%,#0070ff 95.1% 97.2%,#0060ff 97.3% 99.5%,#0050ff 99.6% 100%)"></i>
<i style="background:linear-gradient(#0050ff 0 0.5%,#0060ff 0.5% 2.8%,#0070ff 2.9% 4.9%,#0080ff 5% 6.6%,#008fff 6.6% 8.1%,#009fff 8.2% 9.7%,#00afff 9.7% 11%,#00bfff 11.1% 12.4%,#00cfff 12.4% 13.6%,#00dfff 13.7%,#00e0ff 14.8%,#00eeff 14.9%,#00f1ff 15.9%,#00fdff 15.9%,#04fffb 16.9%,#0cfff3 17%,#15ffea 17.8%,#1bffe4 17.9%,#26ffd9 18.7%,#52ffad 20.6%,#78ff87 22%,#b8ff47 23.8%,#fffe00 25.1%,#ffcc00 25.7%,#ff9600 26.2%,#ff5900 26.5%,#ff3400 26.7%,#ff0500 26.8%,#f20000 26.9%,#cd0000 27%,#c00000 27%,#bc0000 27.1%,#c20000 27.1%,#f30000 27.3%,#ff0500 27.3%,#ff3100 27.5%,#ff5c00 27.7%,#ff8300 28%,#ff9f00 28.2%,#ffba00 28.5%,#ffd500 28.9%,#ffff00 29.8%,#d4ff2b 31.4%,#ceff31 32.2%,#c1ff3e 32.3%,#bfff40 33.6%,#afff50 33.6% 36%,#9fff60 36% 64%,#afff50 64% 66.4%,#bfff40 66.4%,#c1ff3e 67.8%,#cdff32 67.8%,#d4ff2b 68.6%,#feff01 70.2%,#ffd400 71.1%,#ffb800 71.5%,#ff9d00 71.8%,#ff7f00 72.1%,#ff5700 72.4%,#ff3700 72.5%,#fc0000 72.7%,#c80000 72.9%,#be0000 72.9%,#bd0000 73%,#c60000 73%,#fb0000 73.2%,#ff0e00 73.2%,#ff2d00 73.3%,#ff5400 73.5%,#ff9300 73.8%,#ffc900 74.3%,#fffc00 74.9%,#b4ff4b 76.3%,#78ff87 78%,#50ffaf 79.5%,#26ffd9 81.4%,#1bffe4 82.1%,#15ffea 82.2%,#0cfff3 83.1%,#04fffb 83.1%,#00fdff 84.1%,#00f2ff 84.1%,#00eeff 85.2%,#00e0ff 85.2%,#00dfff 86.3%,#00cfff 86.4% 87.6%,#00bfff 87.6% 88.9%,#00afff 89% 90.3%,#009fff 90.4% 91.8%,#008fff 91.9% 93.4%,#0080ff 93.4% 95.1%,#0070ff 95.1% 97.2%,#0060ff 97.3% 99.5%,#0050ff 99.5% 100%)"></i>
<i style="background:linear-gradient(#0050ff 0 0.5%,#0060ff 0.5% 2.8%,#0070ff 2.9% 4.9%,#0080ff 5% 6.6%,#008fff 6.7% 8.2%,#009fff 8.2% 9.7%,#00afff 9.7% 11.1%,#00bfff 11.2% 12.4%,#00cfff 12.5% 13.6%,#00dfff 13.7%,#00e0ff 14.8%,#00eeff 14.9%,#00f1ff 15.9%,#00fcff 15.9%,#04fffb 16.9%,#0cfff3 17%,#15ffea 17.8%,#1bffe4 17.9%,#27ffd8 18.7%,#44ffbb 20%,#79ff86 22%,#b7ff48 23.7%,#d7ff28 24.4%,#fffe00 25.1%,#ffcc00 25.7%,#ff9700 26.1%,#ff5900 26.5%,#ff3400 26.6%,#ff0400 26.8%,#f00000 26.8%,#cc0000 26.9%,#c00000 27%,#bc0000 27%,#c40000 27.1%,#f60000 27.2%,#ff0800 27.3%,#ff3300 27.4%,#ff5e00 27.6%,#ff8400 27.9%,#ffa100 28.2%,#ffbb00 28.5%,#ffd600 28.9%,#feff01 29.8%,#d4ff2b 31.3%,#cdff32 32.1%,#c1ff3e 32.1%,#bfff40 33.4%,#afff50 33.5% 35.7%,#9fff60 35.8% 64.3%,#afff50 64.3% 66.5%,#bfff40 66.6%,#c1ff3e 67.9%,#cdff32 67.9%,#d4ff2b 68.7%,#ffff00 70.3%,#ffd500 71.2%,#ffb900 71.6%,#ff9e00 71.9%,#ff8100 72.1%,#ff5900 72.4%,#ff2d00 72.6%,#fe0000 72.8%,#ca0000 72.9%,#bf0000 73%,#bd0000 73%,#c50000 73.1%,#fa0000 73.2%,#ff0d00 73.3%,#ff2d00 73.4%,#ff5300 73.5%,#ff9300 73.9%,#ffc900 74.3%,#fffc00 74.9%,#b6ff49 76.3%,#79ff86 78%,#43ffbc 80%,#26ffd9 81.4%,#1affe5 82.2%,#15ffea 82.2%,#0cfff3 83.1%,#04fffb 83.1%,#00fdff 84.1%,#00f2ff 84.1%,#00eeff 85.2%,#00e0ff 85.2%,#00dfff 86.3%,#00cfff 86.4% 87.6%,#00bfff 87.6% 88.9%,#00afff 89% 90.3%,#009fff 90.3% 91.8%,#008fff 91.9% 93.3%,#0080ff 93.4% 95.1%,#0070ff 95.1% 97.2%,#0060ff 97.3% 99.5%,#0050ff 99.5% 100%)"></i>
<i style="background:linear-gradient(#0050ff 0 0.5%,#0060ff 0.6% 2.8%,#0070ff 2.9% 4.9%,#0080ff 5% 6.7%,#008fff 6.7% 8.2%,#009fff 8.2% 9.7%,#00afff 9.8% 11.1%,#00bfff 11.2% 12.4%,#00cfff 12.5% 13.6%,#00dfff 13.7%,#00e0ff 14.8%,#00eeff 14.9%,#00f2ff 15.9%,#00fcff 15.9%,#04fffb 16.9% 16.9%,#0cfff3 17%,#15ffea 17.8%,#1bffe4 17.9%,#43ffbc 20%,#79ff86 22%,#b9ff46 23.7%,#daff25 24.4%,#ffff00 25%,#ffcc00 25.6%,#ff9700 26.1%,#ff5800 26.4%,#ff3300 26.6%,#ff0200 26.7%,#ef0000 26.8%,#cb0000 26.9%,#bf0000 26.9%,#bd0000 27%,#c50000 27%,#f80000 27.2%,#ff0a00 27.2%,#ff3500 27.4%,#ff6000 27.6%,#ff8600 27.9%,#ffa200 28.1%,#ffbd00 28.4%,#ffd800 28.8%,#feff01 29.7%,#d5ff2a 31.2%,#cdff32 32%,#c2ff3d 32%,#bfff40 33.2%,#afff50 33.3% 35.4%,#9fff60 35.5% 64.5%,#afff50 64.6% 66.7%,#bfff40 66.8%,#c1ff3e 68%,#cdff32 68%,#d4ff2b 68.8%,#feff01 70.3%,#ffd600 71.2%,#ffbb00 71.6%,#ffa000 71.9%,#ff8200 72.2%,#ff6400 72.4%,#ff3c00 72.6%,#ff0200 72.8%,#ef0000 72.9%,#cc0000 73%,#c00000 73%,#bd0000 73.1%,#c40000 73.1%,#f80000 73.3%,#ff0b00 73.3%,#ff2c00 73.4%,#ff5300 73.6%,#ff7200 73.7%,#ff9300 73.9%,#ffca00 74.4%,#fffd00 75%,#b5ff4a 76.4%,#78ff87 78.1%,#42ffbd 80.1%,#1affe5 82.2%,#15ffea 82.2%,#0cfff3 83.1%,#04fffb 83.1%,#00fcff 84.1%,#00f2ff 84.1%,#00eeff 85.1%,#00e0ff 85.2%,#00dfff 86.3%,#00cfff 86.4% 87.5%,#00bfff 87.6% 88.8%,#00afff 88.9% 90.3%,#009fff 90.3% 91.8%,#008fff 91.8% 93.3%,#0080ff 93.4% 95.1%,#0070ff 95.1% 97.1%,#0060ff 97.2% 99.5%,#0050ff 99.5% 100%)"></i>
<i style="background:linear-gradient(#0050ff 0 0.5%,#0060ff 0.6% 2.9%,#0070ff 2.9% 4.9%,#0080ff 5% 6.7%,#008fff 6.7% 8.2%,#009fff 8.3% 9.7%,#00afff 9.8% 11.2%,#00bfff 11.2% 12.4%,#00cfff 12.5% 13.7%,#00dfff 13.7%,#00e0ff 14.8%,#00eeff 14.9%,#00f2ff 15.9%,#00fcff 15.9%,#04fffb 16.9% 16.9%,#0cfff3 17%,#16ffe9 17.8%,#1bffe4 17.9%,#42ffbd 19.9%,#78ff87 21.9%,#b6ff49 23.6%,#fffb00 25%,#ffcd00 25.6%,#ff9700 26%,#ff5800 26.4%,#ff3200 26.5%,#ff0100 26.7%,#ed0000 26.7%,#c90000 26.8%,#be0000 26.9%,#bd0000 26.9%,#c70000 27%,#fb0000 27.1%,#ff0d00 27.2%,#ff3800 27.3%,#ff6100 27.5%,#ff8700 27.8%,#ffa400 28.1%,#ffd900 28.8%,#fdff02 29.6%,#d4ff2b 31.2%,#ccff33 31.9%,#c2ff3d 31.9%,#bfff40 33.1%,#afff50 33.1% 35.2%,#9fff60 35.2% 64.8%,#afff50 64.9% 66.9%,#bfff40 66.9%,#c2ff3d 68.1%,#ccff33 68.2%,#d4ff2b 68.9%,#feff01 70.4%,#ffd700 71.3%,#ffbc00 71.7%,#ffa100 72%,#ff8400 72.3%,#ff5d00 72.5%,#ff3100 72.7%,#ff0400 72.9%,#f20000 72.9%,#ce0000 73%,#c10000 73.1%,#bd0000 73.1%,#c30000 73.2%,#d10000 73.2%,#f70000 73.3%,#ff0a00 73.4%,#ff2b00 73.5%,#ff5200 73.6%,#ff7200 73.8%,#ff9300 74%,#ffca00 74.4%,#fffd00 75.1%,#b7ff48 76.4%,#77ff88 78.1%,#42ffbd 80.1%,#1affe5 82.2%,#15ffea 82.2%,#0cfff3 83.1%,#04fffb 83.1% 83.2%,#00fcff 84.1%,#00f2ff 84.1%,#00eeff 85.1%,#00e0ff 85.2%,#00dfff 86.3%,#00cfff 86.4% 87.5%,#00bfff 87.6% 88.8%,#00afff 88.9% 90.2%,#009fff 90.3% 91.8%,#008fff 91.8% 93.3%,#0080ff 93.3% 95%,#0070ff 95.1% 97.1%,#0060ff 97.2% 99.4%,#0050ff 99.5% 100%)"></i>
<i style="background:linear-gradient(#0050ff 0 0.6%,#0060ff 0.6% 2.9%,#0070ff 2.9% 4.9%,#0080ff 5% 6.7%,#008fff 6.8% 8.3%,#009fff 8.4% 9.8%,#00afff 9.8% 11.2%,#00bfff 11.2% 12.5%,#00cfff 12.5% 13.7%,#00dfff 13.7%,#00e0ff 14.8%,#00eeff 14.9%,#00f2ff 15.9%,#00fcff 15.9%,#03fffc 16.8%,#04fffb 16.9%,#0cfff3 16.9%,#15ffea 17.8%,#1affe5 17.8%,#42ffbd 19.9%,#77ff88 21.9%,#b5ff4a 23.6%,#fffc00 24.9%,#ffc800 25.6%,#ff8f00 26%,#ff6d00 26.2%,#ff4c00 26.4%,#ff2200 26.5%,#ff0000 26.6%,#c80000 26.8%,#be0000 26.8% 26.9%,#c80000 26.9%,#fd0000 27.1%,#ff0f00 27.1%,#ff3a00 27.3%,#ff6300 27.5%,#ff8200 27.7%,#ffa000 28%,#ffbb00 28.3%,#ffd700 28.7%,#feff01 29.5%,#dcff23 30.7%,#ccff33 31.7%,#c3ff3c 31.8%,#bfff40 32.9%,#afff50 33% 34.9%,#9fff60 35% 65%,#afff50 65.1% 67%,#bfff40 67.1%,#c2ff3d 68.2%,#ccff33 68.3%,#dbff24 69.3%,#ffff00 70.5%,#ffd300 71.4%,#ff9d00 72.1%,#ff7f00 72.4%,#ff5f00 72.6%,#ff3300 72.8%,#ff0700 72.9%,#f40000 73%,#d00000 73.1%,#c20000 73.1%,#bd0000 73.2%,#c20000 73.2%,#f60000 73.4%,#ff0900 73.4%,#ff2a00 73.5%,#ff5200 73.7%,#ff7200 73.8%,#ff9300 74%,#ffca00 74.5%,#fffe00 75.1%,#d7ff28 75.8%,#b6ff49 76.4%,#78ff87 78.1%,#42ffbd 80.1%,#1bffe4 82.2%,#16ffe9 82.2%,#0cfff3 83.1%,#04fffb 83.1% 83.2%,#00fcff 84.1%,#00f2ff 84.1%,#00eeff 85.1%,#00e0ff 85.2%,#00dfff 86.3%,#00cfff 86.4% 87.5%,#00bfff 87.6% 88.8%,#00afff 88.9% 90.2%,#009fff 90.3% 91.7%,#008fff 91.8% 93.3%,#0080ff 93.3% 95%,#0070ff 95.1% 97.1%,#0060ff 97.2% 99.4%,#0050ff 99.5% 100%)"></i>
<i style="background:linear-gradient(#0050ff 0 0.6%,#0060ff 0.6% 2.9%,#0070ff 2.9% 4.9%,#0080ff 5% 6.8%,#008fff 6.8% 8.3%,#009fff 8.4% 9.8%,#00afff 9.8% 11.2%,#00bfff 11.2% 12.5%,#00cfff 12.5% 13.7%,#00dfff 13.7%,#00e0ff 14.8%,#00eeff 14.9%,#00f2ff 15.9%,#00fcff 15.9%,#03fffc 16.8%,#04fffb 16.9%,#0cfff3 16.9%,#15ffea 17.8%,#1affe5 17.8%,#40ffbf 19.8%,#77ff88 21.8%,#b5ff4a 23.5%,#fffc00 24.9%,#ffc800 25.5%,#ff8f00 26%,#ff6d00 26.2%,#ff4c00 26.3%,#ff3100 26.4%,#fe0000 26.6%,#c70000 26.7%,#be0000 26.8%,#bf0000 26.8%,#ca0000 26.9%,#ff0000 27%,#ff2f00 27.2%,#ff5c00 27.4%,#ff7d00 27.6%,#ff9c00 27.9%,#ffb900 28.2%,#ffd200 28.5%,#ffff00 29.4%,#dcff23 30.6%,#cbff34 31.6%,#c3ff3c 31.7%,#bfff40 32.8%,#afff50 32.8% 34.7%,#9fff60 34.8% 65.3%,#afff50 65.3% 67.2%,#bfff40 67.2%,#c2ff3d 68.3%,#cbff34 68.4%,#dbff24 69.4%,#feff01 70.6%,#ffd700 71.4%,#ffbb00 71.8%,#ff9f00 72.1%,#ff8000 72.4%,#ff6000 72.6%,#ff3500 72.8%,#ff0900 73%,#f70000 73%,#c40000 73.2%,#bd0000 73.2%,#c10000 73.3%,#cf0000 73.3%,#f40000 73.4%,#ff0800 73.5%,#ff2900 73.6%,#ff5200 73.7%,#ff7100 73.9%,#ff9300 74.1%,#ffcb00 74.5%,#fffe00 75.2%,#d9ff26 75.8%,#b6ff49 76.5%,#77ff88 78.2%,#40ffbf 80.2%,#1bffe4 82.2%,#16ffe9 82.2%,#0cfff3 83.1%,#04fffb 83.1%,#03fffc 83.2%,#00fcff 84.1%,#00f2ff 84.1%,#00eeff 85.1%,#00e0ff 85.2%,#00dfff 86.3%,#00cfff 86.4% 87.5%,#00bfff 87.6% 88.8%,#00afff 88.8% 90.2%,#009fff 90.3% 91.6%,#008fff 91.7% 93.2%,#0080ff 93.3% 95%,#0070ff 95.1% 97.1%,#0060ff 97.1% 99.4%,#0050ff 99.4% 100%)"></i>
<i style="background:linear-gradient(#0050ff 0 0.6%,#0060ff 0.6% 2.9%,#0070ff 2.9% 5%,#0080ff 5% 6.8%,#008fff 6.8% 8.4%,#009fff 8.4% 9.8%,#00afff 9.8% 11.2%,#00bfff 11.3% 12.5%,#00cfff 12.5% 13.7%,#00dfff 13.7%,#00e0ff 14.8%,#00eeff 14.9%,#00f2ff 15.9%,#00fcff 15.9%,#03fffc 16.8%,#04fffb 16.9%,#0bfff4 16.9%,#16ffe9 17.8%,#1affe5 17.8%,#40ffbf 19.8%,#78ff87 21.8%,#b6ff49 23.5%,#fffd00 24.8%,#ffc900 25.5%,#ff9000 25.9%,#ff6d00 26.1%,#ff4b00 26.3%,#fd0000 26.5%,#c60000 26.7%,#be0000 26.7%,#c00000 26.8%,#cc0000 26.8%,#ff0300 27%,#ff3100 27.1%,#ff5d00 27.3%,#ff7e00 27.5%,#ff9d00 27.8%,#ffba00 28.1%,#ffd700 28.5%,#feff01 29.4%,#dcff23 30.5%,#cbff34 31.5%,#c3ff3c 31.6%,#bfff40 32.6%,#afff50 32.7% 34.5%,#9fff60 34.5% 65.5%,#afff50 65.5% 67.3%,#bfff40 67.4%,#c3ff3c 68.5%,#cbff34 68.5%,#ddff22 69.6%,#ffff00 70.7%,#ffd500 71.5%,#ffa000 72.2%,#ff8200 72.5%,#ff6200 72.7%,#ff3700 72.9%,#ff0b00 73%,#f90000 73.1%,#c50000 73.2%,#bd0000 73.3%,#c10000 73.3%,#ce0000 73.4%,#f30000 73.5%,#ff0700 73.5%,#ff2900 73.6%,#ff5100 73.8%,#ff7100 73.9%,#ff9300 74.1%,#ffcb00 74.6%,#ffff00 75.2%,#d9ff26 75.8%,#b7ff48 76.5%,#77ff88 78.2%,#40ffbf 80.3%,#1affe5 82.2%,#15ffea 82.3%,#0cfff3 83.1%,#04fffb 83.1%,#03fffc 83.3%,#00fcff 84.1%,#00f2ff 84.1%,#00eeff 85.1%,#00e1ff 85.2%,#00dfff 86.3%,#00cfff 86.3% 87.5%,#00bfff 87.5% 88.8%,#00afff 88.8% 90.2%,#009fff 90.2% 91.6%,#008fff 91.7% 93.2%,#0080ff 93.2% 95%,#0070ff 95.1% 97.1%,#0060ff 97.1% 99.4%,#0050ff 99.4% 100%)"></i>
<i style="background:linear-gradient(#0050ff 0 0.6%,#0060ff 0.7% 2.9%,#0070ff 3% 5%,#0080ff 5% 6.8%,#008fff 6.9% 8.4%,#009fff 8.4% 9.8%,#00afff 9.9% 11.2%,#00bfff 11.3% 12.5%,#00cfff 12.5% 13.7%,#00dfff 13.7%,#00e1ff 14.8%,#00edff 14.9%,#00f2ff 15.9%,#00fcff 15.9%,#03fffc 16.7%,#04fffb 16.9%,#0bfff4 16.9%,#16ffe9 17.8%,#3fffc0 19.7%,#77ff88 21.8%,#b6ff49 23.5%,#d7ff28 24.1%,#fffd00 24.8%,#ffc900 25.4%,#ff9000 25.9%,#ff5700 26.2%,#ff3000 26.3%,#fc0000 26.5%,#c50000 26.6%,#be0000 26.7%,#c10000 26.7%,#cd0000 26.8%,#ff0500 26.9%,#ff3300 27.1%,#ff5f00 27.3%,#ff8000 27.5%,#ff9f00 27.7%,#ffbb00 28.1%,#ffd500 28.4%,#ffff00 29.3%,#dcff23 30.4%,#cbff34 31.4%,#c3ff3c 31.5%,#bfff40 32.5%,#afff50 32.6% 34.3%,#9fff60 34.3% 65.7%,#afff50 65.7% 67.5%,#bfff40 67.5%,#c4ff3b 68.6%,#cbff34 68.6%,#ddff22 69.7%,#feff01 70.7%,#ffd600 71.6%,#ffb900 72%,#ff9c00 72.3%,#ff7c00 72.6%,#ff5a00 72.8%,#ff3900 72.9%,#fb0000 73.1%,#c60000 73.3%,#be0000 73.3%,#c00000 73.4%,#cd0000 73.4%,#f20000 73.5%,#ff0600 73.6%,#ff2800 73.7%,#ff5100 73.8%,#ff7100 74%,#ff9400 74.2%,#ffcc00 74.6%,#fffc00 75.2%,#b5ff4a 76.6%,#76ff89 78.3%,#3fffc0 80.3%,#16ffe9 82.3%,#0cfff3 83.1%,#05fffa 83.1%,#03fffc 83.3%,#00fcff 84.1%,#00f2ff 84.1%,#00eeff 85.1%,#00e1ff 85.2%,#00dfff 86.3%,#00cfff 86.3% 87.5%,#00bfff 87.5% 88.8%,#00afff 88.8% 90.2%,#009fff 90.2% 91.6%,#008fff 91.6% 93.2%,#0080ff 93.2% 95%,#0070ff 95.1% 97.1%,#0060ff 97.1% 99.4%,#0050ff 99.4% 100%)"></i>
<i style="background:linear-gradient(#0050ff 0 0.6%,#0060ff 0.7% 2.9%,#0070ff 3% 5%,#0080ff 5% 6.8%,#008fff 6.9% 8.4%,#009fff 8.4% 9.8%,#00afff 9.9% 11.2%,#00bfff 11.3% 12.5%,#00cfff 12.6% 13.7%,#00dfff 13.7%,#00e1ff 14.8%,#00edff 14.9%,#00f2ff 15.9%,#00fcff 15.9%,#03fffc 16.7%,#04fffb 16.9%,#0bfff4 16.9%,#15ffea 17.7%,#3fffc0 19.7%,#76ff89 21.7%,#b5ff4a 23.4%,#d6ff29 24.1%,#fffe00 24.7%,#ffc900 25.4%,#ff9000 25.8%,#ff5700 26.1%,#ff2f00 26.3%,#fb0000 26.4%,#c50000 26.6%,#be0000 26.6%,#c20000 26.7%,#f40000 26.8%,#ff0700 26.9%,#ff3400 27%,#ff6100 27.2%,#ff8100 27.4%,#ffa000 27.7%,#ffd600 28.4%,#feff01 29.2%,#dcff23 30.3%,#cbff34 31.3%,#c4ff3b 31.3%,#bfff40 32.4%,#afff50 32.4% 34.1%,#9fff60 34.1% 39.1%,#8fff70 39.2% 41.3%,#9fff60 41.3% 58.7%,#8fff70 58.7% 60.9%,#9fff60 60.9% 65.9%,#afff50 65.9% 67.6%,#bfff40 67.7%,#c4ff3b 68.7%,#caff35 68.7%,#ddff22 69.8%,#ffff00 70.8%,#ffd400 71.7%,#ffba00 72%,#ff9d00 72.4%,#ff7e00 72.6%,#ff5c00 72.8%,#ff2e00 73%,#fd0000 73.2%,#c80000 73.3%,#be0000 73.4%,#c00000 73.4%,#cc0000 73.5%,#f10000 73.6%,#ff0500 73.6%,#ff2800 73.7%,#ff5100 73.9%,#ff7100 74%,#ff9400 74.2%,#ffcc00 74.7%,#fffc00 75.3%,#b4ff4b 76.6%,#75ff8a 78.3%,#3effc1 80.4%,#16ffe9 82.3%,#0bfff4 83.1%,#04fffb 83.2%,#03fffc 83.4%,#00fcff 84.1%,#00f2ff 84.2%,#00edff 85.1%,#00e1ff 85.2%,#00dfff 86.3%,#00cfff 86.3% 87.5%,#00bfff 87.5% 88.7%,#00afff 88.8% 90.1%,#009fff 90.2% 91.6%,#008fff 91.6% 93.1%,#0080ff 93.2% 95%,#0070ff 95.1% 97.1%,#0060ff 97.1% 99.3%,#0050ff 99.4% 100%)"></i>
<i style="background:linear-gradient(#0050ff 0 0.7%,#0060ff 0.7% 2.9%,#0070ff 3% 5%,#0080ff 5% 6.9%,#008fff 6.9% 8.4%,#009fff 8.5% 9.9%,#00afff 9.9% 11.2%,#00bfff 11.3% 12.5%,#00cfff 12.6% 13.7%,#00dfff 13.7%,#00e1ff 14.8%,#00edff 14.9%,#00f2ff 15.9%,#00fcff 15.9%,#02fffd 16.6%,#05fffa 16.9%,#0bfff4 16.9%,#16ffe9 17.7%,#3effc1 19.6%,#76ff89 21.7%,#b7ff48 23.4%,#d8ff27 24.1%,#fffe00 24.7%,#ffca00 25.3%,#ff9000 25.8%,#ff5700 26.1%,#ff2f00 26.2%,#ff0e00 26.3%,#fa0000 26.4%,#c40000 26.5%,#be0000 26.6%,#c30000 26.6%,#f60000 26.8%,#ff0900 26.8%,#ff3600 27%,#ff6200 27.2%,#ff8300 27.4%,#ffa100 27.6%,#ffd700 28.3%,#ffff00 29.1%,#e3ff1c 29.9%,#caff35 31.2%,#c4ff3b 31.2%,#bfff40 32.2%,#afff50 32.3% 33.9%,#9fff60 34% 38%,#8fff70 38% 42.8%,#9fff60 42.8% 57.2%,#8fff70 57.3% 62%,#9fff60 62.1% 66.1%,#afff50 66.1% 67.7%,#bfff40 67.8%,#c4ff3b 68.8%,#caff35 68.8%,#dcff23 69.8%,#feff01 70.9%,#ffd500 71.7%,#ffbb00 72.1%,#ff9f00 72.4%,#ff7f00 72.7%,#ff5d00 72.9%,#ff3000 73.1%,#ff0000 73.2%,#ed0000 73.3%,#c90000 73.4%,#bf0000 73.4% 73.5%,#cb0000 73.5%,#ff0500 73.7%,#ff2700 73.8%,#ff5100 73.9%,#ff7200 74.1%,#ff9400 74.3%,#ffcc00 74.7%,#fffd00 75.3%,#d4ff2b 76%,#b3ff4c 76.7%,#75ff8a 78.4%,#3dffc2 80.4%,#16ffe9 82.3%,#0bfff4 83.1%,#04fffb 83.2%,#02fffd 83.4%,#00fcff 84.1%,#00f2ff 84.2%,#00edff 85.1%,#00e1ff 85.2%,#00dfff 86.3%,#00cfff 86.3% 87.5%,#00bfff 87.5% 88.7%,#00afff 88.8% 90.1%,#009fff 90.2% 91.6%,#008fff 91.6% 93.1%,#0080ff 93.2% 95%,#0070ff 95.1% 97%,#0060ff 97.1% 99.3%,#0050ff 99.4% 100%)"></i>
<i style="background:linear-gradient(#0050ff 0 0.7%,#0060ff 0.7% 2.9%,#0070ff 3% 5%,#0080ff 5% 6.9%,#008fff 6.9% 8.4%,#009fff 8.5% 9.9%,#00afff 9.9% 11.3%,#00bfff 11.3% 12.5%,#00cfff 12.6% 13.7%,#00dfff 13.8%,#00e1ff 14.8%,#00edff 14.9%,#00f2ff 15.9%,#00fcff 15.9%,#02fffd 16.6%,#3cffc3 19.5%,#75ff8a 21.6%,#b4ff4b 23.3%,#d8ff27 24%,#ffff00 24.6%,#fffb00 24.7%,#ffca00 25.3%,#ff9000 25.7%,#ff5700 26%,#ff2f00 26.2%,#ff0d00 26.3%,#f90000 26.3%,#d20000 26.4%,#c30000 26.5%,#be0000 26.5%,#c40000 26.6%,#f80000 26.7%,#ff0b00 26.8%,#ff3800 26.9%,#ff6400 27.1%,#ff8400 27.3%,#ffa300 27.6%,#ffd800 28.3%,#fdff02 29.1%,#e2ff1d 29.9%,#caff35 31.1%,#c5ff3a 31.1%,#bfff40 32.1%,#afff50 32.2% 33.7%,#9fff60 33.8% 37.3%,#8fff70 37.4% 43.8%,#9fff60 43.8% 56.2%,#8fff70 56.2% 62.7%,#9fff60 62.7% 66.3%,#afff50 66.3% 67.9%,#bfff40 67.9%,#c4ff3b 68.9%,#caff35 68.9%,#e3ff1c 70.2%,#ffff00 71%,#ffd600 71.8%,#ffbd00 72.1%,#ffa000 72.5%,#ff8000 72.7%,#ff5f00 72.9%,#ff3100 73.1%,#ff0200 73.3%,#ee0000 73.3%,#ca0000 73.4%,#bf0000 73.5% 73.5%,#ca0000 73.6%,#ff0400 73.7%,#ff2700 73.8%,#ff5100 74%,#ff7200 74.1%,#ff9400 74.3%,#ffcd00 74.8%,#fffd00 75.4%,#d6ff29 76%,#b5ff4a 76.7%,#76ff89 78.4%,#3effc1 80.4%,#15ffea 82.3%,#0bfff4 83.1%,#05fffa 83.2%,#02fffd 83.4%,#00fcff 84.1%,#00f2ff 84.2%,#00edff 85.1%,#00e1ff 85.2%,#00dfff 86.3%,#00cfff 86.3% 87.5%,#00bfff 87.5% 88.7%,#00afff 88.8% 90.1%,#009fff 90.2% 91.5%,#008fff 91.6% 93.1%,#0080ff 93.1% 95%,#0070ff 95% 97%,#0060ff 97.1% 99.3%,#0050ff 99.3% 100%)"></i>
<i style="background:linear-gradient(#0050ff 0 0.7%,#0060ff 0.7% 3%,#0070ff 3% 5%,#0080ff 5% 6.9%,#008fff 6.9% 8.5%,#009fff 8.5% 9.9%,#00afff 9.9% 11.3%,#00bfff 11.3% 12.5%,#00cfff 12.6%,#00d0ff 13.7%,#00dfff 13.8%,#00e1ff 14.8%,#00edff 14.9%,#00f2ff 15.9%,#00fcff 15.9%,#02fffd 16.6%,#04fffb 16.8%,#0bfff4 16.9%,#16ffe9 17.7%,#3dffc2 19.5%,#74ff8b 21.6%,#b3ff4c 23.3%,#fffc00 24.6%,#ffcb00 25.2%,#ff9100 25.7%,#ff5700 26%,#ff2e00 26.1%,#ff0d00 26.2%,#f80000 26.3%,#d10000 26.4%,#c30000 26.4%,#be0000 26.5%,#c50000 26.5%,#fa0000 26.7%,#ff0d00 26.7%,#ff3a00 26.9%,#ff5c00 27%,#ff7e00 27.2%,#ff9e00 27.5%,#ffbc00 27.8%,#ffd600 28.2%,#ffff00 29%,#e3ff1c 29.8%,#c5ff3a 31%,#bfff40 32%,#afff50 32% 33.5%,#9fff60 33.6% 36.8%,#8fff70 36.9% 44.7%,#9fff60 44.8% 55.2%,#8fff70 55.3% 63.2%,#9fff60 63.2% 66.4%,#afff50 66.5% 68%,#bfff40 68%,#c4ff3b 69%,#c9ff36 69%,#e2ff1d 70.2%,#fdff02 71%,#ffd700 71.8%,#ffbe00 72.2%,#ffa100 72.5%,#ff8200 72.8%,#ff6000 73%,#ff3300 73.2%,#ff0400 73.3%,#f00000 73.4%,#cc0000 73.5%,#c00000 73.5%,#bf0000 73.6%,#c90000 73.6%,#ff0300 73.8%,#ff2600 73.9%,#ff5100 74%,#ff7200 74.2%,#ff9500 74.4%,#ffcd00 74.8%,#fffe00 75.4%,#d6ff29 76.1%,#b4ff4b 76.7%,#75ff8a 78.4%,#3cffc3 80.5%,#02fffd 83.5%,#00fcff 84.1%,#00f2ff 84.2%,#00edff 85.1%,#00e1ff 85.2%,#00dfff 86.3%,#00cfff 86.3% 87.4%,#00bfff 87.5% 88.7%,#00afff 88.7% 90.1%,#009fff 90.1% 91.5%,#008fff 91.6% 93.1%,#0080ff 93.1% 95%,#0070ff 95% 97%,#0060ff 97.1% 99.3%,#0050ff 99.3% 100%)"></i>
<i style="background:linear-gradient(#0050ff 0 0.7%,#0060ff 0.8% 3%,#0070ff 3% 5%,#0080ff 5% 6.9%,#008fff 6.9% 8.5%,#009fff 8.5% 9.9%,#00afff 10% 11.3%,#00bfff 11.3% 12.5%,#00cfff 12.6%,#00d0ff 13.7%,#00dfff 13.8%,#00e1ff 14.8%,#00edff 14.9%,#00f3ff 15.9%,#00fcff 15.9%,#02fffd 16.5%,#3cffc3 19.5%,#75ff8a 21.6%,#b5ff4a 23.3%,#fffc00 24.6%,#ffcb00 25.2%,#ff9100 25.6%,#ff5700 25.9%,#ff2e00 26.1%,#ff0c00 26.2%,#f80000 26.2%,#d10000 26.3%,#c30000 26.4%,#be0000 26.4%,#c60000 26.5%,#fc0000 26.6%,#ff0e00 26.7%,#ff3b00 26.8%,#ff5d00 27%,#ff7f00 27.2%,#ffa000 27.4%,#ffbd00 27.7%,#ffd700 28.1%,#fdff02 28.9%,#e2ff1d 29.7%,#c5ff3a 30.9%,#bfff40 31.9%,#afff50 31.9% 33.4%,#9fff60 33.4% 36.4%,#8fff70 36.4% 45.6%,#9fff60 45.7% 54.3%,#8fff70 54.4% 63.6%,#9fff60 63.6% 66.6%,#afff50 66.6% 68.1%,#bfff40 68.2%,#c5ff3a 69.1%,#e1ff1e 70.3%,#ffff00 71.1%,#ffd500 71.9%,#ffbb00 72.3%,#ff9d00 72.6%,#ff8300 72.8%,#ff6200 73%,#ff3500 73.2%,#ff0600 73.4%,#f20000 73.4%,#cd0000 73.5%,#c10000 73.6%,#bf0000 73.6%,#c90000 73.7%,#ff0300 73.8%,#ff2600 73.9%,#ff5100 74.1%,#ff7200 74.2%,#ff9500 74.4%,#ffce00 74.9%,#fffe00 75.5%,#d8ff27 76.1%,#b6ff49 76.7%,#74ff8b 78.5%,#3bffc4 80.6%,#01fffe 83.5%,#00fcff 84.1%,#00f2ff 84.2%,#00edff 85.1%,#00e1ff 85.2%,#00dfff 86.3%,#00d0ff 86.3%,#00cfff 87.4%,#00bfff 87.5% 88.7%,#00afff 88.7% 90.1%,#009fff 90.1% 91.5%,#008fff 91.5% 93.1%,#0080ff 93.1% 95%,#0070ff 95% 97%,#0060ff 97.1% 99.3%,#0050ff 99.3% 100%)"></i>
<i style="background:linear-gradient(#0050ff 0 0.7%,#0060ff 0.8% 3%,#0070ff 3% 5%,#0080ff 5.1% 6.9%,#008fff 7% 8.5%,#009fff 8.6% 9.9%,#00afff 10% 11.3%,#00bfff 11.4% 12.5%,#00cfff 12.6%,#00d0ff 13.7%,#00dfff 13.8%,#00e1ff 14.8%,#00edff 14.9%,#00f3ff 15.9%,#00fcff 15.9%,#01fffe 16.5%,#3bffc4 19.4%,#75ff8a 21.5%,#b4ff4b 23.2%,#d6ff29 23.9%,#fffd00 24.5%,#ffcc00 25.1%,#ff9100 25.6%,#ff5700 25.9%,#ff2e00 26%,#ff0c00 26.1%,#f70000 26.2%,#d00000 26.3%,#c20000 26.3%,#bf0000 26.4%,#c70000 26.4%,#fd0000 26.6%,#ff1000 26.6%,#ff3d00 26.8%,#ff5e00 26.9%,#ff8100 27.1%,#ffa100 27.4%,#ffd500 28%,#ffff00 28.8%,#e2ff1d 29.6%,#c5ff3a 30.8%,#bfff40 31.7%,#afff50 31.8% 33.2%,#9fff60 33.2% 36%,#8fff70 36% 46.6%,#9fff60 46.6% 53.4%,#8fff70 53.4% 64%,#9fff60 64.1% 66.8%,#afff50 66.9% 68.2%,#bfff40 68.3%,#c6ff39 69.2%,#e1ff1e 70.4%,#feff01 71.2%,#ffd600 72%,#ffbc00 72.4%,#ff9e00 72.7%,#ff8400 72.9%,#ff6300 73.1%,#ff3600 73.3%,#ff0700 73.4%,#f40000 73.5%,#ce0000 73.6%,#c10000 73.6%,#bf0000 73.7%,#c80000 73.7%,#ff0200 73.9%,#ff2600 74%,#ff5100 74.1%,#ff7200 74.3%,#ff9500 74.5%,#ffce00 74.9%,#ffff00 75.5%,#d7ff28 76.1%,#b5ff4a 76.8%,#75ff8a 78.5%,#3cffc3 80.6%,#02fffd 83.5%,#00fbff 84.1%,#00f2ff 84.2%,#00edff 85.1%,#00e1ff 85.2%,#00dfff 86.3%,#00d0ff 86.3%,#00cfff 87.4%,#00bfff 87.5% 88.7%,#00afff 88.7% 90.1%,#009fff 90.1% 91.5%,#008fff 91.5% 93.1%,#0080ff 93.1% 95%,#0070ff 95% 97%,#0060ff 97% 99.2%,#0050ff 99.3% 100%)"></i>
<i style="background:linear-gradient(#0050ff 0 0.8%,#0060ff 0.8% 3%,#0070ff 3% 5%,#0080ff 5.1% 6.9%,#008fff 7% 8.5%,#009fff 8.6% 9.9%,#00afff 10% 11.3%,#00bfff 11.4% 12.6%,#00cfff 12.6%,#00d0ff 13.7%,#00dfff 13.8%,#00e1ff 14.8%,#00edff 14.9%,#00f2ff 15.8%,#00fbff 15.9%,#01fffe 16.5%,#3bffc4 19.3%,#74ff8b 21.5%,#b4ff4b 23.2%,#d5ff2a 23.8%,#fffe00 24.5%,#ffcc00 25.1%,#ff9200 25.5%,#ff5700 25.8%,#ff2e00 26%,#ff0b00 26.1%,#f70000 26.1%,#cf0000 26.2%,#c20000 26.3%,#bf0000 26.3%,#c80000 26.4%,#ff0000 26.5%,#ff3100 26.7%,#ff5600 26.8%,#ff7a00 27%,#ff9c00 27.3%,#ffbb00 27.6%,#ffd600 28%,#feff01 28.8%,#e1ff1e 29.6%,#c6ff39 30.7%,#beff41 31.6%,#b0ff4f 31.7%,#afff50 33%,#9fff60 33.1% 35.6%,#8fff70 35.7% 47.7%,#9fff60 47.8% 52.2%,#8fff70 52.3% 64.3%,#9fff60 64.4% 67%,#afff50 67%,#b0ff4f 68.4%,#beff41 68.4%,#c6ff39 69.3%,#e2ff1d 70.5%,#ffff00 71.3%,#ffd400 72.1%,#ff9f00 72.7%,#ff7e00 73%,#ff5b00 73.2%,#ff3800 73.3%,#ff0900 73.5%,#f50000 73.5%,#d00000 73.6%,#c20000 73.7%,#bf0000 73.7%,#c80000 73.8%,#ff0200 73.9%,#ff2600 74%,#ff5100 74.2%,#ff8e00 74.5%,#ffc900 74.9%,#fffc00 75.5%,#b2ff4d 76.9%,#73ff8c 78.6%,#3affc5 80.7%,#01fffe 83.6%,#00fbff 84.1%,#00f3ff 84.2%,#00edff 85.1%,#00e1ff 85.2%,#00dfff 86.3%,#00d0ff 86.3%,#00cfff 87.4%,#00bfff 87.5% 88.7%,#00afff 88.7% 90%,#009fff 90.1% 91.4%,#008fff 91.5% 93.1%,#0080ff 93.1% 95%,#0070ff 95% 97%,#0060ff 97% 99.2%,#0050ff 99.3% 100%)"></i>
<i style="background:linear-gradient(#0050ff 0 0.8%,#0060ff 0.8% 3%,#0070ff 3.1% 5%,#0080ff 5.1% 6.9%,#008fff 7% 8.5%,#009fff 8.6% 10%,#00afff 10% 11.3%,#00bfff 11.4% 12.6%,#00cfff 12.6%,#00d0ff 13.7%,#00deff 13.8%,#00e1ff 14.8%,#00edff 14.9%,#00f2ff 15.8%,#00fbff 15.9%,#01fffe 16.4%,#39ffc6 19.2%,#73ff8c 21.4%,#b5ff4a 23.2%,#d8ff27 23.8%,#fffe00 24.4%,#ffcd00 25%,#ff9200 25.5%,#ff5700 25.8%,#ff2e00 25.9%,#ff0b00 26%,#f60000 26.1%,#cf0000 26.2%,#c20000 26.2%,#bf0000 26.3%,#c90000 26.3%,#ff0200 26.5%,#ff3200 26.6%,#ff5700 26.8%,#ff7b00 27%,#ff9d00 27.2%,#ffd300 27.9%,#ffff00 28.7%,#e2ff1d 29.5%,#c6ff39 30.6%,#beff41 31.5%,#b0ff4f 31.6%,#afff50 32.8%,#9fff60 32.9% 35.3%,#8fff70 35.4% 64.6%,#9fff60 64.7% 67.1%,#afff50 67.2%,#b0ff4f 68.5%,#beff41 68.5%,#c5ff3a 69.4%,#e1ff1e 70.5%,#feff01 71.3%,#ffd500 72.1%,#ffa000 72.8%,#ff7f00 73%,#ff5c00 73.2%,#ff3900 73.4%,#ff0b00 73.5%,#f70000 73.6%,#d10000 73.7%,#c30000 73.7%,#bf0000 73.8%,#c70000 73.8%,#ff0100 74%,#ff2500 74.1%,#ff5100 74.2%,#ff8e00 74.5%,#ffca00 75%,#fffc00 75.6%,#b4ff4b 76.9%,#74ff8b 78.6%,#3affc5 80.7%,#01fffe 83.6%,#00fbff 84.1%,#00f3ff 84.2%,#00edff 85.1%,#00e1ff 85.2%,#00deff 86.3%,#00d0ff 86.3%,#00cfff 87.4%,#00bfff 87.5% 88.7%,#00afff 88.7% 90%,#009fff 90.1% 91.4%,#008fff 91.5% 93.1%,#0080ff 93.1% 95%,#0070ff 95% 97%,#0060ff 97% 99.2%,#0050ff 99.3% 100%)"></i>
<i style="background:linear-gradient(#0050ff 0 0.8%,#0060ff 0.8% 3%,#0070ff 3.1% 5%,#0080ff 5.1% 6.9%,#008fff 7% 8.6%,#009fff 8.6% 10%,#00afff 10% 11.3%,#00bfff 11.4% 12.6%,#00cfff 12.6%,#00d0ff 13.7%,#00deff 13.8%,#00e1ff 14.8%,#00edff 14.9%,#00f3ff 15.8%,#00fbff 15.9%,#00ffff 16.4%,#39ffc6 19.2%,#74ff8b 21.4%,#b5ff4a 23.1%,#d7ff28 23.8%,#ffff00 24.4%,#ffcd00 24.9%,#ff9200 25.4%,#ff5700 25.7%,#ff2d00 25.9%,#ff0a00 26%,#f60000 26%,#ce0000 26.1%,#c10000 26.2%,#c00000 26.2%,#ca0000 26.3%,#ff0300 26.4%,#ff3400 26.6%,#ff5800 26.7%,#ff7d00 26.9%,#ff9e00 27.2%,#ffd400 27.8%,#feff01 28.6%,#d1ff2e 30%,#c1ff3e 30.8%,#bdff42 31.4%,#b1ff4e 31.4%,#afff50 32.7%,#9fff60 32.7% 35.1%,#8fff70 35.1% 64.9%,#9fff60 65% 67.3%,#afff50 67.3%,#b1ff4e 68.6%,#bdff42 68.6%,#c1ff3e 69.2%,#d0ff2f 70%,#e6ff19 70.8%,#ffff00 71.4%,#ffd300 72.3%,#ffbb00 72.6%,#ff9b00 72.9%,#ff8000 73.1%,#ff5d00 73.3%,#ff3b00 73.4%,#ff0c00 73.6%,#f90000 73.6%,#c40000 73.8%,#bf0000 73.8%,#c70000 73.9%,#ff0100 74%,#ff2500 74.1%,#ff5100 74.3%,#ff8e00 74.6%,#ffca00 75.1%,#fffd00 75.6%,#d6ff29 76.3%,#b3ff4c 76.9%,#73ff8c 78.6%,#39ffc6 80.8%,#01fffe 83.6%,#00fbff 84.1%,#00f3ff 84.2%,#00edff 85.1%,#00e1ff 85.2%,#00deff 86.3%,#00d0ff 86.3%,#00cfff 87.4%,#00bfff 87.5% 88.6%,#00afff 88.7% 90%,#009fff 90.1% 91.4%,#008fff 91.5% 93.1%,#0080ff 93.1% 95%,#0070ff 95% 97%,#0060ff 97% 99.2%,#0050ff 99.2% 100%)"></i>
<i style="background:linear-gradient(#0050ff 0 0.8%,#0060ff 0.9% 3%,#0070ff 3.1% 5%,#0080ff 5.1% 6.9%,#008fff 7% 8.6%,#009fff 8.6% 10%,#00afff 10% 11.3%,#00bfff 11.4% 12.6%,#00cfff 12.6%,#00d0ff 13.7%,#00deff 13.8%,#00e1ff 14.8%,#00edff 14.9%,#00f3ff 15.8%,#00fbff 15.9%,#01fffe 16.4%,#38ffc7 19.2%,#73ff8c 21.4%,#b2ff4d 23%,#fffb00 24.4%,#ffc800 24.9%,#ff9300 25.4%,#ff5700 25.7%,#ff2e00 25.8%,#ff0a00 25.9%,#f50000 26%,#ce0000 26.1%,#c10000 26.1%,#c00000 26.2%,#cb0000 26.2%,#ff0400 26.4%,#ff3500 26.5%,#ff5900 26.7%,#ff7e00 26.9%,#ff9f00 27.1%,#ffd500 27.7%,#ffff00 28.5%,#d1ff2e 29.9%,#c1ff3e 30.7%,#bdff42 31.3%,#b1ff4e 31.3%,#afff50 32.5%,#9fff60 32.6% 34.8%,#8fff70 34.8% 65.2%,#9fff60 65.2% 67.4%,#afff50 67.5%,#b1ff4e 68.7%,#bdff42 68.7%,#c0ff3f 69.3%,#d0ff2f 70.1%,#feff01 71.5%,#ffd400 72.3%,#ffbc00 72.6%,#ff9d00 72.9%,#ff8200 73.1%,#ff5f00 73.3%,#ff3c00 73.5%,#ff0e00 73.6%,#fa0000 73.7%,#c40000 73.8%,#bf0000 73.9%,#c60000 73.9%,#ff0000 74.1%,#ff2500 74.2%,#ff5100 74.3%,#ff8f00 74.6%,#ffcb00 75.1%,#fffd00 75.7%,#d5ff2a 76.3%,#b3ff4c 77%,#73ff8c 78.7%,#38ffc7 80.9%,#00ffff 83.7%,#00fbff 84.1%,#00f3ff 84.2%,#00edff 85.1%,#00e1ff 85.2%,#00deff 86.3%,#00d0ff 86.3%,#00cfff 87.4%,#00bfff 87.4% 88.6%,#00afff 88.7% 90%,#009fff 90% 91.4%,#008fff 91.4% 93.1%,#0080ff 93.1% 94.9%,#0070ff 95% 97%,#0060ff 97% 99.2%,#0050ff 99.2% 100%)"></i>
<i style="background:linear-gradient(#0050ff 0 0.8%,#0060ff 0.9% 3%,#0070ff 3.1% 5%,#0080ff 5.1% 6.9%,#008fff 7% 8.6%,#009fff 8.6% 10%,#00afff 10% 11.4%,#00bfff 11.4% 12.6%,#00cfff 12.6%,#00d0ff 13.7%,#00deff 13.8%,#00e1ff 14.8%,#00edff 14.9%,#00f3ff 15.8%,#00fbff 15.9%,#00ffff 16.3%,#38ffc7 19.1%,#73ff8c 21.3%,#b3ff4c 23%,#fffc00 24.3%,#ffc900 24.9%,#ff9300 25.3%,#ff5800 25.6%,#ff2e00 25.8%,#ff0a00 25.9%,#f50000 25.9%,#ce0000 26%,#c10000 26.1% 26.1%,#cc0000 26.2%,#f10000 26.3%,#ff0600 26.3%,#ff3600 26.5%,#ff5b00 26.6%,#ff7f00 26.8%,#ffa100 27.1%,#ffd600 27.7%,#feff01 28.5%,#d1ff2e 29.8%,#c1ff3e 30.6%,#bdff42 31.2%,#b1ff4e 31.2%,#afff50 32.4%,#9fff60 32.5% 34.6%,#8fff70 34.6% 65.4%,#9fff60 65.5% 67.6%,#afff50 67.6%,#b2ff4d 68.8%,#bdff42 68.9%,#c1ff3e 69.5%,#d2ff2d 70.2%,#ffff00 71.6%,#ffd500 72.4%,#ffbd00 72.7%,#ff9e00 73%,#ff8300 73.2%,#ff6000 73.4%,#ff3d00 73.5%,#fb0000 73.7%,#c50000 73.9%,#bf0000 73.9%,#c60000 74%,#ff0000 74.1%,#ff2500 74.2%,#ff5100 74.4%,#ff8f00 74.7%,#ffcc00 75.2%,#fffe00 75.7%,#d7ff28 76.3%,#b4ff4b 77%,#74ff8b 78.7%,#38ffc7 80.9%,#00ffff 83.7%,#00fbff 84.2%,#00f3ff 84.2%,#00edff 85.1%,#00e2ff 85.2%,#00deff 86.3%,#00d0ff 86.3%,#00cfff 87.4%,#00bfff 87.4% 88.6%,#00afff 88.7% 90%,#009fff 90% 91.4%,#008fff 91.4% 93.1%,#0080ff 93.1% 94.9%,#0070ff 95% 96.9%,#0060ff 97% 99.2%,#0050ff 99.2% 100%)"></i>
<i style="background:linear-gradient(#0050ff 0 0.8%,#0060ff 0.9% 3%,#0070ff 3.1% 5%,#0080ff 5.1% 6.9%,#008fff 7% 8.6%,#009fff 8.7% 10%,#00afff 10.1% 11.4%,#00bfff 11.4% 12.6%,#00cfff 12.6%,#00d0ff 13.7%,#00deff 13.8%,#00e2ff 14.8%,#00edff 14.9%,#00f3ff 15.8%,#00fbff 15.9%,#00ffff 16.3%,#37ffc8 19.1%,#72ff8d 21.3%,#b3ff4c 23%,#d5ff2a 23.6%,#fffd00 24.3%,#ffc900 24.8%,#ff9400 25.3%,#ff5800 25.6%,#ff2e00 25.7%,#ff0a00 25.8%,#f50000 25.9%,#cd0000 26%,#c10000 26% 26.1%,#cd0000 26.1%,#f30000 26.2%,#ff0700 26.3%,#ff3800 26.4%,#ff5c00 26.6%,#ff8000 26.8%,#ffa200 27%,#ffd700 27.6%,#fdff02 28.4%,#d0ff2f 29.8%,#c1ff3e 30.5%,#bcff43 31.1%,#b2ff4d 31.1%,#afff50 32.3%,#9fff60 32.3% 34.3%,#8fff70 34.4% 65.6%,#9fff60 65.7% 67.7%,#afff50 67.8%,#b2ff4d 68.9%,#bcff43 69%,#c1ff3e 69.6%,#d2ff2d 70.3%,#feff01 71.6%,#ffd500 72.4%,#ffbe00 72.7%,#ff9f00 73%,#ff7c00 73.3%,#ff5600 73.5%,#ff3000 73.6%,#fd0000 73.8%,#c60000 73.9%,#bf0000 74%,#c60000 74%,#ff0000 74.2%,#ff2500 74.3%,#ff5200 74.4%,#ff9000 74.7%,#ffcc00 75.2%,#ffff00 75.8%,#d7ff28 76.4%,#b4ff4b 77%,#73ff8c 78.7%,#38ffc7 80.9%,#01fffe 83.7%,#00fbff 84.2%,#00f3ff 84.2%,#00edff 85.1%,#00e2ff 85.2%,#00deff 86.3%,#00d0ff 86.3%,#00cfff 87.4%,#00bfff 87.4% 88.6%,#00afff 88.7% 90%,#009fff 90% 91.4%,#008fff 91.4% 93.1%,#0080ff 93.1% 94.9%,#0070ff 95% 96.9%,#0060ff 97% 99.1%,#0050ff 99.2% 100%)"></i>
<i style="background:linear-gradient(#0050ff 0 0.9%,#0060ff 0.9% 3.1%,#0070ff 3.1% 5%,#0080ff 5.1% 6.9%,#008fff 7% 8.6%,#009fff 8.7% 10%,#00afff 10.1% 11.4%,#00bfff 11.4% 12.6%,#00cfff 12.6%,#00d0ff 13.7%,#00deff 13.8%,#00e2ff 14.8%,#00ecff 14.9%,#00f3ff 15.8%,#00fbff 15.9%,#00ffff 16.3%,#37ffc8 19.1%,#73ff8c 21.3%,#b4ff4b 23%,#d4ff2b 23.6%,#fffd00 24.2%,#ffca00 24.8%,#ff9400 25.2%,#ff5800 25.5%,#ff2e00 25.7%,#ff0a00 25.8%,#f50000 25.8%,#cd0000 25.9%,#c10000 26% 26%,#cd0000 26.1%,#f40000 26.2%,#ff0800 26.2%,#ff3900 26.4%,#ff5d00 26.5%,#ff8100 26.7%,#ff9d00 26.9%,#ffbc00 27.2%,#ffd500 27.5%,#feff01 28.3%,#d3ff2c 29.6%,#c1ff3e 30.4%,#bcff43 30.9%,#b3ff4c 31%,#afff50 32.1%,#9fff60 32.2% 34.1%,#8fff70 34.2% 65.9%,#9fff60 65.9% 67.8%,#afff50 67.9%,#b2ff4d 69%,#bcff43 69.1%,#c0ff3f 69.6%,#d1ff2e 70.4%,#fdff02 71.7%,#ffd600 72.5%,#ffbf00 72.8%,#ffa000 73.1%,#ff7d00 73.3%,#ff5700 73.5%,#ff3200 73.7%,#fe0000 73.8%,#c60000 74%,#c00000 74%,#c60000 74.1%,#ff0000 74.2%,#ff2600 74.3%,#ff5200 74.5%,#ff9000 74.8%,#ffc700 75.2%,#fffb00 75.8%,#d0ff2f 76.5%,#b1ff4e 77.1%,#72ff8d 78.8%,#37ffc8 81%,#00ffff 83.7%,#00fbff 84.2%,#00f3ff 84.2%,#00edff 85.1%,#00e2ff 85.2%,#00deff 86.3%,#00d0ff 86.3%,#00cfff 87.4%,#00bfff 87.4% 88.6%,#00afff 88.7% 90%,#009fff 90% 91.4%,#008fff 91.4% 93.1%,#0080ff 93.1% 94.9%,#0070ff 95% 96.9%,#0060ff 97% 99.1%,#0050ff 99.2% 100%)"></i>
<i style="background:linear-gradient(#0050ff 0 0.9%,#0060ff 0.9% 3.1%,#0070ff 3.1% 5%,#0080ff 5.1% 6.9%,#008fff 7% 8.6%,#009fff 8.7% 10%,#00afff 10.1% 11.4%,#00bfff 11.4% 12.6%,#00cfff 12.6%,#00d0ff 13.7%,#00deff 13.8%,#00e2ff 14.8%,#00ecff 14.9%,#00f3ff 15.8%,#00fbff 15.8%,#00ffff 16.3%,#38ffc7 19.1%,#74ff8b 21.3%,#b4ff4b 22.9%,#d7ff28 23.6%,#fffe00 24.2%,#ffcb00 24.7%,#ff9500 25.2%,#ff5900 25.5%,#ff2e00 25.6%,#ff0a00 25.7%,#f50000 25.8%,#cd0000 25.9%,#c10000 25.9%,#c20000 26%,#ce0000 26%,#f50000 26.1%,#ff0900 26.2%,#ff3a00 26.3%,#ff5e00 26.5%,#ff8200 26.7%,#ff9e00 26.9%,#ffbd00 27.2%,#ffd600 27.5%,#feff01 28.3%,#d2ff2d 29.5%,#c1ff3e 30.3%,#bcff43 30.8%,#b3ff4c 30.9%,#afff50 32%,#9fff60 32% 33.9%,#8fff70 34% 66.1%,#9fff60 66.1% 68%,#afff50 68%,#b3ff4c 69.1%,#bcff43 69.2%,#c1ff3e 69.8%,#daff25 70.8%,#ffff00 71.8%,#ffd400 72.6%,#ffbb00 72.9%,#ff9a00 73.2%,#ff7e00 73.4%,#ff5900 73.6%,#ff3300 73.7%,#ff0000 73.9%,#c70000 74%,#c00000 74.1%,#c60000 74.1%,#ff0000 74.3%,#ff2600 74.4%,#ff5200 74.5%,#ff9100 74.8%,#ffc800 75.3%,#fffc00 75.8%,#d2ff2d 76.5%,#b2ff4d 77.1%,#73ff8c 78.8%,#37ffc8 81%,#00ffff 83.7%,#00fbff 84.2%,#00f3ff 84.2%,#00edff 85.1%,#00e2ff 85.2%,#00deff 86.3%,#00d0ff 86.3%,#00cfff 87.4%,#00bfff 87.4% 88.6%,#00afff 88.6% 89.9%,#009fff 90% 91.4%,#008fff 91.4% 93.1%,#0080ff 93.1% 94.9%,#0070ff 95% 96.9%,#0060ff 97% 99.1%,#0050ff 99.2% 100%)"></i>
<i style="background:linear-gradient(#0050ff 0 0.9%,#0060ff 0.9% 3.1%,#0070ff 3.1% 5.1%,#0080ff 5.1% 6.9%,#008fff 7% 8.6%,#009fff 8.7% 10%,#00afff 10.1% 11.4%,#00bfff 11.4% 12.6%,#00cfff 12.6%,#00d0ff 13.7%,#00deff 13.8%,#00e2ff 14.8%,#00ecff 14.9%,#00f3ff 15.8%,#00fbff 15.8%,#00ffff 16.3%,#37ffc8 19%,#73ff8c 21.2%,#b5ff4a 22.9%,#d9ff26 23.6%,#ffff00 24.1%,#ffcb00 24.7%,#ff9500 25.1%,#ff5900 25.4%,#ff2e00 25.6%,#ff0a00 25.7%,#f50000 25.7%,#cd0000 25.8%,#c10000 25.9%,#c20000 25.9%,#cf0000 26%,#f60000 26.1%,#ff0a00 26.1%,#ff3b00 26.3%,#ff5f00 26.4%,#ff8300 26.6%,#ff9f00 26.8%,#ffd300 27.4%,#ffff00 28.2%,#daff25 29.2%,#c1ff3e 30.2%,#bbff44 30.7%,#b3ff4c 30.8%,#afff50 31.9%,#9fff60 31.9% 33.7%,#8fff70 33.8% 66.3%,#9fff60 66.3% 68.1%,#afff50 68.2%,#b3ff4c 69.2%,#bbff44 69.3%,#c2ff3d 69.9%,#d9ff26 70.8%,#feff01 71.8%,#ffd800 72.6%,#ffc000 72.9%,#ffa200 73.2%,#ff8700 73.4%,#ff6400 73.6%,#ff3400 73.8%,#ff0100 73.9%,#ec0000 74%,#c70000 74.1%,#c00000 74.1%,#c60000 74.2%,#ff0000 74.3%,#ff2600 74.4%,#ff5300 74.6%,#ff9100 74.9%,#ffc800 75.3%,#fffd00 75.9%,#d4ff2b 76.5%,#b2ff4d 77.2%,#72ff8d 78.8%,#38ffc7 81%,#00ffff 83.7%,#00fbff 84.2%,#00f3ff 84.2%,#00ecff 85.2%,#00e2ff 85.2%,#00deff 86.3%,#00d0ff 86.3%,#00cfff 87.4%,#00bfff 87.4% 88.6%,#00afff 88.6% 89.9%,#009fff 90% 91.4%,#008fff 91.4% 93.1%,#0080ff 93.1% 94.9%,#0070ff 95% 96.9%,#0060ff 96.9% 99.1%,#0050ff 99.1% 100%)"></i>
<i style="background:linear-gradient(#0050ff 0 0.9%,#0060ff 1% 3.1%,#0070ff 3.1% 5.1%,#0080ff 5.1% 6.9%,#008fff 7% 8.6%,#009fff 8.7% 10%,#00afff 10.1% 11.4%,#00bfff 11.4% 12.6%,#00cfff 12.6%,#00d0ff 13.7%,#00deff 13.8%,#00e2ff 14.8%,#00ecff 14.9%,#00f3ff 15.8%,#00fbff 15.8%,#00ffff 16.3%,#37ffc8 19%,#73ff8c 21.2%,#b2ff4d 22.8%,#fffb00 24.1%,#ffcc00 24.6%,#ff9600 25.1%,#ff5a00 25.4%,#ff2f00 25.5%,#ff0a00 25.6%,#f50000 25.7%,#cd0000 25.8%,#c10000 25.8%,#c30000 25.9%,#d00000 25.9%,#f70000 26%,#ff0b00 26.1%,#ff3c00 26.2%,#ff6000 26.4%,#ff8400 26.6%,#ff9f00 26.8%,#ffd400 27.3%,#feff01 28.1%,#d9ff26 29.1%,#c1ff3e 30.1%,#bbff44 30.6%,#b4ff4b 30.7%,#afff50 31.7%,#9fff60 31.8% 33.5%,#8fff70 33.6% 66.5%,#9fff60 66.5% 68.2%,#afff50 68.3%,#b3ff4c 69.3%,#bbff44 69.4%,#c1ff3e 69.9%,#daff25 70.9%,#ffff00 71.9%,#ffd200 72.7%,#ff9c00 73.3%,#ff6500 73.6%,#ff3500 73.8%,#ff0200 74%,#ed0000 74%,#c80000 74.1%,#c00000 74.2%,#c60000 74.2%,#ff0000 74.4%,#ff2600 74.5%,#ff5300 74.6%,#ff9200 74.9%,#ffc900 75.4%,#fffd00 75.9%,#d7ff28 76.5%,#b3ff4c 77.2%,#73ff8c 78.8%,#38ffc7 81%,#00ffff 83.7%,#00fbff 84.2%,#00f3ff 84.2%,#00ecff 85.2%,#00e2ff 85.2%,#00deff 86.3%,#00d0ff 86.3%,#00cfff 87.4%,#00bfff 87.4% 88.6%,#00afff 88.6% 89.9%,#009fff 90% 91.4%,#008fff 91.4% 93.1%,#0080ff 93.1% 94.9%,#0070ff 95% 96.9%,#0060ff 96.9% 99.1%,#0050ff 99.1% 100%)"></i>
<i style="background:linear-gradient(#0050ff 0 0.9%,#0060ff 1% 3.1%,#0070ff 3.1% 5.1%,#0080ff 5.1% 6.9%,#008fff 7% 8.6%,#009fff 8.7% 10.1%,#00afff 10.1% 11.4%,#00bfff 11.4% 12.6%,#00cfff 12.7%,#00d0ff 13.7%,#00deff 13.8%,#00e2ff 14.8%,#00ecff 14.9%,#00f3ff 15.8%,#00fbff 15.8%,#00ffff 16.3%,#37ffc8 19%,#72ff8d 21.1%,#b2ff4d 22.8%,#d2ff2d 23.4%,#fffc00 24.1%,#ffcd00 24.6%,#ff9700 25%,#ff5a00 25.3%,#ff2f00 25.5%,#ff0b00 25.6%,#f50000 25.6%,#cd0000 25.7%,#c10000 25.8%,#c30000 25.8%,#d00000 25.9%,#f80000 26%,#ff0c00 26%,#ff3d00 26.2%,#ff6100 26.3%,#ff8500 26.5%,#ffa000 26.7%,#ffc000 27%,#ffd800 27.3%,#fdff02 28.1%,#d9ff26 29%,#c0ff3f 30%,#bbff44 30.5%,#b4ff4b 30.5%,#afff50 31.6%,#9fff60 31.7% 33.3%,#8fff70 33.4% 38.1%,#80ff80 38.2% 40.7%,#8fff70 40.7% 59.3%,#80ff80 59.4% 61.8%,#8fff70 61.9% 66.6%,#9fff60 66.7% 68.4%,#afff50 68.4%,#b3ff4c 69.5%,#baff45 69.5%,#c1ff3e 70%,#d9ff26 71%,#feff01 72%,#ffd300 72.8%,#ff9d00 73.3%,#ff8100 73.5%,#ff5b00 73.7%,#ff3600 73.9%,#ff0300 74%,#ee0000 74.1%,#c80000 74.2%,#c00000 74.2%,#c60000 74.3%,#ff0100 74.4%,#ff2700 74.5%,#ff5400 74.7%,#ff9200 75%,#ffca00 75.4%,#fffe00 76%,#d6ff29 76.6%,#b5ff4a 77.2%,#73ff8c 78.9%,#36ffc9 81.1%,#00ffff 83.8%,#00fbff 84.2%,#00f3ff 84.3%,#00ecff 85.2%,#00e2ff 85.2%,#00deff 86.3%,#00d0ff 86.3%,#00cfff 87.4%,#00bfff 87.4% 88.6%,#00afff 88.6% 89.9%,#009fff 90% 91.4%,#008fff 91.4% 93.1%,#0080ff 93.1% 94.9%,#0070ff 95% 96.9%,#0060ff 96.9% 99.1%,#0050ff 99.1% 100%)"></i>
<i style="background:linear-gradient(#0050ff 0 0.9%,#0060ff 1% 3.1%,#0070ff 3.2% 5.1%,#0080ff 5.1% 6.9%,#008fff 7% 8.6%,#009fff 8.7% 10.1%,#00afff 10.1% 11.4%,#00bfff 11.5% 12.6%,#00cfff 12.7%,#00d1ff 13.7%,#00deff 13.8%,#00e2ff 14.8%,#00ecff 14.9%,#00f3ff 15.8%,#00fbff 15.8%,#00ffff 16.3%,#38ffc7 19%,#73ff8c 21.1%,#b3ff4c 22.8%,#d4ff2b 23.4%,#fffd00 24%,#ffcd00 24.5%,#ff9700 24.9%,#ff5b00 25.3%,#ff3000 25.4%,#ff0b00 25.5%,#f50000 25.6%,#cd0000 25.7%,#c20000 25.7%,#c30000 25.8%,#d10000 25.8%,#f90000 25.9%,#ff0d00 26%,#ff3e00 26.1%,#ff6200 26.3%,#ff8600 26.5%,#ffa100 26.7%,#ffd500 27.2%,#ffff00 28%,#d9ff26 29%,#baff45 30.4%,#b4ff4b 30.4%,#afff50 31.5%,#9fff60 31.5% 33.1%,#8fff70 33.2% 37.2%,#80ff80 37.3% 41.9%,#8fff70 42% 58%,#80ff80 58.1% 62.8%,#8fff70 62.8% 66.9%,#9fff60 66.9% 68.5%,#afff50 68.5%,#b4ff4b 69.6%,#baff45 69.6%,#c0ff3f 70.1%,#d8ff27 71%,#fdff02 72%,#ffd700 72.8%,#ffbe00 73.1%,#ff9e00 73.4%,#ff8200 73.6%,#ff5c00 73.8%,#ff3700 73.9%,#ff0400 74.1%,#ee0000 74.1%,#c90000 74.2%,#c10000 74.3%,#c60000 74.3%,#ff0100 74.5%,#ff2700 74.6%,#ff5400 74.7%,#ff9300 75.1%,#ffca00 75.5%,#ffff00 76%,#d8ff27 76.6%,#b4ff4b 77.2%,#74ff8b 78.9%,#38ffc7 81%,#00ffff 83.8%,#00fbff 84.2%,#00f3ff 84.3%,#00ecff 85.2%,#00e2ff 85.2%,#00deff 86.3%,#00d0ff 86.3%,#00cfff 87.4%,#00bfff 87.4% 88.6%,#00afff 88.6% 89.9%,#009fff 90% 91.4%,#008fff 91.4% 93.1%,#0080ff 93.1% 94.9%,#0070ff 95% 96.9%,#0060ff 96.9% 99%,#0050ff 99.1% 100%)"></i>
<i style="background:linear-gradient(#0050ff 0 1%,#0060ff 1% 3.1%,#0070ff 3.2% 5.1%,#0080ff 5.1% 6.9%,#008fff 7% 8.6%,#009fff 8.7% 10.1%,#00afff 10.1% 11.4%,#00bfff 11.5% 12.6%,#00cfff 12.7%,#00d1ff 13.7%,#00deff 13.8%,#00e2ff 14.8%,#00ecff 14.8%,#00f4ff 15.8%,#00fbff 15.8%,#01fffe 16.3%,#38ffc7 19%,#74ff8b 21.1%,#b5ff4a 22.8%,#d6ff29 23.4%,#fffd00 24%,#ffce00 24.5%,#ff9800 24.9%,#ff5b00 25.2%,#ff3000 25.4%,#ff0c00 25.5%,#f60000 25.5%,#cd0000 25.6%,#c20000 25.7%,#c30000 25.7%,#d10000 25.8%,#f90000 25.9%,#ff0e00 25.9%,#ff3f00 26.1%,#ff6300 26.2%,#ff8700 26.4%,#ffa200 26.6%,#ffd600 27.2%,#feff01 27.9%,#d9ff26 28.9%,#baff45 30.3%,#b4ff4b 30.3%,#afff50 31.4%,#9fff60 31.4% 32.9%,#8fff70 33% 36.6%,#80ff80 36.6% 42.8%,#8fff70 42.9% 57.2%,#80ff80 57.2% 63.4%,#8fff70 63.4% 67%,#9fff60 67.1% 68.6%,#afff50 68.7%,#b4ff4b 69.7%,#baff45 69.7%,#d8ff27 71.1%,#ffff00 72.1%,#ffd400 72.9%,#ff9f00 73.4%,#ff8300 73.6%,#ff5d00 73.8%,#ff3700 74%,#ff0400 74.1%,#ef0000 74.2%,#c90000 74.3%,#c10000 74.3%,#c60000 74.4%,#ff0100 74.5%,#ff2800 74.6%,#ff5500 74.8%,#ff9400 75.1%,#ffcb00 75.5%,#fffb00 76%,#b1ff4e 77.3%,#73ff8c 78.9%,#37ffc8 81.1%,#00ffff 83.8%,#00fbff 84.2%,#00f3ff 84.3%,#00ecff 85.2%,#00e2ff 85.2%,#00deff 86.3%,#00d1ff 86.3%,#00cfff 87.4%,#00bfff 87.4% 88.6%,#00afff 88.6% 89.9%,#009fff 89.9% 91.4%,#008fff 91.4% 93.1%,#0080ff 93.1% 94.9%,#0070ff 94.9% 96.9%,#0060ff 96.9% 99%,#0050ff 99.1% 100%)"></i>
<i style="background:linear-gradient(#0050ff 0 1%,#0060ff 1% 3.1%,#0070ff 3.2% 5.1%,#0080ff 5.1% 6.9%,#008fff 7% 8.6%,#009fff 8.7% 10.1%,#00afff 10.1% 11.4%,#00bfff 11.5% 12.6%,#00cfff 12.7%,#00d1ff 13.7%,#00deff 13.8%,#00e2ff 14.8%,#00ecff 14.8%,#00f3ff 15.7%,#00faff 15.8%,#00ffff 16.2%,#37ffc8 18.9%,#73ff8c 21.1%,#b4ff4b 22.7%,#d8ff27 23.4%,#ffff00 23.9%,#ffca00 24.5%,#ff9200 24.9%,#ff7500 25.1%,#ff5100 25.2%,#ff0f00 25.4%,#fa0000 25.5%,#d00000 25.6%,#c30000 25.6%,#c20000 25.7%,#ce0000 25.7%,#f60000 25.8%,#ff0b00 25.9%,#ff3d00 26%,#ff6100 26.2%,#ff8600 26.4%,#ffa200 26.6%,#ffd600 27.1%,#feff01 27.9%,#d7ff28 28.9%,#baff45 30.2%,#b4ff4b 30.3%,#afff50 31.3%,#9fff60 31.3% 32.8%,#8fff70 32.9% 36.2%,#80ff80 36.3% 43.5%,#8fff70 43.5% 56.5%,#80ff80 56.6% 63.8%,#8fff70 63.8% 67.2%,#9fff60 67.2% 68.7%,#afff50 68.8%,#b5ff4a 69.8%,#baff45 69.8%,#d8ff27 71.2%,#ffff00 72.2%,#ffd400 72.9%,#ff9f00 73.5%,#ff6700 73.8%,#ff3600 74%,#ff0100 74.2%,#ec0000 74.2%,#c70000 74.3%,#c10000 74.4%,#c80000 74.4%,#ef0000 74.5%,#ff0500 74.6%,#ff2b00 74.7%,#ff5800 74.8%,#ff9600 75.2%,#ffcd00 75.6%,#fffd00 76.1%,#d4ff2b 76.7%,#b3ff4c 77.3%,#72ff8d 79%,#37ffc8 81.1%,#00ffff 83.8%,#00fbff 84.2%,#00f3ff 84.3%,#00ecff 85.2%,#00e2ff 85.2%,#00deff 86.3%,#00d1ff 86.3%,#00cfff 87.4%,#00bfff 87.4% 88.6%,#00afff 88.6% 89.9%,#009fff 89.9% 91.4%,#008fff 91.4% 93.1%,#0080ff 93.1% 94.9%,#0070ff 94.9% 96.8%,#0060ff 96.9% 99%,#0050ff 99.1% 100%)"></i>
</div>
<svg width="1000" height="824" viewBox="0 0 1000 824">
<defs>
<linearGradient id="jet" x1="0" y1="0" x2="0" y2="1">
<stop offset="0.0059" stop-color="#800000"/><stop offset="0.0243" stop-color="#800000"/>
<stop offset="0.0243" stop-color="#8f0000"/><stop offset="0.0427" stop-color="#8f0000"/>
<stop offset="0.0427" stop-color="#9f0000"/><stop offset="0.0611" stop-color="#9f0000"/>
<stop offset="0.0611" stop-color="#af0000"/><stop offset="0.0795" stop-color="#af0000"/>
<stop offset="0.0795" stop-color="#bf0000"/><stop offset="0.0979" stop-color="#bf0000"/>
<stop offset="0.0979" stop-color="#cf0000"/><stop offset="0.1163" stop-color="#cf0000"/>
<stop offset="0.1163" stop-color="#df0000"/><stop offset="0.1347" stop-color="#df0000"/>
<stop offset="0.1347" stop-color="#ef0000"/><stop offset="0.1531" stop-color="#ef0000"/>
<stop offset="0.1531" stop-color="#ff0000"/><stop offset="0.1715" stop-color="#ff0000"/>
<stop offset="0.1715" stop-color="#ff1000"/><stop offset="0.1899" stop-color="#ff1000"/>
<stop offset="0.1899" stop-color="#ff2000"/><stop offset="0.2083" stop-color="#ff2000"/>
<stop offset="0.2083" stop-color="#ff3000"/><stop offset="0.2267" stop-color="#ff3000"/>
<stop offset="0.2267" stop-color="#ff4000"/><stop offset="0.2451" stop-color="#ff4000"/>
<stop offset="0.2451" stop-color="#ff5000"/><stop offset="0.2635" stop-color="#ff5000"/>
<stop offset="0.2635" stop-color="#ff6000"/><stop offset="0.2819" stop-color="#ff6000"/>
<stop offset="0.2819" stop-color="#ff7000"/><stop offset="0.3002" stop-color="#ff7000"/>
<stop offset="0.3002" stop-color="#ff8000"/><stop offset="0.3186" stop-color="#ff8000"/>
<stop offset="0.3186" stop-color="#ff8f00"/><stop offset="0.3370" stop-color="#ff8f00"/>
<stop offset="0.3370" stop-color="#ff9f00"/><stop offset="0.3554" stop-color="#ff9f00"/>
<stop offset="0.3554" stop-color="#ffaf00"/><stop offset="0.3738" stop-color="#ffaf00"/>
<stop offset="0.3738" stop-color="#ffbf00"/><stop offset="0.3922" stop-color="#ffbf00"/>
<stop offset="0.3922" stop-color="#ffcf00"/><stop offset="0.4106" stop-color="#ffcf00"/>
<stop offset="0.4106" stop-color="#ffdf00"/><stop offset="0.4290" stop-color="#ffdf00"/>
<stop offset="0.4290" stop-color="#ffef00"/><stop offset="0.4474" stop-color="#ffef00"/>
<stop offset="0.4474" stop-color="#ffff00"/><stop offset="0.4658" stop-color="#ffff00"/>
<stop offset="0.4658" stop-color="#efff10"/><stop offset="0.4842" stop-color="#efff10"/>
<stop offset="0.4842" stop-color="#dfff20"/><stop offset="0.5026" stop-color="#dfff20"/>
<stop offset="0.5026" stop-color="#cfff30"/><stop offset="0.5210" stop-color="#cfff30"/>
<stop offset="0.5210" stop-color="#bfff40"/><stop offset="0.5394" stop-color="#bfff40"/>
<stop offset="0.5394" stop-color="#afff50"/><stop offset="0.5578" stop-color="#afff50"/>
<stop offset="0.5578" stop-color="#9fff60"/><stop offset="0.5762" stop-color="#9fff60"/>
<stop offset="0.5762" stop-color="#8fff70"/><stop offset="0.5946" stop-color="#8fff70"/>
<stop offset="0.5946" stop-color="#80ff80"/><stop offset="0.6130" stop-color="#80ff80"/>
<stop offset="0.6130" stop-color="#70ff8f"/><stop offset="0.6314" stop-color="#70ff8f"/>
<stop offset="0.6314" stop-color="#60ff9f"/><stop offset="0.6498" stop-color="#60ff9f"/>
<stop offset="0.6498" stop-color="#50ffaf"/><stop offset="0.6682" stop-color="#50ffaf"/>
<stop offset="0.6682" stop-color="#40ffbf"/><stop offset="0.6866" stop-color="#40ffbf"/>
<stop offset="0.6866" stop-color="#30ffcf"/><stop offset="0.7050" stop-color="#30ffcf"/>
<stop offset="0.7050" stop-color="#20ffdf"/><stop offset="0.7234" stop-color="#20ffdf"/>
<stop offset="0.7234" stop-color="#10ffef"/><stop offset="0.7418" stop-color="#10ffef"/>
<stop offset="0.7418" stop-color="#00ffff"/><stop offset="0.7602" stop-color="#00ffff"/>
<stop offset="0.7602" stop-color="#00efff"/><stop offset="0.7786" stop-color="#00efff"/>
<stop offset="0.7786" stop-color="#00dfff"/><stop offset="0.7970" stop-color="#00dfff"/>
<stop offset="0.7970" stop-color="#00cfff"/><stop offset="0.8154" stop-color="#00cfff"/>
<stop offset="0.8154" stop-color="#00bfff"/><stop offset="0.8338" stop-color="#00bfff"/>
<stop offset="0.8338" stop-color="#00afff"/><stop offset="0.8522" stop-color="#00afff"/>
<stop offset="0.8522" stop-color="#009fff"/><stop offset="0.8706" stop-color="#009fff"/>
<stop offset="0.8706" stop-color="#008fff"/><stop offset="0.8890" stop-color="#008fff"/>
<stop offset="0.8890" stop-color="#0080ff"/><stop offset="0.9074" stop-color="#0080ff"/>
<stop offset="0.9074" stop-color="#0070ff"/><stop offset="0.9258" stop-color="#0070ff"/>
<stop offset="0.9258" stop-color="#0060ff"/><stop offset="0.9442" stop-color="#0060ff"/>
<stop offset="0.9442" stop-color="#0050ff"/><stop offset="0.9626" stop-color="#0050ff"/>
<stop offset="0.9626" stop-color="#0040ff"/><stop offset="0.9810" stop-color="#0040ff"/>
<stop offset="0.9810" stop-color="#0030ff"/><stop offset="0.9994" stop-color="#0030ff"/>
<stop offset="0.9994" stop-color="#0020ff"/><stop offset="1.0000" stop-color="#0020ff"/>
</linearGradient>
</defs>

<!-- heatmap bottom axis + right tick -->
<rect x="134" y="395.2" width="839.9" height="1.1" fill="#262626"/>
<rect x="972.9" y="387.3" width="1.1" height="9" fill="#262626"/>

<!-- dashed Bc line -->
<g fill="#000">
<rect x="620.2" y="4.5" width="7.1" height="25.5"/>
<rect x="620.2" y="54.3" width="7.1" height="25.7"/>
<rect x="620.2" y="104.3" width="7.1" height="25.7"/>
<rect x="620.2" y="155.8" width="7.1" height="25.8"/>
<rect x="620.2" y="206.3" width="7.1" height="25.8"/>
<rect x="620.2" y="255.2" width="7.1" height="18.6"/>
<rect x="620.2" y="298.3" width="7.1" height="25.7"/>
<rect x="620.2" y="348.6" width="7.1" height="25.6"/>
</g>

<!-- colorbar -->
<rect x="161.3" y="89.2" width="39.9" height="241.2" fill="url(#jet)" stroke="#262626" stroke-width="1"/>
<g stroke="#262626" stroke-width="1">
<line x1="198" y1="103.6" x2="201.2" y2="103.6"/>
<line x1="198" y1="179.3" x2="201.2" y2="179.3"/>
<line x1="198" y1="255" x2="201.2" y2="255"/>
</g>
<path transform="translate(211.50,119.40) scale(0.01440,-0.01440)" d="M806 0L525 0L525 1059Q371 915 162 846L162 1101Q272 1137 401 1237.5Q530 1338 578 1472L806 1472Z" fill="#262626"/><text x="227.90" y="119.40" font-size="29.5" font-weight="bold" fill="#262626" font-family="Liberation Sans">0</text>
<text x="244.30" y="105.40" font-size="23" font-weight="bold" fill="#262626" font-family="Liberation Sans">9</text>
<path transform="translate(211.50,195.10) scale(0.01440,-0.01440)" d="M806 0L525 0L525 1059Q371 915 162 846L162 1101Q272 1137 401 1237.5Q530 1338 578 1472L806 1472Z" fill="#262626"/><text x="227.90" y="195.10" font-size="29.5" font-weight="bold" fill="#262626" font-family="Liberation Sans">0</text>
<text x="244.30" y="181.10" font-size="23" font-weight="bold" fill="#262626" font-family="Liberation Sans">7</text>
<path transform="translate(211.50,270.80) scale(0.01440,-0.01440)" d="M806 0L525 0L525 1059Q371 915 162 846L162 1101Q272 1137 401 1237.5Q530 1338 578 1472L806 1472Z" fill="#262626"/><text x="227.90" y="270.80" font-size="29.5" font-weight="bold" fill="#262626" font-family="Liberation Sans">0</text>
<text x="244.30" y="256.80" font-size="23" font-weight="bold" fill="#262626" font-family="Liberation Sans">5</text>
<path transform="translate(211.50,346.50) scale(0.01440,-0.01440)" d="M806 0L525 0L525 1059Q371 915 162 846L162 1101Q272 1137 401 1237.5Q530 1338 578 1472L806 1472Z" fill="#262626"/><text x="227.90" y="346.50" font-size="29.5" font-weight="bold" fill="#262626" font-family="Liberation Sans">0</text>
<text x="244.30" y="332.50" font-size="23" font-weight="bold" fill="#262626" font-family="Liberation Sans">3</text>

<!-- Gamma (s^-1) -->
<text class="ser" x="156.8" y="65.8" font-size="36">&#915;</text>
<text class="g" x="188.0" y="65.5">(s</text><text class="g" x="217.0" y="50.0" style="font-size:26.5px">-</text><path transform="translate(225.81,50.00) scale(0.01294,-0.01294)" d="M763 0L583 0L583 1147Q518 1085 412.5 1023Q307 961 223 930L223 1104Q374 1175 487 1276Q600 1377 647 1472L763 1472Z" fill="#262626"/><text class="g" x="242.5" y="65.5">)</text>

<!-- top panel tick labels -->
<g class="t" text-anchor="end">
<text x="120.5" y="74.8">-0.05</text>
<text x="120.5" y="211.8">0</text>
<text x="120.5" y="348.8">0.05</text>
</g>
<text x="109.67" y="443.00" font-size="35" font-weight="bold" fill="#262626" font-family="Liberation Sans">0.7</text>
<text x="229.57" y="443.00" font-size="35" font-weight="bold" fill="#262626" font-family="Liberation Sans">0.8</text>
<text x="349.38" y="443.00" font-size="35" font-weight="bold" fill="#262626" font-family="Liberation Sans">0.9</text>
<path transform="translate(483.87,443.00) scale(0.01709,-0.01709)" d="M806 0L525 0L525 1059Q371 915 162 846L162 1101Q272 1137 401 1237.5Q530 1338 578 1472L806 1472Z" fill="#262626"/>
<path transform="translate(589.07,443.00) scale(0.01709,-0.01709)" d="M806 0L525 0L525 1059Q371 915 162 846L162 1101Q272 1137 401 1237.5Q530 1338 578 1472L806 1472Z" fill="#262626"/><text x="608.53" y="443.00" font-size="35" font-weight="bold" fill="#262626" font-family="Liberation Sans">.</text><path transform="translate(618.26,443.00) scale(0.01709,-0.01709)" d="M806 0L525 0L525 1059Q371 915 162 846L162 1101Q272 1137 401 1237.5Q530 1338 578 1472L806 1472Z" fill="#262626"/>
<path transform="translate(708.97,443.00) scale(0.01709,-0.01709)" d="M806 0L525 0L525 1059Q371 915 162 846L162 1101Q272 1137 401 1237.5Q530 1338 578 1472L806 1472Z" fill="#262626"/><text x="728.43" y="443.00" font-size="35" font-weight="bold" fill="#262626" font-family="Liberation Sans">.2</text>
<path transform="translate(828.88,443.00) scale(0.01709,-0.01709)" d="M806 0L525 0L525 1059Q371 915 162 846L162 1101Q272 1137 401 1237.5Q530 1338 578 1472L806 1472Z" fill="#262626"/><text x="848.34" y="443.00" font-size="35" font-weight="bold" fill="#262626" font-family="Liberation Sans">.3</text>
<path transform="translate(948.67,443.00) scale(0.01709,-0.01709)" d="M806 0L525 0L525 1059Q371 915 162 846L162 1101Q272 1137 401 1237.5Q530 1338 578 1472L806 1472Z" fill="#262626"/><text x="968.13" y="443.00" font-size="35" font-weight="bold" fill="#262626" font-family="Liberation Sans">.4</text>

<!-- Vd (meV) rotated label -->
<g class="ser" font-weight="bold" font-size="42" transform="translate(32.8,286.9) rotate(-90)">
<text transform="translate(-1.8,0) scale(0.98,1)" font-style="italic">V</text>
<text transform="translate(25.5,6) scale(1.05,1)" font-style="italic" font-size="29">d</text>
<text transform="translate(57.6,0.5) scale(1.05,1.06)">(</text>
<text transform="translate(74.5,0) scale(0.9,0.9)">m</text>
<text transform="translate(107.4,0) scale(0.95,0.9)">e</text>
<text transform="translate(127.2,0)">V</text>
<text transform="translate(159.5,0.5) scale(1.05,1.06)">)</text>
</g>

<!-- B (T) labels -->
<g class="ser" font-size="39" stroke="#262626" stroke-width="0.45"><text transform="translate(498.2,485.2) scale(1.3,1)" font-style="italic">B</text><text transform="translate(548.0,485.2) scale(1,1.1)">(</text><text transform="translate(559.5,485.2) scale(1.3,1)" font-style="italic">T</text><text transform="translate(594.5,485.2) scale(1,1.1)">)</text></g>
<g class="ser" font-size="39" stroke="#262626" stroke-width="0.45"><text transform="translate(495.8,814) scale(1.3,1)" font-style="italic">B</text><text transform="translate(545.6,814) scale(1,1.1)">(</text><text transform="translate(557.1,814) scale(1.3,1)" font-style="italic">T</text><text transform="translate(592.1,814) scale(1,1.1)">)</text></g>

<!-- Bc approx 1.1 T -->
<g class="ser" font-weight="bold" font-size="34" style="fill:#0a0a0a">
<text transform="translate(626.5,379.5) scale(1.25,1)" font-style="italic">B</text>
<text transform="translate(655,385.5) scale(1.15,1)" font-style="italic" font-size="24">c</text>
<text transform="translate(680,378) scale(1.55,1.35)">&#8776;</text>
<text x="724.5" y="379.5" letter-spacing="3" stroke="#0a0a0a" stroke-width="0.5">1.1</text>
<text x="787.5" y="379.5" stroke="#0a0a0a" stroke-width="0.5">T</text>
</g>

<!-- lower plot -->
<g stroke="#303030" stroke-width="1.25" fill="none">
<rect x="133" y="498.7" width="838.4" height="225.8"/>
<path d="M252.8 724.5v-8.8M372.6 724.5v-8.8M492.4 724.5v-8.8M612.2 724.5v-8.8M732 724.5v-8.8M851.8 724.5v-8.8"/>
<path d="M252.8 498.7v8.8M372.6 498.7v8.8M492.4 498.7v8.8M612.2 498.7v8.8M732 498.7v8.8M851.8 498.7v8.8"/>
<path d="M133 589h8.8M133 679.3h8.8M971.4 589h-8.8M971.4 679.3h-8.8"/>
</g>
<polyline points="132.6,498.5 430.0,498.6 500.0,499.3 540.0,500.3 560.0,501.2 574.0,502.0 587.9,504.5 599.0,509.5 606.0,516.5 610.8,529.0 613.6,543.0 615.8,562.6 617.5,584.9 618.9,607.2 620.3,629.5 621.7,651.9 623.1,674.2 624.2,695.5 626.4,679.8 629.2,660.2 632.0,640.7 635.4,621.2 639.5,604.4 643.7,591.9 649.3,579.3 656.3,568.1 664.7,559.2 674.4,552.0 685.6,545.3 699.5,538.8 713.5,533.3 727.5,528.5 741.4,524.9 747.2,523.1 760.0,520.1 771.2,517.6 795.2,514.0 819.2,511.1 836.0,509.7 852.8,507.5 879.2,505.8 903.2,505.1 927.2,503.7 951.2,502.0 966.8,501.5 971.0,501.3" fill="none" stroke="#ff0000" stroke-width="7" stroke-dasharray="7.6 5" stroke-linejoin="round"/>
<g class="t" text-anchor="end">
<text x="120" y="512">0.5</text>
<text x="120" y="602">0.48</text>
<text x="120" y="692.5">0.46</text>
</g>
<text x="108.48" y="771.50" font-size="35" font-weight="bold" fill="#262626" font-family="Liberation Sans">0.7</text>
<text x="228.48" y="771.50" font-size="35" font-weight="bold" fill="#262626" font-family="Liberation Sans">0.8</text>
<text x="348.28" y="771.50" font-size="35" font-weight="bold" fill="#262626" font-family="Liberation Sans">0.9</text>
<path transform="translate(482.67,771.50) scale(0.01709,-0.01709)" d="M806 0L525 0L525 1059Q371 915 162 846L162 1101Q272 1137 401 1237.5Q530 1338 578 1472L806 1472Z" fill="#262626"/>
<path transform="translate(587.88,771.50) scale(0.01709,-0.01709)" d="M806 0L525 0L525 1059Q371 915 162 846L162 1101Q272 1137 401 1237.5Q530 1338 578 1472L806 1472Z" fill="#262626"/><text x="607.34" y="771.50" font-size="35" font-weight="bold" fill="#262626" font-family="Liberation Sans">.</text><path transform="translate(617.07,771.50) scale(0.01709,-0.01709)" d="M806 0L525 0L525 1059Q371 915 162 846L162 1101Q272 1137 401 1237.5Q530 1338 578 1472L806 1472Z" fill="#262626"/>
<path transform="translate(707.67,771.50) scale(0.01709,-0.01709)" d="M806 0L525 0L525 1059Q371 915 162 846L162 1101Q272 1137 401 1237.5Q530 1338 578 1472L806 1472Z" fill="#262626"/><text x="727.13" y="771.50" font-size="35" font-weight="bold" fill="#262626" font-family="Liberation Sans">.2</text>
<path transform="translate(827.47,771.50) scale(0.01709,-0.01709)" d="M806 0L525 0L525 1059Q371 915 162 846L162 1101Q272 1137 401 1237.5Q530 1338 578 1472L806 1472Z" fill="#262626"/><text x="846.93" y="771.50" font-size="35" font-weight="bold" fill="#262626" font-family="Liberation Sans">.3</text>
<path transform="translate(947.67,771.50) scale(0.01709,-0.01709)" d="M806 0L525 0L525 1059Q371 915 162 846L162 1101Q272 1137 401 1237.5Q530 1338 578 1472L806 1472Z" fill="#262626"/><text x="967.13" y="771.50" font-size="35" font-weight="bold" fill="#262626" font-family="Liberation Sans">.4</text>
<!-- |rho12| -->
<g class="ser" transform="translate(33.2,646.4) rotate(-90)">
<rect x="0" y="-29" width="1.6" height="38" fill="#262626"/>
<rect x="69.6" y="-29" width="1.6" height="38" fill="#262626"/>
<text transform="translate(7.5,0) scale(1.12,1)" font-style="italic" font-size="40">&#961;</text>
<text x="32.5" y="5.6" font-size="26" letter-spacing="1.3">12</text>
</g>
</svg>
</body>
</html>
